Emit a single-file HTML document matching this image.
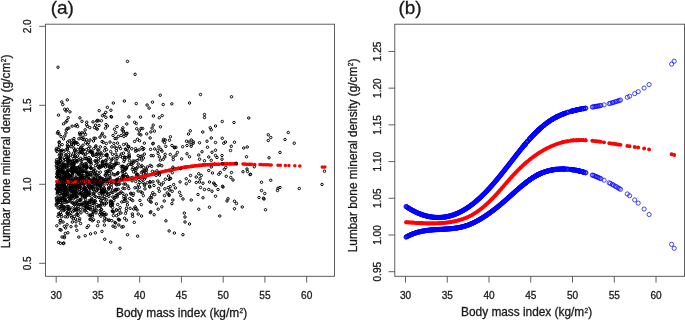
<!DOCTYPE html>
<html><head><meta charset="utf-8"><title>Figure</title>
<style>
html,body{margin:0;padding:0;background:#fff;}
body{width:685px;height:320px;position:relative;overflow:hidden;font-family:"Liberation Sans",sans-serif;}
</style></head><body>
<svg width="685" height="320" viewBox="0 0 685 320" style="position:absolute;left:0;top:0;will-change:transform;opacity:0.999">
<rect width="685" height="320" fill="#fff"/>
<clipPath id="ca"><rect x="45.5" y="24.2" width="289.0" height="252.10000000000002"/></clipPath>
<g clip-path="url(#ca)">
<path d="M55.66 151.48a1.22 1.22 0 1 0 2.44 0a1.22 1.22 0 1 0 -2.44 0M171.98 157.10a1.22 1.22 0 1 0 2.44 0a1.22 1.22 0 1 0 -2.44 0M76.55 184.86a1.22 1.22 0 1 0 2.44 0a1.22 1.22 0 1 0 -2.44 0M87.06 192.81a1.22 1.22 0 1 0 2.44 0a1.22 1.22 0 1 0 -2.44 0M63.06 173.18a1.22 1.22 0 1 0 2.44 0a1.22 1.22 0 1 0 -2.44 0M97.97 193.65a1.22 1.22 0 1 0 2.44 0a1.22 1.22 0 1 0 -2.44 0M85.06 171.98a1.22 1.22 0 1 0 2.44 0a1.22 1.22 0 1 0 -2.44 0M124.76 135.20a1.22 1.22 0 1 0 2.44 0a1.22 1.22 0 1 0 -2.44 0M107.02 181.51a1.22 1.22 0 1 0 2.44 0a1.22 1.22 0 1 0 -2.44 0M109.21 202.40a1.22 1.22 0 1 0 2.44 0a1.22 1.22 0 1 0 -2.44 0M83.88 210.14a1.22 1.22 0 1 0 2.44 0a1.22 1.22 0 1 0 -2.44 0M56.45 175.39a1.22 1.22 0 1 0 2.44 0a1.22 1.22 0 1 0 -2.44 0M94.99 154.35a1.22 1.22 0 1 0 2.44 0a1.22 1.22 0 1 0 -2.44 0M87.46 207.98a1.22 1.22 0 1 0 2.44 0a1.22 1.22 0 1 0 -2.44 0M120.58 201.94a1.22 1.22 0 1 0 2.44 0a1.22 1.22 0 1 0 -2.44 0M115.52 163.57a1.22 1.22 0 1 0 2.44 0a1.22 1.22 0 1 0 -2.44 0M95.09 197.06a1.22 1.22 0 1 0 2.44 0a1.22 1.22 0 1 0 -2.44 0M75.09 169.80a1.22 1.22 0 1 0 2.44 0a1.22 1.22 0 1 0 -2.44 0M59.27 160.16a1.22 1.22 0 1 0 2.44 0a1.22 1.22 0 1 0 -2.44 0M56.95 207.86a1.22 1.22 0 1 0 2.44 0a1.22 1.22 0 1 0 -2.44 0M124.34 198.42a1.22 1.22 0 1 0 2.44 0a1.22 1.22 0 1 0 -2.44 0M94.83 156.52a1.22 1.22 0 1 0 2.44 0a1.22 1.22 0 1 0 -2.44 0M135.48 128.77a1.22 1.22 0 1 0 2.44 0a1.22 1.22 0 1 0 -2.44 0M75.68 160.66a1.22 1.22 0 1 0 2.44 0a1.22 1.22 0 1 0 -2.44 0M58.70 188.20a1.22 1.22 0 1 0 2.44 0a1.22 1.22 0 1 0 -2.44 0M103.01 165.45a1.22 1.22 0 1 0 2.44 0a1.22 1.22 0 1 0 -2.44 0M136.97 155.60a1.22 1.22 0 1 0 2.44 0a1.22 1.22 0 1 0 -2.44 0M56.53 192.68a1.22 1.22 0 1 0 2.44 0a1.22 1.22 0 1 0 -2.44 0M77.58 237.08a1.22 1.22 0 1 0 2.44 0a1.22 1.22 0 1 0 -2.44 0M118.77 193.22a1.22 1.22 0 1 0 2.44 0a1.22 1.22 0 1 0 -2.44 0M123.14 101.00a1.22 1.22 0 1 0 2.44 0a1.22 1.22 0 1 0 -2.44 0M77.05 206.17a1.22 1.22 0 1 0 2.44 0a1.22 1.22 0 1 0 -2.44 0M63.66 173.40a1.22 1.22 0 1 0 2.44 0a1.22 1.22 0 1 0 -2.44 0M135.19 175.16a1.22 1.22 0 1 0 2.44 0a1.22 1.22 0 1 0 -2.44 0M125.22 133.47a1.22 1.22 0 1 0 2.44 0a1.22 1.22 0 1 0 -2.44 0M121.76 176.14a1.22 1.22 0 1 0 2.44 0a1.22 1.22 0 1 0 -2.44 0M69.91 215.55a1.22 1.22 0 1 0 2.44 0a1.22 1.22 0 1 0 -2.44 0M55.45 176.97a1.22 1.22 0 1 0 2.44 0a1.22 1.22 0 1 0 -2.44 0M74.11 177.98a1.22 1.22 0 1 0 2.44 0a1.22 1.22 0 1 0 -2.44 0M66.66 176.70a1.22 1.22 0 1 0 2.44 0a1.22 1.22 0 1 0 -2.44 0M60.26 208.50a1.22 1.22 0 1 0 2.44 0a1.22 1.22 0 1 0 -2.44 0M58.45 198.74a1.22 1.22 0 1 0 2.44 0a1.22 1.22 0 1 0 -2.44 0M64.02 186.68a1.22 1.22 0 1 0 2.44 0a1.22 1.22 0 1 0 -2.44 0M66.48 209.36a1.22 1.22 0 1 0 2.44 0a1.22 1.22 0 1 0 -2.44 0M113.54 164.00a1.22 1.22 0 1 0 2.44 0a1.22 1.22 0 1 0 -2.44 0M83.94 188.82a1.22 1.22 0 1 0 2.44 0a1.22 1.22 0 1 0 -2.44 0M59.00 160.15a1.22 1.22 0 1 0 2.44 0a1.22 1.22 0 1 0 -2.44 0M65.20 201.87a1.22 1.22 0 1 0 2.44 0a1.22 1.22 0 1 0 -2.44 0M71.19 161.17a1.22 1.22 0 1 0 2.44 0a1.22 1.22 0 1 0 -2.44 0M58.82 200.43a1.22 1.22 0 1 0 2.44 0a1.22 1.22 0 1 0 -2.44 0M70.54 144.33a1.22 1.22 0 1 0 2.44 0a1.22 1.22 0 1 0 -2.44 0M57.47 213.63a1.22 1.22 0 1 0 2.44 0a1.22 1.22 0 1 0 -2.44 0M74.71 194.77a1.22 1.22 0 1 0 2.44 0a1.22 1.22 0 1 0 -2.44 0M103.73 190.94a1.22 1.22 0 1 0 2.44 0a1.22 1.22 0 1 0 -2.44 0M152.95 214.72a1.22 1.22 0 1 0 2.44 0a1.22 1.22 0 1 0 -2.44 0M67.79 161.16a1.22 1.22 0 1 0 2.44 0a1.22 1.22 0 1 0 -2.44 0M107.19 194.39a1.22 1.22 0 1 0 2.44 0a1.22 1.22 0 1 0 -2.44 0M104.82 124.52a1.22 1.22 0 1 0 2.44 0a1.22 1.22 0 1 0 -2.44 0M94.66 182.54a1.22 1.22 0 1 0 2.44 0a1.22 1.22 0 1 0 -2.44 0M75.07 178.45a1.22 1.22 0 1 0 2.44 0a1.22 1.22 0 1 0 -2.44 0M113.27 129.22a1.22 1.22 0 1 0 2.44 0a1.22 1.22 0 1 0 -2.44 0M127.52 146.74a1.22 1.22 0 1 0 2.44 0a1.22 1.22 0 1 0 -2.44 0M100.39 209.55a1.22 1.22 0 1 0 2.44 0a1.22 1.22 0 1 0 -2.44 0M97.06 161.22a1.22 1.22 0 1 0 2.44 0a1.22 1.22 0 1 0 -2.44 0M140.65 160.09a1.22 1.22 0 1 0 2.44 0a1.22 1.22 0 1 0 -2.44 0M92.98 193.27a1.22 1.22 0 1 0 2.44 0a1.22 1.22 0 1 0 -2.44 0M136.21 139.23a1.22 1.22 0 1 0 2.44 0a1.22 1.22 0 1 0 -2.44 0M114.48 191.00a1.22 1.22 0 1 0 2.44 0a1.22 1.22 0 1 0 -2.44 0M62.54 172.66a1.22 1.22 0 1 0 2.44 0a1.22 1.22 0 1 0 -2.44 0M83.79 189.01a1.22 1.22 0 1 0 2.44 0a1.22 1.22 0 1 0 -2.44 0M107.67 171.55a1.22 1.22 0 1 0 2.44 0a1.22 1.22 0 1 0 -2.44 0M181.69 234.71a1.22 1.22 0 1 0 2.44 0a1.22 1.22 0 1 0 -2.44 0M67.13 179.01a1.22 1.22 0 1 0 2.44 0a1.22 1.22 0 1 0 -2.44 0M63.63 135.90a1.22 1.22 0 1 0 2.44 0a1.22 1.22 0 1 0 -2.44 0M82.59 194.17a1.22 1.22 0 1 0 2.44 0a1.22 1.22 0 1 0 -2.44 0M57.81 142.52a1.22 1.22 0 1 0 2.44 0a1.22 1.22 0 1 0 -2.44 0M64.42 227.95a1.22 1.22 0 1 0 2.44 0a1.22 1.22 0 1 0 -2.44 0M100.15 178.06a1.22 1.22 0 1 0 2.44 0a1.22 1.22 0 1 0 -2.44 0M106.26 165.70a1.22 1.22 0 1 0 2.44 0a1.22 1.22 0 1 0 -2.44 0M140.81 156.00a1.22 1.22 0 1 0 2.44 0a1.22 1.22 0 1 0 -2.44 0M65.16 167.29a1.22 1.22 0 1 0 2.44 0a1.22 1.22 0 1 0 -2.44 0M152.75 185.51a1.22 1.22 0 1 0 2.44 0a1.22 1.22 0 1 0 -2.44 0M68.19 183.67a1.22 1.22 0 1 0 2.44 0a1.22 1.22 0 1 0 -2.44 0M76.99 212.27a1.22 1.22 0 1 0 2.44 0a1.22 1.22 0 1 0 -2.44 0M62.41 165.79a1.22 1.22 0 1 0 2.44 0a1.22 1.22 0 1 0 -2.44 0M141.73 149.52a1.22 1.22 0 1 0 2.44 0a1.22 1.22 0 1 0 -2.44 0M94.36 177.97a1.22 1.22 0 1 0 2.44 0a1.22 1.22 0 1 0 -2.44 0M80.46 183.57a1.22 1.22 0 1 0 2.44 0a1.22 1.22 0 1 0 -2.44 0M84.28 178.34a1.22 1.22 0 1 0 2.44 0a1.22 1.22 0 1 0 -2.44 0M102.69 179.93a1.22 1.22 0 1 0 2.44 0a1.22 1.22 0 1 0 -2.44 0M56.39 187.06a1.22 1.22 0 1 0 2.44 0a1.22 1.22 0 1 0 -2.44 0M125.06 210.71a1.22 1.22 0 1 0 2.44 0a1.22 1.22 0 1 0 -2.44 0M81.59 139.30a1.22 1.22 0 1 0 2.44 0a1.22 1.22 0 1 0 -2.44 0M163.24 195.60a1.22 1.22 0 1 0 2.44 0a1.22 1.22 0 1 0 -2.44 0M90.23 180.65a1.22 1.22 0 1 0 2.44 0a1.22 1.22 0 1 0 -2.44 0M75.84 209.51a1.22 1.22 0 1 0 2.44 0a1.22 1.22 0 1 0 -2.44 0M97.55 183.14a1.22 1.22 0 1 0 2.44 0a1.22 1.22 0 1 0 -2.44 0M108.81 142.09a1.22 1.22 0 1 0 2.44 0a1.22 1.22 0 1 0 -2.44 0M62.14 190.30a1.22 1.22 0 1 0 2.44 0a1.22 1.22 0 1 0 -2.44 0M115.22 209.78a1.22 1.22 0 1 0 2.44 0a1.22 1.22 0 1 0 -2.44 0M70.73 193.73a1.22 1.22 0 1 0 2.44 0a1.22 1.22 0 1 0 -2.44 0M85.31 204.70a1.22 1.22 0 1 0 2.44 0a1.22 1.22 0 1 0 -2.44 0M121.63 127.84a1.22 1.22 0 1 0 2.44 0a1.22 1.22 0 1 0 -2.44 0M59.98 167.21a1.22 1.22 0 1 0 2.44 0a1.22 1.22 0 1 0 -2.44 0M69.33 178.54a1.22 1.22 0 1 0 2.44 0a1.22 1.22 0 1 0 -2.44 0M124.77 177.25a1.22 1.22 0 1 0 2.44 0a1.22 1.22 0 1 0 -2.44 0M88.57 127.59a1.22 1.22 0 1 0 2.44 0a1.22 1.22 0 1 0 -2.44 0M64.73 189.76a1.22 1.22 0 1 0 2.44 0a1.22 1.22 0 1 0 -2.44 0M71.31 172.57a1.22 1.22 0 1 0 2.44 0a1.22 1.22 0 1 0 -2.44 0M112.53 200.65a1.22 1.22 0 1 0 2.44 0a1.22 1.22 0 1 0 -2.44 0M56.21 133.16a1.22 1.22 0 1 0 2.44 0a1.22 1.22 0 1 0 -2.44 0M78.91 134.92a1.22 1.22 0 1 0 2.44 0a1.22 1.22 0 1 0 -2.44 0M87.24 142.61a1.22 1.22 0 1 0 2.44 0a1.22 1.22 0 1 0 -2.44 0M134.43 181.49a1.22 1.22 0 1 0 2.44 0a1.22 1.22 0 1 0 -2.44 0M101.27 115.62a1.22 1.22 0 1 0 2.44 0a1.22 1.22 0 1 0 -2.44 0M143.15 143.14a1.22 1.22 0 1 0 2.44 0a1.22 1.22 0 1 0 -2.44 0M84.84 167.80a1.22 1.22 0 1 0 2.44 0a1.22 1.22 0 1 0 -2.44 0M167.05 187.58a1.22 1.22 0 1 0 2.44 0a1.22 1.22 0 1 0 -2.44 0M71.36 160.99a1.22 1.22 0 1 0 2.44 0a1.22 1.22 0 1 0 -2.44 0M78.58 174.29a1.22 1.22 0 1 0 2.44 0a1.22 1.22 0 1 0 -2.44 0M96.12 129.16a1.22 1.22 0 1 0 2.44 0a1.22 1.22 0 1 0 -2.44 0M132.34 171.76a1.22 1.22 0 1 0 2.44 0a1.22 1.22 0 1 0 -2.44 0M60.88 172.38a1.22 1.22 0 1 0 2.44 0a1.22 1.22 0 1 0 -2.44 0M88.50 202.53a1.22 1.22 0 1 0 2.44 0a1.22 1.22 0 1 0 -2.44 0M89.44 160.59a1.22 1.22 0 1 0 2.44 0a1.22 1.22 0 1 0 -2.44 0M59.32 160.73a1.22 1.22 0 1 0 2.44 0a1.22 1.22 0 1 0 -2.44 0M65.16 197.44a1.22 1.22 0 1 0 2.44 0a1.22 1.22 0 1 0 -2.44 0M56.88 131.75a1.22 1.22 0 1 0 2.44 0a1.22 1.22 0 1 0 -2.44 0M132.30 193.47a1.22 1.22 0 1 0 2.44 0a1.22 1.22 0 1 0 -2.44 0M93.75 160.93a1.22 1.22 0 1 0 2.44 0a1.22 1.22 0 1 0 -2.44 0M67.03 209.04a1.22 1.22 0 1 0 2.44 0a1.22 1.22 0 1 0 -2.44 0M73.36 189.15a1.22 1.22 0 1 0 2.44 0a1.22 1.22 0 1 0 -2.44 0M143.13 179.20a1.22 1.22 0 1 0 2.44 0a1.22 1.22 0 1 0 -2.44 0M104.65 117.33a1.22 1.22 0 1 0 2.44 0a1.22 1.22 0 1 0 -2.44 0M92.27 189.52a1.22 1.22 0 1 0 2.44 0a1.22 1.22 0 1 0 -2.44 0M111.01 204.71a1.22 1.22 0 1 0 2.44 0a1.22 1.22 0 1 0 -2.44 0M96.75 166.61a1.22 1.22 0 1 0 2.44 0a1.22 1.22 0 1 0 -2.44 0M81.76 145.22a1.22 1.22 0 1 0 2.44 0a1.22 1.22 0 1 0 -2.44 0M62.63 179.14a1.22 1.22 0 1 0 2.44 0a1.22 1.22 0 1 0 -2.44 0M105.84 193.02a1.22 1.22 0 1 0 2.44 0a1.22 1.22 0 1 0 -2.44 0M111.13 210.92a1.22 1.22 0 1 0 2.44 0a1.22 1.22 0 1 0 -2.44 0M57.85 147.22a1.22 1.22 0 1 0 2.44 0a1.22 1.22 0 1 0 -2.44 0M73.99 185.43a1.22 1.22 0 1 0 2.44 0a1.22 1.22 0 1 0 -2.44 0M77.52 187.30a1.22 1.22 0 1 0 2.44 0a1.22 1.22 0 1 0 -2.44 0M141.08 192.79a1.22 1.22 0 1 0 2.44 0a1.22 1.22 0 1 0 -2.44 0M82.40 166.20a1.22 1.22 0 1 0 2.44 0a1.22 1.22 0 1 0 -2.44 0M132.45 209.03a1.22 1.22 0 1 0 2.44 0a1.22 1.22 0 1 0 -2.44 0M68.73 189.90a1.22 1.22 0 1 0 2.44 0a1.22 1.22 0 1 0 -2.44 0M74.51 179.95a1.22 1.22 0 1 0 2.44 0a1.22 1.22 0 1 0 -2.44 0M116.63 180.97a1.22 1.22 0 1 0 2.44 0a1.22 1.22 0 1 0 -2.44 0M71.02 174.06a1.22 1.22 0 1 0 2.44 0a1.22 1.22 0 1 0 -2.44 0M94.13 232.84a1.22 1.22 0 1 0 2.44 0a1.22 1.22 0 1 0 -2.44 0M74.27 142.53a1.22 1.22 0 1 0 2.44 0a1.22 1.22 0 1 0 -2.44 0M62.23 167.43a1.22 1.22 0 1 0 2.44 0a1.22 1.22 0 1 0 -2.44 0M80.19 151.49a1.22 1.22 0 1 0 2.44 0a1.22 1.22 0 1 0 -2.44 0M73.61 171.08a1.22 1.22 0 1 0 2.44 0a1.22 1.22 0 1 0 -2.44 0M83.13 139.68a1.22 1.22 0 1 0 2.44 0a1.22 1.22 0 1 0 -2.44 0M58.94 191.57a1.22 1.22 0 1 0 2.44 0a1.22 1.22 0 1 0 -2.44 0M103.89 175.09a1.22 1.22 0 1 0 2.44 0a1.22 1.22 0 1 0 -2.44 0M128.50 198.53a1.22 1.22 0 1 0 2.44 0a1.22 1.22 0 1 0 -2.44 0M63.02 199.09a1.22 1.22 0 1 0 2.44 0a1.22 1.22 0 1 0 -2.44 0M59.28 167.30a1.22 1.22 0 1 0 2.44 0a1.22 1.22 0 1 0 -2.44 0M120.90 172.05a1.22 1.22 0 1 0 2.44 0a1.22 1.22 0 1 0 -2.44 0M79.62 152.03a1.22 1.22 0 1 0 2.44 0a1.22 1.22 0 1 0 -2.44 0M63.80 164.88a1.22 1.22 0 1 0 2.44 0a1.22 1.22 0 1 0 -2.44 0M147.34 199.82a1.22 1.22 0 1 0 2.44 0a1.22 1.22 0 1 0 -2.44 0M87.87 202.14a1.22 1.22 0 1 0 2.44 0a1.22 1.22 0 1 0 -2.44 0M181.80 199.00a1.22 1.22 0 1 0 2.44 0a1.22 1.22 0 1 0 -2.44 0M114.52 183.35a1.22 1.22 0 1 0 2.44 0a1.22 1.22 0 1 0 -2.44 0M137.85 133.99a1.22 1.22 0 1 0 2.44 0a1.22 1.22 0 1 0 -2.44 0M135.02 123.53a1.22 1.22 0 1 0 2.44 0a1.22 1.22 0 1 0 -2.44 0M124.96 174.44a1.22 1.22 0 1 0 2.44 0a1.22 1.22 0 1 0 -2.44 0M107.12 157.96a1.22 1.22 0 1 0 2.44 0a1.22 1.22 0 1 0 -2.44 0M60.85 236.98a1.22 1.22 0 1 0 2.44 0a1.22 1.22 0 1 0 -2.44 0M62.92 195.43a1.22 1.22 0 1 0 2.44 0a1.22 1.22 0 1 0 -2.44 0M88.89 181.37a1.22 1.22 0 1 0 2.44 0a1.22 1.22 0 1 0 -2.44 0M138.16 187.20a1.22 1.22 0 1 0 2.44 0a1.22 1.22 0 1 0 -2.44 0M62.73 160.57a1.22 1.22 0 1 0 2.44 0a1.22 1.22 0 1 0 -2.44 0M59.38 189.97a1.22 1.22 0 1 0 2.44 0a1.22 1.22 0 1 0 -2.44 0M63.11 226.37a1.22 1.22 0 1 0 2.44 0a1.22 1.22 0 1 0 -2.44 0M143.73 188.87a1.22 1.22 0 1 0 2.44 0a1.22 1.22 0 1 0 -2.44 0M146.10 182.76a1.22 1.22 0 1 0 2.44 0a1.22 1.22 0 1 0 -2.44 0M116.87 194.03a1.22 1.22 0 1 0 2.44 0a1.22 1.22 0 1 0 -2.44 0M108.77 177.70a1.22 1.22 0 1 0 2.44 0a1.22 1.22 0 1 0 -2.44 0M115.20 150.74a1.22 1.22 0 1 0 2.44 0a1.22 1.22 0 1 0 -2.44 0M63.16 207.32a1.22 1.22 0 1 0 2.44 0a1.22 1.22 0 1 0 -2.44 0M126.35 234.69a1.22 1.22 0 1 0 2.44 0a1.22 1.22 0 1 0 -2.44 0M62.23 194.30a1.22 1.22 0 1 0 2.44 0a1.22 1.22 0 1 0 -2.44 0M91.77 177.03a1.22 1.22 0 1 0 2.44 0a1.22 1.22 0 1 0 -2.44 0M89.23 201.02a1.22 1.22 0 1 0 2.44 0a1.22 1.22 0 1 0 -2.44 0M117.62 225.01a1.22 1.22 0 1 0 2.44 0a1.22 1.22 0 1 0 -2.44 0M58.21 171.41a1.22 1.22 0 1 0 2.44 0a1.22 1.22 0 1 0 -2.44 0M88.47 161.48a1.22 1.22 0 1 0 2.44 0a1.22 1.22 0 1 0 -2.44 0M121.43 175.70a1.22 1.22 0 1 0 2.44 0a1.22 1.22 0 1 0 -2.44 0M72.53 168.70a1.22 1.22 0 1 0 2.44 0a1.22 1.22 0 1 0 -2.44 0M73.27 181.77a1.22 1.22 0 1 0 2.44 0a1.22 1.22 0 1 0 -2.44 0M115.16 184.09a1.22 1.22 0 1 0 2.44 0a1.22 1.22 0 1 0 -2.44 0M70.45 162.64a1.22 1.22 0 1 0 2.44 0a1.22 1.22 0 1 0 -2.44 0M72.41 189.25a1.22 1.22 0 1 0 2.44 0a1.22 1.22 0 1 0 -2.44 0M80.71 132.78a1.22 1.22 0 1 0 2.44 0a1.22 1.22 0 1 0 -2.44 0M55.98 194.08a1.22 1.22 0 1 0 2.44 0a1.22 1.22 0 1 0 -2.44 0M74.17 167.92a1.22 1.22 0 1 0 2.44 0a1.22 1.22 0 1 0 -2.44 0M73.28 184.67a1.22 1.22 0 1 0 2.44 0a1.22 1.22 0 1 0 -2.44 0M83.32 177.47a1.22 1.22 0 1 0 2.44 0a1.22 1.22 0 1 0 -2.44 0M107.51 220.44a1.22 1.22 0 1 0 2.44 0a1.22 1.22 0 1 0 -2.44 0M99.85 152.85a1.22 1.22 0 1 0 2.44 0a1.22 1.22 0 1 0 -2.44 0M56.46 173.67a1.22 1.22 0 1 0 2.44 0a1.22 1.22 0 1 0 -2.44 0M75.27 187.36a1.22 1.22 0 1 0 2.44 0a1.22 1.22 0 1 0 -2.44 0M73.11 193.25a1.22 1.22 0 1 0 2.44 0a1.22 1.22 0 1 0 -2.44 0M79.70 193.40a1.22 1.22 0 1 0 2.44 0a1.22 1.22 0 1 0 -2.44 0M78.76 193.17a1.22 1.22 0 1 0 2.44 0a1.22 1.22 0 1 0 -2.44 0M134.48 170.45a1.22 1.22 0 1 0 2.44 0a1.22 1.22 0 1 0 -2.44 0M85.77 182.14a1.22 1.22 0 1 0 2.44 0a1.22 1.22 0 1 0 -2.44 0M57.38 242.36a1.22 1.22 0 1 0 2.44 0a1.22 1.22 0 1 0 -2.44 0M86.47 172.07a1.22 1.22 0 1 0 2.44 0a1.22 1.22 0 1 0 -2.44 0M91.57 205.48a1.22 1.22 0 1 0 2.44 0a1.22 1.22 0 1 0 -2.44 0M108.90 163.70a1.22 1.22 0 1 0 2.44 0a1.22 1.22 0 1 0 -2.44 0M58.20 172.91a1.22 1.22 0 1 0 2.44 0a1.22 1.22 0 1 0 -2.44 0M161.98 141.09a1.22 1.22 0 1 0 2.44 0a1.22 1.22 0 1 0 -2.44 0M80.61 204.93a1.22 1.22 0 1 0 2.44 0a1.22 1.22 0 1 0 -2.44 0M69.15 176.33a1.22 1.22 0 1 0 2.44 0a1.22 1.22 0 1 0 -2.44 0M65.35 195.04a1.22 1.22 0 1 0 2.44 0a1.22 1.22 0 1 0 -2.44 0M61.53 198.55a1.22 1.22 0 1 0 2.44 0a1.22 1.22 0 1 0 -2.44 0M58.00 155.16a1.22 1.22 0 1 0 2.44 0a1.22 1.22 0 1 0 -2.44 0M110.36 117.02a1.22 1.22 0 1 0 2.44 0a1.22 1.22 0 1 0 -2.44 0M127.64 116.83a1.22 1.22 0 1 0 2.44 0a1.22 1.22 0 1 0 -2.44 0M78.20 181.73a1.22 1.22 0 1 0 2.44 0a1.22 1.22 0 1 0 -2.44 0M93.15 173.74a1.22 1.22 0 1 0 2.44 0a1.22 1.22 0 1 0 -2.44 0M108.76 193.41a1.22 1.22 0 1 0 2.44 0a1.22 1.22 0 1 0 -2.44 0M89.35 233.89a1.22 1.22 0 1 0 2.44 0a1.22 1.22 0 1 0 -2.44 0M113.10 165.47a1.22 1.22 0 1 0 2.44 0a1.22 1.22 0 1 0 -2.44 0M103.85 147.53a1.22 1.22 0 1 0 2.44 0a1.22 1.22 0 1 0 -2.44 0M80.97 159.76a1.22 1.22 0 1 0 2.44 0a1.22 1.22 0 1 0 -2.44 0M99.49 206.42a1.22 1.22 0 1 0 2.44 0a1.22 1.22 0 1 0 -2.44 0M101.21 133.43a1.22 1.22 0 1 0 2.44 0a1.22 1.22 0 1 0 -2.44 0M111.33 154.29a1.22 1.22 0 1 0 2.44 0a1.22 1.22 0 1 0 -2.44 0M114.19 189.48a1.22 1.22 0 1 0 2.44 0a1.22 1.22 0 1 0 -2.44 0M98.75 137.13a1.22 1.22 0 1 0 2.44 0a1.22 1.22 0 1 0 -2.44 0M56.33 190.62a1.22 1.22 0 1 0 2.44 0a1.22 1.22 0 1 0 -2.44 0M73.01 162.59a1.22 1.22 0 1 0 2.44 0a1.22 1.22 0 1 0 -2.44 0M86.03 192.34a1.22 1.22 0 1 0 2.44 0a1.22 1.22 0 1 0 -2.44 0M149.64 131.95a1.22 1.22 0 1 0 2.44 0a1.22 1.22 0 1 0 -2.44 0M70.75 168.07a1.22 1.22 0 1 0 2.44 0a1.22 1.22 0 1 0 -2.44 0M56.60 182.64a1.22 1.22 0 1 0 2.44 0a1.22 1.22 0 1 0 -2.44 0M59.84 150.65a1.22 1.22 0 1 0 2.44 0a1.22 1.22 0 1 0 -2.44 0M95.12 206.98a1.22 1.22 0 1 0 2.44 0a1.22 1.22 0 1 0 -2.44 0M90.11 180.05a1.22 1.22 0 1 0 2.44 0a1.22 1.22 0 1 0 -2.44 0M97.58 167.85a1.22 1.22 0 1 0 2.44 0a1.22 1.22 0 1 0 -2.44 0M144.84 169.14a1.22 1.22 0 1 0 2.44 0a1.22 1.22 0 1 0 -2.44 0M57.82 133.92a1.22 1.22 0 1 0 2.44 0a1.22 1.22 0 1 0 -2.44 0M94.23 165.64a1.22 1.22 0 1 0 2.44 0a1.22 1.22 0 1 0 -2.44 0M89.97 180.69a1.22 1.22 0 1 0 2.44 0a1.22 1.22 0 1 0 -2.44 0M113.79 138.52a1.22 1.22 0 1 0 2.44 0a1.22 1.22 0 1 0 -2.44 0M142.26 167.41a1.22 1.22 0 1 0 2.44 0a1.22 1.22 0 1 0 -2.44 0M156.96 209.19a1.22 1.22 0 1 0 2.44 0a1.22 1.22 0 1 0 -2.44 0M142.30 173.88a1.22 1.22 0 1 0 2.44 0a1.22 1.22 0 1 0 -2.44 0M124.30 213.41a1.22 1.22 0 1 0 2.44 0a1.22 1.22 0 1 0 -2.44 0M124.21 148.95a1.22 1.22 0 1 0 2.44 0a1.22 1.22 0 1 0 -2.44 0M66.29 160.66a1.22 1.22 0 1 0 2.44 0a1.22 1.22 0 1 0 -2.44 0M60.02 171.74a1.22 1.22 0 1 0 2.44 0a1.22 1.22 0 1 0 -2.44 0M125.86 133.38a1.22 1.22 0 1 0 2.44 0a1.22 1.22 0 1 0 -2.44 0M167.77 194.66a1.22 1.22 0 1 0 2.44 0a1.22 1.22 0 1 0 -2.44 0M117.28 214.18a1.22 1.22 0 1 0 2.44 0a1.22 1.22 0 1 0 -2.44 0M57.36 189.53a1.22 1.22 0 1 0 2.44 0a1.22 1.22 0 1 0 -2.44 0M150.00 202.13a1.22 1.22 0 1 0 2.44 0a1.22 1.22 0 1 0 -2.44 0M64.06 202.57a1.22 1.22 0 1 0 2.44 0a1.22 1.22 0 1 0 -2.44 0M103.42 218.33a1.22 1.22 0 1 0 2.44 0a1.22 1.22 0 1 0 -2.44 0M105.07 164.71a1.22 1.22 0 1 0 2.44 0a1.22 1.22 0 1 0 -2.44 0M87.69 161.66a1.22 1.22 0 1 0 2.44 0a1.22 1.22 0 1 0 -2.44 0M169.40 178.31a1.22 1.22 0 1 0 2.44 0a1.22 1.22 0 1 0 -2.44 0M157.35 188.36a1.22 1.22 0 1 0 2.44 0a1.22 1.22 0 1 0 -2.44 0M100.00 166.89a1.22 1.22 0 1 0 2.44 0a1.22 1.22 0 1 0 -2.44 0M97.19 206.40a1.22 1.22 0 1 0 2.44 0a1.22 1.22 0 1 0 -2.44 0M58.33 164.63a1.22 1.22 0 1 0 2.44 0a1.22 1.22 0 1 0 -2.44 0M103.86 214.79a1.22 1.22 0 1 0 2.44 0a1.22 1.22 0 1 0 -2.44 0M75.14 196.69a1.22 1.22 0 1 0 2.44 0a1.22 1.22 0 1 0 -2.44 0M113.41 182.75a1.22 1.22 0 1 0 2.44 0a1.22 1.22 0 1 0 -2.44 0M61.53 175.73a1.22 1.22 0 1 0 2.44 0a1.22 1.22 0 1 0 -2.44 0M61.50 171.86a1.22 1.22 0 1 0 2.44 0a1.22 1.22 0 1 0 -2.44 0M72.85 190.78a1.22 1.22 0 1 0 2.44 0a1.22 1.22 0 1 0 -2.44 0M72.10 202.32a1.22 1.22 0 1 0 2.44 0a1.22 1.22 0 1 0 -2.44 0M60.24 155.39a1.22 1.22 0 1 0 2.44 0a1.22 1.22 0 1 0 -2.44 0M92.08 187.95a1.22 1.22 0 1 0 2.44 0a1.22 1.22 0 1 0 -2.44 0M63.85 199.41a1.22 1.22 0 1 0 2.44 0a1.22 1.22 0 1 0 -2.44 0M80.74 163.67a1.22 1.22 0 1 0 2.44 0a1.22 1.22 0 1 0 -2.44 0M95.14 128.49a1.22 1.22 0 1 0 2.44 0a1.22 1.22 0 1 0 -2.44 0M70.96 171.51a1.22 1.22 0 1 0 2.44 0a1.22 1.22 0 1 0 -2.44 0M72.81 158.47a1.22 1.22 0 1 0 2.44 0a1.22 1.22 0 1 0 -2.44 0M75.82 214.71a1.22 1.22 0 1 0 2.44 0a1.22 1.22 0 1 0 -2.44 0M92.60 203.07a1.22 1.22 0 1 0 2.44 0a1.22 1.22 0 1 0 -2.44 0M59.91 171.15a1.22 1.22 0 1 0 2.44 0a1.22 1.22 0 1 0 -2.44 0M103.50 239.23a1.22 1.22 0 1 0 2.44 0a1.22 1.22 0 1 0 -2.44 0M76.61 204.25a1.22 1.22 0 1 0 2.44 0a1.22 1.22 0 1 0 -2.44 0M158.53 164.84a1.22 1.22 0 1 0 2.44 0a1.22 1.22 0 1 0 -2.44 0M155.16 203.86a1.22 1.22 0 1 0 2.44 0a1.22 1.22 0 1 0 -2.44 0M70.06 169.77a1.22 1.22 0 1 0 2.44 0a1.22 1.22 0 1 0 -2.44 0M99.82 192.82a1.22 1.22 0 1 0 2.44 0a1.22 1.22 0 1 0 -2.44 0M139.68 166.65a1.22 1.22 0 1 0 2.44 0a1.22 1.22 0 1 0 -2.44 0M76.24 172.11a1.22 1.22 0 1 0 2.44 0a1.22 1.22 0 1 0 -2.44 0M67.61 128.17a1.22 1.22 0 1 0 2.44 0a1.22 1.22 0 1 0 -2.44 0M78.39 187.73a1.22 1.22 0 1 0 2.44 0a1.22 1.22 0 1 0 -2.44 0M122.58 196.47a1.22 1.22 0 1 0 2.44 0a1.22 1.22 0 1 0 -2.44 0M61.60 163.88a1.22 1.22 0 1 0 2.44 0a1.22 1.22 0 1 0 -2.44 0M66.37 142.15a1.22 1.22 0 1 0 2.44 0a1.22 1.22 0 1 0 -2.44 0M92.46 172.00a1.22 1.22 0 1 0 2.44 0a1.22 1.22 0 1 0 -2.44 0M127.14 156.68a1.22 1.22 0 1 0 2.44 0a1.22 1.22 0 1 0 -2.44 0M88.03 206.47a1.22 1.22 0 1 0 2.44 0a1.22 1.22 0 1 0 -2.44 0M149.12 212.65a1.22 1.22 0 1 0 2.44 0a1.22 1.22 0 1 0 -2.44 0M83.87 190.25a1.22 1.22 0 1 0 2.44 0a1.22 1.22 0 1 0 -2.44 0M91.23 216.28a1.22 1.22 0 1 0 2.44 0a1.22 1.22 0 1 0 -2.44 0M60.31 154.35a1.22 1.22 0 1 0 2.44 0a1.22 1.22 0 1 0 -2.44 0M71.02 164.11a1.22 1.22 0 1 0 2.44 0a1.22 1.22 0 1 0 -2.44 0M89.32 209.50a1.22 1.22 0 1 0 2.44 0a1.22 1.22 0 1 0 -2.44 0M56.09 171.81a1.22 1.22 0 1 0 2.44 0a1.22 1.22 0 1 0 -2.44 0M59.16 157.47a1.22 1.22 0 1 0 2.44 0a1.22 1.22 0 1 0 -2.44 0M89.78 215.11a1.22 1.22 0 1 0 2.44 0a1.22 1.22 0 1 0 -2.44 0M64.37 176.18a1.22 1.22 0 1 0 2.44 0a1.22 1.22 0 1 0 -2.44 0M68.99 175.65a1.22 1.22 0 1 0 2.44 0a1.22 1.22 0 1 0 -2.44 0M101.24 161.65a1.22 1.22 0 1 0 2.44 0a1.22 1.22 0 1 0 -2.44 0M58.22 175.26a1.22 1.22 0 1 0 2.44 0a1.22 1.22 0 1 0 -2.44 0M98.94 179.35a1.22 1.22 0 1 0 2.44 0a1.22 1.22 0 1 0 -2.44 0M92.45 170.93a1.22 1.22 0 1 0 2.44 0a1.22 1.22 0 1 0 -2.44 0M100.66 203.71a1.22 1.22 0 1 0 2.44 0a1.22 1.22 0 1 0 -2.44 0M60.52 185.05a1.22 1.22 0 1 0 2.44 0a1.22 1.22 0 1 0 -2.44 0M74.12 195.30a1.22 1.22 0 1 0 2.44 0a1.22 1.22 0 1 0 -2.44 0M91.18 186.58a1.22 1.22 0 1 0 2.44 0a1.22 1.22 0 1 0 -2.44 0M82.37 184.40a1.22 1.22 0 1 0 2.44 0a1.22 1.22 0 1 0 -2.44 0M56.67 191.54a1.22 1.22 0 1 0 2.44 0a1.22 1.22 0 1 0 -2.44 0M59.97 214.62a1.22 1.22 0 1 0 2.44 0a1.22 1.22 0 1 0 -2.44 0M125.12 195.11a1.22 1.22 0 1 0 2.44 0a1.22 1.22 0 1 0 -2.44 0M160.11 184.95a1.22 1.22 0 1 0 2.44 0a1.22 1.22 0 1 0 -2.44 0M136.44 236.18a1.22 1.22 0 1 0 2.44 0a1.22 1.22 0 1 0 -2.44 0M71.80 181.70a1.22 1.22 0 1 0 2.44 0a1.22 1.22 0 1 0 -2.44 0M81.69 171.08a1.22 1.22 0 1 0 2.44 0a1.22 1.22 0 1 0 -2.44 0M85.64 186.79a1.22 1.22 0 1 0 2.44 0a1.22 1.22 0 1 0 -2.44 0M78.84 187.21a1.22 1.22 0 1 0 2.44 0a1.22 1.22 0 1 0 -2.44 0M65.07 130.04a1.22 1.22 0 1 0 2.44 0a1.22 1.22 0 1 0 -2.44 0M119.98 166.42a1.22 1.22 0 1 0 2.44 0a1.22 1.22 0 1 0 -2.44 0M89.72 168.22a1.22 1.22 0 1 0 2.44 0a1.22 1.22 0 1 0 -2.44 0M61.81 179.03a1.22 1.22 0 1 0 2.44 0a1.22 1.22 0 1 0 -2.44 0M57.45 188.09a1.22 1.22 0 1 0 2.44 0a1.22 1.22 0 1 0 -2.44 0M91.11 214.69a1.22 1.22 0 1 0 2.44 0a1.22 1.22 0 1 0 -2.44 0M77.60 160.03a1.22 1.22 0 1 0 2.44 0a1.22 1.22 0 1 0 -2.44 0M67.14 179.30a1.22 1.22 0 1 0 2.44 0a1.22 1.22 0 1 0 -2.44 0M91.48 152.19a1.22 1.22 0 1 0 2.44 0a1.22 1.22 0 1 0 -2.44 0M97.98 205.40a1.22 1.22 0 1 0 2.44 0a1.22 1.22 0 1 0 -2.44 0M130.11 199.62a1.22 1.22 0 1 0 2.44 0a1.22 1.22 0 1 0 -2.44 0M135.85 160.62a1.22 1.22 0 1 0 2.44 0a1.22 1.22 0 1 0 -2.44 0M77.56 208.67a1.22 1.22 0 1 0 2.44 0a1.22 1.22 0 1 0 -2.44 0M59.41 180.32a1.22 1.22 0 1 0 2.44 0a1.22 1.22 0 1 0 -2.44 0M163.58 188.80a1.22 1.22 0 1 0 2.44 0a1.22 1.22 0 1 0 -2.44 0M79.91 179.37a1.22 1.22 0 1 0 2.44 0a1.22 1.22 0 1 0 -2.44 0M115.53 181.04a1.22 1.22 0 1 0 2.44 0a1.22 1.22 0 1 0 -2.44 0M112.44 212.10a1.22 1.22 0 1 0 2.44 0a1.22 1.22 0 1 0 -2.44 0M99.89 179.02a1.22 1.22 0 1 0 2.44 0a1.22 1.22 0 1 0 -2.44 0M79.14 209.56a1.22 1.22 0 1 0 2.44 0a1.22 1.22 0 1 0 -2.44 0M142.64 148.48a1.22 1.22 0 1 0 2.44 0a1.22 1.22 0 1 0 -2.44 0M122.39 166.55a1.22 1.22 0 1 0 2.44 0a1.22 1.22 0 1 0 -2.44 0M55.69 185.74a1.22 1.22 0 1 0 2.44 0a1.22 1.22 0 1 0 -2.44 0M118.43 177.74a1.22 1.22 0 1 0 2.44 0a1.22 1.22 0 1 0 -2.44 0M66.25 175.92a1.22 1.22 0 1 0 2.44 0a1.22 1.22 0 1 0 -2.44 0M59.72 158.28a1.22 1.22 0 1 0 2.44 0a1.22 1.22 0 1 0 -2.44 0M70.40 195.17a1.22 1.22 0 1 0 2.44 0a1.22 1.22 0 1 0 -2.44 0M84.65 204.90a1.22 1.22 0 1 0 2.44 0a1.22 1.22 0 1 0 -2.44 0M115.13 138.57a1.22 1.22 0 1 0 2.44 0a1.22 1.22 0 1 0 -2.44 0M143.47 184.29a1.22 1.22 0 1 0 2.44 0a1.22 1.22 0 1 0 -2.44 0M78.24 189.67a1.22 1.22 0 1 0 2.44 0a1.22 1.22 0 1 0 -2.44 0M141.48 128.56a1.22 1.22 0 1 0 2.44 0a1.22 1.22 0 1 0 -2.44 0M103.47 196.43a1.22 1.22 0 1 0 2.44 0a1.22 1.22 0 1 0 -2.44 0M84.46 142.70a1.22 1.22 0 1 0 2.44 0a1.22 1.22 0 1 0 -2.44 0M75.63 142.56a1.22 1.22 0 1 0 2.44 0a1.22 1.22 0 1 0 -2.44 0M100.63 190.80a1.22 1.22 0 1 0 2.44 0a1.22 1.22 0 1 0 -2.44 0M73.52 149.88a1.22 1.22 0 1 0 2.44 0a1.22 1.22 0 1 0 -2.44 0M75.82 161.95a1.22 1.22 0 1 0 2.44 0a1.22 1.22 0 1 0 -2.44 0M102.89 185.18a1.22 1.22 0 1 0 2.44 0a1.22 1.22 0 1 0 -2.44 0M162.02 159.21a1.22 1.22 0 1 0 2.44 0a1.22 1.22 0 1 0 -2.44 0M104.54 112.35a1.22 1.22 0 1 0 2.44 0a1.22 1.22 0 1 0 -2.44 0M81.09 175.41a1.22 1.22 0 1 0 2.44 0a1.22 1.22 0 1 0 -2.44 0M74.73 193.01a1.22 1.22 0 1 0 2.44 0a1.22 1.22 0 1 0 -2.44 0M78.00 220.32a1.22 1.22 0 1 0 2.44 0a1.22 1.22 0 1 0 -2.44 0M181.44 146.69a1.22 1.22 0 1 0 2.44 0a1.22 1.22 0 1 0 -2.44 0M136.91 190.99a1.22 1.22 0 1 0 2.44 0a1.22 1.22 0 1 0 -2.44 0M89.93 172.57a1.22 1.22 0 1 0 2.44 0a1.22 1.22 0 1 0 -2.44 0M55.12 204.10a1.22 1.22 0 1 0 2.44 0a1.22 1.22 0 1 0 -2.44 0M63.52 189.83a1.22 1.22 0 1 0 2.44 0a1.22 1.22 0 1 0 -2.44 0M75.84 187.81a1.22 1.22 0 1 0 2.44 0a1.22 1.22 0 1 0 -2.44 0M92.24 141.00a1.22 1.22 0 1 0 2.44 0a1.22 1.22 0 1 0 -2.44 0M78.68 117.84a1.22 1.22 0 1 0 2.44 0a1.22 1.22 0 1 0 -2.44 0M87.89 179.09a1.22 1.22 0 1 0 2.44 0a1.22 1.22 0 1 0 -2.44 0M91.77 211.61a1.22 1.22 0 1 0 2.44 0a1.22 1.22 0 1 0 -2.44 0M122.31 178.36a1.22 1.22 0 1 0 2.44 0a1.22 1.22 0 1 0 -2.44 0M64.42 174.91a1.22 1.22 0 1 0 2.44 0a1.22 1.22 0 1 0 -2.44 0M59.79 136.53a1.22 1.22 0 1 0 2.44 0a1.22 1.22 0 1 0 -2.44 0M78.43 194.04a1.22 1.22 0 1 0 2.44 0a1.22 1.22 0 1 0 -2.44 0M116.41 173.33a1.22 1.22 0 1 0 2.44 0a1.22 1.22 0 1 0 -2.44 0M66.53 174.22a1.22 1.22 0 1 0 2.44 0a1.22 1.22 0 1 0 -2.44 0M79.98 160.59a1.22 1.22 0 1 0 2.44 0a1.22 1.22 0 1 0 -2.44 0M148.71 181.59a1.22 1.22 0 1 0 2.44 0a1.22 1.22 0 1 0 -2.44 0M135.04 103.58a1.22 1.22 0 1 0 2.44 0a1.22 1.22 0 1 0 -2.44 0M81.25 183.05a1.22 1.22 0 1 0 2.44 0a1.22 1.22 0 1 0 -2.44 0M133.87 169.01a1.22 1.22 0 1 0 2.44 0a1.22 1.22 0 1 0 -2.44 0M63.25 168.06a1.22 1.22 0 1 0 2.44 0a1.22 1.22 0 1 0 -2.44 0M126.62 186.01a1.22 1.22 0 1 0 2.44 0a1.22 1.22 0 1 0 -2.44 0M115.88 195.20a1.22 1.22 0 1 0 2.44 0a1.22 1.22 0 1 0 -2.44 0M66.85 159.85a1.22 1.22 0 1 0 2.44 0a1.22 1.22 0 1 0 -2.44 0M79.25 149.75a1.22 1.22 0 1 0 2.44 0a1.22 1.22 0 1 0 -2.44 0M62.36 206.41a1.22 1.22 0 1 0 2.44 0a1.22 1.22 0 1 0 -2.44 0M91.78 121.90a1.22 1.22 0 1 0 2.44 0a1.22 1.22 0 1 0 -2.44 0M85.57 202.53a1.22 1.22 0 1 0 2.44 0a1.22 1.22 0 1 0 -2.44 0M108.15 220.14a1.22 1.22 0 1 0 2.44 0a1.22 1.22 0 1 0 -2.44 0M62.51 182.59a1.22 1.22 0 1 0 2.44 0a1.22 1.22 0 1 0 -2.44 0M66.03 171.37a1.22 1.22 0 1 0 2.44 0a1.22 1.22 0 1 0 -2.44 0M96.11 120.38a1.22 1.22 0 1 0 2.44 0a1.22 1.22 0 1 0 -2.44 0M133.70 187.73a1.22 1.22 0 1 0 2.44 0a1.22 1.22 0 1 0 -2.44 0M153.15 172.33a1.22 1.22 0 1 0 2.44 0a1.22 1.22 0 1 0 -2.44 0M64.08 199.88a1.22 1.22 0 1 0 2.44 0a1.22 1.22 0 1 0 -2.44 0M58.94 164.57a1.22 1.22 0 1 0 2.44 0a1.22 1.22 0 1 0 -2.44 0M78.77 184.61a1.22 1.22 0 1 0 2.44 0a1.22 1.22 0 1 0 -2.44 0M130.38 162.83a1.22 1.22 0 1 0 2.44 0a1.22 1.22 0 1 0 -2.44 0M61.05 172.45a1.22 1.22 0 1 0 2.44 0a1.22 1.22 0 1 0 -2.44 0M93.19 127.47a1.22 1.22 0 1 0 2.44 0a1.22 1.22 0 1 0 -2.44 0M57.18 178.25a1.22 1.22 0 1 0 2.44 0a1.22 1.22 0 1 0 -2.44 0M60.55 101.91a1.22 1.22 0 1 0 2.44 0a1.22 1.22 0 1 0 -2.44 0M131.52 200.61a1.22 1.22 0 1 0 2.44 0a1.22 1.22 0 1 0 -2.44 0M78.54 169.52a1.22 1.22 0 1 0 2.44 0a1.22 1.22 0 1 0 -2.44 0M66.65 232.75a1.22 1.22 0 1 0 2.44 0a1.22 1.22 0 1 0 -2.44 0M131.88 160.98a1.22 1.22 0 1 0 2.44 0a1.22 1.22 0 1 0 -2.44 0M71.29 156.35a1.22 1.22 0 1 0 2.44 0a1.22 1.22 0 1 0 -2.44 0M69.62 169.94a1.22 1.22 0 1 0 2.44 0a1.22 1.22 0 1 0 -2.44 0M86.42 152.37a1.22 1.22 0 1 0 2.44 0a1.22 1.22 0 1 0 -2.44 0M105.28 203.17a1.22 1.22 0 1 0 2.44 0a1.22 1.22 0 1 0 -2.44 0M72.56 148.22a1.22 1.22 0 1 0 2.44 0a1.22 1.22 0 1 0 -2.44 0M91.71 155.42a1.22 1.22 0 1 0 2.44 0a1.22 1.22 0 1 0 -2.44 0M62.99 196.47a1.22 1.22 0 1 0 2.44 0a1.22 1.22 0 1 0 -2.44 0M103.59 199.12a1.22 1.22 0 1 0 2.44 0a1.22 1.22 0 1 0 -2.44 0M127.84 153.87a1.22 1.22 0 1 0 2.44 0a1.22 1.22 0 1 0 -2.44 0M92.35 219.82a1.22 1.22 0 1 0 2.44 0a1.22 1.22 0 1 0 -2.44 0M67.78 180.16a1.22 1.22 0 1 0 2.44 0a1.22 1.22 0 1 0 -2.44 0M91.22 182.49a1.22 1.22 0 1 0 2.44 0a1.22 1.22 0 1 0 -2.44 0M91.03 220.73a1.22 1.22 0 1 0 2.44 0a1.22 1.22 0 1 0 -2.44 0M94.46 174.47a1.22 1.22 0 1 0 2.44 0a1.22 1.22 0 1 0 -2.44 0M60.41 216.67a1.22 1.22 0 1 0 2.44 0a1.22 1.22 0 1 0 -2.44 0M66.10 109.29a1.22 1.22 0 1 0 2.44 0a1.22 1.22 0 1 0 -2.44 0M109.80 116.63a1.22 1.22 0 1 0 2.44 0a1.22 1.22 0 1 0 -2.44 0M88.48 182.44a1.22 1.22 0 1 0 2.44 0a1.22 1.22 0 1 0 -2.44 0M78.92 171.34a1.22 1.22 0 1 0 2.44 0a1.22 1.22 0 1 0 -2.44 0M110.43 164.36a1.22 1.22 0 1 0 2.44 0a1.22 1.22 0 1 0 -2.44 0M65.85 175.32a1.22 1.22 0 1 0 2.44 0a1.22 1.22 0 1 0 -2.44 0M56.15 174.71a1.22 1.22 0 1 0 2.44 0a1.22 1.22 0 1 0 -2.44 0M78.25 133.00a1.22 1.22 0 1 0 2.44 0a1.22 1.22 0 1 0 -2.44 0M125.54 124.02a1.22 1.22 0 1 0 2.44 0a1.22 1.22 0 1 0 -2.44 0M58.77 229.64a1.22 1.22 0 1 0 2.44 0a1.22 1.22 0 1 0 -2.44 0M87.68 179.78a1.22 1.22 0 1 0 2.44 0a1.22 1.22 0 1 0 -2.44 0M58.80 178.51a1.22 1.22 0 1 0 2.44 0a1.22 1.22 0 1 0 -2.44 0M150.83 128.12a1.22 1.22 0 1 0 2.44 0a1.22 1.22 0 1 0 -2.44 0M100.37 188.90a1.22 1.22 0 1 0 2.44 0a1.22 1.22 0 1 0 -2.44 0M70.17 171.25a1.22 1.22 0 1 0 2.44 0a1.22 1.22 0 1 0 -2.44 0M171.61 200.02a1.22 1.22 0 1 0 2.44 0a1.22 1.22 0 1 0 -2.44 0M78.88 186.05a1.22 1.22 0 1 0 2.44 0a1.22 1.22 0 1 0 -2.44 0M84.87 206.29a1.22 1.22 0 1 0 2.44 0a1.22 1.22 0 1 0 -2.44 0M78.12 189.39a1.22 1.22 0 1 0 2.44 0a1.22 1.22 0 1 0 -2.44 0M135.31 168.34a1.22 1.22 0 1 0 2.44 0a1.22 1.22 0 1 0 -2.44 0M79.23 133.89a1.22 1.22 0 1 0 2.44 0a1.22 1.22 0 1 0 -2.44 0M62.95 210.06a1.22 1.22 0 1 0 2.44 0a1.22 1.22 0 1 0 -2.44 0M106.35 171.06a1.22 1.22 0 1 0 2.44 0a1.22 1.22 0 1 0 -2.44 0M64.72 173.05a1.22 1.22 0 1 0 2.44 0a1.22 1.22 0 1 0 -2.44 0M56.96 168.22a1.22 1.22 0 1 0 2.44 0a1.22 1.22 0 1 0 -2.44 0M121.62 171.23a1.22 1.22 0 1 0 2.44 0a1.22 1.22 0 1 0 -2.44 0M100.24 120.77a1.22 1.22 0 1 0 2.44 0a1.22 1.22 0 1 0 -2.44 0M110.03 160.44a1.22 1.22 0 1 0 2.44 0a1.22 1.22 0 1 0 -2.44 0M150.44 197.83a1.22 1.22 0 1 0 2.44 0a1.22 1.22 0 1 0 -2.44 0M172.04 159.65a1.22 1.22 0 1 0 2.44 0a1.22 1.22 0 1 0 -2.44 0M71.26 161.84a1.22 1.22 0 1 0 2.44 0a1.22 1.22 0 1 0 -2.44 0M92.44 185.15a1.22 1.22 0 1 0 2.44 0a1.22 1.22 0 1 0 -2.44 0M80.52 173.57a1.22 1.22 0 1 0 2.44 0a1.22 1.22 0 1 0 -2.44 0M131.90 163.10a1.22 1.22 0 1 0 2.44 0a1.22 1.22 0 1 0 -2.44 0M61.72 169.99a1.22 1.22 0 1 0 2.44 0a1.22 1.22 0 1 0 -2.44 0M134.33 151.26a1.22 1.22 0 1 0 2.44 0a1.22 1.22 0 1 0 -2.44 0M75.74 158.53a1.22 1.22 0 1 0 2.44 0a1.22 1.22 0 1 0 -2.44 0M55.18 198.77a1.22 1.22 0 1 0 2.44 0a1.22 1.22 0 1 0 -2.44 0M98.22 167.97a1.22 1.22 0 1 0 2.44 0a1.22 1.22 0 1 0 -2.44 0M108.21 167.26a1.22 1.22 0 1 0 2.44 0a1.22 1.22 0 1 0 -2.44 0M95.24 191.07a1.22 1.22 0 1 0 2.44 0a1.22 1.22 0 1 0 -2.44 0M114.61 154.24a1.22 1.22 0 1 0 2.44 0a1.22 1.22 0 1 0 -2.44 0M56.80 185.24a1.22 1.22 0 1 0 2.44 0a1.22 1.22 0 1 0 -2.44 0M60.34 186.43a1.22 1.22 0 1 0 2.44 0a1.22 1.22 0 1 0 -2.44 0M81.88 183.65a1.22 1.22 0 1 0 2.44 0a1.22 1.22 0 1 0 -2.44 0M76.24 196.73a1.22 1.22 0 1 0 2.44 0a1.22 1.22 0 1 0 -2.44 0M71.83 185.66a1.22 1.22 0 1 0 2.44 0a1.22 1.22 0 1 0 -2.44 0M133.76 161.16a1.22 1.22 0 1 0 2.44 0a1.22 1.22 0 1 0 -2.44 0M69.68 201.97a1.22 1.22 0 1 0 2.44 0a1.22 1.22 0 1 0 -2.44 0M113.73 147.04a1.22 1.22 0 1 0 2.44 0a1.22 1.22 0 1 0 -2.44 0M122.62 136.42a1.22 1.22 0 1 0 2.44 0a1.22 1.22 0 1 0 -2.44 0M96.89 181.99a1.22 1.22 0 1 0 2.44 0a1.22 1.22 0 1 0 -2.44 0M60.24 188.82a1.22 1.22 0 1 0 2.44 0a1.22 1.22 0 1 0 -2.44 0M86.01 207.32a1.22 1.22 0 1 0 2.44 0a1.22 1.22 0 1 0 -2.44 0M75.66 174.94a1.22 1.22 0 1 0 2.44 0a1.22 1.22 0 1 0 -2.44 0M101.58 161.27a1.22 1.22 0 1 0 2.44 0a1.22 1.22 0 1 0 -2.44 0M85.64 158.51a1.22 1.22 0 1 0 2.44 0a1.22 1.22 0 1 0 -2.44 0M114.42 222.99a1.22 1.22 0 1 0 2.44 0a1.22 1.22 0 1 0 -2.44 0M57.33 163.07a1.22 1.22 0 1 0 2.44 0a1.22 1.22 0 1 0 -2.44 0M109.41 205.30a1.22 1.22 0 1 0 2.44 0a1.22 1.22 0 1 0 -2.44 0M71.04 190.13a1.22 1.22 0 1 0 2.44 0a1.22 1.22 0 1 0 -2.44 0M81.10 178.56a1.22 1.22 0 1 0 2.44 0a1.22 1.22 0 1 0 -2.44 0M80.59 178.13a1.22 1.22 0 1 0 2.44 0a1.22 1.22 0 1 0 -2.44 0M105.32 149.65a1.22 1.22 0 1 0 2.44 0a1.22 1.22 0 1 0 -2.44 0M57.60 199.31a1.22 1.22 0 1 0 2.44 0a1.22 1.22 0 1 0 -2.44 0M161.99 104.56a1.22 1.22 0 1 0 2.44 0a1.22 1.22 0 1 0 -2.44 0M173.19 233.08a1.22 1.22 0 1 0 2.44 0a1.22 1.22 0 1 0 -2.44 0M115.21 210.31a1.22 1.22 0 1 0 2.44 0a1.22 1.22 0 1 0 -2.44 0M75.20 180.09a1.22 1.22 0 1 0 2.44 0a1.22 1.22 0 1 0 -2.44 0M75.24 183.49a1.22 1.22 0 1 0 2.44 0a1.22 1.22 0 1 0 -2.44 0M140.93 179.24a1.22 1.22 0 1 0 2.44 0a1.22 1.22 0 1 0 -2.44 0M148.68 187.04a1.22 1.22 0 1 0 2.44 0a1.22 1.22 0 1 0 -2.44 0M83.36 168.32a1.22 1.22 0 1 0 2.44 0a1.22 1.22 0 1 0 -2.44 0M89.49 174.46a1.22 1.22 0 1 0 2.44 0a1.22 1.22 0 1 0 -2.44 0M93.99 181.72a1.22 1.22 0 1 0 2.44 0a1.22 1.22 0 1 0 -2.44 0M109.51 242.16a1.22 1.22 0 1 0 2.44 0a1.22 1.22 0 1 0 -2.44 0M72.98 169.86a1.22 1.22 0 1 0 2.44 0a1.22 1.22 0 1 0 -2.44 0M60.58 205.80a1.22 1.22 0 1 0 2.44 0a1.22 1.22 0 1 0 -2.44 0M121.40 166.12a1.22 1.22 0 1 0 2.44 0a1.22 1.22 0 1 0 -2.44 0M103.50 136.87a1.22 1.22 0 1 0 2.44 0a1.22 1.22 0 1 0 -2.44 0M55.09 188.74a1.22 1.22 0 1 0 2.44 0a1.22 1.22 0 1 0 -2.44 0M82.40 182.29a1.22 1.22 0 1 0 2.44 0a1.22 1.22 0 1 0 -2.44 0M60.82 198.25a1.22 1.22 0 1 0 2.44 0a1.22 1.22 0 1 0 -2.44 0M68.42 187.31a1.22 1.22 0 1 0 2.44 0a1.22 1.22 0 1 0 -2.44 0M56.84 184.34a1.22 1.22 0 1 0 2.44 0a1.22 1.22 0 1 0 -2.44 0M183.14 213.11a1.22 1.22 0 1 0 2.44 0a1.22 1.22 0 1 0 -2.44 0M63.21 237.70a1.22 1.22 0 1 0 2.44 0a1.22 1.22 0 1 0 -2.44 0M65.82 120.59a1.22 1.22 0 1 0 2.44 0a1.22 1.22 0 1 0 -2.44 0M60.55 162.95a1.22 1.22 0 1 0 2.44 0a1.22 1.22 0 1 0 -2.44 0M68.54 196.54a1.22 1.22 0 1 0 2.44 0a1.22 1.22 0 1 0 -2.44 0M67.74 213.84a1.22 1.22 0 1 0 2.44 0a1.22 1.22 0 1 0 -2.44 0M72.58 195.77a1.22 1.22 0 1 0 2.44 0a1.22 1.22 0 1 0 -2.44 0M145.33 170.29a1.22 1.22 0 1 0 2.44 0a1.22 1.22 0 1 0 -2.44 0M65.95 157.89a1.22 1.22 0 1 0 2.44 0a1.22 1.22 0 1 0 -2.44 0M66.56 181.87a1.22 1.22 0 1 0 2.44 0a1.22 1.22 0 1 0 -2.44 0M153.21 131.14a1.22 1.22 0 1 0 2.44 0a1.22 1.22 0 1 0 -2.44 0M138.66 182.44a1.22 1.22 0 1 0 2.44 0a1.22 1.22 0 1 0 -2.44 0M84.54 190.87a1.22 1.22 0 1 0 2.44 0a1.22 1.22 0 1 0 -2.44 0M79.10 204.53a1.22 1.22 0 1 0 2.44 0a1.22 1.22 0 1 0 -2.44 0M72.24 192.00a1.22 1.22 0 1 0 2.44 0a1.22 1.22 0 1 0 -2.44 0M133.37 122.25a1.22 1.22 0 1 0 2.44 0a1.22 1.22 0 1 0 -2.44 0M104.55 171.54a1.22 1.22 0 1 0 2.44 0a1.22 1.22 0 1 0 -2.44 0M114.81 189.83a1.22 1.22 0 1 0 2.44 0a1.22 1.22 0 1 0 -2.44 0M66.72 171.13a1.22 1.22 0 1 0 2.44 0a1.22 1.22 0 1 0 -2.44 0M105.05 191.85a1.22 1.22 0 1 0 2.44 0a1.22 1.22 0 1 0 -2.44 0M84.78 163.43a1.22 1.22 0 1 0 2.44 0a1.22 1.22 0 1 0 -2.44 0M61.12 200.66a1.22 1.22 0 1 0 2.44 0a1.22 1.22 0 1 0 -2.44 0M58.20 141.82a1.22 1.22 0 1 0 2.44 0a1.22 1.22 0 1 0 -2.44 0M60.26 179.82a1.22 1.22 0 1 0 2.44 0a1.22 1.22 0 1 0 -2.44 0M71.68 166.37a1.22 1.22 0 1 0 2.44 0a1.22 1.22 0 1 0 -2.44 0M83.58 180.05a1.22 1.22 0 1 0 2.44 0a1.22 1.22 0 1 0 -2.44 0M61.11 198.54a1.22 1.22 0 1 0 2.44 0a1.22 1.22 0 1 0 -2.44 0M63.60 194.25a1.22 1.22 0 1 0 2.44 0a1.22 1.22 0 1 0 -2.44 0M97.30 158.81a1.22 1.22 0 1 0 2.44 0a1.22 1.22 0 1 0 -2.44 0M56.83 200.10a1.22 1.22 0 1 0 2.44 0a1.22 1.22 0 1 0 -2.44 0M111.79 226.16a1.22 1.22 0 1 0 2.44 0a1.22 1.22 0 1 0 -2.44 0M75.39 201.63a1.22 1.22 0 1 0 2.44 0a1.22 1.22 0 1 0 -2.44 0M68.72 111.85a1.22 1.22 0 1 0 2.44 0a1.22 1.22 0 1 0 -2.44 0M73.68 181.35a1.22 1.22 0 1 0 2.44 0a1.22 1.22 0 1 0 -2.44 0M86.12 192.31a1.22 1.22 0 1 0 2.44 0a1.22 1.22 0 1 0 -2.44 0M60.93 192.90a1.22 1.22 0 1 0 2.44 0a1.22 1.22 0 1 0 -2.44 0M121.69 166.72a1.22 1.22 0 1 0 2.44 0a1.22 1.22 0 1 0 -2.44 0M105.30 199.59a1.22 1.22 0 1 0 2.44 0a1.22 1.22 0 1 0 -2.44 0M108.18 166.67a1.22 1.22 0 1 0 2.44 0a1.22 1.22 0 1 0 -2.44 0M72.20 153.11a1.22 1.22 0 1 0 2.44 0a1.22 1.22 0 1 0 -2.44 0M74.75 171.91a1.22 1.22 0 1 0 2.44 0a1.22 1.22 0 1 0 -2.44 0M102.88 114.66a1.22 1.22 0 1 0 2.44 0a1.22 1.22 0 1 0 -2.44 0M58.76 222.89a1.22 1.22 0 1 0 2.44 0a1.22 1.22 0 1 0 -2.44 0M64.50 154.71a1.22 1.22 0 1 0 2.44 0a1.22 1.22 0 1 0 -2.44 0M73.88 209.55a1.22 1.22 0 1 0 2.44 0a1.22 1.22 0 1 0 -2.44 0M109.40 205.16a1.22 1.22 0 1 0 2.44 0a1.22 1.22 0 1 0 -2.44 0M85.14 209.04a1.22 1.22 0 1 0 2.44 0a1.22 1.22 0 1 0 -2.44 0M59.65 202.18a1.22 1.22 0 1 0 2.44 0a1.22 1.22 0 1 0 -2.44 0M81.14 197.02a1.22 1.22 0 1 0 2.44 0a1.22 1.22 0 1 0 -2.44 0M102.83 188.04a1.22 1.22 0 1 0 2.44 0a1.22 1.22 0 1 0 -2.44 0M58.34 145.19a1.22 1.22 0 1 0 2.44 0a1.22 1.22 0 1 0 -2.44 0M55.26 148.54a1.22 1.22 0 1 0 2.44 0a1.22 1.22 0 1 0 -2.44 0M117.08 136.40a1.22 1.22 0 1 0 2.44 0a1.22 1.22 0 1 0 -2.44 0M74.82 168.05a1.22 1.22 0 1 0 2.44 0a1.22 1.22 0 1 0 -2.44 0M66.71 159.20a1.22 1.22 0 1 0 2.44 0a1.22 1.22 0 1 0 -2.44 0M101.55 195.03a1.22 1.22 0 1 0 2.44 0a1.22 1.22 0 1 0 -2.44 0M58.63 189.74a1.22 1.22 0 1 0 2.44 0a1.22 1.22 0 1 0 -2.44 0M101.70 214.33a1.22 1.22 0 1 0 2.44 0a1.22 1.22 0 1 0 -2.44 0M66.56 194.30a1.22 1.22 0 1 0 2.44 0a1.22 1.22 0 1 0 -2.44 0M64.72 132.89a1.22 1.22 0 1 0 2.44 0a1.22 1.22 0 1 0 -2.44 0M60.53 186.13a1.22 1.22 0 1 0 2.44 0a1.22 1.22 0 1 0 -2.44 0M100.78 231.36a1.22 1.22 0 1 0 2.44 0a1.22 1.22 0 1 0 -2.44 0M126.70 177.04a1.22 1.22 0 1 0 2.44 0a1.22 1.22 0 1 0 -2.44 0M58.73 193.67a1.22 1.22 0 1 0 2.44 0a1.22 1.22 0 1 0 -2.44 0M55.61 173.65a1.22 1.22 0 1 0 2.44 0a1.22 1.22 0 1 0 -2.44 0M84.31 134.45a1.22 1.22 0 1 0 2.44 0a1.22 1.22 0 1 0 -2.44 0M62.12 166.38a1.22 1.22 0 1 0 2.44 0a1.22 1.22 0 1 0 -2.44 0M97.28 120.65a1.22 1.22 0 1 0 2.44 0a1.22 1.22 0 1 0 -2.44 0M81.85 207.81a1.22 1.22 0 1 0 2.44 0a1.22 1.22 0 1 0 -2.44 0M85.40 203.25a1.22 1.22 0 1 0 2.44 0a1.22 1.22 0 1 0 -2.44 0M72.82 163.53a1.22 1.22 0 1 0 2.44 0a1.22 1.22 0 1 0 -2.44 0M59.60 199.47a1.22 1.22 0 1 0 2.44 0a1.22 1.22 0 1 0 -2.44 0M111.14 190.13a1.22 1.22 0 1 0 2.44 0a1.22 1.22 0 1 0 -2.44 0M113.62 222.44a1.22 1.22 0 1 0 2.44 0a1.22 1.22 0 1 0 -2.44 0M96.89 184.94a1.22 1.22 0 1 0 2.44 0a1.22 1.22 0 1 0 -2.44 0M83.68 195.52a1.22 1.22 0 1 0 2.44 0a1.22 1.22 0 1 0 -2.44 0M58.79 177.44a1.22 1.22 0 1 0 2.44 0a1.22 1.22 0 1 0 -2.44 0M66.51 214.28a1.22 1.22 0 1 0 2.44 0a1.22 1.22 0 1 0 -2.44 0M73.09 191.14a1.22 1.22 0 1 0 2.44 0a1.22 1.22 0 1 0 -2.44 0M69.33 155.03a1.22 1.22 0 1 0 2.44 0a1.22 1.22 0 1 0 -2.44 0M118.33 219.86a1.22 1.22 0 1 0 2.44 0a1.22 1.22 0 1 0 -2.44 0M80.95 167.25a1.22 1.22 0 1 0 2.44 0a1.22 1.22 0 1 0 -2.44 0M69.84 166.34a1.22 1.22 0 1 0 2.44 0a1.22 1.22 0 1 0 -2.44 0M93.18 202.48a1.22 1.22 0 1 0 2.44 0a1.22 1.22 0 1 0 -2.44 0M68.96 197.76a1.22 1.22 0 1 0 2.44 0a1.22 1.22 0 1 0 -2.44 0M89.73 186.46a1.22 1.22 0 1 0 2.44 0a1.22 1.22 0 1 0 -2.44 0M114.46 163.94a1.22 1.22 0 1 0 2.44 0a1.22 1.22 0 1 0 -2.44 0M168.27 140.22a1.22 1.22 0 1 0 2.44 0a1.22 1.22 0 1 0 -2.44 0M62.23 189.33a1.22 1.22 0 1 0 2.44 0a1.22 1.22 0 1 0 -2.44 0M100.58 134.92a1.22 1.22 0 1 0 2.44 0a1.22 1.22 0 1 0 -2.44 0M89.60 162.56a1.22 1.22 0 1 0 2.44 0a1.22 1.22 0 1 0 -2.44 0M116.32 143.13a1.22 1.22 0 1 0 2.44 0a1.22 1.22 0 1 0 -2.44 0M90.11 200.71a1.22 1.22 0 1 0 2.44 0a1.22 1.22 0 1 0 -2.44 0M85.76 194.99a1.22 1.22 0 1 0 2.44 0a1.22 1.22 0 1 0 -2.44 0M65.36 165.57a1.22 1.22 0 1 0 2.44 0a1.22 1.22 0 1 0 -2.44 0M115.37 215.72a1.22 1.22 0 1 0 2.44 0a1.22 1.22 0 1 0 -2.44 0M151.26 102.14a1.22 1.22 0 1 0 2.44 0a1.22 1.22 0 1 0 -2.44 0M64.54 194.82a1.22 1.22 0 1 0 2.44 0a1.22 1.22 0 1 0 -2.44 0M95.10 162.14a1.22 1.22 0 1 0 2.44 0a1.22 1.22 0 1 0 -2.44 0M58.53 162.27a1.22 1.22 0 1 0 2.44 0a1.22 1.22 0 1 0 -2.44 0M83.85 202.16a1.22 1.22 0 1 0 2.44 0a1.22 1.22 0 1 0 -2.44 0M99.30 157.56a1.22 1.22 0 1 0 2.44 0a1.22 1.22 0 1 0 -2.44 0M61.88 188.36a1.22 1.22 0 1 0 2.44 0a1.22 1.22 0 1 0 -2.44 0M73.70 185.25a1.22 1.22 0 1 0 2.44 0a1.22 1.22 0 1 0 -2.44 0M79.84 171.72a1.22 1.22 0 1 0 2.44 0a1.22 1.22 0 1 0 -2.44 0M113.98 197.53a1.22 1.22 0 1 0 2.44 0a1.22 1.22 0 1 0 -2.44 0M131.13 213.94a1.22 1.22 0 1 0 2.44 0a1.22 1.22 0 1 0 -2.44 0M65.93 213.48a1.22 1.22 0 1 0 2.44 0a1.22 1.22 0 1 0 -2.44 0M112.06 168.01a1.22 1.22 0 1 0 2.44 0a1.22 1.22 0 1 0 -2.44 0M58.57 171.22a1.22 1.22 0 1 0 2.44 0a1.22 1.22 0 1 0 -2.44 0M66.99 181.57a1.22 1.22 0 1 0 2.44 0a1.22 1.22 0 1 0 -2.44 0M89.51 201.01a1.22 1.22 0 1 0 2.44 0a1.22 1.22 0 1 0 -2.44 0M84.33 193.30a1.22 1.22 0 1 0 2.44 0a1.22 1.22 0 1 0 -2.44 0M97.79 197.40a1.22 1.22 0 1 0 2.44 0a1.22 1.22 0 1 0 -2.44 0M88.52 209.02a1.22 1.22 0 1 0 2.44 0a1.22 1.22 0 1 0 -2.44 0M145.90 105.02a1.22 1.22 0 1 0 2.44 0a1.22 1.22 0 1 0 -2.44 0M81.82 171.35a1.22 1.22 0 1 0 2.44 0a1.22 1.22 0 1 0 -2.44 0M59.20 173.30a1.22 1.22 0 1 0 2.44 0a1.22 1.22 0 1 0 -2.44 0M72.78 210.62a1.22 1.22 0 1 0 2.44 0a1.22 1.22 0 1 0 -2.44 0M54.98 150.04a1.22 1.22 0 1 0 2.44 0a1.22 1.22 0 1 0 -2.44 0M97.85 175.60a1.22 1.22 0 1 0 2.44 0a1.22 1.22 0 1 0 -2.44 0M160.64 206.81a1.22 1.22 0 1 0 2.44 0a1.22 1.22 0 1 0 -2.44 0M62.76 177.90a1.22 1.22 0 1 0 2.44 0a1.22 1.22 0 1 0 -2.44 0M70.18 185.61a1.22 1.22 0 1 0 2.44 0a1.22 1.22 0 1 0 -2.44 0M151.19 171.39a1.22 1.22 0 1 0 2.44 0a1.22 1.22 0 1 0 -2.44 0M62.64 207.31a1.22 1.22 0 1 0 2.44 0a1.22 1.22 0 1 0 -2.44 0M97.99 110.66a1.22 1.22 0 1 0 2.44 0a1.22 1.22 0 1 0 -2.44 0M58.20 170.33a1.22 1.22 0 1 0 2.44 0a1.22 1.22 0 1 0 -2.44 0M71.13 180.17a1.22 1.22 0 1 0 2.44 0a1.22 1.22 0 1 0 -2.44 0M67.64 209.35a1.22 1.22 0 1 0 2.44 0a1.22 1.22 0 1 0 -2.44 0M135.90 209.99a1.22 1.22 0 1 0 2.44 0a1.22 1.22 0 1 0 -2.44 0M80.77 121.32a1.22 1.22 0 1 0 2.44 0a1.22 1.22 0 1 0 -2.44 0M85.51 122.18a1.22 1.22 0 1 0 2.44 0a1.22 1.22 0 1 0 -2.44 0M144.20 177.52a1.22 1.22 0 1 0 2.44 0a1.22 1.22 0 1 0 -2.44 0M74.37 206.69a1.22 1.22 0 1 0 2.44 0a1.22 1.22 0 1 0 -2.44 0M106.90 180.36a1.22 1.22 0 1 0 2.44 0a1.22 1.22 0 1 0 -2.44 0M167.93 195.42a1.22 1.22 0 1 0 2.44 0a1.22 1.22 0 1 0 -2.44 0M99.69 216.16a1.22 1.22 0 1 0 2.44 0a1.22 1.22 0 1 0 -2.44 0M116.91 172.67a1.22 1.22 0 1 0 2.44 0a1.22 1.22 0 1 0 -2.44 0M115.91 126.55a1.22 1.22 0 1 0 2.44 0a1.22 1.22 0 1 0 -2.44 0M79.36 147.98a1.22 1.22 0 1 0 2.44 0a1.22 1.22 0 1 0 -2.44 0M67.75 160.68a1.22 1.22 0 1 0 2.44 0a1.22 1.22 0 1 0 -2.44 0M65.39 184.91a1.22 1.22 0 1 0 2.44 0a1.22 1.22 0 1 0 -2.44 0M168.25 170.70a1.22 1.22 0 1 0 2.44 0a1.22 1.22 0 1 0 -2.44 0M155.68 170.85a1.22 1.22 0 1 0 2.44 0a1.22 1.22 0 1 0 -2.44 0M73.17 142.48a1.22 1.22 0 1 0 2.44 0a1.22 1.22 0 1 0 -2.44 0M149.02 165.36a1.22 1.22 0 1 0 2.44 0a1.22 1.22 0 1 0 -2.44 0M125.26 220.19a1.22 1.22 0 1 0 2.44 0a1.22 1.22 0 1 0 -2.44 0M74.30 182.94a1.22 1.22 0 1 0 2.44 0a1.22 1.22 0 1 0 -2.44 0M66.16 216.91a1.22 1.22 0 1 0 2.44 0a1.22 1.22 0 1 0 -2.44 0M80.88 196.00a1.22 1.22 0 1 0 2.44 0a1.22 1.22 0 1 0 -2.44 0M129.53 193.19a1.22 1.22 0 1 0 2.44 0a1.22 1.22 0 1 0 -2.44 0M105.51 155.51a1.22 1.22 0 1 0 2.44 0a1.22 1.22 0 1 0 -2.44 0M55.24 204.10a1.22 1.22 0 1 0 2.44 0a1.22 1.22 0 1 0 -2.44 0M116.55 179.25a1.22 1.22 0 1 0 2.44 0a1.22 1.22 0 1 0 -2.44 0M83.95 129.82a1.22 1.22 0 1 0 2.44 0a1.22 1.22 0 1 0 -2.44 0M72.15 164.14a1.22 1.22 0 1 0 2.44 0a1.22 1.22 0 1 0 -2.44 0M111.34 211.14a1.22 1.22 0 1 0 2.44 0a1.22 1.22 0 1 0 -2.44 0M79.84 164.05a1.22 1.22 0 1 0 2.44 0a1.22 1.22 0 1 0 -2.44 0M156.90 153.54a1.22 1.22 0 1 0 2.44 0a1.22 1.22 0 1 0 -2.44 0M77.03 192.85a1.22 1.22 0 1 0 2.44 0a1.22 1.22 0 1 0 -2.44 0M94.81 160.84a1.22 1.22 0 1 0 2.44 0a1.22 1.22 0 1 0 -2.44 0M88.86 185.85a1.22 1.22 0 1 0 2.44 0a1.22 1.22 0 1 0 -2.44 0M79.95 173.46a1.22 1.22 0 1 0 2.44 0a1.22 1.22 0 1 0 -2.44 0M75.45 208.73a1.22 1.22 0 1 0 2.44 0a1.22 1.22 0 1 0 -2.44 0M68.50 195.43a1.22 1.22 0 1 0 2.44 0a1.22 1.22 0 1 0 -2.44 0M63.01 164.25a1.22 1.22 0 1 0 2.44 0a1.22 1.22 0 1 0 -2.44 0M107.72 187.98a1.22 1.22 0 1 0 2.44 0a1.22 1.22 0 1 0 -2.44 0M98.69 178.11a1.22 1.22 0 1 0 2.44 0a1.22 1.22 0 1 0 -2.44 0M95.43 187.83a1.22 1.22 0 1 0 2.44 0a1.22 1.22 0 1 0 -2.44 0M88.35 180.21a1.22 1.22 0 1 0 2.44 0a1.22 1.22 0 1 0 -2.44 0M99.93 209.58a1.22 1.22 0 1 0 2.44 0a1.22 1.22 0 1 0 -2.44 0M85.10 191.19a1.22 1.22 0 1 0 2.44 0a1.22 1.22 0 1 0 -2.44 0M113.09 198.18a1.22 1.22 0 1 0 2.44 0a1.22 1.22 0 1 0 -2.44 0M85.97 176.23a1.22 1.22 0 1 0 2.44 0a1.22 1.22 0 1 0 -2.44 0M159.13 160.12a1.22 1.22 0 1 0 2.44 0a1.22 1.22 0 1 0 -2.44 0M70.22 183.24a1.22 1.22 0 1 0 2.44 0a1.22 1.22 0 1 0 -2.44 0M134.68 172.90a1.22 1.22 0 1 0 2.44 0a1.22 1.22 0 1 0 -2.44 0M96.56 176.63a1.22 1.22 0 1 0 2.44 0a1.22 1.22 0 1 0 -2.44 0M92.87 179.51a1.22 1.22 0 1 0 2.44 0a1.22 1.22 0 1 0 -2.44 0M126.19 204.86a1.22 1.22 0 1 0 2.44 0a1.22 1.22 0 1 0 -2.44 0M75.64 180.10a1.22 1.22 0 1 0 2.44 0a1.22 1.22 0 1 0 -2.44 0M96.57 149.84a1.22 1.22 0 1 0 2.44 0a1.22 1.22 0 1 0 -2.44 0M90.17 152.34a1.22 1.22 0 1 0 2.44 0a1.22 1.22 0 1 0 -2.44 0M76.92 215.48a1.22 1.22 0 1 0 2.44 0a1.22 1.22 0 1 0 -2.44 0M137.00 214.05a1.22 1.22 0 1 0 2.44 0a1.22 1.22 0 1 0 -2.44 0M73.52 191.64a1.22 1.22 0 1 0 2.44 0a1.22 1.22 0 1 0 -2.44 0M168.59 190.02a1.22 1.22 0 1 0 2.44 0a1.22 1.22 0 1 0 -2.44 0M98.74 205.79a1.22 1.22 0 1 0 2.44 0a1.22 1.22 0 1 0 -2.44 0M65.32 181.90a1.22 1.22 0 1 0 2.44 0a1.22 1.22 0 1 0 -2.44 0M160.57 165.73a1.22 1.22 0 1 0 2.44 0a1.22 1.22 0 1 0 -2.44 0M109.75 205.90a1.22 1.22 0 1 0 2.44 0a1.22 1.22 0 1 0 -2.44 0M87.92 215.17a1.22 1.22 0 1 0 2.44 0a1.22 1.22 0 1 0 -2.44 0M63.01 190.46a1.22 1.22 0 1 0 2.44 0a1.22 1.22 0 1 0 -2.44 0M65.46 174.76a1.22 1.22 0 1 0 2.44 0a1.22 1.22 0 1 0 -2.44 0M63.13 157.77a1.22 1.22 0 1 0 2.44 0a1.22 1.22 0 1 0 -2.44 0M81.38 194.99a1.22 1.22 0 1 0 2.44 0a1.22 1.22 0 1 0 -2.44 0M158.06 183.31a1.22 1.22 0 1 0 2.44 0a1.22 1.22 0 1 0 -2.44 0M77.32 169.26a1.22 1.22 0 1 0 2.44 0a1.22 1.22 0 1 0 -2.44 0M65.84 170.28a1.22 1.22 0 1 0 2.44 0a1.22 1.22 0 1 0 -2.44 0M99.12 146.85a1.22 1.22 0 1 0 2.44 0a1.22 1.22 0 1 0 -2.44 0M168.77 178.77a1.22 1.22 0 1 0 2.44 0a1.22 1.22 0 1 0 -2.44 0M56.37 199.54a1.22 1.22 0 1 0 2.44 0a1.22 1.22 0 1 0 -2.44 0M62.78 185.62a1.22 1.22 0 1 0 2.44 0a1.22 1.22 0 1 0 -2.44 0M66.13 145.04a1.22 1.22 0 1 0 2.44 0a1.22 1.22 0 1 0 -2.44 0M169.05 154.40a1.22 1.22 0 1 0 2.44 0a1.22 1.22 0 1 0 -2.44 0M138.03 158.85a1.22 1.22 0 1 0 2.44 0a1.22 1.22 0 1 0 -2.44 0M83.39 166.23a1.22 1.22 0 1 0 2.44 0a1.22 1.22 0 1 0 -2.44 0M142.53 170.59a1.22 1.22 0 1 0 2.44 0a1.22 1.22 0 1 0 -2.44 0M133.08 222.36a1.22 1.22 0 1 0 2.44 0a1.22 1.22 0 1 0 -2.44 0M63.47 109.29a1.22 1.22 0 1 0 2.44 0a1.22 1.22 0 1 0 -2.44 0M167.75 179.44a1.22 1.22 0 1 0 2.44 0a1.22 1.22 0 1 0 -2.44 0M169.22 136.78a1.22 1.22 0 1 0 2.44 0a1.22 1.22 0 1 0 -2.44 0M122.42 144.49a1.22 1.22 0 1 0 2.44 0a1.22 1.22 0 1 0 -2.44 0M103.03 215.34a1.22 1.22 0 1 0 2.44 0a1.22 1.22 0 1 0 -2.44 0M92.76 201.41a1.22 1.22 0 1 0 2.44 0a1.22 1.22 0 1 0 -2.44 0M103.36 204.97a1.22 1.22 0 1 0 2.44 0a1.22 1.22 0 1 0 -2.44 0M139.77 191.87a1.22 1.22 0 1 0 2.44 0a1.22 1.22 0 1 0 -2.44 0M65.62 174.52a1.22 1.22 0 1 0 2.44 0a1.22 1.22 0 1 0 -2.44 0M74.18 171.39a1.22 1.22 0 1 0 2.44 0a1.22 1.22 0 1 0 -2.44 0M55.26 162.82a1.22 1.22 0 1 0 2.44 0a1.22 1.22 0 1 0 -2.44 0M76.69 167.55a1.22 1.22 0 1 0 2.44 0a1.22 1.22 0 1 0 -2.44 0M122.71 184.05a1.22 1.22 0 1 0 2.44 0a1.22 1.22 0 1 0 -2.44 0M55.10 165.79a1.22 1.22 0 1 0 2.44 0a1.22 1.22 0 1 0 -2.44 0M55.75 169.29a1.22 1.22 0 1 0 2.44 0a1.22 1.22 0 1 0 -2.44 0M55.15 161.42a1.22 1.22 0 1 0 2.44 0a1.22 1.22 0 1 0 -2.44 0M97.32 165.14a1.22 1.22 0 1 0 2.44 0a1.22 1.22 0 1 0 -2.44 0M163.60 157.01a1.22 1.22 0 1 0 2.44 0a1.22 1.22 0 1 0 -2.44 0M99.96 191.88a1.22 1.22 0 1 0 2.44 0a1.22 1.22 0 1 0 -2.44 0M74.46 177.84a1.22 1.22 0 1 0 2.44 0a1.22 1.22 0 1 0 -2.44 0M85.26 139.75a1.22 1.22 0 1 0 2.44 0a1.22 1.22 0 1 0 -2.44 0M112.53 158.12a1.22 1.22 0 1 0 2.44 0a1.22 1.22 0 1 0 -2.44 0M99.99 200.59a1.22 1.22 0 1 0 2.44 0a1.22 1.22 0 1 0 -2.44 0M71.38 191.87a1.22 1.22 0 1 0 2.44 0a1.22 1.22 0 1 0 -2.44 0M63.76 187.42a1.22 1.22 0 1 0 2.44 0a1.22 1.22 0 1 0 -2.44 0M62.31 171.60a1.22 1.22 0 1 0 2.44 0a1.22 1.22 0 1 0 -2.44 0M100.14 188.27a1.22 1.22 0 1 0 2.44 0a1.22 1.22 0 1 0 -2.44 0M67.00 185.86a1.22 1.22 0 1 0 2.44 0a1.22 1.22 0 1 0 -2.44 0M60.60 205.34a1.22 1.22 0 1 0 2.44 0a1.22 1.22 0 1 0 -2.44 0M160.79 151.13a1.22 1.22 0 1 0 2.44 0a1.22 1.22 0 1 0 -2.44 0M150.43 195.25a1.22 1.22 0 1 0 2.44 0a1.22 1.22 0 1 0 -2.44 0M59.19 183.42a1.22 1.22 0 1 0 2.44 0a1.22 1.22 0 1 0 -2.44 0M103.19 225.16a1.22 1.22 0 1 0 2.44 0a1.22 1.22 0 1 0 -2.44 0M152.19 116.00a1.22 1.22 0 1 0 2.44 0a1.22 1.22 0 1 0 -2.44 0M140.50 165.55a1.22 1.22 0 1 0 2.44 0a1.22 1.22 0 1 0 -2.44 0M88.57 193.79a1.22 1.22 0 1 0 2.44 0a1.22 1.22 0 1 0 -2.44 0M84.42 154.05a1.22 1.22 0 1 0 2.44 0a1.22 1.22 0 1 0 -2.44 0M107.46 185.24a1.22 1.22 0 1 0 2.44 0a1.22 1.22 0 1 0 -2.44 0M98.11 182.63a1.22 1.22 0 1 0 2.44 0a1.22 1.22 0 1 0 -2.44 0M84.97 167.11a1.22 1.22 0 1 0 2.44 0a1.22 1.22 0 1 0 -2.44 0M89.04 159.04a1.22 1.22 0 1 0 2.44 0a1.22 1.22 0 1 0 -2.44 0M89.39 162.30a1.22 1.22 0 1 0 2.44 0a1.22 1.22 0 1 0 -2.44 0M164.58 146.37a1.22 1.22 0 1 0 2.44 0a1.22 1.22 0 1 0 -2.44 0M56.79 168.33a1.22 1.22 0 1 0 2.44 0a1.22 1.22 0 1 0 -2.44 0M94.23 201.19a1.22 1.22 0 1 0 2.44 0a1.22 1.22 0 1 0 -2.44 0M109.34 202.60a1.22 1.22 0 1 0 2.44 0a1.22 1.22 0 1 0 -2.44 0M157.56 146.86a1.22 1.22 0 1 0 2.44 0a1.22 1.22 0 1 0 -2.44 0M120.86 129.91a1.22 1.22 0 1 0 2.44 0a1.22 1.22 0 1 0 -2.44 0M67.95 140.92a1.22 1.22 0 1 0 2.44 0a1.22 1.22 0 1 0 -2.44 0M88.80 139.98a1.22 1.22 0 1 0 2.44 0a1.22 1.22 0 1 0 -2.44 0M91.52 153.81a1.22 1.22 0 1 0 2.44 0a1.22 1.22 0 1 0 -2.44 0M75.51 181.70a1.22 1.22 0 1 0 2.44 0a1.22 1.22 0 1 0 -2.44 0M124.73 149.60a1.22 1.22 0 1 0 2.44 0a1.22 1.22 0 1 0 -2.44 0M163.42 142.66a1.22 1.22 0 1 0 2.44 0a1.22 1.22 0 1 0 -2.44 0M85.49 175.72a1.22 1.22 0 1 0 2.44 0a1.22 1.22 0 1 0 -2.44 0M85.75 195.12a1.22 1.22 0 1 0 2.44 0a1.22 1.22 0 1 0 -2.44 0M108.66 178.84a1.22 1.22 0 1 0 2.44 0a1.22 1.22 0 1 0 -2.44 0M78.21 179.09a1.22 1.22 0 1 0 2.44 0a1.22 1.22 0 1 0 -2.44 0M56.14 192.24a1.22 1.22 0 1 0 2.44 0a1.22 1.22 0 1 0 -2.44 0M113.70 164.98a1.22 1.22 0 1 0 2.44 0a1.22 1.22 0 1 0 -2.44 0M72.06 198.67a1.22 1.22 0 1 0 2.44 0a1.22 1.22 0 1 0 -2.44 0M60.94 170.68a1.22 1.22 0 1 0 2.44 0a1.22 1.22 0 1 0 -2.44 0M81.13 153.18a1.22 1.22 0 1 0 2.44 0a1.22 1.22 0 1 0 -2.44 0M158.09 117.72a1.22 1.22 0 1 0 2.44 0a1.22 1.22 0 1 0 -2.44 0M141.31 171.52a1.22 1.22 0 1 0 2.44 0a1.22 1.22 0 1 0 -2.44 0M110.89 166.77a1.22 1.22 0 1 0 2.44 0a1.22 1.22 0 1 0 -2.44 0M88.41 166.78a1.22 1.22 0 1 0 2.44 0a1.22 1.22 0 1 0 -2.44 0M136.45 167.18a1.22 1.22 0 1 0 2.44 0a1.22 1.22 0 1 0 -2.44 0M100.57 183.04a1.22 1.22 0 1 0 2.44 0a1.22 1.22 0 1 0 -2.44 0M95.49 121.20a1.22 1.22 0 1 0 2.44 0a1.22 1.22 0 1 0 -2.44 0M149.95 155.60a1.22 1.22 0 1 0 2.44 0a1.22 1.22 0 1 0 -2.44 0M98.94 177.88a1.22 1.22 0 1 0 2.44 0a1.22 1.22 0 1 0 -2.44 0M126.90 146.31a1.22 1.22 0 1 0 2.44 0a1.22 1.22 0 1 0 -2.44 0M81.39 149.30a1.22 1.22 0 1 0 2.44 0a1.22 1.22 0 1 0 -2.44 0M102.88 212.52a1.22 1.22 0 1 0 2.44 0a1.22 1.22 0 1 0 -2.44 0M70.45 168.13a1.22 1.22 0 1 0 2.44 0a1.22 1.22 0 1 0 -2.44 0M98.47 214.28a1.22 1.22 0 1 0 2.44 0a1.22 1.22 0 1 0 -2.44 0M91.66 186.83a1.22 1.22 0 1 0 2.44 0a1.22 1.22 0 1 0 -2.44 0M115.49 184.98a1.22 1.22 0 1 0 2.44 0a1.22 1.22 0 1 0 -2.44 0M92.16 193.21a1.22 1.22 0 1 0 2.44 0a1.22 1.22 0 1 0 -2.44 0M61.26 150.18a1.22 1.22 0 1 0 2.44 0a1.22 1.22 0 1 0 -2.44 0M98.29 185.75a1.22 1.22 0 1 0 2.44 0a1.22 1.22 0 1 0 -2.44 0M69.76 190.84a1.22 1.22 0 1 0 2.44 0a1.22 1.22 0 1 0 -2.44 0M72.58 204.05a1.22 1.22 0 1 0 2.44 0a1.22 1.22 0 1 0 -2.44 0M122.46 176.15a1.22 1.22 0 1 0 2.44 0a1.22 1.22 0 1 0 -2.44 0M115.78 156.67a1.22 1.22 0 1 0 2.44 0a1.22 1.22 0 1 0 -2.44 0M88.12 200.51a1.22 1.22 0 1 0 2.44 0a1.22 1.22 0 1 0 -2.44 0M64.69 188.98a1.22 1.22 0 1 0 2.44 0a1.22 1.22 0 1 0 -2.44 0M112.65 143.39a1.22 1.22 0 1 0 2.44 0a1.22 1.22 0 1 0 -2.44 0M83.14 202.54a1.22 1.22 0 1 0 2.44 0a1.22 1.22 0 1 0 -2.44 0M89.08 167.99a1.22 1.22 0 1 0 2.44 0a1.22 1.22 0 1 0 -2.44 0M71.83 181.46a1.22 1.22 0 1 0 2.44 0a1.22 1.22 0 1 0 -2.44 0M129.45 178.23a1.22 1.22 0 1 0 2.44 0a1.22 1.22 0 1 0 -2.44 0M65.05 154.92a1.22 1.22 0 1 0 2.44 0a1.22 1.22 0 1 0 -2.44 0M88.89 195.35a1.22 1.22 0 1 0 2.44 0a1.22 1.22 0 1 0 -2.44 0M151.96 143.30a1.22 1.22 0 1 0 2.44 0a1.22 1.22 0 1 0 -2.44 0M149.06 201.62a1.22 1.22 0 1 0 2.44 0a1.22 1.22 0 1 0 -2.44 0M68.04 176.84a1.22 1.22 0 1 0 2.44 0a1.22 1.22 0 1 0 -2.44 0M68.95 199.77a1.22 1.22 0 1 0 2.44 0a1.22 1.22 0 1 0 -2.44 0M70.22 197.03a1.22 1.22 0 1 0 2.44 0a1.22 1.22 0 1 0 -2.44 0M85.28 166.13a1.22 1.22 0 1 0 2.44 0a1.22 1.22 0 1 0 -2.44 0M123.35 159.81a1.22 1.22 0 1 0 2.44 0a1.22 1.22 0 1 0 -2.44 0M66.03 176.15a1.22 1.22 0 1 0 2.44 0a1.22 1.22 0 1 0 -2.44 0M89.14 152.11a1.22 1.22 0 1 0 2.44 0a1.22 1.22 0 1 0 -2.44 0M131.40 216.37a1.22 1.22 0 1 0 2.44 0a1.22 1.22 0 1 0 -2.44 0M56.90 181.56a1.22 1.22 0 1 0 2.44 0a1.22 1.22 0 1 0 -2.44 0M78.14 180.63a1.22 1.22 0 1 0 2.44 0a1.22 1.22 0 1 0 -2.44 0M86.92 203.13a1.22 1.22 0 1 0 2.44 0a1.22 1.22 0 1 0 -2.44 0M74.30 218.88a1.22 1.22 0 1 0 2.44 0a1.22 1.22 0 1 0 -2.44 0M126.07 165.91a1.22 1.22 0 1 0 2.44 0a1.22 1.22 0 1 0 -2.44 0M68.17 198.32a1.22 1.22 0 1 0 2.44 0a1.22 1.22 0 1 0 -2.44 0M63.06 172.43a1.22 1.22 0 1 0 2.44 0a1.22 1.22 0 1 0 -2.44 0M61.58 104.61a1.22 1.22 0 1 0 2.44 0a1.22 1.22 0 1 0 -2.44 0M170.94 191.32a1.22 1.22 0 1 0 2.44 0a1.22 1.22 0 1 0 -2.44 0M73.75 155.56a1.22 1.22 0 1 0 2.44 0a1.22 1.22 0 1 0 -2.44 0M88.44 174.49a1.22 1.22 0 1 0 2.44 0a1.22 1.22 0 1 0 -2.44 0M59.56 209.12a1.22 1.22 0 1 0 2.44 0a1.22 1.22 0 1 0 -2.44 0M81.99 149.70a1.22 1.22 0 1 0 2.44 0a1.22 1.22 0 1 0 -2.44 0M127.52 164.37a1.22 1.22 0 1 0 2.44 0a1.22 1.22 0 1 0 -2.44 0M114.46 132.62a1.22 1.22 0 1 0 2.44 0a1.22 1.22 0 1 0 -2.44 0M59.84 195.18a1.22 1.22 0 1 0 2.44 0a1.22 1.22 0 1 0 -2.44 0M110.91 203.22a1.22 1.22 0 1 0 2.44 0a1.22 1.22 0 1 0 -2.44 0M107.35 170.56a1.22 1.22 0 1 0 2.44 0a1.22 1.22 0 1 0 -2.44 0M62.81 175.70a1.22 1.22 0 1 0 2.44 0a1.22 1.22 0 1 0 -2.44 0M88.79 187.54a1.22 1.22 0 1 0 2.44 0a1.22 1.22 0 1 0 -2.44 0M78.33 186.74a1.22 1.22 0 1 0 2.44 0a1.22 1.22 0 1 0 -2.44 0M105.08 143.54a1.22 1.22 0 1 0 2.44 0a1.22 1.22 0 1 0 -2.44 0M125.16 143.95a1.22 1.22 0 1 0 2.44 0a1.22 1.22 0 1 0 -2.44 0M76.91 144.46a1.22 1.22 0 1 0 2.44 0a1.22 1.22 0 1 0 -2.44 0M111.02 204.57a1.22 1.22 0 1 0 2.44 0a1.22 1.22 0 1 0 -2.44 0M60.30 188.48a1.22 1.22 0 1 0 2.44 0a1.22 1.22 0 1 0 -2.44 0M90.73 199.34a1.22 1.22 0 1 0 2.44 0a1.22 1.22 0 1 0 -2.44 0M148.35 186.20a1.22 1.22 0 1 0 2.44 0a1.22 1.22 0 1 0 -2.44 0M82.94 188.77a1.22 1.22 0 1 0 2.44 0a1.22 1.22 0 1 0 -2.44 0M179.61 195.67a1.22 1.22 0 1 0 2.44 0a1.22 1.22 0 1 0 -2.44 0M71.63 183.59a1.22 1.22 0 1 0 2.44 0a1.22 1.22 0 1 0 -2.44 0M81.95 181.82a1.22 1.22 0 1 0 2.44 0a1.22 1.22 0 1 0 -2.44 0M112.48 174.55a1.22 1.22 0 1 0 2.44 0a1.22 1.22 0 1 0 -2.44 0M125.94 202.21a1.22 1.22 0 1 0 2.44 0a1.22 1.22 0 1 0 -2.44 0M61.04 171.96a1.22 1.22 0 1 0 2.44 0a1.22 1.22 0 1 0 -2.44 0M83.65 197.96a1.22 1.22 0 1 0 2.44 0a1.22 1.22 0 1 0 -2.44 0M139.87 128.42a1.22 1.22 0 1 0 2.44 0a1.22 1.22 0 1 0 -2.44 0M158.10 156.85a1.22 1.22 0 1 0 2.44 0a1.22 1.22 0 1 0 -2.44 0M91.23 207.73a1.22 1.22 0 1 0 2.44 0a1.22 1.22 0 1 0 -2.44 0M83.31 164.13a1.22 1.22 0 1 0 2.44 0a1.22 1.22 0 1 0 -2.44 0M85.41 206.88a1.22 1.22 0 1 0 2.44 0a1.22 1.22 0 1 0 -2.44 0M56.41 183.62a1.22 1.22 0 1 0 2.44 0a1.22 1.22 0 1 0 -2.44 0M120.96 169.11a1.22 1.22 0 1 0 2.44 0a1.22 1.22 0 1 0 -2.44 0M87.38 185.73a1.22 1.22 0 1 0 2.44 0a1.22 1.22 0 1 0 -2.44 0M92.39 190.01a1.22 1.22 0 1 0 2.44 0a1.22 1.22 0 1 0 -2.44 0M167.33 175.91a1.22 1.22 0 1 0 2.44 0a1.22 1.22 0 1 0 -2.44 0M66.36 146.72a1.22 1.22 0 1 0 2.44 0a1.22 1.22 0 1 0 -2.44 0M97.10 221.72a1.22 1.22 0 1 0 2.44 0a1.22 1.22 0 1 0 -2.44 0M66.36 201.84a1.22 1.22 0 1 0 2.44 0a1.22 1.22 0 1 0 -2.44 0M64.00 159.54a1.22 1.22 0 1 0 2.44 0a1.22 1.22 0 1 0 -2.44 0M64.16 187.25a1.22 1.22 0 1 0 2.44 0a1.22 1.22 0 1 0 -2.44 0M62.95 208.98a1.22 1.22 0 1 0 2.44 0a1.22 1.22 0 1 0 -2.44 0M74.70 185.92a1.22 1.22 0 1 0 2.44 0a1.22 1.22 0 1 0 -2.44 0M102.98 221.09a1.22 1.22 0 1 0 2.44 0a1.22 1.22 0 1 0 -2.44 0M89.75 174.90a1.22 1.22 0 1 0 2.44 0a1.22 1.22 0 1 0 -2.44 0M93.68 173.75a1.22 1.22 0 1 0 2.44 0a1.22 1.22 0 1 0 -2.44 0M58.92 220.40a1.22 1.22 0 1 0 2.44 0a1.22 1.22 0 1 0 -2.44 0M94.56 147.07a1.22 1.22 0 1 0 2.44 0a1.22 1.22 0 1 0 -2.44 0M138.84 156.46a1.22 1.22 0 1 0 2.44 0a1.22 1.22 0 1 0 -2.44 0M89.50 188.90a1.22 1.22 0 1 0 2.44 0a1.22 1.22 0 1 0 -2.44 0M78.29 181.56a1.22 1.22 0 1 0 2.44 0a1.22 1.22 0 1 0 -2.44 0M82.74 191.70a1.22 1.22 0 1 0 2.44 0a1.22 1.22 0 1 0 -2.44 0M67.32 182.86a1.22 1.22 0 1 0 2.44 0a1.22 1.22 0 1 0 -2.44 0M118.21 146.62a1.22 1.22 0 1 0 2.44 0a1.22 1.22 0 1 0 -2.44 0M64.67 122.03a1.22 1.22 0 1 0 2.44 0a1.22 1.22 0 1 0 -2.44 0M69.97 187.14a1.22 1.22 0 1 0 2.44 0a1.22 1.22 0 1 0 -2.44 0M79.07 152.24a1.22 1.22 0 1 0 2.44 0a1.22 1.22 0 1 0 -2.44 0M69.75 226.69a1.22 1.22 0 1 0 2.44 0a1.22 1.22 0 1 0 -2.44 0M137.13 184.71a1.22 1.22 0 1 0 2.44 0a1.22 1.22 0 1 0 -2.44 0M78.60 199.53a1.22 1.22 0 1 0 2.44 0a1.22 1.22 0 1 0 -2.44 0M67.46 152.35a1.22 1.22 0 1 0 2.44 0a1.22 1.22 0 1 0 -2.44 0M164.68 220.82a1.22 1.22 0 1 0 2.44 0a1.22 1.22 0 1 0 -2.44 0M72.80 171.99a1.22 1.22 0 1 0 2.44 0a1.22 1.22 0 1 0 -2.44 0M84.32 199.56a1.22 1.22 0 1 0 2.44 0a1.22 1.22 0 1 0 -2.44 0M130.98 177.49a1.22 1.22 0 1 0 2.44 0a1.22 1.22 0 1 0 -2.44 0M78.68 173.59a1.22 1.22 0 1 0 2.44 0a1.22 1.22 0 1 0 -2.44 0M114.84 195.46a1.22 1.22 0 1 0 2.44 0a1.22 1.22 0 1 0 -2.44 0M78.74 175.41a1.22 1.22 0 1 0 2.44 0a1.22 1.22 0 1 0 -2.44 0M105.66 195.31a1.22 1.22 0 1 0 2.44 0a1.22 1.22 0 1 0 -2.44 0M121.84 175.70a1.22 1.22 0 1 0 2.44 0a1.22 1.22 0 1 0 -2.44 0M122.90 169.58a1.22 1.22 0 1 0 2.44 0a1.22 1.22 0 1 0 -2.44 0M80.73 188.07a1.22 1.22 0 1 0 2.44 0a1.22 1.22 0 1 0 -2.44 0M125.43 167.86a1.22 1.22 0 1 0 2.44 0a1.22 1.22 0 1 0 -2.44 0M66.98 170.56a1.22 1.22 0 1 0 2.44 0a1.22 1.22 0 1 0 -2.44 0M107.55 188.08a1.22 1.22 0 1 0 2.44 0a1.22 1.22 0 1 0 -2.44 0M85.34 193.37a1.22 1.22 0 1 0 2.44 0a1.22 1.22 0 1 0 -2.44 0M82.44 184.05a1.22 1.22 0 1 0 2.44 0a1.22 1.22 0 1 0 -2.44 0M83.70 187.71a1.22 1.22 0 1 0 2.44 0a1.22 1.22 0 1 0 -2.44 0M93.60 179.11a1.22 1.22 0 1 0 2.44 0a1.22 1.22 0 1 0 -2.44 0M107.52 181.88a1.22 1.22 0 1 0 2.44 0a1.22 1.22 0 1 0 -2.44 0M79.35 183.66a1.22 1.22 0 1 0 2.44 0a1.22 1.22 0 1 0 -2.44 0M94.59 184.65a1.22 1.22 0 1 0 2.44 0a1.22 1.22 0 1 0 -2.44 0M73.23 171.44a1.22 1.22 0 1 0 2.44 0a1.22 1.22 0 1 0 -2.44 0M77.67 138.70a1.22 1.22 0 1 0 2.44 0a1.22 1.22 0 1 0 -2.44 0M90.42 198.56a1.22 1.22 0 1 0 2.44 0a1.22 1.22 0 1 0 -2.44 0M134.36 148.64a1.22 1.22 0 1 0 2.44 0a1.22 1.22 0 1 0 -2.44 0M64.63 149.85a1.22 1.22 0 1 0 2.44 0a1.22 1.22 0 1 0 -2.44 0M85.27 164.69a1.22 1.22 0 1 0 2.44 0a1.22 1.22 0 1 0 -2.44 0M83.52 187.16a1.22 1.22 0 1 0 2.44 0a1.22 1.22 0 1 0 -2.44 0M167.93 230.92a1.22 1.22 0 1 0 2.44 0a1.22 1.22 0 1 0 -2.44 0M95.82 154.08a1.22 1.22 0 1 0 2.44 0a1.22 1.22 0 1 0 -2.44 0M173.33 147.85a1.22 1.22 0 1 0 2.44 0a1.22 1.22 0 1 0 -2.44 0M122.04 175.55a1.22 1.22 0 1 0 2.44 0a1.22 1.22 0 1 0 -2.44 0M162.09 182.75a1.22 1.22 0 1 0 2.44 0a1.22 1.22 0 1 0 -2.44 0M100.65 202.98a1.22 1.22 0 1 0 2.44 0a1.22 1.22 0 1 0 -2.44 0M150.40 166.40a1.22 1.22 0 1 0 2.44 0a1.22 1.22 0 1 0 -2.44 0M162.40 139.31a1.22 1.22 0 1 0 2.44 0a1.22 1.22 0 1 0 -2.44 0M56.65 171.87a1.22 1.22 0 1 0 2.44 0a1.22 1.22 0 1 0 -2.44 0M66.42 177.19a1.22 1.22 0 1 0 2.44 0a1.22 1.22 0 1 0 -2.44 0M81.89 189.62a1.22 1.22 0 1 0 2.44 0a1.22 1.22 0 1 0 -2.44 0M74.74 221.77a1.22 1.22 0 1 0 2.44 0a1.22 1.22 0 1 0 -2.44 0M82.28 150.04a1.22 1.22 0 1 0 2.44 0a1.22 1.22 0 1 0 -2.44 0M139.64 134.90a1.22 1.22 0 1 0 2.44 0a1.22 1.22 0 1 0 -2.44 0M79.36 223.53a1.22 1.22 0 1 0 2.44 0a1.22 1.22 0 1 0 -2.44 0M157.01 165.74a1.22 1.22 0 1 0 2.44 0a1.22 1.22 0 1 0 -2.44 0M130.54 148.73a1.22 1.22 0 1 0 2.44 0a1.22 1.22 0 1 0 -2.44 0M93.54 182.56a1.22 1.22 0 1 0 2.44 0a1.22 1.22 0 1 0 -2.44 0M168.95 186.68a1.22 1.22 0 1 0 2.44 0a1.22 1.22 0 1 0 -2.44 0M116.99 189.21a1.22 1.22 0 1 0 2.44 0a1.22 1.22 0 1 0 -2.44 0M129.84 194.00a1.22 1.22 0 1 0 2.44 0a1.22 1.22 0 1 0 -2.44 0M67.67 206.83a1.22 1.22 0 1 0 2.44 0a1.22 1.22 0 1 0 -2.44 0M107.29 189.38a1.22 1.22 0 1 0 2.44 0a1.22 1.22 0 1 0 -2.44 0M63.21 176.78a1.22 1.22 0 1 0 2.44 0a1.22 1.22 0 1 0 -2.44 0M56.82 181.88a1.22 1.22 0 1 0 2.44 0a1.22 1.22 0 1 0 -2.44 0M127.05 150.84a1.22 1.22 0 1 0 2.44 0a1.22 1.22 0 1 0 -2.44 0M117.21 163.52a1.22 1.22 0 1 0 2.44 0a1.22 1.22 0 1 0 -2.44 0M111.39 207.44a1.22 1.22 0 1 0 2.44 0a1.22 1.22 0 1 0 -2.44 0M96.14 153.03a1.22 1.22 0 1 0 2.44 0a1.22 1.22 0 1 0 -2.44 0M86.27 126.37a1.22 1.22 0 1 0 2.44 0a1.22 1.22 0 1 0 -2.44 0M59.82 230.05a1.22 1.22 0 1 0 2.44 0a1.22 1.22 0 1 0 -2.44 0M95.37 204.56a1.22 1.22 0 1 0 2.44 0a1.22 1.22 0 1 0 -2.44 0M99.38 200.81a1.22 1.22 0 1 0 2.44 0a1.22 1.22 0 1 0 -2.44 0M69.88 187.80a1.22 1.22 0 1 0 2.44 0a1.22 1.22 0 1 0 -2.44 0M83.71 196.66a1.22 1.22 0 1 0 2.44 0a1.22 1.22 0 1 0 -2.44 0M55.27 189.08a1.22 1.22 0 1 0 2.44 0a1.22 1.22 0 1 0 -2.44 0M117.42 180.20a1.22 1.22 0 1 0 2.44 0a1.22 1.22 0 1 0 -2.44 0M174.67 155.20a1.22 1.22 0 1 0 2.44 0a1.22 1.22 0 1 0 -2.44 0M101.04 180.20a1.22 1.22 0 1 0 2.44 0a1.22 1.22 0 1 0 -2.44 0M85.95 174.76a1.22 1.22 0 1 0 2.44 0a1.22 1.22 0 1 0 -2.44 0M92.52 148.73a1.22 1.22 0 1 0 2.44 0a1.22 1.22 0 1 0 -2.44 0M66.18 196.32a1.22 1.22 0 1 0 2.44 0a1.22 1.22 0 1 0 -2.44 0M87.55 208.28a1.22 1.22 0 1 0 2.44 0a1.22 1.22 0 1 0 -2.44 0M64.45 180.72a1.22 1.22 0 1 0 2.44 0a1.22 1.22 0 1 0 -2.44 0M69.71 198.41a1.22 1.22 0 1 0 2.44 0a1.22 1.22 0 1 0 -2.44 0M120.62 227.11a1.22 1.22 0 1 0 2.44 0a1.22 1.22 0 1 0 -2.44 0M85.34 168.17a1.22 1.22 0 1 0 2.44 0a1.22 1.22 0 1 0 -2.44 0M87.59 178.31a1.22 1.22 0 1 0 2.44 0a1.22 1.22 0 1 0 -2.44 0M121.71 188.16a1.22 1.22 0 1 0 2.44 0a1.22 1.22 0 1 0 -2.44 0M137.91 149.83a1.22 1.22 0 1 0 2.44 0a1.22 1.22 0 1 0 -2.44 0M55.80 163.31a1.22 1.22 0 1 0 2.44 0a1.22 1.22 0 1 0 -2.44 0M122.27 153.15a1.22 1.22 0 1 0 2.44 0a1.22 1.22 0 1 0 -2.44 0M104.27 128.17a1.22 1.22 0 1 0 2.44 0a1.22 1.22 0 1 0 -2.44 0M103.26 150.80a1.22 1.22 0 1 0 2.44 0a1.22 1.22 0 1 0 -2.44 0M110.50 220.61a1.22 1.22 0 1 0 2.44 0a1.22 1.22 0 1 0 -2.44 0M57.57 191.41a1.22 1.22 0 1 0 2.44 0a1.22 1.22 0 1 0 -2.44 0" fill="none" stroke="#000" stroke-width="1.0"/>
<path d="M54.95 181.60a1.75 1.75 0 1 0 3.5 0a1.75 1.75 0 1 0 -3.5 0M55.35 181.60a1.75 1.75 0 1 0 3.5 0a1.75 1.75 0 1 0 -3.5 0M55.75 181.61a1.75 1.75 0 1 0 3.5 0a1.75 1.75 0 1 0 -3.5 0M56.15 181.62a1.75 1.75 0 1 0 3.5 0a1.75 1.75 0 1 0 -3.5 0M56.55 181.62a1.75 1.75 0 1 0 3.5 0a1.75 1.75 0 1 0 -3.5 0M56.95 181.63a1.75 1.75 0 1 0 3.5 0a1.75 1.75 0 1 0 -3.5 0M57.35 181.64a1.75 1.75 0 1 0 3.5 0a1.75 1.75 0 1 0 -3.5 0M57.75 181.64a1.75 1.75 0 1 0 3.5 0a1.75 1.75 0 1 0 -3.5 0M58.15 181.65a1.75 1.75 0 1 0 3.5 0a1.75 1.75 0 1 0 -3.5 0M58.55 181.66a1.75 1.75 0 1 0 3.5 0a1.75 1.75 0 1 0 -3.5 0M58.95 181.66a1.75 1.75 0 1 0 3.5 0a1.75 1.75 0 1 0 -3.5 0M59.35 181.67a1.75 1.75 0 1 0 3.5 0a1.75 1.75 0 1 0 -3.5 0M59.75 181.67a1.75 1.75 0 1 0 3.5 0a1.75 1.75 0 1 0 -3.5 0M60.15 181.68a1.75 1.75 0 1 0 3.5 0a1.75 1.75 0 1 0 -3.5 0M60.55 181.69a1.75 1.75 0 1 0 3.5 0a1.75 1.75 0 1 0 -3.5 0M60.95 181.69a1.75 1.75 0 1 0 3.5 0a1.75 1.75 0 1 0 -3.5 0M61.35 181.70a1.75 1.75 0 1 0 3.5 0a1.75 1.75 0 1 0 -3.5 0M61.75 181.71a1.75 1.75 0 1 0 3.5 0a1.75 1.75 0 1 0 -3.5 0M62.15 181.71a1.75 1.75 0 1 0 3.5 0a1.75 1.75 0 1 0 -3.5 0M62.55 181.72a1.75 1.75 0 1 0 3.5 0a1.75 1.75 0 1 0 -3.5 0M62.95 181.72a1.75 1.75 0 1 0 3.5 0a1.75 1.75 0 1 0 -3.5 0M63.35 181.73a1.75 1.75 0 1 0 3.5 0a1.75 1.75 0 1 0 -3.5 0M63.75 181.73a1.75 1.75 0 1 0 3.5 0a1.75 1.75 0 1 0 -3.5 0M64.15 181.74a1.75 1.75 0 1 0 3.5 0a1.75 1.75 0 1 0 -3.5 0M64.55 181.75a1.75 1.75 0 1 0 3.5 0a1.75 1.75 0 1 0 -3.5 0M64.95 181.75a1.75 1.75 0 1 0 3.5 0a1.75 1.75 0 1 0 -3.5 0M65.35 181.76a1.75 1.75 0 1 0 3.5 0a1.75 1.75 0 1 0 -3.5 0M65.75 181.76a1.75 1.75 0 1 0 3.5 0a1.75 1.75 0 1 0 -3.5 0M66.15 181.77a1.75 1.75 0 1 0 3.5 0a1.75 1.75 0 1 0 -3.5 0M66.55 181.77a1.75 1.75 0 1 0 3.5 0a1.75 1.75 0 1 0 -3.5 0M66.95 181.78a1.75 1.75 0 1 0 3.5 0a1.75 1.75 0 1 0 -3.5 0M67.35 181.78a1.75 1.75 0 1 0 3.5 0a1.75 1.75 0 1 0 -3.5 0M67.75 181.79a1.75 1.75 0 1 0 3.5 0a1.75 1.75 0 1 0 -3.5 0M68.15 181.79a1.75 1.75 0 1 0 3.5 0a1.75 1.75 0 1 0 -3.5 0M68.55 181.79a1.75 1.75 0 1 0 3.5 0a1.75 1.75 0 1 0 -3.5 0M68.95 181.80a1.75 1.75 0 1 0 3.5 0a1.75 1.75 0 1 0 -3.5 0M69.35 181.80a1.75 1.75 0 1 0 3.5 0a1.75 1.75 0 1 0 -3.5 0M69.75 181.81a1.75 1.75 0 1 0 3.5 0a1.75 1.75 0 1 0 -3.5 0M70.15 181.81a1.75 1.75 0 1 0 3.5 0a1.75 1.75 0 1 0 -3.5 0M70.55 181.82a1.75 1.75 0 1 0 3.5 0a1.75 1.75 0 1 0 -3.5 0M70.95 181.82a1.75 1.75 0 1 0 3.5 0a1.75 1.75 0 1 0 -3.5 0M71.35 181.82a1.75 1.75 0 1 0 3.5 0a1.75 1.75 0 1 0 -3.5 0M71.75 181.83a1.75 1.75 0 1 0 3.5 0a1.75 1.75 0 1 0 -3.5 0M72.15 181.83a1.75 1.75 0 1 0 3.5 0a1.75 1.75 0 1 0 -3.5 0M72.55 181.83a1.75 1.75 0 1 0 3.5 0a1.75 1.75 0 1 0 -3.5 0M72.95 181.84a1.75 1.75 0 1 0 3.5 0a1.75 1.75 0 1 0 -3.5 0M73.35 181.84a1.75 1.75 0 1 0 3.5 0a1.75 1.75 0 1 0 -3.5 0M73.75 181.84a1.75 1.75 0 1 0 3.5 0a1.75 1.75 0 1 0 -3.5 0M74.15 181.84a1.75 1.75 0 1 0 3.5 0a1.75 1.75 0 1 0 -3.5 0M74.55 181.85a1.75 1.75 0 1 0 3.5 0a1.75 1.75 0 1 0 -3.5 0M74.95 181.85a1.75 1.75 0 1 0 3.5 0a1.75 1.75 0 1 0 -3.5 0M75.35 181.85a1.75 1.75 0 1 0 3.5 0a1.75 1.75 0 1 0 -3.5 0M75.75 181.85a1.75 1.75 0 1 0 3.5 0a1.75 1.75 0 1 0 -3.5 0M76.15 181.86a1.75 1.75 0 1 0 3.5 0a1.75 1.75 0 1 0 -3.5 0M76.55 181.86a1.75 1.75 0 1 0 3.5 0a1.75 1.75 0 1 0 -3.5 0M76.95 181.86a1.75 1.75 0 1 0 3.5 0a1.75 1.75 0 1 0 -3.5 0M77.35 181.86a1.75 1.75 0 1 0 3.5 0a1.75 1.75 0 1 0 -3.5 0M77.75 181.86a1.75 1.75 0 1 0 3.5 0a1.75 1.75 0 1 0 -3.5 0M78.15 181.86a1.75 1.75 0 1 0 3.5 0a1.75 1.75 0 1 0 -3.5 0M78.55 181.86a1.75 1.75 0 1 0 3.5 0a1.75 1.75 0 1 0 -3.5 0M78.95 181.86a1.75 1.75 0 1 0 3.5 0a1.75 1.75 0 1 0 -3.5 0M79.35 181.86a1.75 1.75 0 1 0 3.5 0a1.75 1.75 0 1 0 -3.5 0M79.75 181.86a1.75 1.75 0 1 0 3.5 0a1.75 1.75 0 1 0 -3.5 0M80.15 181.86a1.75 1.75 0 1 0 3.5 0a1.75 1.75 0 1 0 -3.5 0M80.55 181.86a1.75 1.75 0 1 0 3.5 0a1.75 1.75 0 1 0 -3.5 0M80.95 181.86a1.75 1.75 0 1 0 3.5 0a1.75 1.75 0 1 0 -3.5 0M81.35 181.86a1.75 1.75 0 1 0 3.5 0a1.75 1.75 0 1 0 -3.5 0M81.75 181.86a1.75 1.75 0 1 0 3.5 0a1.75 1.75 0 1 0 -3.5 0M82.15 181.86a1.75 1.75 0 1 0 3.5 0a1.75 1.75 0 1 0 -3.5 0M82.55 181.86a1.75 1.75 0 1 0 3.5 0a1.75 1.75 0 1 0 -3.5 0M82.95 181.86a1.75 1.75 0 1 0 3.5 0a1.75 1.75 0 1 0 -3.5 0M83.35 181.86a1.75 1.75 0 1 0 3.5 0a1.75 1.75 0 1 0 -3.5 0M83.75 181.86a1.75 1.75 0 1 0 3.5 0a1.75 1.75 0 1 0 -3.5 0M84.15 181.85a1.75 1.75 0 1 0 3.5 0a1.75 1.75 0 1 0 -3.5 0M84.55 181.85a1.75 1.75 0 1 0 3.5 0a1.75 1.75 0 1 0 -3.5 0M84.95 181.85a1.75 1.75 0 1 0 3.5 0a1.75 1.75 0 1 0 -3.5 0M85.35 181.85a1.75 1.75 0 1 0 3.5 0a1.75 1.75 0 1 0 -3.5 0M85.75 181.84a1.75 1.75 0 1 0 3.5 0a1.75 1.75 0 1 0 -3.5 0M86.15 181.84a1.75 1.75 0 1 0 3.5 0a1.75 1.75 0 1 0 -3.5 0M86.55 181.84a1.75 1.75 0 1 0 3.5 0a1.75 1.75 0 1 0 -3.5 0M86.95 181.83a1.75 1.75 0 1 0 3.5 0a1.75 1.75 0 1 0 -3.5 0M87.35 181.83a1.75 1.75 0 1 0 3.5 0a1.75 1.75 0 1 0 -3.5 0M87.75 181.83a1.75 1.75 0 1 0 3.5 0a1.75 1.75 0 1 0 -3.5 0M88.15 181.82a1.75 1.75 0 1 0 3.5 0a1.75 1.75 0 1 0 -3.5 0M88.55 181.82a1.75 1.75 0 1 0 3.5 0a1.75 1.75 0 1 0 -3.5 0M88.95 181.81a1.75 1.75 0 1 0 3.5 0a1.75 1.75 0 1 0 -3.5 0M89.35 181.81a1.75 1.75 0 1 0 3.5 0a1.75 1.75 0 1 0 -3.5 0M89.75 181.80a1.75 1.75 0 1 0 3.5 0a1.75 1.75 0 1 0 -3.5 0M90.15 181.80a1.75 1.75 0 1 0 3.5 0a1.75 1.75 0 1 0 -3.5 0M90.55 181.79a1.75 1.75 0 1 0 3.5 0a1.75 1.75 0 1 0 -3.5 0M90.95 181.78a1.75 1.75 0 1 0 3.5 0a1.75 1.75 0 1 0 -3.5 0M91.35 181.78a1.75 1.75 0 1 0 3.5 0a1.75 1.75 0 1 0 -3.5 0M91.75 181.77a1.75 1.75 0 1 0 3.5 0a1.75 1.75 0 1 0 -3.5 0M92.15 181.76a1.75 1.75 0 1 0 3.5 0a1.75 1.75 0 1 0 -3.5 0M92.55 181.75a1.75 1.75 0 1 0 3.5 0a1.75 1.75 0 1 0 -3.5 0M92.95 181.75a1.75 1.75 0 1 0 3.5 0a1.75 1.75 0 1 0 -3.5 0M93.35 181.74a1.75 1.75 0 1 0 3.5 0a1.75 1.75 0 1 0 -3.5 0M93.75 181.73a1.75 1.75 0 1 0 3.5 0a1.75 1.75 0 1 0 -3.5 0M94.15 181.72a1.75 1.75 0 1 0 3.5 0a1.75 1.75 0 1 0 -3.5 0M94.55 181.71a1.75 1.75 0 1 0 3.5 0a1.75 1.75 0 1 0 -3.5 0M94.95 181.70a1.75 1.75 0 1 0 3.5 0a1.75 1.75 0 1 0 -3.5 0M95.35 181.69a1.75 1.75 0 1 0 3.5 0a1.75 1.75 0 1 0 -3.5 0M95.75 181.69a1.75 1.75 0 1 0 3.5 0a1.75 1.75 0 1 0 -3.5 0M96.15 181.67a1.75 1.75 0 1 0 3.5 0a1.75 1.75 0 1 0 -3.5 0M96.55 181.66a1.75 1.75 0 1 0 3.5 0a1.75 1.75 0 1 0 -3.5 0M96.95 181.65a1.75 1.75 0 1 0 3.5 0a1.75 1.75 0 1 0 -3.5 0M97.35 181.64a1.75 1.75 0 1 0 3.5 0a1.75 1.75 0 1 0 -3.5 0M97.75 181.63a1.75 1.75 0 1 0 3.5 0a1.75 1.75 0 1 0 -3.5 0M98.15 181.62a1.75 1.75 0 1 0 3.5 0a1.75 1.75 0 1 0 -3.5 0M98.55 181.61a1.75 1.75 0 1 0 3.5 0a1.75 1.75 0 1 0 -3.5 0M98.95 181.59a1.75 1.75 0 1 0 3.5 0a1.75 1.75 0 1 0 -3.5 0M99.35 181.58a1.75 1.75 0 1 0 3.5 0a1.75 1.75 0 1 0 -3.5 0M99.75 181.57a1.75 1.75 0 1 0 3.5 0a1.75 1.75 0 1 0 -3.5 0M100.15 181.55a1.75 1.75 0 1 0 3.5 0a1.75 1.75 0 1 0 -3.5 0M100.55 181.54a1.75 1.75 0 1 0 3.5 0a1.75 1.75 0 1 0 -3.5 0M100.95 181.52a1.75 1.75 0 1 0 3.5 0a1.75 1.75 0 1 0 -3.5 0M101.35 181.51a1.75 1.75 0 1 0 3.5 0a1.75 1.75 0 1 0 -3.5 0M101.75 181.49a1.75 1.75 0 1 0 3.5 0a1.75 1.75 0 1 0 -3.5 0M102.15 181.47a1.75 1.75 0 1 0 3.5 0a1.75 1.75 0 1 0 -3.5 0M102.55 181.46a1.75 1.75 0 1 0 3.5 0a1.75 1.75 0 1 0 -3.5 0M102.95 181.44a1.75 1.75 0 1 0 3.5 0a1.75 1.75 0 1 0 -3.5 0M103.35 181.42a1.75 1.75 0 1 0 3.5 0a1.75 1.75 0 1 0 -3.5 0M103.75 181.40a1.75 1.75 0 1 0 3.5 0a1.75 1.75 0 1 0 -3.5 0M104.15 181.39a1.75 1.75 0 1 0 3.5 0a1.75 1.75 0 1 0 -3.5 0M104.55 181.37a1.75 1.75 0 1 0 3.5 0a1.75 1.75 0 1 0 -3.5 0M104.95 181.35a1.75 1.75 0 1 0 3.5 0a1.75 1.75 0 1 0 -3.5 0M105.35 181.33a1.75 1.75 0 1 0 3.5 0a1.75 1.75 0 1 0 -3.5 0M105.75 181.30a1.75 1.75 0 1 0 3.5 0a1.75 1.75 0 1 0 -3.5 0M106.15 181.28a1.75 1.75 0 1 0 3.5 0a1.75 1.75 0 1 0 -3.5 0M106.55 181.26a1.75 1.75 0 1 0 3.5 0a1.75 1.75 0 1 0 -3.5 0M106.95 181.24a1.75 1.75 0 1 0 3.5 0a1.75 1.75 0 1 0 -3.5 0M107.35 181.21a1.75 1.75 0 1 0 3.5 0a1.75 1.75 0 1 0 -3.5 0M107.75 181.19a1.75 1.75 0 1 0 3.5 0a1.75 1.75 0 1 0 -3.5 0M108.15 181.17a1.75 1.75 0 1 0 3.5 0a1.75 1.75 0 1 0 -3.5 0M108.55 181.14a1.75 1.75 0 1 0 3.5 0a1.75 1.75 0 1 0 -3.5 0M108.95 181.12a1.75 1.75 0 1 0 3.5 0a1.75 1.75 0 1 0 -3.5 0M109.35 181.09a1.75 1.75 0 1 0 3.5 0a1.75 1.75 0 1 0 -3.5 0M109.75 181.06a1.75 1.75 0 1 0 3.5 0a1.75 1.75 0 1 0 -3.5 0M110.15 181.04a1.75 1.75 0 1 0 3.5 0a1.75 1.75 0 1 0 -3.5 0M110.55 181.01a1.75 1.75 0 1 0 3.5 0a1.75 1.75 0 1 0 -3.5 0M110.95 180.98a1.75 1.75 0 1 0 3.5 0a1.75 1.75 0 1 0 -3.5 0M111.35 180.95a1.75 1.75 0 1 0 3.5 0a1.75 1.75 0 1 0 -3.5 0M111.75 180.92a1.75 1.75 0 1 0 3.5 0a1.75 1.75 0 1 0 -3.5 0M112.15 180.89a1.75 1.75 0 1 0 3.5 0a1.75 1.75 0 1 0 -3.5 0M112.55 180.86a1.75 1.75 0 1 0 3.5 0a1.75 1.75 0 1 0 -3.5 0M112.95 180.82a1.75 1.75 0 1 0 3.5 0a1.75 1.75 0 1 0 -3.5 0M113.35 180.79a1.75 1.75 0 1 0 3.5 0a1.75 1.75 0 1 0 -3.5 0M113.75 180.76a1.75 1.75 0 1 0 3.5 0a1.75 1.75 0 1 0 -3.5 0M114.15 180.72a1.75 1.75 0 1 0 3.5 0a1.75 1.75 0 1 0 -3.5 0M114.55 180.69a1.75 1.75 0 1 0 3.5 0a1.75 1.75 0 1 0 -3.5 0M114.95 180.65a1.75 1.75 0 1 0 3.5 0a1.75 1.75 0 1 0 -3.5 0M115.35 180.62a1.75 1.75 0 1 0 3.5 0a1.75 1.75 0 1 0 -3.5 0M115.75 180.58a1.75 1.75 0 1 0 3.5 0a1.75 1.75 0 1 0 -3.5 0M116.15 180.54a1.75 1.75 0 1 0 3.5 0a1.75 1.75 0 1 0 -3.5 0M116.55 180.50a1.75 1.75 0 1 0 3.5 0a1.75 1.75 0 1 0 -3.5 0M116.95 180.46a1.75 1.75 0 1 0 3.5 0a1.75 1.75 0 1 0 -3.5 0M117.35 180.42a1.75 1.75 0 1 0 3.5 0a1.75 1.75 0 1 0 -3.5 0M117.75 180.38a1.75 1.75 0 1 0 3.5 0a1.75 1.75 0 1 0 -3.5 0M118.15 180.34a1.75 1.75 0 1 0 3.5 0a1.75 1.75 0 1 0 -3.5 0M118.55 180.30a1.75 1.75 0 1 0 3.5 0a1.75 1.75 0 1 0 -3.5 0M118.95 180.25a1.75 1.75 0 1 0 3.5 0a1.75 1.75 0 1 0 -3.5 0M119.35 180.21a1.75 1.75 0 1 0 3.5 0a1.75 1.75 0 1 0 -3.5 0M119.75 180.16a1.75 1.75 0 1 0 3.5 0a1.75 1.75 0 1 0 -3.5 0M120.15 180.12a1.75 1.75 0 1 0 3.5 0a1.75 1.75 0 1 0 -3.5 0M120.55 180.07a1.75 1.75 0 1 0 3.5 0a1.75 1.75 0 1 0 -3.5 0M120.95 180.02a1.75 1.75 0 1 0 3.5 0a1.75 1.75 0 1 0 -3.5 0M121.35 179.98a1.75 1.75 0 1 0 3.5 0a1.75 1.75 0 1 0 -3.5 0M121.75 179.93a1.75 1.75 0 1 0 3.5 0a1.75 1.75 0 1 0 -3.5 0M122.15 179.88a1.75 1.75 0 1 0 3.5 0a1.75 1.75 0 1 0 -3.5 0M122.55 179.82a1.75 1.75 0 1 0 3.5 0a1.75 1.75 0 1 0 -3.5 0M122.95 179.77a1.75 1.75 0 1 0 3.5 0a1.75 1.75 0 1 0 -3.5 0M123.35 179.72a1.75 1.75 0 1 0 3.5 0a1.75 1.75 0 1 0 -3.5 0M123.75 179.67a1.75 1.75 0 1 0 3.5 0a1.75 1.75 0 1 0 -3.5 0M124.15 179.61a1.75 1.75 0 1 0 3.5 0a1.75 1.75 0 1 0 -3.5 0M124.55 179.55a1.75 1.75 0 1 0 3.5 0a1.75 1.75 0 1 0 -3.5 0M124.95 179.50a1.75 1.75 0 1 0 3.5 0a1.75 1.75 0 1 0 -3.5 0M125.35 179.44a1.75 1.75 0 1 0 3.5 0a1.75 1.75 0 1 0 -3.5 0M125.75 179.38a1.75 1.75 0 1 0 3.5 0a1.75 1.75 0 1 0 -3.5 0M126.15 179.32a1.75 1.75 0 1 0 3.5 0a1.75 1.75 0 1 0 -3.5 0M126.55 179.26a1.75 1.75 0 1 0 3.5 0a1.75 1.75 0 1 0 -3.5 0M126.95 179.20a1.75 1.75 0 1 0 3.5 0a1.75 1.75 0 1 0 -3.5 0M127.35 179.14a1.75 1.75 0 1 0 3.5 0a1.75 1.75 0 1 0 -3.5 0M127.75 179.08a1.75 1.75 0 1 0 3.5 0a1.75 1.75 0 1 0 -3.5 0M128.15 179.02a1.75 1.75 0 1 0 3.5 0a1.75 1.75 0 1 0 -3.5 0M128.55 178.95a1.75 1.75 0 1 0 3.5 0a1.75 1.75 0 1 0 -3.5 0M128.95 178.89a1.75 1.75 0 1 0 3.5 0a1.75 1.75 0 1 0 -3.5 0M129.35 178.82a1.75 1.75 0 1 0 3.5 0a1.75 1.75 0 1 0 -3.5 0M129.75 178.76a1.75 1.75 0 1 0 3.5 0a1.75 1.75 0 1 0 -3.5 0M130.15 178.69a1.75 1.75 0 1 0 3.5 0a1.75 1.75 0 1 0 -3.5 0M130.55 178.62a1.75 1.75 0 1 0 3.5 0a1.75 1.75 0 1 0 -3.5 0M130.95 178.55a1.75 1.75 0 1 0 3.5 0a1.75 1.75 0 1 0 -3.5 0M131.35 178.48a1.75 1.75 0 1 0 3.5 0a1.75 1.75 0 1 0 -3.5 0M131.75 178.41a1.75 1.75 0 1 0 3.5 0a1.75 1.75 0 1 0 -3.5 0M132.15 178.34a1.75 1.75 0 1 0 3.5 0a1.75 1.75 0 1 0 -3.5 0M132.55 178.27a1.75 1.75 0 1 0 3.5 0a1.75 1.75 0 1 0 -3.5 0M132.95 178.20a1.75 1.75 0 1 0 3.5 0a1.75 1.75 0 1 0 -3.5 0M133.35 178.12a1.75 1.75 0 1 0 3.5 0a1.75 1.75 0 1 0 -3.5 0M133.75 178.05a1.75 1.75 0 1 0 3.5 0a1.75 1.75 0 1 0 -3.5 0M134.15 177.97a1.75 1.75 0 1 0 3.5 0a1.75 1.75 0 1 0 -3.5 0M134.55 177.90a1.75 1.75 0 1 0 3.5 0a1.75 1.75 0 1 0 -3.5 0M134.95 177.82a1.75 1.75 0 1 0 3.5 0a1.75 1.75 0 1 0 -3.5 0M135.35 177.74a1.75 1.75 0 1 0 3.5 0a1.75 1.75 0 1 0 -3.5 0M135.75 177.67a1.75 1.75 0 1 0 3.5 0a1.75 1.75 0 1 0 -3.5 0M136.15 177.59a1.75 1.75 0 1 0 3.5 0a1.75 1.75 0 1 0 -3.5 0M136.55 177.51a1.75 1.75 0 1 0 3.5 0a1.75 1.75 0 1 0 -3.5 0M136.95 177.43a1.75 1.75 0 1 0 3.5 0a1.75 1.75 0 1 0 -3.5 0M137.35 177.35a1.75 1.75 0 1 0 3.5 0a1.75 1.75 0 1 0 -3.5 0M137.75 177.27a1.75 1.75 0 1 0 3.5 0a1.75 1.75 0 1 0 -3.5 0M138.15 177.18a1.75 1.75 0 1 0 3.5 0a1.75 1.75 0 1 0 -3.5 0M138.55 177.10a1.75 1.75 0 1 0 3.5 0a1.75 1.75 0 1 0 -3.5 0M138.95 177.02a1.75 1.75 0 1 0 3.5 0a1.75 1.75 0 1 0 -3.5 0M139.35 176.93a1.75 1.75 0 1 0 3.5 0a1.75 1.75 0 1 0 -3.5 0M139.75 176.85a1.75 1.75 0 1 0 3.5 0a1.75 1.75 0 1 0 -3.5 0M140.15 176.76a1.75 1.75 0 1 0 3.5 0a1.75 1.75 0 1 0 -3.5 0M140.55 176.68a1.75 1.75 0 1 0 3.5 0a1.75 1.75 0 1 0 -3.5 0M140.95 176.59a1.75 1.75 0 1 0 3.5 0a1.75 1.75 0 1 0 -3.5 0M141.35 176.50a1.75 1.75 0 1 0 3.5 0a1.75 1.75 0 1 0 -3.5 0M141.75 176.41a1.75 1.75 0 1 0 3.5 0a1.75 1.75 0 1 0 -3.5 0M142.15 176.33a1.75 1.75 0 1 0 3.5 0a1.75 1.75 0 1 0 -3.5 0M142.55 176.24a1.75 1.75 0 1 0 3.5 0a1.75 1.75 0 1 0 -3.5 0M142.95 176.15a1.75 1.75 0 1 0 3.5 0a1.75 1.75 0 1 0 -3.5 0M143.35 176.05a1.75 1.75 0 1 0 3.5 0a1.75 1.75 0 1 0 -3.5 0M143.75 175.96a1.75 1.75 0 1 0 3.5 0a1.75 1.75 0 1 0 -3.5 0M144.15 175.87a1.75 1.75 0 1 0 3.5 0a1.75 1.75 0 1 0 -3.5 0M144.55 175.78a1.75 1.75 0 1 0 3.5 0a1.75 1.75 0 1 0 -3.5 0M144.95 175.69a1.75 1.75 0 1 0 3.5 0a1.75 1.75 0 1 0 -3.5 0M145.35 175.59a1.75 1.75 0 1 0 3.5 0a1.75 1.75 0 1 0 -3.5 0M145.75 175.50a1.75 1.75 0 1 0 3.5 0a1.75 1.75 0 1 0 -3.5 0M146.15 175.40a1.75 1.75 0 1 0 3.5 0a1.75 1.75 0 1 0 -3.5 0M146.55 175.31a1.75 1.75 0 1 0 3.5 0a1.75 1.75 0 1 0 -3.5 0M146.95 175.21a1.75 1.75 0 1 0 3.5 0a1.75 1.75 0 1 0 -3.5 0M147.35 175.11a1.75 1.75 0 1 0 3.5 0a1.75 1.75 0 1 0 -3.5 0M147.75 175.02a1.75 1.75 0 1 0 3.5 0a1.75 1.75 0 1 0 -3.5 0M148.15 174.92a1.75 1.75 0 1 0 3.5 0a1.75 1.75 0 1 0 -3.5 0M148.55 174.82a1.75 1.75 0 1 0 3.5 0a1.75 1.75 0 1 0 -3.5 0M148.95 174.73a1.75 1.75 0 1 0 3.5 0a1.75 1.75 0 1 0 -3.5 0M149.35 174.63a1.75 1.75 0 1 0 3.5 0a1.75 1.75 0 1 0 -3.5 0M149.75 174.53a1.75 1.75 0 1 0 3.5 0a1.75 1.75 0 1 0 -3.5 0M150.15 174.43a1.75 1.75 0 1 0 3.5 0a1.75 1.75 0 1 0 -3.5 0M150.55 174.33a1.75 1.75 0 1 0 3.5 0a1.75 1.75 0 1 0 -3.5 0M150.95 174.23a1.75 1.75 0 1 0 3.5 0a1.75 1.75 0 1 0 -3.5 0M151.35 174.13a1.75 1.75 0 1 0 3.5 0a1.75 1.75 0 1 0 -3.5 0M151.75 174.03a1.75 1.75 0 1 0 3.5 0a1.75 1.75 0 1 0 -3.5 0M152.15 173.93a1.75 1.75 0 1 0 3.5 0a1.75 1.75 0 1 0 -3.5 0M152.55 173.83a1.75 1.75 0 1 0 3.5 0a1.75 1.75 0 1 0 -3.5 0M152.95 173.73a1.75 1.75 0 1 0 3.5 0a1.75 1.75 0 1 0 -3.5 0M153.35 173.63a1.75 1.75 0 1 0 3.5 0a1.75 1.75 0 1 0 -3.5 0M153.75 173.53a1.75 1.75 0 1 0 3.5 0a1.75 1.75 0 1 0 -3.5 0M154.15 173.43a1.75 1.75 0 1 0 3.5 0a1.75 1.75 0 1 0 -3.5 0M154.55 173.34a1.75 1.75 0 1 0 3.5 0a1.75 1.75 0 1 0 -3.5 0M154.95 173.24a1.75 1.75 0 1 0 3.5 0a1.75 1.75 0 1 0 -3.5 0M155.35 173.14a1.75 1.75 0 1 0 3.5 0a1.75 1.75 0 1 0 -3.5 0M155.75 173.04a1.75 1.75 0 1 0 3.5 0a1.75 1.75 0 1 0 -3.5 0M156.15 172.94a1.75 1.75 0 1 0 3.5 0a1.75 1.75 0 1 0 -3.5 0M156.55 172.84a1.75 1.75 0 1 0 3.5 0a1.75 1.75 0 1 0 -3.5 0M156.95 172.74a1.75 1.75 0 1 0 3.5 0a1.75 1.75 0 1 0 -3.5 0M157.35 172.64a1.75 1.75 0 1 0 3.5 0a1.75 1.75 0 1 0 -3.5 0M157.75 172.54a1.75 1.75 0 1 0 3.5 0a1.75 1.75 0 1 0 -3.5 0M158.15 172.44a1.75 1.75 0 1 0 3.5 0a1.75 1.75 0 1 0 -3.5 0M158.55 172.35a1.75 1.75 0 1 0 3.5 0a1.75 1.75 0 1 0 -3.5 0M158.95 172.25a1.75 1.75 0 1 0 3.5 0a1.75 1.75 0 1 0 -3.5 0M159.35 172.15a1.75 1.75 0 1 0 3.5 0a1.75 1.75 0 1 0 -3.5 0M159.75 172.05a1.75 1.75 0 1 0 3.5 0a1.75 1.75 0 1 0 -3.5 0M160.15 171.96a1.75 1.75 0 1 0 3.5 0a1.75 1.75 0 1 0 -3.5 0M160.55 171.86a1.75 1.75 0 1 0 3.5 0a1.75 1.75 0 1 0 -3.5 0M160.95 171.77a1.75 1.75 0 1 0 3.5 0a1.75 1.75 0 1 0 -3.5 0M161.35 171.67a1.75 1.75 0 1 0 3.5 0a1.75 1.75 0 1 0 -3.5 0M161.75 171.58a1.75 1.75 0 1 0 3.5 0a1.75 1.75 0 1 0 -3.5 0M162.15 171.48a1.75 1.75 0 1 0 3.5 0a1.75 1.75 0 1 0 -3.5 0M162.55 171.39a1.75 1.75 0 1 0 3.5 0a1.75 1.75 0 1 0 -3.5 0M162.95 171.30a1.75 1.75 0 1 0 3.5 0a1.75 1.75 0 1 0 -3.5 0M163.35 171.20a1.75 1.75 0 1 0 3.5 0a1.75 1.75 0 1 0 -3.5 0M163.75 171.11a1.75 1.75 0 1 0 3.5 0a1.75 1.75 0 1 0 -3.5 0M164.15 171.02a1.75 1.75 0 1 0 3.5 0a1.75 1.75 0 1 0 -3.5 0M164.55 170.93a1.75 1.75 0 1 0 3.5 0a1.75 1.75 0 1 0 -3.5 0M164.95 170.84a1.75 1.75 0 1 0 3.5 0a1.75 1.75 0 1 0 -3.5 0M165.35 170.75a1.75 1.75 0 1 0 3.5 0a1.75 1.75 0 1 0 -3.5 0M165.75 170.66a1.75 1.75 0 1 0 3.5 0a1.75 1.75 0 1 0 -3.5 0M166.15 170.57a1.75 1.75 0 1 0 3.5 0a1.75 1.75 0 1 0 -3.5 0M166.55 170.49a1.75 1.75 0 1 0 3.5 0a1.75 1.75 0 1 0 -3.5 0M166.95 170.40a1.75 1.75 0 1 0 3.5 0a1.75 1.75 0 1 0 -3.5 0M167.35 170.31a1.75 1.75 0 1 0 3.5 0a1.75 1.75 0 1 0 -3.5 0M167.75 170.23a1.75 1.75 0 1 0 3.5 0a1.75 1.75 0 1 0 -3.5 0M168.15 170.14a1.75 1.75 0 1 0 3.5 0a1.75 1.75 0 1 0 -3.5 0M168.55 170.06a1.75 1.75 0 1 0 3.5 0a1.75 1.75 0 1 0 -3.5 0M168.99 169.97a1.75 1.75 0 1 0 3.5 0a1.75 1.75 0 1 0 -3.5 0M169.44 169.87a1.75 1.75 0 1 0 3.5 0a1.75 1.75 0 1 0 -3.5 0M169.71 169.82a1.75 1.75 0 1 0 3.5 0a1.75 1.75 0 1 0 -3.5 0M170.25 169.71a1.75 1.75 0 1 0 3.5 0a1.75 1.75 0 1 0 -3.5 0M170.30 169.70a1.75 1.75 0 1 0 3.5 0a1.75 1.75 0 1 0 -3.5 0M171.07 169.54a1.75 1.75 0 1 0 3.5 0a1.75 1.75 0 1 0 -3.5 0M171.09 169.54a1.75 1.75 0 1 0 3.5 0a1.75 1.75 0 1 0 -3.5 0M171.22 169.51a1.75 1.75 0 1 0 3.5 0a1.75 1.75 0 1 0 -3.5 0M171.30 169.50a1.75 1.75 0 1 0 3.5 0a1.75 1.75 0 1 0 -3.5 0M171.51 169.45a1.75 1.75 0 1 0 3.5 0a1.75 1.75 0 1 0 -3.5 0M171.79 169.40a1.75 1.75 0 1 0 3.5 0a1.75 1.75 0 1 0 -3.5 0M172.09 169.34a1.75 1.75 0 1 0 3.5 0a1.75 1.75 0 1 0 -3.5 0M172.12 169.33a1.75 1.75 0 1 0 3.5 0a1.75 1.75 0 1 0 -3.5 0M172.61 169.24a1.75 1.75 0 1 0 3.5 0a1.75 1.75 0 1 0 -3.5 0M172.94 169.17a1.75 1.75 0 1 0 3.5 0a1.75 1.75 0 1 0 -3.5 0M173.17 169.13a1.75 1.75 0 1 0 3.5 0a1.75 1.75 0 1 0 -3.5 0M173.46 169.07a1.75 1.75 0 1 0 3.5 0a1.75 1.75 0 1 0 -3.5 0M173.79 169.01a1.75 1.75 0 1 0 3.5 0a1.75 1.75 0 1 0 -3.5 0M173.87 169.00a1.75 1.75 0 1 0 3.5 0a1.75 1.75 0 1 0 -3.5 0M173.90 168.99a1.75 1.75 0 1 0 3.5 0a1.75 1.75 0 1 0 -3.5 0M174.08 168.95a1.75 1.75 0 1 0 3.5 0a1.75 1.75 0 1 0 -3.5 0M174.09 168.95a1.75 1.75 0 1 0 3.5 0a1.75 1.75 0 1 0 -3.5 0M174.13 168.95a1.75 1.75 0 1 0 3.5 0a1.75 1.75 0 1 0 -3.5 0M174.29 168.91a1.75 1.75 0 1 0 3.5 0a1.75 1.75 0 1 0 -3.5 0M174.30 168.91a1.75 1.75 0 1 0 3.5 0a1.75 1.75 0 1 0 -3.5 0M174.42 168.89a1.75 1.75 0 1 0 3.5 0a1.75 1.75 0 1 0 -3.5 0M174.87 168.81a1.75 1.75 0 1 0 3.5 0a1.75 1.75 0 1 0 -3.5 0M175.83 168.63a1.75 1.75 0 1 0 3.5 0a1.75 1.75 0 1 0 -3.5 0M176.06 168.59a1.75 1.75 0 1 0 3.5 0a1.75 1.75 0 1 0 -3.5 0M176.25 168.55a1.75 1.75 0 1 0 3.5 0a1.75 1.75 0 1 0 -3.5 0M176.27 168.55a1.75 1.75 0 1 0 3.5 0a1.75 1.75 0 1 0 -3.5 0M176.37 168.53a1.75 1.75 0 1 0 3.5 0a1.75 1.75 0 1 0 -3.5 0M176.40 168.52a1.75 1.75 0 1 0 3.5 0a1.75 1.75 0 1 0 -3.5 0M176.41 168.52a1.75 1.75 0 1 0 3.5 0a1.75 1.75 0 1 0 -3.5 0M176.80 168.45a1.75 1.75 0 1 0 3.5 0a1.75 1.75 0 1 0 -3.5 0M178.16 168.21a1.75 1.75 0 1 0 3.5 0a1.75 1.75 0 1 0 -3.5 0M178.18 168.21a1.75 1.75 0 1 0 3.5 0a1.75 1.75 0 1 0 -3.5 0M178.31 168.19a1.75 1.75 0 1 0 3.5 0a1.75 1.75 0 1 0 -3.5 0M178.46 168.16a1.75 1.75 0 1 0 3.5 0a1.75 1.75 0 1 0 -3.5 0M178.67 168.12a1.75 1.75 0 1 0 3.5 0a1.75 1.75 0 1 0 -3.5 0M178.73 168.11a1.75 1.75 0 1 0 3.5 0a1.75 1.75 0 1 0 -3.5 0M178.79 168.10a1.75 1.75 0 1 0 3.5 0a1.75 1.75 0 1 0 -3.5 0M178.80 168.10a1.75 1.75 0 1 0 3.5 0a1.75 1.75 0 1 0 -3.5 0M178.94 168.08a1.75 1.75 0 1 0 3.5 0a1.75 1.75 0 1 0 -3.5 0M179.66 167.95a1.75 1.75 0 1 0 3.5 0a1.75 1.75 0 1 0 -3.5 0M179.72 167.95a1.75 1.75 0 1 0 3.5 0a1.75 1.75 0 1 0 -3.5 0M179.78 167.94a1.75 1.75 0 1 0 3.5 0a1.75 1.75 0 1 0 -3.5 0M180.73 167.78a1.75 1.75 0 1 0 3.5 0a1.75 1.75 0 1 0 -3.5 0M180.93 167.74a1.75 1.75 0 1 0 3.5 0a1.75 1.75 0 1 0 -3.5 0M180.94 167.74a1.75 1.75 0 1 0 3.5 0a1.75 1.75 0 1 0 -3.5 0M180.97 167.74a1.75 1.75 0 1 0 3.5 0a1.75 1.75 0 1 0 -3.5 0M181.27 167.69a1.75 1.75 0 1 0 3.5 0a1.75 1.75 0 1 0 -3.5 0M181.33 167.68a1.75 1.75 0 1 0 3.5 0a1.75 1.75 0 1 0 -3.5 0M181.87 167.59a1.75 1.75 0 1 0 3.5 0a1.75 1.75 0 1 0 -3.5 0M182.03 167.57a1.75 1.75 0 1 0 3.5 0a1.75 1.75 0 1 0 -3.5 0M182.14 167.55a1.75 1.75 0 1 0 3.5 0a1.75 1.75 0 1 0 -3.5 0M182.36 167.51a1.75 1.75 0 1 0 3.5 0a1.75 1.75 0 1 0 -3.5 0M182.57 167.48a1.75 1.75 0 1 0 3.5 0a1.75 1.75 0 1 0 -3.5 0M182.82 167.44a1.75 1.75 0 1 0 3.5 0a1.75 1.75 0 1 0 -3.5 0M183.00 167.41a1.75 1.75 0 1 0 3.5 0a1.75 1.75 0 1 0 -3.5 0M183.12 167.39a1.75 1.75 0 1 0 3.5 0a1.75 1.75 0 1 0 -3.5 0M183.50 167.33a1.75 1.75 0 1 0 3.5 0a1.75 1.75 0 1 0 -3.5 0M183.58 167.32a1.75 1.75 0 1 0 3.5 0a1.75 1.75 0 1 0 -3.5 0M183.62 167.32a1.75 1.75 0 1 0 3.5 0a1.75 1.75 0 1 0 -3.5 0M183.69 167.30a1.75 1.75 0 1 0 3.5 0a1.75 1.75 0 1 0 -3.5 0M184.12 167.24a1.75 1.75 0 1 0 3.5 0a1.75 1.75 0 1 0 -3.5 0M184.27 167.22a1.75 1.75 0 1 0 3.5 0a1.75 1.75 0 1 0 -3.5 0M184.54 167.17a1.75 1.75 0 1 0 3.5 0a1.75 1.75 0 1 0 -3.5 0M184.70 167.15a1.75 1.75 0 1 0 3.5 0a1.75 1.75 0 1 0 -3.5 0M185.16 167.08a1.75 1.75 0 1 0 3.5 0a1.75 1.75 0 1 0 -3.5 0M185.39 167.05a1.75 1.75 0 1 0 3.5 0a1.75 1.75 0 1 0 -3.5 0M185.46 167.04a1.75 1.75 0 1 0 3.5 0a1.75 1.75 0 1 0 -3.5 0M185.68 167.01a1.75 1.75 0 1 0 3.5 0a1.75 1.75 0 1 0 -3.5 0M185.69 167.00a1.75 1.75 0 1 0 3.5 0a1.75 1.75 0 1 0 -3.5 0M185.95 166.97a1.75 1.75 0 1 0 3.5 0a1.75 1.75 0 1 0 -3.5 0M186.02 166.96a1.75 1.75 0 1 0 3.5 0a1.75 1.75 0 1 0 -3.5 0M186.36 166.91a1.75 1.75 0 1 0 3.5 0a1.75 1.75 0 1 0 -3.5 0M186.41 166.90a1.75 1.75 0 1 0 3.5 0a1.75 1.75 0 1 0 -3.5 0M186.60 166.87a1.75 1.75 0 1 0 3.5 0a1.75 1.75 0 1 0 -3.5 0M186.62 166.87a1.75 1.75 0 1 0 3.5 0a1.75 1.75 0 1 0 -3.5 0M186.65 166.86a1.75 1.75 0 1 0 3.5 0a1.75 1.75 0 1 0 -3.5 0M187.00 166.81a1.75 1.75 0 1 0 3.5 0a1.75 1.75 0 1 0 -3.5 0M187.31 166.77a1.75 1.75 0 1 0 3.5 0a1.75 1.75 0 1 0 -3.5 0M187.40 166.76a1.75 1.75 0 1 0 3.5 0a1.75 1.75 0 1 0 -3.5 0M187.48 166.75a1.75 1.75 0 1 0 3.5 0a1.75 1.75 0 1 0 -3.5 0M187.49 166.74a1.75 1.75 0 1 0 3.5 0a1.75 1.75 0 1 0 -3.5 0M187.62 166.73a1.75 1.75 0 1 0 3.5 0a1.75 1.75 0 1 0 -3.5 0M187.76 166.71a1.75 1.75 0 1 0 3.5 0a1.75 1.75 0 1 0 -3.5 0M187.92 166.69a1.75 1.75 0 1 0 3.5 0a1.75 1.75 0 1 0 -3.5 0M188.28 166.64a1.75 1.75 0 1 0 3.5 0a1.75 1.75 0 1 0 -3.5 0M188.30 166.63a1.75 1.75 0 1 0 3.5 0a1.75 1.75 0 1 0 -3.5 0M188.63 166.59a1.75 1.75 0 1 0 3.5 0a1.75 1.75 0 1 0 -3.5 0M188.70 166.58a1.75 1.75 0 1 0 3.5 0a1.75 1.75 0 1 0 -3.5 0M188.98 166.54a1.75 1.75 0 1 0 3.5 0a1.75 1.75 0 1 0 -3.5 0M189.45 166.48a1.75 1.75 0 1 0 3.5 0a1.75 1.75 0 1 0 -3.5 0M189.70 166.44a1.75 1.75 0 1 0 3.5 0a1.75 1.75 0 1 0 -3.5 0M190.19 166.38a1.75 1.75 0 1 0 3.5 0a1.75 1.75 0 1 0 -3.5 0M190.19 166.38a1.75 1.75 0 1 0 3.5 0a1.75 1.75 0 1 0 -3.5 0M190.22 166.38a1.75 1.75 0 1 0 3.5 0a1.75 1.75 0 1 0 -3.5 0M190.42 166.35a1.75 1.75 0 1 0 3.5 0a1.75 1.75 0 1 0 -3.5 0M190.73 166.31a1.75 1.75 0 1 0 3.5 0a1.75 1.75 0 1 0 -3.5 0M190.91 166.29a1.75 1.75 0 1 0 3.5 0a1.75 1.75 0 1 0 -3.5 0M191.24 166.24a1.75 1.75 0 1 0 3.5 0a1.75 1.75 0 1 0 -3.5 0M191.98 166.15a1.75 1.75 0 1 0 3.5 0a1.75 1.75 0 1 0 -3.5 0M192.24 166.12a1.75 1.75 0 1 0 3.5 0a1.75 1.75 0 1 0 -3.5 0M192.86 166.04a1.75 1.75 0 1 0 3.5 0a1.75 1.75 0 1 0 -3.5 0M193.06 166.02a1.75 1.75 0 1 0 3.5 0a1.75 1.75 0 1 0 -3.5 0M193.08 166.02a1.75 1.75 0 1 0 3.5 0a1.75 1.75 0 1 0 -3.5 0M193.21 166.00a1.75 1.75 0 1 0 3.5 0a1.75 1.75 0 1 0 -3.5 0M193.29 165.99a1.75 1.75 0 1 0 3.5 0a1.75 1.75 0 1 0 -3.5 0M194.13 165.89a1.75 1.75 0 1 0 3.5 0a1.75 1.75 0 1 0 -3.5 0M195.01 165.79a1.75 1.75 0 1 0 3.5 0a1.75 1.75 0 1 0 -3.5 0M195.24 165.77a1.75 1.75 0 1 0 3.5 0a1.75 1.75 0 1 0 -3.5 0M195.71 165.71a1.75 1.75 0 1 0 3.5 0a1.75 1.75 0 1 0 -3.5 0M195.82 165.70a1.75 1.75 0 1 0 3.5 0a1.75 1.75 0 1 0 -3.5 0M196.04 165.68a1.75 1.75 0 1 0 3.5 0a1.75 1.75 0 1 0 -3.5 0M196.47 165.63a1.75 1.75 0 1 0 3.5 0a1.75 1.75 0 1 0 -3.5 0M196.82 165.59a1.75 1.75 0 1 0 3.5 0a1.75 1.75 0 1 0 -3.5 0M196.89 165.58a1.75 1.75 0 1 0 3.5 0a1.75 1.75 0 1 0 -3.5 0M197.33 165.54a1.75 1.75 0 1 0 3.5 0a1.75 1.75 0 1 0 -3.5 0M197.43 165.53a1.75 1.75 0 1 0 3.5 0a1.75 1.75 0 1 0 -3.5 0M197.89 165.48a1.75 1.75 0 1 0 3.5 0a1.75 1.75 0 1 0 -3.5 0M198.45 165.42a1.75 1.75 0 1 0 3.5 0a1.75 1.75 0 1 0 -3.5 0M198.69 165.40a1.75 1.75 0 1 0 3.5 0a1.75 1.75 0 1 0 -3.5 0M198.83 165.38a1.75 1.75 0 1 0 3.5 0a1.75 1.75 0 1 0 -3.5 0M199.03 165.36a1.75 1.75 0 1 0 3.5 0a1.75 1.75 0 1 0 -3.5 0M199.18 165.35a1.75 1.75 0 1 0 3.5 0a1.75 1.75 0 1 0 -3.5 0M199.55 165.31a1.75 1.75 0 1 0 3.5 0a1.75 1.75 0 1 0 -3.5 0M200.31 165.24a1.75 1.75 0 1 0 3.5 0a1.75 1.75 0 1 0 -3.5 0M200.61 165.21a1.75 1.75 0 1 0 3.5 0a1.75 1.75 0 1 0 -3.5 0M200.74 165.20a1.75 1.75 0 1 0 3.5 0a1.75 1.75 0 1 0 -3.5 0M200.80 165.19a1.75 1.75 0 1 0 3.5 0a1.75 1.75 0 1 0 -3.5 0M200.91 165.18a1.75 1.75 0 1 0 3.5 0a1.75 1.75 0 1 0 -3.5 0M200.93 165.18a1.75 1.75 0 1 0 3.5 0a1.75 1.75 0 1 0 -3.5 0M201.75 165.11a1.75 1.75 0 1 0 3.5 0a1.75 1.75 0 1 0 -3.5 0M201.81 165.10a1.75 1.75 0 1 0 3.5 0a1.75 1.75 0 1 0 -3.5 0M202.04 165.08a1.75 1.75 0 1 0 3.5 0a1.75 1.75 0 1 0 -3.5 0M202.25 165.06a1.75 1.75 0 1 0 3.5 0a1.75 1.75 0 1 0 -3.5 0M202.26 165.06a1.75 1.75 0 1 0 3.5 0a1.75 1.75 0 1 0 -3.5 0M202.80 165.02a1.75 1.75 0 1 0 3.5 0a1.75 1.75 0 1 0 -3.5 0M203.57 164.95a1.75 1.75 0 1 0 3.5 0a1.75 1.75 0 1 0 -3.5 0M203.59 164.95a1.75 1.75 0 1 0 3.5 0a1.75 1.75 0 1 0 -3.5 0M204.20 164.90a1.75 1.75 0 1 0 3.5 0a1.75 1.75 0 1 0 -3.5 0M204.68 164.86a1.75 1.75 0 1 0 3.5 0a1.75 1.75 0 1 0 -3.5 0M204.70 164.86a1.75 1.75 0 1 0 3.5 0a1.75 1.75 0 1 0 -3.5 0M204.72 164.86a1.75 1.75 0 1 0 3.5 0a1.75 1.75 0 1 0 -3.5 0M204.88 164.84a1.75 1.75 0 1 0 3.5 0a1.75 1.75 0 1 0 -3.5 0M205.21 164.82a1.75 1.75 0 1 0 3.5 0a1.75 1.75 0 1 0 -3.5 0M205.38 164.81a1.75 1.75 0 1 0 3.5 0a1.75 1.75 0 1 0 -3.5 0M205.60 164.79a1.75 1.75 0 1 0 3.5 0a1.75 1.75 0 1 0 -3.5 0M205.72 164.78a1.75 1.75 0 1 0 3.5 0a1.75 1.75 0 1 0 -3.5 0M206.32 164.73a1.75 1.75 0 1 0 3.5 0a1.75 1.75 0 1 0 -3.5 0M207.26 164.67a1.75 1.75 0 1 0 3.5 0a1.75 1.75 0 1 0 -3.5 0M207.31 164.66a1.75 1.75 0 1 0 3.5 0a1.75 1.75 0 1 0 -3.5 0M207.33 164.66a1.75 1.75 0 1 0 3.5 0a1.75 1.75 0 1 0 -3.5 0M208.08 164.61a1.75 1.75 0 1 0 3.5 0a1.75 1.75 0 1 0 -3.5 0M208.83 164.56a1.75 1.75 0 1 0 3.5 0a1.75 1.75 0 1 0 -3.5 0M208.83 164.56a1.75 1.75 0 1 0 3.5 0a1.75 1.75 0 1 0 -3.5 0M209.31 164.53a1.75 1.75 0 1 0 3.5 0a1.75 1.75 0 1 0 -3.5 0M210.21 164.47a1.75 1.75 0 1 0 3.5 0a1.75 1.75 0 1 0 -3.5 0M210.35 164.47a1.75 1.75 0 1 0 3.5 0a1.75 1.75 0 1 0 -3.5 0M210.79 164.44a1.75 1.75 0 1 0 3.5 0a1.75 1.75 0 1 0 -3.5 0M210.90 164.43a1.75 1.75 0 1 0 3.5 0a1.75 1.75 0 1 0 -3.5 0M211.57 164.40a1.75 1.75 0 1 0 3.5 0a1.75 1.75 0 1 0 -3.5 0M211.64 164.39a1.75 1.75 0 1 0 3.5 0a1.75 1.75 0 1 0 -3.5 0M212.14 164.36a1.75 1.75 0 1 0 3.5 0a1.75 1.75 0 1 0 -3.5 0M212.38 164.35a1.75 1.75 0 1 0 3.5 0a1.75 1.75 0 1 0 -3.5 0M212.59 164.34a1.75 1.75 0 1 0 3.5 0a1.75 1.75 0 1 0 -3.5 0M212.69 164.34a1.75 1.75 0 1 0 3.5 0a1.75 1.75 0 1 0 -3.5 0M212.70 164.34a1.75 1.75 0 1 0 3.5 0a1.75 1.75 0 1 0 -3.5 0M212.89 164.33a1.75 1.75 0 1 0 3.5 0a1.75 1.75 0 1 0 -3.5 0M213.95 164.27a1.75 1.75 0 1 0 3.5 0a1.75 1.75 0 1 0 -3.5 0M213.97 164.27a1.75 1.75 0 1 0 3.5 0a1.75 1.75 0 1 0 -3.5 0M214.52 164.25a1.75 1.75 0 1 0 3.5 0a1.75 1.75 0 1 0 -3.5 0M215.58 164.20a1.75 1.75 0 1 0 3.5 0a1.75 1.75 0 1 0 -3.5 0M216.37 164.17a1.75 1.75 0 1 0 3.5 0a1.75 1.75 0 1 0 -3.5 0M216.80 164.15a1.75 1.75 0 1 0 3.5 0a1.75 1.75 0 1 0 -3.5 0M217.31 164.13a1.75 1.75 0 1 0 3.5 0a1.75 1.75 0 1 0 -3.5 0M219.52 164.06a1.75 1.75 0 1 0 3.5 0a1.75 1.75 0 1 0 -3.5 0M219.63 164.06a1.75 1.75 0 1 0 3.5 0a1.75 1.75 0 1 0 -3.5 0M220.42 164.04a1.75 1.75 0 1 0 3.5 0a1.75 1.75 0 1 0 -3.5 0M220.75 164.03a1.75 1.75 0 1 0 3.5 0a1.75 1.75 0 1 0 -3.5 0M221.10 164.02a1.75 1.75 0 1 0 3.5 0a1.75 1.75 0 1 0 -3.5 0M221.44 164.01a1.75 1.75 0 1 0 3.5 0a1.75 1.75 0 1 0 -3.5 0M221.76 164.01a1.75 1.75 0 1 0 3.5 0a1.75 1.75 0 1 0 -3.5 0M221.98 164.00a1.75 1.75 0 1 0 3.5 0a1.75 1.75 0 1 0 -3.5 0M222.16 164.00a1.75 1.75 0 1 0 3.5 0a1.75 1.75 0 1 0 -3.5 0M222.37 163.99a1.75 1.75 0 1 0 3.5 0a1.75 1.75 0 1 0 -3.5 0M222.46 163.99a1.75 1.75 0 1 0 3.5 0a1.75 1.75 0 1 0 -3.5 0M223.27 163.98a1.75 1.75 0 1 0 3.5 0a1.75 1.75 0 1 0 -3.5 0M224.03 163.96a1.75 1.75 0 1 0 3.5 0a1.75 1.75 0 1 0 -3.5 0M224.35 163.96a1.75 1.75 0 1 0 3.5 0a1.75 1.75 0 1 0 -3.5 0M224.79 163.95a1.75 1.75 0 1 0 3.5 0a1.75 1.75 0 1 0 -3.5 0M225.23 163.95a1.75 1.75 0 1 0 3.5 0a1.75 1.75 0 1 0 -3.5 0M225.44 163.95a1.75 1.75 0 1 0 3.5 0a1.75 1.75 0 1 0 -3.5 0M225.73 163.94a1.75 1.75 0 1 0 3.5 0a1.75 1.75 0 1 0 -3.5 0M225.76 163.94a1.75 1.75 0 1 0 3.5 0a1.75 1.75 0 1 0 -3.5 0M225.81 163.94a1.75 1.75 0 1 0 3.5 0a1.75 1.75 0 1 0 -3.5 0M226.87 163.93a1.75 1.75 0 1 0 3.5 0a1.75 1.75 0 1 0 -3.5 0M227.39 163.93a1.75 1.75 0 1 0 3.5 0a1.75 1.75 0 1 0 -3.5 0M227.46 163.93a1.75 1.75 0 1 0 3.5 0a1.75 1.75 0 1 0 -3.5 0M227.89 163.93a1.75 1.75 0 1 0 3.5 0a1.75 1.75 0 1 0 -3.5 0M227.94 163.93a1.75 1.75 0 1 0 3.5 0a1.75 1.75 0 1 0 -3.5 0M228.01 163.93a1.75 1.75 0 1 0 3.5 0a1.75 1.75 0 1 0 -3.5 0M228.30 163.93a1.75 1.75 0 1 0 3.5 0a1.75 1.75 0 1 0 -3.5 0M228.36 163.93a1.75 1.75 0 1 0 3.5 0a1.75 1.75 0 1 0 -3.5 0M228.73 163.92a1.75 1.75 0 1 0 3.5 0a1.75 1.75 0 1 0 -3.5 0M229.05 163.92a1.75 1.75 0 1 0 3.5 0a1.75 1.75 0 1 0 -3.5 0M230.02 163.92a1.75 1.75 0 1 0 3.5 0a1.75 1.75 0 1 0 -3.5 0M230.10 163.92a1.75 1.75 0 1 0 3.5 0a1.75 1.75 0 1 0 -3.5 0M230.41 163.92a1.75 1.75 0 1 0 3.5 0a1.75 1.75 0 1 0 -3.5 0M230.45 163.92a1.75 1.75 0 1 0 3.5 0a1.75 1.75 0 1 0 -3.5 0M231.96 163.93a1.75 1.75 0 1 0 3.5 0a1.75 1.75 0 1 0 -3.5 0M232.15 163.93a1.75 1.75 0 1 0 3.5 0a1.75 1.75 0 1 0 -3.5 0M232.28 163.93a1.75 1.75 0 1 0 3.5 0a1.75 1.75 0 1 0 -3.5 0M232.35 163.93a1.75 1.75 0 1 0 3.5 0a1.75 1.75 0 1 0 -3.5 0M232.36 163.93a1.75 1.75 0 1 0 3.5 0a1.75 1.75 0 1 0 -3.5 0M232.72 163.93a1.75 1.75 0 1 0 3.5 0a1.75 1.75 0 1 0 -3.5 0M234.16 163.94a1.75 1.75 0 1 0 3.5 0a1.75 1.75 0 1 0 -3.5 0M234.21 163.95a1.75 1.75 0 1 0 3.5 0a1.75 1.75 0 1 0 -3.5 0M234.85 163.95a1.75 1.75 0 1 0 3.5 0a1.75 1.75 0 1 0 -3.5 0M241.25 164.06a1.75 1.75 0 1 0 3.5 0a1.75 1.75 0 1 0 -3.5 0M241.95 164.08a1.75 1.75 0 1 0 3.5 0a1.75 1.75 0 1 0 -3.5 0M243.15 164.10a1.75 1.75 0 1 0 3.5 0a1.75 1.75 0 1 0 -3.5 0M244.45 164.14a1.75 1.75 0 1 0 3.5 0a1.75 1.75 0 1 0 -3.5 0M245.25 164.16a1.75 1.75 0 1 0 3.5 0a1.75 1.75 0 1 0 -3.5 0M246.55 164.19a1.75 1.75 0 1 0 3.5 0a1.75 1.75 0 1 0 -3.5 0M247.55 164.22a1.75 1.75 0 1 0 3.5 0a1.75 1.75 0 1 0 -3.5 0M248.75 164.26a1.75 1.75 0 1 0 3.5 0a1.75 1.75 0 1 0 -3.5 0M249.95 164.29a1.75 1.75 0 1 0 3.5 0a1.75 1.75 0 1 0 -3.5 0M253.05 164.39a1.75 1.75 0 1 0 3.5 0a1.75 1.75 0 1 0 -3.5 0M258.15 164.57a1.75 1.75 0 1 0 3.5 0a1.75 1.75 0 1 0 -3.5 0M259.45 164.61a1.75 1.75 0 1 0 3.5 0a1.75 1.75 0 1 0 -3.5 0M261.25 164.67a1.75 1.75 0 1 0 3.5 0a1.75 1.75 0 1 0 -3.5 0M262.35 164.71a1.75 1.75 0 1 0 3.5 0a1.75 1.75 0 1 0 -3.5 0M264.05 164.77a1.75 1.75 0 1 0 3.5 0a1.75 1.75 0 1 0 -3.5 0M265.25 164.80a1.75 1.75 0 1 0 3.5 0a1.75 1.75 0 1 0 -3.5 0M266.85 164.86a1.75 1.75 0 1 0 3.5 0a1.75 1.75 0 1 0 -3.5 0M268.15 164.90a1.75 1.75 0 1 0 3.5 0a1.75 1.75 0 1 0 -3.5 0M269.45 164.94a1.75 1.75 0 1 0 3.5 0a1.75 1.75 0 1 0 -3.5 0M276.25 165.16a1.75 1.75 0 1 0 3.5 0a1.75 1.75 0 1 0 -3.5 0M278.55 165.23a1.75 1.75 0 1 0 3.5 0a1.75 1.75 0 1 0 -3.5 0M283.65 165.40a1.75 1.75 0 1 0 3.5 0a1.75 1.75 0 1 0 -3.5 0M287.15 165.52a1.75 1.75 0 1 0 3.5 0a1.75 1.75 0 1 0 -3.5 0M293.05 165.73a1.75 1.75 0 1 0 3.5 0a1.75 1.75 0 1 0 -3.5 0M298.05 165.92a1.75 1.75 0 1 0 3.5 0a1.75 1.75 0 1 0 -3.5 0M320.55 166.97a1.75 1.75 0 1 0 3.5 0a1.75 1.75 0 1 0 -3.5 0M323.15 167.12a1.75 1.75 0 1 0 3.5 0a1.75 1.75 0 1 0 -3.5 0" fill="#f00" stroke="none" stroke-width="0"/>
<path d="M84.60 207.02a1.22 1.22 0 1 0 2.44 0a1.22 1.22 0 1 0 -2.44 0M67.40 146.40a1.22 1.22 0 1 0 2.44 0a1.22 1.22 0 1 0 -2.44 0M71.99 191.61a1.22 1.22 0 1 0 2.44 0a1.22 1.22 0 1 0 -2.44 0M97.54 150.04a1.22 1.22 0 1 0 2.44 0a1.22 1.22 0 1 0 -2.44 0M104.69 160.75a1.22 1.22 0 1 0 2.44 0a1.22 1.22 0 1 0 -2.44 0M58.07 171.06a1.22 1.22 0 1 0 2.44 0a1.22 1.22 0 1 0 -2.44 0M91.42 180.36a1.22 1.22 0 1 0 2.44 0a1.22 1.22 0 1 0 -2.44 0M101.43 163.21a1.22 1.22 0 1 0 2.44 0a1.22 1.22 0 1 0 -2.44 0M71.11 222.08a1.22 1.22 0 1 0 2.44 0a1.22 1.22 0 1 0 -2.44 0M71.96 170.19a1.22 1.22 0 1 0 2.44 0a1.22 1.22 0 1 0 -2.44 0M75.98 172.52a1.22 1.22 0 1 0 2.44 0a1.22 1.22 0 1 0 -2.44 0M59.22 243.26a1.22 1.22 0 1 0 2.44 0a1.22 1.22 0 1 0 -2.44 0M143.33 185.51a1.22 1.22 0 1 0 2.44 0a1.22 1.22 0 1 0 -2.44 0M157.72 172.89a1.22 1.22 0 1 0 2.44 0a1.22 1.22 0 1 0 -2.44 0M79.71 199.68a1.22 1.22 0 1 0 2.44 0a1.22 1.22 0 1 0 -2.44 0M136.09 187.73a1.22 1.22 0 1 0 2.44 0a1.22 1.22 0 1 0 -2.44 0M77.13 181.12a1.22 1.22 0 1 0 2.44 0a1.22 1.22 0 1 0 -2.44 0M65.55 192.00a1.22 1.22 0 1 0 2.44 0a1.22 1.22 0 1 0 -2.44 0M131.84 195.31a1.22 1.22 0 1 0 2.44 0a1.22 1.22 0 1 0 -2.44 0M110.54 167.67a1.22 1.22 0 1 0 2.44 0a1.22 1.22 0 1 0 -2.44 0M67.02 117.70a1.22 1.22 0 1 0 2.44 0a1.22 1.22 0 1 0 -2.44 0M73.66 150.81a1.22 1.22 0 1 0 2.44 0a1.22 1.22 0 1 0 -2.44 0M71.71 171.77a1.22 1.22 0 1 0 2.44 0a1.22 1.22 0 1 0 -2.44 0M70.43 217.16a1.22 1.22 0 1 0 2.44 0a1.22 1.22 0 1 0 -2.44 0M125.05 167.81a1.22 1.22 0 1 0 2.44 0a1.22 1.22 0 1 0 -2.44 0M55.94 184.71a1.22 1.22 0 1 0 2.44 0a1.22 1.22 0 1 0 -2.44 0M66.25 149.17a1.22 1.22 0 1 0 2.44 0a1.22 1.22 0 1 0 -2.44 0M105.65 163.94a1.22 1.22 0 1 0 2.44 0a1.22 1.22 0 1 0 -2.44 0M55.80 167.57a1.22 1.22 0 1 0 2.44 0a1.22 1.22 0 1 0 -2.44 0M92.66 168.92a1.22 1.22 0 1 0 2.44 0a1.22 1.22 0 1 0 -2.44 0M125.07 157.72a1.22 1.22 0 1 0 2.44 0a1.22 1.22 0 1 0 -2.44 0M71.13 211.83a1.22 1.22 0 1 0 2.44 0a1.22 1.22 0 1 0 -2.44 0M74.28 190.22a1.22 1.22 0 1 0 2.44 0a1.22 1.22 0 1 0 -2.44 0M110.20 184.57a1.22 1.22 0 1 0 2.44 0a1.22 1.22 0 1 0 -2.44 0M90.97 184.72a1.22 1.22 0 1 0 2.44 0a1.22 1.22 0 1 0 -2.44 0M65.55 175.44a1.22 1.22 0 1 0 2.44 0a1.22 1.22 0 1 0 -2.44 0M99.40 165.86a1.22 1.22 0 1 0 2.44 0a1.22 1.22 0 1 0 -2.44 0M59.97 186.44a1.22 1.22 0 1 0 2.44 0a1.22 1.22 0 1 0 -2.44 0M68.06 191.82a1.22 1.22 0 1 0 2.44 0a1.22 1.22 0 1 0 -2.44 0M123.65 157.58a1.22 1.22 0 1 0 2.44 0a1.22 1.22 0 1 0 -2.44 0M108.85 167.16a1.22 1.22 0 1 0 2.44 0a1.22 1.22 0 1 0 -2.44 0M135.43 150.46a1.22 1.22 0 1 0 2.44 0a1.22 1.22 0 1 0 -2.44 0M58.90 151.15a1.22 1.22 0 1 0 2.44 0a1.22 1.22 0 1 0 -2.44 0M80.49 177.01a1.22 1.22 0 1 0 2.44 0a1.22 1.22 0 1 0 -2.44 0M57.61 175.34a1.22 1.22 0 1 0 2.44 0a1.22 1.22 0 1 0 -2.44 0M62.60 183.30a1.22 1.22 0 1 0 2.44 0a1.22 1.22 0 1 0 -2.44 0M77.26 178.22a1.22 1.22 0 1 0 2.44 0a1.22 1.22 0 1 0 -2.44 0M77.78 172.32a1.22 1.22 0 1 0 2.44 0a1.22 1.22 0 1 0 -2.44 0M142.27 157.89a1.22 1.22 0 1 0 2.44 0a1.22 1.22 0 1 0 -2.44 0M69.01 187.32a1.22 1.22 0 1 0 2.44 0a1.22 1.22 0 1 0 -2.44 0M122.21 131.07a1.22 1.22 0 1 0 2.44 0a1.22 1.22 0 1 0 -2.44 0M62.88 188.88a1.22 1.22 0 1 0 2.44 0a1.22 1.22 0 1 0 -2.44 0M95.17 183.73a1.22 1.22 0 1 0 2.44 0a1.22 1.22 0 1 0 -2.44 0M56.82 216.35a1.22 1.22 0 1 0 2.44 0a1.22 1.22 0 1 0 -2.44 0M70.89 188.21a1.22 1.22 0 1 0 2.44 0a1.22 1.22 0 1 0 -2.44 0M65.82 193.50a1.22 1.22 0 1 0 2.44 0a1.22 1.22 0 1 0 -2.44 0M100.86 191.27a1.22 1.22 0 1 0 2.44 0a1.22 1.22 0 1 0 -2.44 0M83.58 158.46a1.22 1.22 0 1 0 2.44 0a1.22 1.22 0 1 0 -2.44 0M73.57 156.79a1.22 1.22 0 1 0 2.44 0a1.22 1.22 0 1 0 -2.44 0M140.67 147.54a1.22 1.22 0 1 0 2.44 0a1.22 1.22 0 1 0 -2.44 0M64.10 233.38a1.22 1.22 0 1 0 2.44 0a1.22 1.22 0 1 0 -2.44 0M93.67 210.49a1.22 1.22 0 1 0 2.44 0a1.22 1.22 0 1 0 -2.44 0M83.41 187.57a1.22 1.22 0 1 0 2.44 0a1.22 1.22 0 1 0 -2.44 0M61.87 221.98a1.22 1.22 0 1 0 2.44 0a1.22 1.22 0 1 0 -2.44 0M78.28 166.41a1.22 1.22 0 1 0 2.44 0a1.22 1.22 0 1 0 -2.44 0M115.35 179.63a1.22 1.22 0 1 0 2.44 0a1.22 1.22 0 1 0 -2.44 0M105.82 154.66a1.22 1.22 0 1 0 2.44 0a1.22 1.22 0 1 0 -2.44 0M96.34 172.47a1.22 1.22 0 1 0 2.44 0a1.22 1.22 0 1 0 -2.44 0M73.96 169.31a1.22 1.22 0 1 0 2.44 0a1.22 1.22 0 1 0 -2.44 0M57.77 171.34a1.22 1.22 0 1 0 2.44 0a1.22 1.22 0 1 0 -2.44 0M95.41 175.52a1.22 1.22 0 1 0 2.44 0a1.22 1.22 0 1 0 -2.44 0M75.36 196.41a1.22 1.22 0 1 0 2.44 0a1.22 1.22 0 1 0 -2.44 0M71.09 196.67a1.22 1.22 0 1 0 2.44 0a1.22 1.22 0 1 0 -2.44 0M68.09 167.56a1.22 1.22 0 1 0 2.44 0a1.22 1.22 0 1 0 -2.44 0M133.90 206.86a1.22 1.22 0 1 0 2.44 0a1.22 1.22 0 1 0 -2.44 0M93.60 200.64a1.22 1.22 0 1 0 2.44 0a1.22 1.22 0 1 0 -2.44 0M139.30 117.15a1.22 1.22 0 1 0 2.44 0a1.22 1.22 0 1 0 -2.44 0M109.43 151.58a1.22 1.22 0 1 0 2.44 0a1.22 1.22 0 1 0 -2.44 0M59.67 179.65a1.22 1.22 0 1 0 2.44 0a1.22 1.22 0 1 0 -2.44 0M72.79 164.39a1.22 1.22 0 1 0 2.44 0a1.22 1.22 0 1 0 -2.44 0M145.49 133.85a1.22 1.22 0 1 0 2.44 0a1.22 1.22 0 1 0 -2.44 0M96.42 189.06a1.22 1.22 0 1 0 2.44 0a1.22 1.22 0 1 0 -2.44 0M71.56 178.59a1.22 1.22 0 1 0 2.44 0a1.22 1.22 0 1 0 -2.44 0M68.65 159.97a1.22 1.22 0 1 0 2.44 0a1.22 1.22 0 1 0 -2.44 0M117.52 184.37a1.22 1.22 0 1 0 2.44 0a1.22 1.22 0 1 0 -2.44 0M82.95 166.39a1.22 1.22 0 1 0 2.44 0a1.22 1.22 0 1 0 -2.44 0M89.98 164.17a1.22 1.22 0 1 0 2.44 0a1.22 1.22 0 1 0 -2.44 0M60.96 144.62a1.22 1.22 0 1 0 2.44 0a1.22 1.22 0 1 0 -2.44 0M66.74 157.29a1.22 1.22 0 1 0 2.44 0a1.22 1.22 0 1 0 -2.44 0M94.23 138.33a1.22 1.22 0 1 0 2.44 0a1.22 1.22 0 1 0 -2.44 0M100.87 141.60a1.22 1.22 0 1 0 2.44 0a1.22 1.22 0 1 0 -2.44 0M80.15 138.33a1.22 1.22 0 1 0 2.44 0a1.22 1.22 0 1 0 -2.44 0M122.64 161.47a1.22 1.22 0 1 0 2.44 0a1.22 1.22 0 1 0 -2.44 0M72.23 144.96a1.22 1.22 0 1 0 2.44 0a1.22 1.22 0 1 0 -2.44 0M113.77 174.88a1.22 1.22 0 1 0 2.44 0a1.22 1.22 0 1 0 -2.44 0M153.52 148.95a1.22 1.22 0 1 0 2.44 0a1.22 1.22 0 1 0 -2.44 0M88.70 219.51a1.22 1.22 0 1 0 2.44 0a1.22 1.22 0 1 0 -2.44 0M151.53 192.68a1.22 1.22 0 1 0 2.44 0a1.22 1.22 0 1 0 -2.44 0M59.79 178.40a1.22 1.22 0 1 0 2.44 0a1.22 1.22 0 1 0 -2.44 0M78.56 200.53a1.22 1.22 0 1 0 2.44 0a1.22 1.22 0 1 0 -2.44 0M84.02 235.72a1.22 1.22 0 1 0 2.44 0a1.22 1.22 0 1 0 -2.44 0M106.22 125.90a1.22 1.22 0 1 0 2.44 0a1.22 1.22 0 1 0 -2.44 0M79.52 193.48a1.22 1.22 0 1 0 2.44 0a1.22 1.22 0 1 0 -2.44 0M66.26 149.02a1.22 1.22 0 1 0 2.44 0a1.22 1.22 0 1 0 -2.44 0M73.07 192.77a1.22 1.22 0 1 0 2.44 0a1.22 1.22 0 1 0 -2.44 0M123.32 218.26a1.22 1.22 0 1 0 2.44 0a1.22 1.22 0 1 0 -2.44 0M61.48 202.61a1.22 1.22 0 1 0 2.44 0a1.22 1.22 0 1 0 -2.44 0M142.11 195.64a1.22 1.22 0 1 0 2.44 0a1.22 1.22 0 1 0 -2.44 0M57.21 202.23a1.22 1.22 0 1 0 2.44 0a1.22 1.22 0 1 0 -2.44 0M105.24 173.52a1.22 1.22 0 1 0 2.44 0a1.22 1.22 0 1 0 -2.44 0M56.88 192.13a1.22 1.22 0 1 0 2.44 0a1.22 1.22 0 1 0 -2.44 0M131.94 167.75a1.22 1.22 0 1 0 2.44 0a1.22 1.22 0 1 0 -2.44 0M120.00 154.00a1.22 1.22 0 1 0 2.44 0a1.22 1.22 0 1 0 -2.44 0M74.35 203.47a1.22 1.22 0 1 0 2.44 0a1.22 1.22 0 1 0 -2.44 0M62.38 123.84a1.22 1.22 0 1 0 2.44 0a1.22 1.22 0 1 0 -2.44 0M80.83 176.91a1.22 1.22 0 1 0 2.44 0a1.22 1.22 0 1 0 -2.44 0M67.70 200.89a1.22 1.22 0 1 0 2.44 0a1.22 1.22 0 1 0 -2.44 0M74.93 196.82a1.22 1.22 0 1 0 2.44 0a1.22 1.22 0 1 0 -2.44 0M60.81 180.97a1.22 1.22 0 1 0 2.44 0a1.22 1.22 0 1 0 -2.44 0M107.68 196.38a1.22 1.22 0 1 0 2.44 0a1.22 1.22 0 1 0 -2.44 0M173.09 147.27a1.22 1.22 0 1 0 2.44 0a1.22 1.22 0 1 0 -2.44 0M115.96 158.31a1.22 1.22 0 1 0 2.44 0a1.22 1.22 0 1 0 -2.44 0M170.59 103.85a1.22 1.22 0 1 0 2.44 0a1.22 1.22 0 1 0 -2.44 0M86.56 174.48a1.22 1.22 0 1 0 2.44 0a1.22 1.22 0 1 0 -2.44 0M67.91 188.73a1.22 1.22 0 1 0 2.44 0a1.22 1.22 0 1 0 -2.44 0M60.77 169.74a1.22 1.22 0 1 0 2.44 0a1.22 1.22 0 1 0 -2.44 0M59.94 206.48a1.22 1.22 0 1 0 2.44 0a1.22 1.22 0 1 0 -2.44 0M78.77 204.22a1.22 1.22 0 1 0 2.44 0a1.22 1.22 0 1 0 -2.44 0M115.34 148.40a1.22 1.22 0 1 0 2.44 0a1.22 1.22 0 1 0 -2.44 0M75.09 193.29a1.22 1.22 0 1 0 2.44 0a1.22 1.22 0 1 0 -2.44 0M76.59 167.71a1.22 1.22 0 1 0 2.44 0a1.22 1.22 0 1 0 -2.44 0M64.32 182.31a1.22 1.22 0 1 0 2.44 0a1.22 1.22 0 1 0 -2.44 0M82.53 175.56a1.22 1.22 0 1 0 2.44 0a1.22 1.22 0 1 0 -2.44 0M84.86 166.74a1.22 1.22 0 1 0 2.44 0a1.22 1.22 0 1 0 -2.44 0M101.86 181.31a1.22 1.22 0 1 0 2.44 0a1.22 1.22 0 1 0 -2.44 0M62.84 191.61a1.22 1.22 0 1 0 2.44 0a1.22 1.22 0 1 0 -2.44 0M178.88 181.89a1.22 1.22 0 1 0 2.44 0a1.22 1.22 0 1 0 -2.44 0M81.40 181.15a1.22 1.22 0 1 0 2.44 0a1.22 1.22 0 1 0 -2.44 0M152.01 125.13a1.22 1.22 0 1 0 2.44 0a1.22 1.22 0 1 0 -2.44 0M74.07 125.81a1.22 1.22 0 1 0 2.44 0a1.22 1.22 0 1 0 -2.44 0M79.35 177.96a1.22 1.22 0 1 0 2.44 0a1.22 1.22 0 1 0 -2.44 0M110.58 159.22a1.22 1.22 0 1 0 2.44 0a1.22 1.22 0 1 0 -2.44 0M66.81 177.37a1.22 1.22 0 1 0 2.44 0a1.22 1.22 0 1 0 -2.44 0M131.03 169.35a1.22 1.22 0 1 0 2.44 0a1.22 1.22 0 1 0 -2.44 0M80.86 176.78a1.22 1.22 0 1 0 2.44 0a1.22 1.22 0 1 0 -2.44 0M59.31 212.37a1.22 1.22 0 1 0 2.44 0a1.22 1.22 0 1 0 -2.44 0M111.65 196.96a1.22 1.22 0 1 0 2.44 0a1.22 1.22 0 1 0 -2.44 0M105.16 202.96a1.22 1.22 0 1 0 2.44 0a1.22 1.22 0 1 0 -2.44 0M58.83 153.96a1.22 1.22 0 1 0 2.44 0a1.22 1.22 0 1 0 -2.44 0M99.02 197.35a1.22 1.22 0 1 0 2.44 0a1.22 1.22 0 1 0 -2.44 0M82.91 210.84a1.22 1.22 0 1 0 2.44 0a1.22 1.22 0 1 0 -2.44 0M63.96 216.77a1.22 1.22 0 1 0 2.44 0a1.22 1.22 0 1 0 -2.44 0M154.89 175.32a1.22 1.22 0 1 0 2.44 0a1.22 1.22 0 1 0 -2.44 0M91.73 155.13a1.22 1.22 0 1 0 2.44 0a1.22 1.22 0 1 0 -2.44 0M163.00 200.98a1.22 1.22 0 1 0 2.44 0a1.22 1.22 0 1 0 -2.44 0M74.85 152.15a1.22 1.22 0 1 0 2.44 0a1.22 1.22 0 1 0 -2.44 0M85.40 124.71a1.22 1.22 0 1 0 2.44 0a1.22 1.22 0 1 0 -2.44 0M73.45 204.73a1.22 1.22 0 1 0 2.44 0a1.22 1.22 0 1 0 -2.44 0M56.98 171.37a1.22 1.22 0 1 0 2.44 0a1.22 1.22 0 1 0 -2.44 0M62.58 243.03a1.22 1.22 0 1 0 2.44 0a1.22 1.22 0 1 0 -2.44 0M97.83 125.48a1.22 1.22 0 1 0 2.44 0a1.22 1.22 0 1 0 -2.44 0M125.24 208.25a1.22 1.22 0 1 0 2.44 0a1.22 1.22 0 1 0 -2.44 0M92.76 178.35a1.22 1.22 0 1 0 2.44 0a1.22 1.22 0 1 0 -2.44 0M127.32 147.04a1.22 1.22 0 1 0 2.44 0a1.22 1.22 0 1 0 -2.44 0M121.73 193.37a1.22 1.22 0 1 0 2.44 0a1.22 1.22 0 1 0 -2.44 0M75.47 124.74a1.22 1.22 0 1 0 2.44 0a1.22 1.22 0 1 0 -2.44 0M86.20 188.27a1.22 1.22 0 1 0 2.44 0a1.22 1.22 0 1 0 -2.44 0M110.34 187.22a1.22 1.22 0 1 0 2.44 0a1.22 1.22 0 1 0 -2.44 0M78.24 174.39a1.22 1.22 0 1 0 2.44 0a1.22 1.22 0 1 0 -2.44 0M123.24 156.83a1.22 1.22 0 1 0 2.44 0a1.22 1.22 0 1 0 -2.44 0M56.95 149.25a1.22 1.22 0 1 0 2.44 0a1.22 1.22 0 1 0 -2.44 0M79.36 169.72a1.22 1.22 0 1 0 2.44 0a1.22 1.22 0 1 0 -2.44 0M102.23 155.35a1.22 1.22 0 1 0 2.44 0a1.22 1.22 0 1 0 -2.44 0M141.78 182.66a1.22 1.22 0 1 0 2.44 0a1.22 1.22 0 1 0 -2.44 0M68.76 176.28a1.22 1.22 0 1 0 2.44 0a1.22 1.22 0 1 0 -2.44 0M62.96 200.05a1.22 1.22 0 1 0 2.44 0a1.22 1.22 0 1 0 -2.44 0M160.99 115.61a1.22 1.22 0 1 0 2.44 0a1.22 1.22 0 1 0 -2.44 0M88.80 192.35a1.22 1.22 0 1 0 2.44 0a1.22 1.22 0 1 0 -2.44 0M99.07 172.17a1.22 1.22 0 1 0 2.44 0a1.22 1.22 0 1 0 -2.44 0M134.75 208.41a1.22 1.22 0 1 0 2.44 0a1.22 1.22 0 1 0 -2.44 0M75.69 213.96a1.22 1.22 0 1 0 2.44 0a1.22 1.22 0 1 0 -2.44 0M128.30 160.53a1.22 1.22 0 1 0 2.44 0a1.22 1.22 0 1 0 -2.44 0M100.95 162.67a1.22 1.22 0 1 0 2.44 0a1.22 1.22 0 1 0 -2.44 0M113.92 227.15a1.22 1.22 0 1 0 2.44 0a1.22 1.22 0 1 0 -2.44 0M99.25 184.36a1.22 1.22 0 1 0 2.44 0a1.22 1.22 0 1 0 -2.44 0M88.96 172.48a1.22 1.22 0 1 0 2.44 0a1.22 1.22 0 1 0 -2.44 0M66.90 175.87a1.22 1.22 0 1 0 2.44 0a1.22 1.22 0 1 0 -2.44 0M62.48 178.37a1.22 1.22 0 1 0 2.44 0a1.22 1.22 0 1 0 -2.44 0M164.04 140.00a1.22 1.22 0 1 0 2.44 0a1.22 1.22 0 1 0 -2.44 0M92.49 195.13a1.22 1.22 0 1 0 2.44 0a1.22 1.22 0 1 0 -2.44 0M62.43 151.56a1.22 1.22 0 1 0 2.44 0a1.22 1.22 0 1 0 -2.44 0M63.81 179.52a1.22 1.22 0 1 0 2.44 0a1.22 1.22 0 1 0 -2.44 0M89.05 150.95a1.22 1.22 0 1 0 2.44 0a1.22 1.22 0 1 0 -2.44 0M62.23 210.49a1.22 1.22 0 1 0 2.44 0a1.22 1.22 0 1 0 -2.44 0M140.25 172.49a1.22 1.22 0 1 0 2.44 0a1.22 1.22 0 1 0 -2.44 0M79.92 147.06a1.22 1.22 0 1 0 2.44 0a1.22 1.22 0 1 0 -2.44 0M73.96 185.43a1.22 1.22 0 1 0 2.44 0a1.22 1.22 0 1 0 -2.44 0M114.99 180.33a1.22 1.22 0 1 0 2.44 0a1.22 1.22 0 1 0 -2.44 0M118.05 210.26a1.22 1.22 0 1 0 2.44 0a1.22 1.22 0 1 0 -2.44 0M102.94 192.00a1.22 1.22 0 1 0 2.44 0a1.22 1.22 0 1 0 -2.44 0M178.36 192.30a1.22 1.22 0 1 0 2.44 0a1.22 1.22 0 1 0 -2.44 0M71.48 175.34a1.22 1.22 0 1 0 2.44 0a1.22 1.22 0 1 0 -2.44 0M112.17 215.66a1.22 1.22 0 1 0 2.44 0a1.22 1.22 0 1 0 -2.44 0M122.03 226.63a1.22 1.22 0 1 0 2.44 0a1.22 1.22 0 1 0 -2.44 0M83.33 177.88a1.22 1.22 0 1 0 2.44 0a1.22 1.22 0 1 0 -2.44 0M74.01 191.16a1.22 1.22 0 1 0 2.44 0a1.22 1.22 0 1 0 -2.44 0M85.22 191.42a1.22 1.22 0 1 0 2.44 0a1.22 1.22 0 1 0 -2.44 0M166.03 192.95a1.22 1.22 0 1 0 2.44 0a1.22 1.22 0 1 0 -2.44 0M96.24 180.00a1.22 1.22 0 1 0 2.44 0a1.22 1.22 0 1 0 -2.44 0M70.66 175.28a1.22 1.22 0 1 0 2.44 0a1.22 1.22 0 1 0 -2.44 0M66.00 166.65a1.22 1.22 0 1 0 2.44 0a1.22 1.22 0 1 0 -2.44 0M87.15 148.48a1.22 1.22 0 1 0 2.44 0a1.22 1.22 0 1 0 -2.44 0M151.99 155.76a1.22 1.22 0 1 0 2.44 0a1.22 1.22 0 1 0 -2.44 0M171.01 172.71a1.22 1.22 0 1 0 2.44 0a1.22 1.22 0 1 0 -2.44 0M101.82 178.79a1.22 1.22 0 1 0 2.44 0a1.22 1.22 0 1 0 -2.44 0M71.85 179.84a1.22 1.22 0 1 0 2.44 0a1.22 1.22 0 1 0 -2.44 0M102.92 190.53a1.22 1.22 0 1 0 2.44 0a1.22 1.22 0 1 0 -2.44 0M73.85 167.10a1.22 1.22 0 1 0 2.44 0a1.22 1.22 0 1 0 -2.44 0M119.40 148.63a1.22 1.22 0 1 0 2.44 0a1.22 1.22 0 1 0 -2.44 0M66.66 206.28a1.22 1.22 0 1 0 2.44 0a1.22 1.22 0 1 0 -2.44 0M69.78 146.70a1.22 1.22 0 1 0 2.44 0a1.22 1.22 0 1 0 -2.44 0M149.60 211.73a1.22 1.22 0 1 0 2.44 0a1.22 1.22 0 1 0 -2.44 0M57.77 161.62a1.22 1.22 0 1 0 2.44 0a1.22 1.22 0 1 0 -2.44 0M129.96 164.66a1.22 1.22 0 1 0 2.44 0a1.22 1.22 0 1 0 -2.44 0M136.99 164.05a1.22 1.22 0 1 0 2.44 0a1.22 1.22 0 1 0 -2.44 0M87.23 225.73a1.22 1.22 0 1 0 2.44 0a1.22 1.22 0 1 0 -2.44 0M119.09 156.25a1.22 1.22 0 1 0 2.44 0a1.22 1.22 0 1 0 -2.44 0M101.15 182.58a1.22 1.22 0 1 0 2.44 0a1.22 1.22 0 1 0 -2.44 0M65.41 176.70a1.22 1.22 0 1 0 2.44 0a1.22 1.22 0 1 0 -2.44 0M82.80 205.13a1.22 1.22 0 1 0 2.44 0a1.22 1.22 0 1 0 -2.44 0M57.20 189.60a1.22 1.22 0 1 0 2.44 0a1.22 1.22 0 1 0 -2.44 0M92.77 138.22a1.22 1.22 0 1 0 2.44 0a1.22 1.22 0 1 0 -2.44 0M78.05 153.00a1.22 1.22 0 1 0 2.44 0a1.22 1.22 0 1 0 -2.44 0M105.66 172.19a1.22 1.22 0 1 0 2.44 0a1.22 1.22 0 1 0 -2.44 0M94.71 145.85a1.22 1.22 0 1 0 2.44 0a1.22 1.22 0 1 0 -2.44 0M74.59 142.95a1.22 1.22 0 1 0 2.44 0a1.22 1.22 0 1 0 -2.44 0M148.88 137.96a1.22 1.22 0 1 0 2.44 0a1.22 1.22 0 1 0 -2.44 0M158.08 191.27a1.22 1.22 0 1 0 2.44 0a1.22 1.22 0 1 0 -2.44 0M112.10 103.04a1.22 1.22 0 1 0 2.44 0a1.22 1.22 0 1 0 -2.44 0M58.45 175.53a1.22 1.22 0 1 0 2.44 0a1.22 1.22 0 1 0 -2.44 0M60.15 150.61a1.22 1.22 0 1 0 2.44 0a1.22 1.22 0 1 0 -2.44 0M63.50 179.03a1.22 1.22 0 1 0 2.44 0a1.22 1.22 0 1 0 -2.44 0M103.75 164.03a1.22 1.22 0 1 0 2.44 0a1.22 1.22 0 1 0 -2.44 0M84.72 158.70a1.22 1.22 0 1 0 2.44 0a1.22 1.22 0 1 0 -2.44 0M55.60 225.76a1.22 1.22 0 1 0 2.44 0a1.22 1.22 0 1 0 -2.44 0M69.14 212.14a1.22 1.22 0 1 0 2.44 0a1.22 1.22 0 1 0 -2.44 0M110.37 173.04a1.22 1.22 0 1 0 2.44 0a1.22 1.22 0 1 0 -2.44 0M109.04 200.99a1.22 1.22 0 1 0 2.44 0a1.22 1.22 0 1 0 -2.44 0M65.64 206.51a1.22 1.22 0 1 0 2.44 0a1.22 1.22 0 1 0 -2.44 0M88.68 146.86a1.22 1.22 0 1 0 2.44 0a1.22 1.22 0 1 0 -2.44 0M92.19 212.34a1.22 1.22 0 1 0 2.44 0a1.22 1.22 0 1 0 -2.44 0M102.17 142.43a1.22 1.22 0 1 0 2.44 0a1.22 1.22 0 1 0 -2.44 0M111.79 211.80a1.22 1.22 0 1 0 2.44 0a1.22 1.22 0 1 0 -2.44 0M96.35 225.64a1.22 1.22 0 1 0 2.44 0a1.22 1.22 0 1 0 -2.44 0M87.62 189.64a1.22 1.22 0 1 0 2.44 0a1.22 1.22 0 1 0 -2.44 0M67.77 172.47a1.22 1.22 0 1 0 2.44 0a1.22 1.22 0 1 0 -2.44 0M61.79 192.52a1.22 1.22 0 1 0 2.44 0a1.22 1.22 0 1 0 -2.44 0M163.94 154.31a1.22 1.22 0 1 0 2.44 0a1.22 1.22 0 1 0 -2.44 0M82.75 171.23a1.22 1.22 0 1 0 2.44 0a1.22 1.22 0 1 0 -2.44 0M123.92 199.78a1.22 1.22 0 1 0 2.44 0a1.22 1.22 0 1 0 -2.44 0M88.61 188.15a1.22 1.22 0 1 0 2.44 0a1.22 1.22 0 1 0 -2.44 0M106.13 107.31a1.22 1.22 0 1 0 2.44 0a1.22 1.22 0 1 0 -2.44 0M99.22 186.02a1.22 1.22 0 1 0 2.44 0a1.22 1.22 0 1 0 -2.44 0M108.62 175.78a1.22 1.22 0 1 0 2.44 0a1.22 1.22 0 1 0 -2.44 0M73.38 191.03a1.22 1.22 0 1 0 2.44 0a1.22 1.22 0 1 0 -2.44 0M133.42 141.44a1.22 1.22 0 1 0 2.44 0a1.22 1.22 0 1 0 -2.44 0M76.35 126.49a1.22 1.22 0 1 0 2.44 0a1.22 1.22 0 1 0 -2.44 0M87.43 176.46a1.22 1.22 0 1 0 2.44 0a1.22 1.22 0 1 0 -2.44 0M73.62 195.91a1.22 1.22 0 1 0 2.44 0a1.22 1.22 0 1 0 -2.44 0M74.70 161.19a1.22 1.22 0 1 0 2.44 0a1.22 1.22 0 1 0 -2.44 0M66.92 175.91a1.22 1.22 0 1 0 2.44 0a1.22 1.22 0 1 0 -2.44 0M56.70 202.76a1.22 1.22 0 1 0 2.44 0a1.22 1.22 0 1 0 -2.44 0M85.57 212.52a1.22 1.22 0 1 0 2.44 0a1.22 1.22 0 1 0 -2.44 0M69.14 185.51a1.22 1.22 0 1 0 2.44 0a1.22 1.22 0 1 0 -2.44 0M62.29 175.84a1.22 1.22 0 1 0 2.44 0a1.22 1.22 0 1 0 -2.44 0M66.85 163.51a1.22 1.22 0 1 0 2.44 0a1.22 1.22 0 1 0 -2.44 0M55.47 159.66a1.22 1.22 0 1 0 2.44 0a1.22 1.22 0 1 0 -2.44 0M78.47 218.72a1.22 1.22 0 1 0 2.44 0a1.22 1.22 0 1 0 -2.44 0M119.70 212.99a1.22 1.22 0 1 0 2.44 0a1.22 1.22 0 1 0 -2.44 0M126.38 176.53a1.22 1.22 0 1 0 2.44 0a1.22 1.22 0 1 0 -2.44 0M62.08 197.87a1.22 1.22 0 1 0 2.44 0a1.22 1.22 0 1 0 -2.44 0M99.34 153.85a1.22 1.22 0 1 0 2.44 0a1.22 1.22 0 1 0 -2.44 0M110.49 192.10a1.22 1.22 0 1 0 2.44 0a1.22 1.22 0 1 0 -2.44 0M58.98 157.49a1.22 1.22 0 1 0 2.44 0a1.22 1.22 0 1 0 -2.44 0M59.16 169.26a1.22 1.22 0 1 0 2.44 0a1.22 1.22 0 1 0 -2.44 0M59.63 178.96a1.22 1.22 0 1 0 2.44 0a1.22 1.22 0 1 0 -2.44 0M170.74 145.50a1.22 1.22 0 1 0 2.44 0a1.22 1.22 0 1 0 -2.44 0M66.06 99.87a1.22 1.22 0 1 0 2.44 0a1.22 1.22 0 1 0 -2.44 0M123.45 172.68a1.22 1.22 0 1 0 2.44 0a1.22 1.22 0 1 0 -2.44 0M58.56 206.68a1.22 1.22 0 1 0 2.44 0a1.22 1.22 0 1 0 -2.44 0M65.81 189.13a1.22 1.22 0 1 0 2.44 0a1.22 1.22 0 1 0 -2.44 0M89.94 151.17a1.22 1.22 0 1 0 2.44 0a1.22 1.22 0 1 0 -2.44 0M87.70 157.63a1.22 1.22 0 1 0 2.44 0a1.22 1.22 0 1 0 -2.44 0M75.02 161.13a1.22 1.22 0 1 0 2.44 0a1.22 1.22 0 1 0 -2.44 0M80.50 183.27a1.22 1.22 0 1 0 2.44 0a1.22 1.22 0 1 0 -2.44 0M89.78 167.96a1.22 1.22 0 1 0 2.44 0a1.22 1.22 0 1 0 -2.44 0M102.41 181.50a1.22 1.22 0 1 0 2.44 0a1.22 1.22 0 1 0 -2.44 0M72.77 188.62a1.22 1.22 0 1 0 2.44 0a1.22 1.22 0 1 0 -2.44 0M89.22 215.26a1.22 1.22 0 1 0 2.44 0a1.22 1.22 0 1 0 -2.44 0M72.63 140.37a1.22 1.22 0 1 0 2.44 0a1.22 1.22 0 1 0 -2.44 0M104.30 167.03a1.22 1.22 0 1 0 2.44 0a1.22 1.22 0 1 0 -2.44 0M71.24 202.86a1.22 1.22 0 1 0 2.44 0a1.22 1.22 0 1 0 -2.44 0M93.71 196.38a1.22 1.22 0 1 0 2.44 0a1.22 1.22 0 1 0 -2.44 0M79.54 158.24a1.22 1.22 0 1 0 2.44 0a1.22 1.22 0 1 0 -2.44 0M104.62 160.08a1.22 1.22 0 1 0 2.44 0a1.22 1.22 0 1 0 -2.44 0M56.00 184.30a1.22 1.22 0 1 0 2.44 0a1.22 1.22 0 1 0 -2.44 0M79.74 212.81a1.22 1.22 0 1 0 2.44 0a1.22 1.22 0 1 0 -2.44 0M99.54 213.07a1.22 1.22 0 1 0 2.44 0a1.22 1.22 0 1 0 -2.44 0M122.51 133.23a1.22 1.22 0 1 0 2.44 0a1.22 1.22 0 1 0 -2.44 0M72.37 171.02a1.22 1.22 0 1 0 2.44 0a1.22 1.22 0 1 0 -2.44 0M125.10 167.78a1.22 1.22 0 1 0 2.44 0a1.22 1.22 0 1 0 -2.44 0M90.05 181.24a1.22 1.22 0 1 0 2.44 0a1.22 1.22 0 1 0 -2.44 0M117.62 219.83a1.22 1.22 0 1 0 2.44 0a1.22 1.22 0 1 0 -2.44 0M70.37 140.28a1.22 1.22 0 1 0 2.44 0a1.22 1.22 0 1 0 -2.44 0M88.44 204.56a1.22 1.22 0 1 0 2.44 0a1.22 1.22 0 1 0 -2.44 0M66.86 173.83a1.22 1.22 0 1 0 2.44 0a1.22 1.22 0 1 0 -2.44 0M148.93 197.65a1.22 1.22 0 1 0 2.44 0a1.22 1.22 0 1 0 -2.44 0M118.59 183.80a1.22 1.22 0 1 0 2.44 0a1.22 1.22 0 1 0 -2.44 0M74.49 171.23a1.22 1.22 0 1 0 2.44 0a1.22 1.22 0 1 0 -2.44 0M93.33 209.35a1.22 1.22 0 1 0 2.44 0a1.22 1.22 0 1 0 -2.44 0M103.36 188.92a1.22 1.22 0 1 0 2.44 0a1.22 1.22 0 1 0 -2.44 0M143.41 171.38a1.22 1.22 0 1 0 2.44 0a1.22 1.22 0 1 0 -2.44 0M100.69 165.89a1.22 1.22 0 1 0 2.44 0a1.22 1.22 0 1 0 -2.44 0M109.73 110.25a1.22 1.22 0 1 0 2.44 0a1.22 1.22 0 1 0 -2.44 0M156.50 150.54a1.22 1.22 0 1 0 2.44 0a1.22 1.22 0 1 0 -2.44 0M128.09 157.29a1.22 1.22 0 1 0 2.44 0a1.22 1.22 0 1 0 -2.44 0M109.86 169.44a1.22 1.22 0 1 0 2.44 0a1.22 1.22 0 1 0 -2.44 0M74.61 187.00a1.22 1.22 0 1 0 2.44 0a1.22 1.22 0 1 0 -2.44 0M122.73 201.51a1.22 1.22 0 1 0 2.44 0a1.22 1.22 0 1 0 -2.44 0M105.18 179.51a1.22 1.22 0 1 0 2.44 0a1.22 1.22 0 1 0 -2.44 0M98.82 188.75a1.22 1.22 0 1 0 2.44 0a1.22 1.22 0 1 0 -2.44 0M62.49 181.52a1.22 1.22 0 1 0 2.44 0a1.22 1.22 0 1 0 -2.44 0M174.13 187.95a1.22 1.22 0 1 0 2.44 0a1.22 1.22 0 1 0 -2.44 0M101.05 192.28a1.22 1.22 0 1 0 2.44 0a1.22 1.22 0 1 0 -2.44 0M79.11 200.41a1.22 1.22 0 1 0 2.44 0a1.22 1.22 0 1 0 -2.44 0M176.20 152.44a1.22 1.22 0 1 0 2.44 0a1.22 1.22 0 1 0 -2.44 0M84.48 171.87a1.22 1.22 0 1 0 2.44 0a1.22 1.22 0 1 0 -2.44 0M57.26 115.15a1.22 1.22 0 1 0 2.44 0a1.22 1.22 0 1 0 -2.44 0M95.52 162.41a1.22 1.22 0 1 0 2.44 0a1.22 1.22 0 1 0 -2.44 0M95.85 190.44a1.22 1.22 0 1 0 2.44 0a1.22 1.22 0 1 0 -2.44 0M82.48 153.92a1.22 1.22 0 1 0 2.44 0a1.22 1.22 0 1 0 -2.44 0M66.70 176.05a1.22 1.22 0 1 0 2.44 0a1.22 1.22 0 1 0 -2.44 0M106.39 175.00a1.22 1.22 0 1 0 2.44 0a1.22 1.22 0 1 0 -2.44 0M68.23 209.06a1.22 1.22 0 1 0 2.44 0a1.22 1.22 0 1 0 -2.44 0M59.52 220.26a1.22 1.22 0 1 0 2.44 0a1.22 1.22 0 1 0 -2.44 0M62.13 186.70a1.22 1.22 0 1 0 2.44 0a1.22 1.22 0 1 0 -2.44 0M77.51 178.55a1.22 1.22 0 1 0 2.44 0a1.22 1.22 0 1 0 -2.44 0M70.17 142.98a1.22 1.22 0 1 0 2.44 0a1.22 1.22 0 1 0 -2.44 0M100.83 213.26a1.22 1.22 0 1 0 2.44 0a1.22 1.22 0 1 0 -2.44 0M95.31 179.92a1.22 1.22 0 1 0 2.44 0a1.22 1.22 0 1 0 -2.44 0M64.83 110.97a1.22 1.22 0 1 0 2.44 0a1.22 1.22 0 1 0 -2.44 0M84.67 196.51a1.22 1.22 0 1 0 2.44 0a1.22 1.22 0 1 0 -2.44 0M74.82 226.04a1.22 1.22 0 1 0 2.44 0a1.22 1.22 0 1 0 -2.44 0M75.56 230.31a1.22 1.22 0 1 0 2.44 0a1.22 1.22 0 1 0 -2.44 0M72.75 138.54a1.22 1.22 0 1 0 2.44 0a1.22 1.22 0 1 0 -2.44 0M77.80 167.13a1.22 1.22 0 1 0 2.44 0a1.22 1.22 0 1 0 -2.44 0M61.74 185.17a1.22 1.22 0 1 0 2.44 0a1.22 1.22 0 1 0 -2.44 0M170.71 203.70a1.22 1.22 0 1 0 2.44 0a1.22 1.22 0 1 0 -2.44 0M76.39 155.92a1.22 1.22 0 1 0 2.44 0a1.22 1.22 0 1 0 -2.44 0M72.05 167.69a1.22 1.22 0 1 0 2.44 0a1.22 1.22 0 1 0 -2.44 0M110.64 146.84a1.22 1.22 0 1 0 2.44 0a1.22 1.22 0 1 0 -2.44 0M101.46 166.07a1.22 1.22 0 1 0 2.44 0a1.22 1.22 0 1 0 -2.44 0M123.52 188.57a1.22 1.22 0 1 0 2.44 0a1.22 1.22 0 1 0 -2.44 0M127.62 188.59a1.22 1.22 0 1 0 2.44 0a1.22 1.22 0 1 0 -2.44 0M99.05 210.60a1.22 1.22 0 1 0 2.44 0a1.22 1.22 0 1 0 -2.44 0M111.85 135.44a1.22 1.22 0 1 0 2.44 0a1.22 1.22 0 1 0 -2.44 0M179.38 168.62a1.22 1.22 0 1 0 2.44 0a1.22 1.22 0 1 0 -2.44 0M95.52 210.31a1.22 1.22 0 1 0 2.44 0a1.22 1.22 0 1 0 -2.44 0M124.11 183.96a1.22 1.22 0 1 0 2.44 0a1.22 1.22 0 1 0 -2.44 0M72.47 185.85a1.22 1.22 0 1 0 2.44 0a1.22 1.22 0 1 0 -2.44 0M66.87 164.14a1.22 1.22 0 1 0 2.44 0a1.22 1.22 0 1 0 -2.44 0M172.44 184.57a1.22 1.22 0 1 0 2.44 0a1.22 1.22 0 1 0 -2.44 0M55.80 201.20a1.22 1.22 0 1 0 2.44 0a1.22 1.22 0 1 0 -2.44 0M93.27 181.49a1.22 1.22 0 1 0 2.44 0a1.22 1.22 0 1 0 -2.44 0M164.13 179.24a1.22 1.22 0 1 0 2.44 0a1.22 1.22 0 1 0 -2.44 0M74.81 171.35a1.22 1.22 0 1 0 2.44 0a1.22 1.22 0 1 0 -2.44 0M117.22 219.13a1.22 1.22 0 1 0 2.44 0a1.22 1.22 0 1 0 -2.44 0M115.53 189.41a1.22 1.22 0 1 0 2.44 0a1.22 1.22 0 1 0 -2.44 0M130.47 164.24a1.22 1.22 0 1 0 2.44 0a1.22 1.22 0 1 0 -2.44 0M62.11 243.51a1.22 1.22 0 1 0 2.44 0a1.22 1.22 0 1 0 -2.44 0M135.95 174.63a1.22 1.22 0 1 0 2.44 0a1.22 1.22 0 1 0 -2.44 0M85.34 149.54a1.22 1.22 0 1 0 2.44 0a1.22 1.22 0 1 0 -2.44 0M91.73 203.52a1.22 1.22 0 1 0 2.44 0a1.22 1.22 0 1 0 -2.44 0M78.02 180.01a1.22 1.22 0 1 0 2.44 0a1.22 1.22 0 1 0 -2.44 0M89.27 218.77a1.22 1.22 0 1 0 2.44 0a1.22 1.22 0 1 0 -2.44 0M65.85 212.39a1.22 1.22 0 1 0 2.44 0a1.22 1.22 0 1 0 -2.44 0M85.37 181.44a1.22 1.22 0 1 0 2.44 0a1.22 1.22 0 1 0 -2.44 0M151.61 143.85a1.22 1.22 0 1 0 2.44 0a1.22 1.22 0 1 0 -2.44 0M58.50 181.62a1.22 1.22 0 1 0 2.44 0a1.22 1.22 0 1 0 -2.44 0M140.11 204.61a1.22 1.22 0 1 0 2.44 0a1.22 1.22 0 1 0 -2.44 0M55.74 176.95a1.22 1.22 0 1 0 2.44 0a1.22 1.22 0 1 0 -2.44 0M67.25 178.23a1.22 1.22 0 1 0 2.44 0a1.22 1.22 0 1 0 -2.44 0M88.01 184.91a1.22 1.22 0 1 0 2.44 0a1.22 1.22 0 1 0 -2.44 0M99.88 185.44a1.22 1.22 0 1 0 2.44 0a1.22 1.22 0 1 0 -2.44 0M72.01 218.85a1.22 1.22 0 1 0 2.44 0a1.22 1.22 0 1 0 -2.44 0M62.33 183.79a1.22 1.22 0 1 0 2.44 0a1.22 1.22 0 1 0 -2.44 0M94.75 212.88a1.22 1.22 0 1 0 2.44 0a1.22 1.22 0 1 0 -2.44 0M81.79 137.14a1.22 1.22 0 1 0 2.44 0a1.22 1.22 0 1 0 -2.44 0M96.05 184.57a1.22 1.22 0 1 0 2.44 0a1.22 1.22 0 1 0 -2.44 0M92.00 181.74a1.22 1.22 0 1 0 2.44 0a1.22 1.22 0 1 0 -2.44 0M77.47 173.93a1.22 1.22 0 1 0 2.44 0a1.22 1.22 0 1 0 -2.44 0M67.87 163.75a1.22 1.22 0 1 0 2.44 0a1.22 1.22 0 1 0 -2.44 0M55.23 205.57a1.22 1.22 0 1 0 2.44 0a1.22 1.22 0 1 0 -2.44 0M80.21 190.76a1.22 1.22 0 1 0 2.44 0a1.22 1.22 0 1 0 -2.44 0M96.58 184.08a1.22 1.22 0 1 0 2.44 0a1.22 1.22 0 1 0 -2.44 0M87.16 160.61a1.22 1.22 0 1 0 2.44 0a1.22 1.22 0 1 0 -2.44 0M73.31 142.08a1.22 1.22 0 1 0 2.44 0a1.22 1.22 0 1 0 -2.44 0M59.94 184.89a1.22 1.22 0 1 0 2.44 0a1.22 1.22 0 1 0 -2.44 0M122.87 198.49a1.22 1.22 0 1 0 2.44 0a1.22 1.22 0 1 0 -2.44 0M128.88 208.29a1.22 1.22 0 1 0 2.44 0a1.22 1.22 0 1 0 -2.44 0M80.38 204.24a1.22 1.22 0 1 0 2.44 0a1.22 1.22 0 1 0 -2.44 0M106.91 179.35a1.22 1.22 0 1 0 2.44 0a1.22 1.22 0 1 0 -2.44 0M69.79 189.64a1.22 1.22 0 1 0 2.44 0a1.22 1.22 0 1 0 -2.44 0M65.20 188.46a1.22 1.22 0 1 0 2.44 0a1.22 1.22 0 1 0 -2.44 0M56.67 203.01a1.22 1.22 0 1 0 2.44 0a1.22 1.22 0 1 0 -2.44 0M60.76 172.98a1.22 1.22 0 1 0 2.44 0a1.22 1.22 0 1 0 -2.44 0M115.86 179.49a1.22 1.22 0 1 0 2.44 0a1.22 1.22 0 1 0 -2.44 0M58.37 214.23a1.22 1.22 0 1 0 2.44 0a1.22 1.22 0 1 0 -2.44 0M57.94 186.49a1.22 1.22 0 1 0 2.44 0a1.22 1.22 0 1 0 -2.44 0M140.30 216.09a1.22 1.22 0 1 0 2.44 0a1.22 1.22 0 1 0 -2.44 0M158.33 175.06a1.22 1.22 0 1 0 2.44 0a1.22 1.22 0 1 0 -2.44 0M77.65 172.56a1.22 1.22 0 1 0 2.44 0a1.22 1.22 0 1 0 -2.44 0M94.27 125.15a1.22 1.22 0 1 0 2.44 0a1.22 1.22 0 1 0 -2.44 0M87.19 194.97a1.22 1.22 0 1 0 2.44 0a1.22 1.22 0 1 0 -2.44 0M151.76 181.76a1.22 1.22 0 1 0 2.44 0a1.22 1.22 0 1 0 -2.44 0M63.09 166.98a1.22 1.22 0 1 0 2.44 0a1.22 1.22 0 1 0 -2.44 0M57.85 196.93a1.22 1.22 0 1 0 2.44 0a1.22 1.22 0 1 0 -2.44 0M94.06 170.78a1.22 1.22 0 1 0 2.44 0a1.22 1.22 0 1 0 -2.44 0M149.11 182.42a1.22 1.22 0 1 0 2.44 0a1.22 1.22 0 1 0 -2.44 0M156.57 180.98a1.22 1.22 0 1 0 2.44 0a1.22 1.22 0 1 0 -2.44 0M62.95 186.53a1.22 1.22 0 1 0 2.44 0a1.22 1.22 0 1 0 -2.44 0M68.42 178.05a1.22 1.22 0 1 0 2.44 0a1.22 1.22 0 1 0 -2.44 0M74.47 210.27a1.22 1.22 0 1 0 2.44 0a1.22 1.22 0 1 0 -2.44 0M85.62 183.87a1.22 1.22 0 1 0 2.44 0a1.22 1.22 0 1 0 -2.44 0M86.83 159.66a1.22 1.22 0 1 0 2.44 0a1.22 1.22 0 1 0 -2.44 0M101.10 191.85a1.22 1.22 0 1 0 2.44 0a1.22 1.22 0 1 0 -2.44 0M80.81 192.79a1.22 1.22 0 1 0 2.44 0a1.22 1.22 0 1 0 -2.44 0M62.67 164.72a1.22 1.22 0 1 0 2.44 0a1.22 1.22 0 1 0 -2.44 0M96.89 182.13a1.22 1.22 0 1 0 2.44 0a1.22 1.22 0 1 0 -2.44 0M70.39 169.91a1.22 1.22 0 1 0 2.44 0a1.22 1.22 0 1 0 -2.44 0M146.18 166.98a1.22 1.22 0 1 0 2.44 0a1.22 1.22 0 1 0 -2.44 0M57.11 163.57a1.22 1.22 0 1 0 2.44 0a1.22 1.22 0 1 0 -2.44 0M75.49 191.82a1.22 1.22 0 1 0 2.44 0a1.22 1.22 0 1 0 -2.44 0M59.41 202.69a1.22 1.22 0 1 0 2.44 0a1.22 1.22 0 1 0 -2.44 0M105.07 214.31a1.22 1.22 0 1 0 2.44 0a1.22 1.22 0 1 0 -2.44 0M101.83 198.43a1.22 1.22 0 1 0 2.44 0a1.22 1.22 0 1 0 -2.44 0M71.03 207.89a1.22 1.22 0 1 0 2.44 0a1.22 1.22 0 1 0 -2.44 0M104.55 175.21a1.22 1.22 0 1 0 2.44 0a1.22 1.22 0 1 0 -2.44 0M85.83 227.53a1.22 1.22 0 1 0 2.44 0a1.22 1.22 0 1 0 -2.44 0M119.87 191.98a1.22 1.22 0 1 0 2.44 0a1.22 1.22 0 1 0 -2.44 0M119.91 135.54a1.22 1.22 0 1 0 2.44 0a1.22 1.22 0 1 0 -2.44 0M65.83 190.91a1.22 1.22 0 1 0 2.44 0a1.22 1.22 0 1 0 -2.44 0M58.78 177.14a1.22 1.22 0 1 0 2.44 0a1.22 1.22 0 1 0 -2.44 0M76.03 188.75a1.22 1.22 0 1 0 2.44 0a1.22 1.22 0 1 0 -2.44 0M128.06 155.96a1.22 1.22 0 1 0 2.44 0a1.22 1.22 0 1 0 -2.44 0M124.00 168.22a1.22 1.22 0 1 0 2.44 0a1.22 1.22 0 1 0 -2.44 0M86.41 144.15a1.22 1.22 0 1 0 2.44 0a1.22 1.22 0 1 0 -2.44 0M66.26 162.40a1.22 1.22 0 1 0 2.44 0a1.22 1.22 0 1 0 -2.44 0M98.38 181.11a1.22 1.22 0 1 0 2.44 0a1.22 1.22 0 1 0 -2.44 0M84.97 189.74a1.22 1.22 0 1 0 2.44 0a1.22 1.22 0 1 0 -2.44 0M64.45 192.32a1.22 1.22 0 1 0 2.44 0a1.22 1.22 0 1 0 -2.44 0M101.06 193.09a1.22 1.22 0 1 0 2.44 0a1.22 1.22 0 1 0 -2.44 0M75.88 203.25a1.22 1.22 0 1 0 2.44 0a1.22 1.22 0 1 0 -2.44 0M144.99 172.75a1.22 1.22 0 1 0 2.44 0a1.22 1.22 0 1 0 -2.44 0M73.05 216.29a1.22 1.22 0 1 0 2.44 0a1.22 1.22 0 1 0 -2.44 0M55.66 200.99a1.22 1.22 0 1 0 2.44 0a1.22 1.22 0 1 0 -2.44 0M60.68 198.58a1.22 1.22 0 1 0 2.44 0a1.22 1.22 0 1 0 -2.44 0M82.06 202.86a1.22 1.22 0 1 0 2.44 0a1.22 1.22 0 1 0 -2.44 0M90.15 168.43a1.22 1.22 0 1 0 2.44 0a1.22 1.22 0 1 0 -2.44 0M70.31 163.65a1.22 1.22 0 1 0 2.44 0a1.22 1.22 0 1 0 -2.44 0M138.08 130.93a1.22 1.22 0 1 0 2.44 0a1.22 1.22 0 1 0 -2.44 0M58.23 158.45a1.22 1.22 0 1 0 2.44 0a1.22 1.22 0 1 0 -2.44 0M62.28 138.95a1.22 1.22 0 1 0 2.44 0a1.22 1.22 0 1 0 -2.44 0M159.18 126.80a1.22 1.22 0 1 0 2.44 0a1.22 1.22 0 1 0 -2.44 0M105.54 154.26a1.22 1.22 0 1 0 2.44 0a1.22 1.22 0 1 0 -2.44 0M96.15 186.52a1.22 1.22 0 1 0 2.44 0a1.22 1.22 0 1 0 -2.44 0M69.49 190.71a1.22 1.22 0 1 0 2.44 0a1.22 1.22 0 1 0 -2.44 0M83.89 156.36a1.22 1.22 0 1 0 2.44 0a1.22 1.22 0 1 0 -2.44 0M114.74 160.98a1.22 1.22 0 1 0 2.44 0a1.22 1.22 0 1 0 -2.44 0M72.54 194.86a1.22 1.22 0 1 0 2.44 0a1.22 1.22 0 1 0 -2.44 0M143.17 154.09a1.22 1.22 0 1 0 2.44 0a1.22 1.22 0 1 0 -2.44 0M171.67 167.16a1.22 1.22 0 1 0 2.44 0a1.22 1.22 0 1 0 -2.44 0M67.18 157.09a1.22 1.22 0 1 0 2.44 0a1.22 1.22 0 1 0 -2.44 0M103.15 203.09a1.22 1.22 0 1 0 2.44 0a1.22 1.22 0 1 0 -2.44 0M69.83 181.28a1.22 1.22 0 1 0 2.44 0a1.22 1.22 0 1 0 -2.44 0M111.43 203.92a1.22 1.22 0 1 0 2.44 0a1.22 1.22 0 1 0 -2.44 0M81.02 171.32a1.22 1.22 0 1 0 2.44 0a1.22 1.22 0 1 0 -2.44 0M110.20 201.30a1.22 1.22 0 1 0 2.44 0a1.22 1.22 0 1 0 -2.44 0M116.01 196.79a1.22 1.22 0 1 0 2.44 0a1.22 1.22 0 1 0 -2.44 0M55.40 197.79a1.22 1.22 0 1 0 2.44 0a1.22 1.22 0 1 0 -2.44 0M98.19 154.74a1.22 1.22 0 1 0 2.44 0a1.22 1.22 0 1 0 -2.44 0M138.29 140.80a1.22 1.22 0 1 0 2.44 0a1.22 1.22 0 1 0 -2.44 0M80.46 168.67a1.22 1.22 0 1 0 2.44 0a1.22 1.22 0 1 0 -2.44 0M70.91 126.12a1.22 1.22 0 1 0 2.44 0a1.22 1.22 0 1 0 -2.44 0M149.35 149.34a1.22 1.22 0 1 0 2.44 0a1.22 1.22 0 1 0 -2.44 0M75.65 186.49a1.22 1.22 0 1 0 2.44 0a1.22 1.22 0 1 0 -2.44 0M57.17 184.72a1.22 1.22 0 1 0 2.44 0a1.22 1.22 0 1 0 -2.44 0M105.26 178.33a1.22 1.22 0 1 0 2.44 0a1.22 1.22 0 1 0 -2.44 0M105.02 219.08a1.22 1.22 0 1 0 2.44 0a1.22 1.22 0 1 0 -2.44 0M55.82 188.25a1.22 1.22 0 1 0 2.44 0a1.22 1.22 0 1 0 -2.44 0M104.15 179.76a1.22 1.22 0 1 0 2.44 0a1.22 1.22 0 1 0 -2.44 0M110.00 182.73a1.22 1.22 0 1 0 2.44 0a1.22 1.22 0 1 0 -2.44 0M105.21 155.57a1.22 1.22 0 1 0 2.44 0a1.22 1.22 0 1 0 -2.44 0M63.29 236.50a1.22 1.22 0 1 0 2.44 0a1.22 1.22 0 1 0 -2.44 0M102.37 192.74a1.22 1.22 0 1 0 2.44 0a1.22 1.22 0 1 0 -2.44 0M137.66 179.58a1.22 1.22 0 1 0 2.44 0a1.22 1.22 0 1 0 -2.44 0M120.60 178.88a1.22 1.22 0 1 0 2.44 0a1.22 1.22 0 1 0 -2.44 0M89.93 186.36a1.22 1.22 0 1 0 2.44 0a1.22 1.22 0 1 0 -2.44 0M73.46 197.67a1.22 1.22 0 1 0 2.44 0a1.22 1.22 0 1 0 -2.44 0M159.66 149.34a1.22 1.22 0 1 0 2.44 0a1.22 1.22 0 1 0 -2.44 0M118.96 207.55a1.22 1.22 0 1 0 2.44 0a1.22 1.22 0 1 0 -2.44 0M65.87 224.75a1.22 1.22 0 1 0 2.44 0a1.22 1.22 0 1 0 -2.44 0M130.86 180.79a1.22 1.22 0 1 0 2.44 0a1.22 1.22 0 1 0 -2.44 0M58.06 169.90a1.22 1.22 0 1 0 2.44 0a1.22 1.22 0 1 0 -2.44 0M61.16 166.48a1.22 1.22 0 1 0 2.44 0a1.22 1.22 0 1 0 -2.44 0M121.42 157.65a1.22 1.22 0 1 0 2.44 0a1.22 1.22 0 1 0 -2.44 0M111.66 192.63a1.22 1.22 0 1 0 2.44 0a1.22 1.22 0 1 0 -2.44 0M66.12 128.55a1.22 1.22 0 1 0 2.44 0a1.22 1.22 0 1 0 -2.44 0M136.81 174.73a1.22 1.22 0 1 0 2.44 0a1.22 1.22 0 1 0 -2.44 0M147.89 108.11a1.22 1.22 0 1 0 2.44 0a1.22 1.22 0 1 0 -2.44 0M83.12 132.88a1.22 1.22 0 1 0 2.44 0a1.22 1.22 0 1 0 -2.44 0M83.22 194.83a1.22 1.22 0 1 0 2.44 0a1.22 1.22 0 1 0 -2.44 0M85.15 168.24a1.22 1.22 0 1 0 2.44 0a1.22 1.22 0 1 0 -2.44 0M138.71 200.41a1.22 1.22 0 1 0 2.44 0a1.22 1.22 0 1 0 -2.44 0M116.45 204.50a1.22 1.22 0 1 0 2.44 0a1.22 1.22 0 1 0 -2.44 0M85.21 172.96a1.22 1.22 0 1 0 2.44 0a1.22 1.22 0 1 0 -2.44 0M153.56 194.65a1.22 1.22 0 1 0 2.44 0a1.22 1.22 0 1 0 -2.44 0M76.85 183.55a1.22 1.22 0 1 0 2.44 0a1.22 1.22 0 1 0 -2.44 0M180.44 158.85a1.22 1.22 0 1 0 2.44 0a1.22 1.22 0 1 0 -2.44 0M76.49 149.35a1.22 1.22 0 1 0 2.44 0a1.22 1.22 0 1 0 -2.44 0M76.27 200.63a1.22 1.22 0 1 0 2.44 0a1.22 1.22 0 1 0 -2.44 0M105.91 183.19a1.22 1.22 0 1 0 2.44 0a1.22 1.22 0 1 0 -2.44 0M124.64 169.29a1.22 1.22 0 1 0 2.44 0a1.22 1.22 0 1 0 -2.44 0M174.76 147.30a1.22 1.22 0 1 0 2.44 0a1.22 1.22 0 1 0 -2.44 0M116.00 173.98a1.22 1.22 0 1 0 2.44 0a1.22 1.22 0 1 0 -2.44 0M70.52 164.75a1.22 1.22 0 1 0 2.44 0a1.22 1.22 0 1 0 -2.44 0M55.91 165.33a1.22 1.22 0 1 0 2.44 0a1.22 1.22 0 1 0 -2.44 0M56.78 67.25a1.22 1.22 0 1 0 2.44 0a1.22 1.22 0 1 0 -2.44 0M126.28 61.40a1.22 1.22 0 1 0 2.44 0a1.22 1.22 0 1 0 -2.44 0M133.88 74.30a1.22 1.22 0 1 0 2.44 0a1.22 1.22 0 1 0 -2.44 0M159.03 95.25a1.22 1.22 0 1 0 2.44 0a1.22 1.22 0 1 0 -2.44 0M118.78 248.25a1.22 1.22 0 1 0 2.44 0a1.22 1.22 0 1 0 -2.44 0M199.28 94.50a1.22 1.22 0 1 0 2.44 0a1.22 1.22 0 1 0 -2.44 0M230.28 96.75a1.22 1.22 0 1 0 2.44 0a1.22 1.22 0 1 0 -2.44 0M188.28 103.00a1.22 1.22 0 1 0 2.44 0a1.22 1.22 0 1 0 -2.44 0M203.28 114.50a1.22 1.22 0 1 0 2.44 0a1.22 1.22 0 1 0 -2.44 0M203.28 117.50a1.22 1.22 0 1 0 2.44 0a1.22 1.22 0 1 0 -2.44 0M247.53 118.00a1.22 1.22 0 1 0 2.44 0a1.22 1.22 0 1 0 -2.44 0M221.03 121.50a1.22 1.22 0 1 0 2.44 0a1.22 1.22 0 1 0 -2.44 0M232.78 122.50a1.22 1.22 0 1 0 2.44 0a1.22 1.22 0 1 0 -2.44 0M214.28 126.00a1.22 1.22 0 1 0 2.44 0a1.22 1.22 0 1 0 -2.44 0M209.03 127.75a1.22 1.22 0 1 0 2.44 0a1.22 1.22 0 1 0 -2.44 0M210.03 129.75a1.22 1.22 0 1 0 2.44 0a1.22 1.22 0 1 0 -2.44 0M189.03 130.75a1.22 1.22 0 1 0 2.44 0a1.22 1.22 0 1 0 -2.44 0M201.53 132.00a1.22 1.22 0 1 0 2.44 0a1.22 1.22 0 1 0 -2.44 0M187.28 134.00a1.22 1.22 0 1 0 2.44 0a1.22 1.22 0 1 0 -2.44 0M287.03 132.50a1.22 1.22 0 1 0 2.44 0a1.22 1.22 0 1 0 -2.44 0M267.03 134.75a1.22 1.22 0 1 0 2.44 0a1.22 1.22 0 1 0 -2.44 0M269.53 137.50a1.22 1.22 0 1 0 2.44 0a1.22 1.22 0 1 0 -2.44 0M267.03 140.50a1.22 1.22 0 1 0 2.44 0a1.22 1.22 0 1 0 -2.44 0M283.78 139.50a1.22 1.22 0 1 0 2.44 0a1.22 1.22 0 1 0 -2.44 0M293.03 143.25a1.22 1.22 0 1 0 2.44 0a1.22 1.22 0 1 0 -2.44 0M210.03 138.00a1.22 1.22 0 1 0 2.44 0a1.22 1.22 0 1 0 -2.44 0M221.03 138.25a1.22 1.22 0 1 0 2.44 0a1.22 1.22 0 1 0 -2.44 0M205.78 141.25a1.22 1.22 0 1 0 2.44 0a1.22 1.22 0 1 0 -2.44 0M214.28 142.50a1.22 1.22 0 1 0 2.44 0a1.22 1.22 0 1 0 -2.44 0M222.53 143.25a1.22 1.22 0 1 0 2.44 0a1.22 1.22 0 1 0 -2.44 0M224.28 142.00a1.22 1.22 0 1 0 2.44 0a1.22 1.22 0 1 0 -2.44 0M233.28 142.25a1.22 1.22 0 1 0 2.44 0a1.22 1.22 0 1 0 -2.44 0M198.28 142.75a1.22 1.22 0 1 0 2.44 0a1.22 1.22 0 1 0 -2.44 0M190.03 140.00a1.22 1.22 0 1 0 2.44 0a1.22 1.22 0 1 0 -2.44 0M192.03 141.75a1.22 1.22 0 1 0 2.44 0a1.22 1.22 0 1 0 -2.44 0M187.78 142.00a1.22 1.22 0 1 0 2.44 0a1.22 1.22 0 1 0 -2.44 0M185.28 141.25a1.22 1.22 0 1 0 2.44 0a1.22 1.22 0 1 0 -2.44 0M190.03 144.50a1.22 1.22 0 1 0 2.44 0a1.22 1.22 0 1 0 -2.44 0M192.03 143.25a1.22 1.22 0 1 0 2.44 0a1.22 1.22 0 1 0 -2.44 0M185.78 145.50a1.22 1.22 0 1 0 2.44 0a1.22 1.22 0 1 0 -2.44 0M190.03 146.25a1.22 1.22 0 1 0 2.44 0a1.22 1.22 0 1 0 -2.44 0M206.28 147.25a1.22 1.22 0 1 0 2.44 0a1.22 1.22 0 1 0 -2.44 0M230.03 146.25a1.22 1.22 0 1 0 2.44 0a1.22 1.22 0 1 0 -2.44 0M229.28 150.50a1.22 1.22 0 1 0 2.44 0a1.22 1.22 0 1 0 -2.44 0M242.53 148.00a1.22 1.22 0 1 0 2.44 0a1.22 1.22 0 1 0 -2.44 0M246.03 147.00a1.22 1.22 0 1 0 2.44 0a1.22 1.22 0 1 0 -2.44 0M214.28 150.25a1.22 1.22 0 1 0 2.44 0a1.22 1.22 0 1 0 -2.44 0M200.78 151.75a1.22 1.22 0 1 0 2.44 0a1.22 1.22 0 1 0 -2.44 0M210.78 152.25a1.22 1.22 0 1 0 2.44 0a1.22 1.22 0 1 0 -2.44 0M278.78 152.50a1.22 1.22 0 1 0 2.44 0a1.22 1.22 0 1 0 -2.44 0M185.78 153.75a1.22 1.22 0 1 0 2.44 0a1.22 1.22 0 1 0 -2.44 0M197.53 155.00a1.22 1.22 0 1 0 2.44 0a1.22 1.22 0 1 0 -2.44 0M214.28 155.50a1.22 1.22 0 1 0 2.44 0a1.22 1.22 0 1 0 -2.44 0M220.78 155.50a1.22 1.22 0 1 0 2.44 0a1.22 1.22 0 1 0 -2.44 0M188.28 156.75a1.22 1.22 0 1 0 2.44 0a1.22 1.22 0 1 0 -2.44 0M207.53 157.00a1.22 1.22 0 1 0 2.44 0a1.22 1.22 0 1 0 -2.44 0M215.78 157.50a1.22 1.22 0 1 0 2.44 0a1.22 1.22 0 1 0 -2.44 0M245.28 156.75a1.22 1.22 0 1 0 2.44 0a1.22 1.22 0 1 0 -2.44 0M267.78 157.75a1.22 1.22 0 1 0 2.44 0a1.22 1.22 0 1 0 -2.44 0M198.28 159.25a1.22 1.22 0 1 0 2.44 0a1.22 1.22 0 1 0 -2.44 0M210.03 160.25a1.22 1.22 0 1 0 2.44 0a1.22 1.22 0 1 0 -2.44 0M203.28 160.75a1.22 1.22 0 1 0 2.44 0a1.22 1.22 0 1 0 -2.44 0M220.78 159.25a1.22 1.22 0 1 0 2.44 0a1.22 1.22 0 1 0 -2.44 0M221.28 163.75a1.22 1.22 0 1 0 2.44 0a1.22 1.22 0 1 0 -2.44 0M235.03 163.25a1.22 1.22 0 1 0 2.44 0a1.22 1.22 0 1 0 -2.44 0M323.28 171.25a1.22 1.22 0 1 0 2.44 0a1.22 1.22 0 1 0 -2.44 0M320.78 184.50a1.22 1.22 0 1 0 2.44 0a1.22 1.22 0 1 0 -2.44 0M298.03 188.50a1.22 1.22 0 1 0 2.44 0a1.22 1.22 0 1 0 -2.44 0M269.53 180.25a1.22 1.22 0 1 0 2.44 0a1.22 1.22 0 1 0 -2.44 0M260.28 182.25a1.22 1.22 0 1 0 2.44 0a1.22 1.22 0 1 0 -2.44 0M278.78 187.50a1.22 1.22 0 1 0 2.44 0a1.22 1.22 0 1 0 -2.44 0M276.78 188.25a1.22 1.22 0 1 0 2.44 0a1.22 1.22 0 1 0 -2.44 0M276.28 190.50a1.22 1.22 0 1 0 2.44 0a1.22 1.22 0 1 0 -2.44 0M260.28 190.50a1.22 1.22 0 1 0 2.44 0a1.22 1.22 0 1 0 -2.44 0M263.53 193.50a1.22 1.22 0 1 0 2.44 0a1.22 1.22 0 1 0 -2.44 0M257.78 197.50a1.22 1.22 0 1 0 2.44 0a1.22 1.22 0 1 0 -2.44 0M262.28 198.25a1.22 1.22 0 1 0 2.44 0a1.22 1.22 0 1 0 -2.44 0M262.78 199.00a1.22 1.22 0 1 0 2.44 0a1.22 1.22 0 1 0 -2.44 0M264.28 209.75a1.22 1.22 0 1 0 2.44 0a1.22 1.22 0 1 0 -2.44 0M253.03 166.75a1.22 1.22 0 1 0 2.44 0a1.22 1.22 0 1 0 -2.44 0M245.78 169.00a1.22 1.22 0 1 0 2.44 0a1.22 1.22 0 1 0 -2.44 0M241.78 171.75a1.22 1.22 0 1 0 2.44 0a1.22 1.22 0 1 0 -2.44 0M246.28 171.50a1.22 1.22 0 1 0 2.44 0a1.22 1.22 0 1 0 -2.44 0M249.28 174.25a1.22 1.22 0 1 0 2.44 0a1.22 1.22 0 1 0 -2.44 0M248.78 174.60a1.22 1.22 0 1 0 2.44 0a1.22 1.22 0 1 0 -2.44 0M241.03 207.00a1.22 1.22 0 1 0 2.44 0a1.22 1.22 0 1 0 -2.44 0M233.28 201.25a1.22 1.22 0 1 0 2.44 0a1.22 1.22 0 1 0 -2.44 0M235.28 203.50a1.22 1.22 0 1 0 2.44 0a1.22 1.22 0 1 0 -2.44 0M233.28 208.75a1.22 1.22 0 1 0 2.44 0a1.22 1.22 0 1 0 -2.44 0M226.78 198.75a1.22 1.22 0 1 0 2.44 0a1.22 1.22 0 1 0 -2.44 0M225.78 201.00a1.22 1.22 0 1 0 2.44 0a1.22 1.22 0 1 0 -2.44 0M218.53 216.00a1.22 1.22 0 1 0 2.44 0a1.22 1.22 0 1 0 -2.44 0M208.28 207.25a1.22 1.22 0 1 0 2.44 0a1.22 1.22 0 1 0 -2.44 0M197.53 209.25a1.22 1.22 0 1 0 2.44 0a1.22 1.22 0 1 0 -2.44 0M190.03 200.00a1.22 1.22 0 1 0 2.44 0a1.22 1.22 0 1 0 -2.44 0M201.78 197.75a1.22 1.22 0 1 0 2.44 0a1.22 1.22 0 1 0 -2.44 0M214.28 196.25a1.22 1.22 0 1 0 2.44 0a1.22 1.22 0 1 0 -2.44 0M196.78 194.50a1.22 1.22 0 1 0 2.44 0a1.22 1.22 0 1 0 -2.44 0M188.28 224.00a1.22 1.22 0 1 0 2.44 0a1.22 1.22 0 1 0 -2.44 0M183.78 217.00a1.22 1.22 0 1 0 2.44 0a1.22 1.22 0 1 0 -2.44 0M183.78 222.00a1.22 1.22 0 1 0 2.44 0a1.22 1.22 0 1 0 -2.44 0M230.28 172.50a1.22 1.22 0 1 0 2.44 0a1.22 1.22 0 1 0 -2.44 0M225.03 176.25a1.22 1.22 0 1 0 2.44 0a1.22 1.22 0 1 0 -2.44 0M229.53 177.50a1.22 1.22 0 1 0 2.44 0a1.22 1.22 0 1 0 -2.44 0M231.78 180.00a1.22 1.22 0 1 0 2.44 0a1.22 1.22 0 1 0 -2.44 0M224.53 167.50a1.22 1.22 0 1 0 2.44 0a1.22 1.22 0 1 0 -2.44 0M223.03 169.25a1.22 1.22 0 1 0 2.44 0a1.22 1.22 0 1 0 -2.44 0M219.03 172.50a1.22 1.22 0 1 0 2.44 0a1.22 1.22 0 1 0 -2.44 0M217.53 174.25a1.22 1.22 0 1 0 2.44 0a1.22 1.22 0 1 0 -2.44 0M211.28 173.00a1.22 1.22 0 1 0 2.44 0a1.22 1.22 0 1 0 -2.44 0M207.53 170.50a1.22 1.22 0 1 0 2.44 0a1.22 1.22 0 1 0 -2.44 0M210.03 167.00a1.22 1.22 0 1 0 2.44 0a1.22 1.22 0 1 0 -2.44 0M197.53 173.75a1.22 1.22 0 1 0 2.44 0a1.22 1.22 0 1 0 -2.44 0M200.03 175.50a1.22 1.22 0 1 0 2.44 0a1.22 1.22 0 1 0 -2.44 0M198.78 178.75a1.22 1.22 0 1 0 2.44 0a1.22 1.22 0 1 0 -2.44 0M195.03 177.00a1.22 1.22 0 1 0 2.44 0a1.22 1.22 0 1 0 -2.44 0M189.28 175.50a1.22 1.22 0 1 0 2.44 0a1.22 1.22 0 1 0 -2.44 0M185.03 178.75a1.22 1.22 0 1 0 2.44 0a1.22 1.22 0 1 0 -2.44 0M188.28 181.25a1.22 1.22 0 1 0 2.44 0a1.22 1.22 0 1 0 -2.44 0M185.03 183.75a1.22 1.22 0 1 0 2.44 0a1.22 1.22 0 1 0 -2.44 0M195.03 182.50a1.22 1.22 0 1 0 2.44 0a1.22 1.22 0 1 0 -2.44 0M198.28 182.00a1.22 1.22 0 1 0 2.44 0a1.22 1.22 0 1 0 -2.44 0M201.78 183.25a1.22 1.22 0 1 0 2.44 0a1.22 1.22 0 1 0 -2.44 0M208.28 182.00a1.22 1.22 0 1 0 2.44 0a1.22 1.22 0 1 0 -2.44 0M212.53 183.00a1.22 1.22 0 1 0 2.44 0a1.22 1.22 0 1 0 -2.44 0M213.28 184.25a1.22 1.22 0 1 0 2.44 0a1.22 1.22 0 1 0 -2.44 0M214.53 185.50a1.22 1.22 0 1 0 2.44 0a1.22 1.22 0 1 0 -2.44 0M221.28 186.25a1.22 1.22 0 1 0 2.44 0a1.22 1.22 0 1 0 -2.44 0M221.78 187.00a1.22 1.22 0 1 0 2.44 0a1.22 1.22 0 1 0 -2.44 0M199.28 187.50a1.22 1.22 0 1 0 2.44 0a1.22 1.22 0 1 0 -2.44 0M203.28 189.50a1.22 1.22 0 1 0 2.44 0a1.22 1.22 0 1 0 -2.44 0M207.53 189.50a1.22 1.22 0 1 0 2.44 0a1.22 1.22 0 1 0 -2.44 0M210.78 191.25a1.22 1.22 0 1 0 2.44 0a1.22 1.22 0 1 0 -2.44 0M216.78 189.50a1.22 1.22 0 1 0 2.44 0a1.22 1.22 0 1 0 -2.44 0" fill="none" stroke="#000" stroke-width="1.0"/>
</g>
<path d="M403.90 206.45a2.1 2.1 0 1 0 4.2 0a2.1 2.1 0 1 0 -4.2 0M404.30 206.72a2.1 2.1 0 1 0 4.2 0a2.1 2.1 0 1 0 -4.2 0M404.70 206.99a2.1 2.1 0 1 0 4.2 0a2.1 2.1 0 1 0 -4.2 0M405.10 207.25a2.1 2.1 0 1 0 4.2 0a2.1 2.1 0 1 0 -4.2 0M405.50 207.51a2.1 2.1 0 1 0 4.2 0a2.1 2.1 0 1 0 -4.2 0M405.90 207.76a2.1 2.1 0 1 0 4.2 0a2.1 2.1 0 1 0 -4.2 0M406.30 208.01a2.1 2.1 0 1 0 4.2 0a2.1 2.1 0 1 0 -4.2 0M406.70 208.26a2.1 2.1 0 1 0 4.2 0a2.1 2.1 0 1 0 -4.2 0M407.10 208.51a2.1 2.1 0 1 0 4.2 0a2.1 2.1 0 1 0 -4.2 0M407.50 208.75a2.1 2.1 0 1 0 4.2 0a2.1 2.1 0 1 0 -4.2 0M407.90 208.99a2.1 2.1 0 1 0 4.2 0a2.1 2.1 0 1 0 -4.2 0M408.30 209.23a2.1 2.1 0 1 0 4.2 0a2.1 2.1 0 1 0 -4.2 0M408.70 209.46a2.1 2.1 0 1 0 4.2 0a2.1 2.1 0 1 0 -4.2 0M409.10 209.69a2.1 2.1 0 1 0 4.2 0a2.1 2.1 0 1 0 -4.2 0M409.50 209.91a2.1 2.1 0 1 0 4.2 0a2.1 2.1 0 1 0 -4.2 0M409.90 210.14a2.1 2.1 0 1 0 4.2 0a2.1 2.1 0 1 0 -4.2 0M410.30 210.36a2.1 2.1 0 1 0 4.2 0a2.1 2.1 0 1 0 -4.2 0M410.70 210.57a2.1 2.1 0 1 0 4.2 0a2.1 2.1 0 1 0 -4.2 0M411.10 210.79a2.1 2.1 0 1 0 4.2 0a2.1 2.1 0 1 0 -4.2 0M411.50 211.00a2.1 2.1 0 1 0 4.2 0a2.1 2.1 0 1 0 -4.2 0M411.90 211.21a2.1 2.1 0 1 0 4.2 0a2.1 2.1 0 1 0 -4.2 0M412.30 211.41a2.1 2.1 0 1 0 4.2 0a2.1 2.1 0 1 0 -4.2 0M412.70 211.61a2.1 2.1 0 1 0 4.2 0a2.1 2.1 0 1 0 -4.2 0M413.10 211.81a2.1 2.1 0 1 0 4.2 0a2.1 2.1 0 1 0 -4.2 0M413.50 212.00a2.1 2.1 0 1 0 4.2 0a2.1 2.1 0 1 0 -4.2 0M413.90 212.19a2.1 2.1 0 1 0 4.2 0a2.1 2.1 0 1 0 -4.2 0M414.30 212.38a2.1 2.1 0 1 0 4.2 0a2.1 2.1 0 1 0 -4.2 0M414.70 212.56a2.1 2.1 0 1 0 4.2 0a2.1 2.1 0 1 0 -4.2 0M415.10 212.74a2.1 2.1 0 1 0 4.2 0a2.1 2.1 0 1 0 -4.2 0M415.50 212.92a2.1 2.1 0 1 0 4.2 0a2.1 2.1 0 1 0 -4.2 0M415.90 213.10a2.1 2.1 0 1 0 4.2 0a2.1 2.1 0 1 0 -4.2 0M416.30 213.27a2.1 2.1 0 1 0 4.2 0a2.1 2.1 0 1 0 -4.2 0M416.70 213.43a2.1 2.1 0 1 0 4.2 0a2.1 2.1 0 1 0 -4.2 0M417.10 213.60a2.1 2.1 0 1 0 4.2 0a2.1 2.1 0 1 0 -4.2 0M417.50 213.76a2.1 2.1 0 1 0 4.2 0a2.1 2.1 0 1 0 -4.2 0M417.90 213.92a2.1 2.1 0 1 0 4.2 0a2.1 2.1 0 1 0 -4.2 0M418.30 214.07a2.1 2.1 0 1 0 4.2 0a2.1 2.1 0 1 0 -4.2 0M418.70 214.22a2.1 2.1 0 1 0 4.2 0a2.1 2.1 0 1 0 -4.2 0M419.10 214.37a2.1 2.1 0 1 0 4.2 0a2.1 2.1 0 1 0 -4.2 0M419.50 214.51a2.1 2.1 0 1 0 4.2 0a2.1 2.1 0 1 0 -4.2 0M419.90 214.65a2.1 2.1 0 1 0 4.2 0a2.1 2.1 0 1 0 -4.2 0M420.30 214.79a2.1 2.1 0 1 0 4.2 0a2.1 2.1 0 1 0 -4.2 0M420.70 214.93a2.1 2.1 0 1 0 4.2 0a2.1 2.1 0 1 0 -4.2 0M421.10 215.06a2.1 2.1 0 1 0 4.2 0a2.1 2.1 0 1 0 -4.2 0M421.50 215.18a2.1 2.1 0 1 0 4.2 0a2.1 2.1 0 1 0 -4.2 0M421.90 215.31a2.1 2.1 0 1 0 4.2 0a2.1 2.1 0 1 0 -4.2 0M422.30 215.43a2.1 2.1 0 1 0 4.2 0a2.1 2.1 0 1 0 -4.2 0M422.70 215.55a2.1 2.1 0 1 0 4.2 0a2.1 2.1 0 1 0 -4.2 0M423.10 215.66a2.1 2.1 0 1 0 4.2 0a2.1 2.1 0 1 0 -4.2 0M423.50 215.77a2.1 2.1 0 1 0 4.2 0a2.1 2.1 0 1 0 -4.2 0M423.90 215.88a2.1 2.1 0 1 0 4.2 0a2.1 2.1 0 1 0 -4.2 0M424.30 215.98a2.1 2.1 0 1 0 4.2 0a2.1 2.1 0 1 0 -4.2 0M424.70 216.08a2.1 2.1 0 1 0 4.2 0a2.1 2.1 0 1 0 -4.2 0M425.10 216.18a2.1 2.1 0 1 0 4.2 0a2.1 2.1 0 1 0 -4.2 0M425.50 216.27a2.1 2.1 0 1 0 4.2 0a2.1 2.1 0 1 0 -4.2 0M425.90 216.36a2.1 2.1 0 1 0 4.2 0a2.1 2.1 0 1 0 -4.2 0M426.30 216.45a2.1 2.1 0 1 0 4.2 0a2.1 2.1 0 1 0 -4.2 0M426.70 216.53a2.1 2.1 0 1 0 4.2 0a2.1 2.1 0 1 0 -4.2 0M427.10 216.61a2.1 2.1 0 1 0 4.2 0a2.1 2.1 0 1 0 -4.2 0M427.50 216.69a2.1 2.1 0 1 0 4.2 0a2.1 2.1 0 1 0 -4.2 0M427.90 216.76a2.1 2.1 0 1 0 4.2 0a2.1 2.1 0 1 0 -4.2 0M428.30 216.83a2.1 2.1 0 1 0 4.2 0a2.1 2.1 0 1 0 -4.2 0M428.70 216.90a2.1 2.1 0 1 0 4.2 0a2.1 2.1 0 1 0 -4.2 0M429.10 216.96a2.1 2.1 0 1 0 4.2 0a2.1 2.1 0 1 0 -4.2 0M429.50 217.02a2.1 2.1 0 1 0 4.2 0a2.1 2.1 0 1 0 -4.2 0M429.90 217.07a2.1 2.1 0 1 0 4.2 0a2.1 2.1 0 1 0 -4.2 0M430.30 217.13a2.1 2.1 0 1 0 4.2 0a2.1 2.1 0 1 0 -4.2 0M430.70 217.17a2.1 2.1 0 1 0 4.2 0a2.1 2.1 0 1 0 -4.2 0M431.10 217.22a2.1 2.1 0 1 0 4.2 0a2.1 2.1 0 1 0 -4.2 0M431.50 217.26a2.1 2.1 0 1 0 4.2 0a2.1 2.1 0 1 0 -4.2 0M431.90 217.30a2.1 2.1 0 1 0 4.2 0a2.1 2.1 0 1 0 -4.2 0M432.30 217.34a2.1 2.1 0 1 0 4.2 0a2.1 2.1 0 1 0 -4.2 0M432.70 217.37a2.1 2.1 0 1 0 4.2 0a2.1 2.1 0 1 0 -4.2 0M433.10 217.39a2.1 2.1 0 1 0 4.2 0a2.1 2.1 0 1 0 -4.2 0M433.50 217.42a2.1 2.1 0 1 0 4.2 0a2.1 2.1 0 1 0 -4.2 0M433.90 217.44a2.1 2.1 0 1 0 4.2 0a2.1 2.1 0 1 0 -4.2 0M434.30 217.46a2.1 2.1 0 1 0 4.2 0a2.1 2.1 0 1 0 -4.2 0M434.70 217.47a2.1 2.1 0 1 0 4.2 0a2.1 2.1 0 1 0 -4.2 0M435.10 217.48a2.1 2.1 0 1 0 4.2 0a2.1 2.1 0 1 0 -4.2 0M435.50 217.49a2.1 2.1 0 1 0 4.2 0a2.1 2.1 0 1 0 -4.2 0M435.90 217.49a2.1 2.1 0 1 0 4.2 0a2.1 2.1 0 1 0 -4.2 0M436.30 217.49a2.1 2.1 0 1 0 4.2 0a2.1 2.1 0 1 0 -4.2 0M436.70 217.49a2.1 2.1 0 1 0 4.2 0a2.1 2.1 0 1 0 -4.2 0M437.10 217.48a2.1 2.1 0 1 0 4.2 0a2.1 2.1 0 1 0 -4.2 0M437.50 217.47a2.1 2.1 0 1 0 4.2 0a2.1 2.1 0 1 0 -4.2 0M437.90 217.45a2.1 2.1 0 1 0 4.2 0a2.1 2.1 0 1 0 -4.2 0M438.30 217.44a2.1 2.1 0 1 0 4.2 0a2.1 2.1 0 1 0 -4.2 0M438.70 217.41a2.1 2.1 0 1 0 4.2 0a2.1 2.1 0 1 0 -4.2 0M439.10 217.39a2.1 2.1 0 1 0 4.2 0a2.1 2.1 0 1 0 -4.2 0M439.50 217.36a2.1 2.1 0 1 0 4.2 0a2.1 2.1 0 1 0 -4.2 0M439.90 217.33a2.1 2.1 0 1 0 4.2 0a2.1 2.1 0 1 0 -4.2 0M440.30 217.29a2.1 2.1 0 1 0 4.2 0a2.1 2.1 0 1 0 -4.2 0M440.70 217.25a2.1 2.1 0 1 0 4.2 0a2.1 2.1 0 1 0 -4.2 0M441.10 217.21a2.1 2.1 0 1 0 4.2 0a2.1 2.1 0 1 0 -4.2 0M441.50 217.16a2.1 2.1 0 1 0 4.2 0a2.1 2.1 0 1 0 -4.2 0M441.90 217.11a2.1 2.1 0 1 0 4.2 0a2.1 2.1 0 1 0 -4.2 0M442.30 217.06a2.1 2.1 0 1 0 4.2 0a2.1 2.1 0 1 0 -4.2 0M442.70 217.00a2.1 2.1 0 1 0 4.2 0a2.1 2.1 0 1 0 -4.2 0M443.10 216.94a2.1 2.1 0 1 0 4.2 0a2.1 2.1 0 1 0 -4.2 0M443.50 216.87a2.1 2.1 0 1 0 4.2 0a2.1 2.1 0 1 0 -4.2 0M443.90 216.81a2.1 2.1 0 1 0 4.2 0a2.1 2.1 0 1 0 -4.2 0M444.30 216.73a2.1 2.1 0 1 0 4.2 0a2.1 2.1 0 1 0 -4.2 0M444.70 216.66a2.1 2.1 0 1 0 4.2 0a2.1 2.1 0 1 0 -4.2 0M445.10 216.58a2.1 2.1 0 1 0 4.2 0a2.1 2.1 0 1 0 -4.2 0M445.50 216.50a2.1 2.1 0 1 0 4.2 0a2.1 2.1 0 1 0 -4.2 0M445.90 216.41a2.1 2.1 0 1 0 4.2 0a2.1 2.1 0 1 0 -4.2 0M446.30 216.32a2.1 2.1 0 1 0 4.2 0a2.1 2.1 0 1 0 -4.2 0M446.70 216.23a2.1 2.1 0 1 0 4.2 0a2.1 2.1 0 1 0 -4.2 0M447.10 216.13a2.1 2.1 0 1 0 4.2 0a2.1 2.1 0 1 0 -4.2 0M447.50 216.03a2.1 2.1 0 1 0 4.2 0a2.1 2.1 0 1 0 -4.2 0M447.90 215.92a2.1 2.1 0 1 0 4.2 0a2.1 2.1 0 1 0 -4.2 0M448.30 215.81a2.1 2.1 0 1 0 4.2 0a2.1 2.1 0 1 0 -4.2 0M448.70 215.70a2.1 2.1 0 1 0 4.2 0a2.1 2.1 0 1 0 -4.2 0M449.10 215.59a2.1 2.1 0 1 0 4.2 0a2.1 2.1 0 1 0 -4.2 0M449.50 215.47a2.1 2.1 0 1 0 4.2 0a2.1 2.1 0 1 0 -4.2 0M449.90 215.34a2.1 2.1 0 1 0 4.2 0a2.1 2.1 0 1 0 -4.2 0M450.30 215.22a2.1 2.1 0 1 0 4.2 0a2.1 2.1 0 1 0 -4.2 0M450.70 215.09a2.1 2.1 0 1 0 4.2 0a2.1 2.1 0 1 0 -4.2 0M451.10 214.95a2.1 2.1 0 1 0 4.2 0a2.1 2.1 0 1 0 -4.2 0M451.50 214.81a2.1 2.1 0 1 0 4.2 0a2.1 2.1 0 1 0 -4.2 0M451.90 214.67a2.1 2.1 0 1 0 4.2 0a2.1 2.1 0 1 0 -4.2 0M452.30 214.53a2.1 2.1 0 1 0 4.2 0a2.1 2.1 0 1 0 -4.2 0M452.70 214.38a2.1 2.1 0 1 0 4.2 0a2.1 2.1 0 1 0 -4.2 0M453.10 214.23a2.1 2.1 0 1 0 4.2 0a2.1 2.1 0 1 0 -4.2 0M453.50 214.07a2.1 2.1 0 1 0 4.2 0a2.1 2.1 0 1 0 -4.2 0M453.90 213.91a2.1 2.1 0 1 0 4.2 0a2.1 2.1 0 1 0 -4.2 0M454.30 213.75a2.1 2.1 0 1 0 4.2 0a2.1 2.1 0 1 0 -4.2 0M454.70 213.58a2.1 2.1 0 1 0 4.2 0a2.1 2.1 0 1 0 -4.2 0M455.10 213.41a2.1 2.1 0 1 0 4.2 0a2.1 2.1 0 1 0 -4.2 0M455.50 213.23a2.1 2.1 0 1 0 4.2 0a2.1 2.1 0 1 0 -4.2 0M455.90 213.06a2.1 2.1 0 1 0 4.2 0a2.1 2.1 0 1 0 -4.2 0M456.30 212.87a2.1 2.1 0 1 0 4.2 0a2.1 2.1 0 1 0 -4.2 0M456.70 212.69a2.1 2.1 0 1 0 4.2 0a2.1 2.1 0 1 0 -4.2 0M457.10 212.50a2.1 2.1 0 1 0 4.2 0a2.1 2.1 0 1 0 -4.2 0M457.50 212.31a2.1 2.1 0 1 0 4.2 0a2.1 2.1 0 1 0 -4.2 0M457.90 212.11a2.1 2.1 0 1 0 4.2 0a2.1 2.1 0 1 0 -4.2 0M458.30 211.91a2.1 2.1 0 1 0 4.2 0a2.1 2.1 0 1 0 -4.2 0M458.70 211.71a2.1 2.1 0 1 0 4.2 0a2.1 2.1 0 1 0 -4.2 0M459.10 211.50a2.1 2.1 0 1 0 4.2 0a2.1 2.1 0 1 0 -4.2 0M459.50 211.29a2.1 2.1 0 1 0 4.2 0a2.1 2.1 0 1 0 -4.2 0M459.90 211.08a2.1 2.1 0 1 0 4.2 0a2.1 2.1 0 1 0 -4.2 0M460.30 210.86a2.1 2.1 0 1 0 4.2 0a2.1 2.1 0 1 0 -4.2 0M460.70 210.64a2.1 2.1 0 1 0 4.2 0a2.1 2.1 0 1 0 -4.2 0M461.10 210.41a2.1 2.1 0 1 0 4.2 0a2.1 2.1 0 1 0 -4.2 0M461.50 210.18a2.1 2.1 0 1 0 4.2 0a2.1 2.1 0 1 0 -4.2 0M461.90 209.95a2.1 2.1 0 1 0 4.2 0a2.1 2.1 0 1 0 -4.2 0M462.30 209.71a2.1 2.1 0 1 0 4.2 0a2.1 2.1 0 1 0 -4.2 0M462.70 209.48a2.1 2.1 0 1 0 4.2 0a2.1 2.1 0 1 0 -4.2 0M463.10 209.23a2.1 2.1 0 1 0 4.2 0a2.1 2.1 0 1 0 -4.2 0M463.50 208.99a2.1 2.1 0 1 0 4.2 0a2.1 2.1 0 1 0 -4.2 0M463.90 208.74a2.1 2.1 0 1 0 4.2 0a2.1 2.1 0 1 0 -4.2 0M464.30 208.48a2.1 2.1 0 1 0 4.2 0a2.1 2.1 0 1 0 -4.2 0M464.70 208.22a2.1 2.1 0 1 0 4.2 0a2.1 2.1 0 1 0 -4.2 0M465.10 207.96a2.1 2.1 0 1 0 4.2 0a2.1 2.1 0 1 0 -4.2 0M465.50 207.70a2.1 2.1 0 1 0 4.2 0a2.1 2.1 0 1 0 -4.2 0M465.90 207.43a2.1 2.1 0 1 0 4.2 0a2.1 2.1 0 1 0 -4.2 0M466.30 207.16a2.1 2.1 0 1 0 4.2 0a2.1 2.1 0 1 0 -4.2 0M466.70 206.89a2.1 2.1 0 1 0 4.2 0a2.1 2.1 0 1 0 -4.2 0M467.10 206.61a2.1 2.1 0 1 0 4.2 0a2.1 2.1 0 1 0 -4.2 0M467.50 206.33a2.1 2.1 0 1 0 4.2 0a2.1 2.1 0 1 0 -4.2 0M467.90 206.04a2.1 2.1 0 1 0 4.2 0a2.1 2.1 0 1 0 -4.2 0M468.30 205.75a2.1 2.1 0 1 0 4.2 0a2.1 2.1 0 1 0 -4.2 0M468.70 205.46a2.1 2.1 0 1 0 4.2 0a2.1 2.1 0 1 0 -4.2 0M469.10 205.16a2.1 2.1 0 1 0 4.2 0a2.1 2.1 0 1 0 -4.2 0M469.50 204.86a2.1 2.1 0 1 0 4.2 0a2.1 2.1 0 1 0 -4.2 0M469.90 204.56a2.1 2.1 0 1 0 4.2 0a2.1 2.1 0 1 0 -4.2 0M470.30 204.25a2.1 2.1 0 1 0 4.2 0a2.1 2.1 0 1 0 -4.2 0M470.70 203.94a2.1 2.1 0 1 0 4.2 0a2.1 2.1 0 1 0 -4.2 0M471.10 203.63a2.1 2.1 0 1 0 4.2 0a2.1 2.1 0 1 0 -4.2 0M471.50 203.31a2.1 2.1 0 1 0 4.2 0a2.1 2.1 0 1 0 -4.2 0M471.90 202.99a2.1 2.1 0 1 0 4.2 0a2.1 2.1 0 1 0 -4.2 0M472.30 202.67a2.1 2.1 0 1 0 4.2 0a2.1 2.1 0 1 0 -4.2 0M472.70 202.34a2.1 2.1 0 1 0 4.2 0a2.1 2.1 0 1 0 -4.2 0M473.10 202.01a2.1 2.1 0 1 0 4.2 0a2.1 2.1 0 1 0 -4.2 0M473.50 201.67a2.1 2.1 0 1 0 4.2 0a2.1 2.1 0 1 0 -4.2 0M473.90 201.34a2.1 2.1 0 1 0 4.2 0a2.1 2.1 0 1 0 -4.2 0M474.30 201.00a2.1 2.1 0 1 0 4.2 0a2.1 2.1 0 1 0 -4.2 0M474.70 200.65a2.1 2.1 0 1 0 4.2 0a2.1 2.1 0 1 0 -4.2 0M475.10 200.30a2.1 2.1 0 1 0 4.2 0a2.1 2.1 0 1 0 -4.2 0M475.50 199.95a2.1 2.1 0 1 0 4.2 0a2.1 2.1 0 1 0 -4.2 0M475.90 199.60a2.1 2.1 0 1 0 4.2 0a2.1 2.1 0 1 0 -4.2 0M476.30 199.24a2.1 2.1 0 1 0 4.2 0a2.1 2.1 0 1 0 -4.2 0M476.70 198.88a2.1 2.1 0 1 0 4.2 0a2.1 2.1 0 1 0 -4.2 0M477.10 198.52a2.1 2.1 0 1 0 4.2 0a2.1 2.1 0 1 0 -4.2 0M477.50 198.15a2.1 2.1 0 1 0 4.2 0a2.1 2.1 0 1 0 -4.2 0M477.90 197.78a2.1 2.1 0 1 0 4.2 0a2.1 2.1 0 1 0 -4.2 0M478.30 197.41a2.1 2.1 0 1 0 4.2 0a2.1 2.1 0 1 0 -4.2 0M478.70 197.03a2.1 2.1 0 1 0 4.2 0a2.1 2.1 0 1 0 -4.2 0M479.10 196.65a2.1 2.1 0 1 0 4.2 0a2.1 2.1 0 1 0 -4.2 0M479.50 196.27a2.1 2.1 0 1 0 4.2 0a2.1 2.1 0 1 0 -4.2 0M479.90 195.88a2.1 2.1 0 1 0 4.2 0a2.1 2.1 0 1 0 -4.2 0M480.30 195.49a2.1 2.1 0 1 0 4.2 0a2.1 2.1 0 1 0 -4.2 0M480.70 195.10a2.1 2.1 0 1 0 4.2 0a2.1 2.1 0 1 0 -4.2 0M481.10 194.71a2.1 2.1 0 1 0 4.2 0a2.1 2.1 0 1 0 -4.2 0M481.50 194.31a2.1 2.1 0 1 0 4.2 0a2.1 2.1 0 1 0 -4.2 0M481.90 193.91a2.1 2.1 0 1 0 4.2 0a2.1 2.1 0 1 0 -4.2 0M482.30 193.51a2.1 2.1 0 1 0 4.2 0a2.1 2.1 0 1 0 -4.2 0M482.70 193.10a2.1 2.1 0 1 0 4.2 0a2.1 2.1 0 1 0 -4.2 0M483.10 192.69a2.1 2.1 0 1 0 4.2 0a2.1 2.1 0 1 0 -4.2 0M483.50 192.28a2.1 2.1 0 1 0 4.2 0a2.1 2.1 0 1 0 -4.2 0M483.90 191.87a2.1 2.1 0 1 0 4.2 0a2.1 2.1 0 1 0 -4.2 0M484.30 191.45a2.1 2.1 0 1 0 4.2 0a2.1 2.1 0 1 0 -4.2 0M484.70 191.03a2.1 2.1 0 1 0 4.2 0a2.1 2.1 0 1 0 -4.2 0M485.10 190.61a2.1 2.1 0 1 0 4.2 0a2.1 2.1 0 1 0 -4.2 0M485.50 190.19a2.1 2.1 0 1 0 4.2 0a2.1 2.1 0 1 0 -4.2 0M485.90 189.76a2.1 2.1 0 1 0 4.2 0a2.1 2.1 0 1 0 -4.2 0M486.30 189.33a2.1 2.1 0 1 0 4.2 0a2.1 2.1 0 1 0 -4.2 0M486.70 188.90a2.1 2.1 0 1 0 4.2 0a2.1 2.1 0 1 0 -4.2 0M487.10 188.46a2.1 2.1 0 1 0 4.2 0a2.1 2.1 0 1 0 -4.2 0M487.50 188.02a2.1 2.1 0 1 0 4.2 0a2.1 2.1 0 1 0 -4.2 0M487.90 187.58a2.1 2.1 0 1 0 4.2 0a2.1 2.1 0 1 0 -4.2 0M488.30 187.14a2.1 2.1 0 1 0 4.2 0a2.1 2.1 0 1 0 -4.2 0M488.70 186.69a2.1 2.1 0 1 0 4.2 0a2.1 2.1 0 1 0 -4.2 0M489.10 186.25a2.1 2.1 0 1 0 4.2 0a2.1 2.1 0 1 0 -4.2 0M489.50 185.80a2.1 2.1 0 1 0 4.2 0a2.1 2.1 0 1 0 -4.2 0M489.90 185.34a2.1 2.1 0 1 0 4.2 0a2.1 2.1 0 1 0 -4.2 0M490.30 184.89a2.1 2.1 0 1 0 4.2 0a2.1 2.1 0 1 0 -4.2 0M490.70 184.43a2.1 2.1 0 1 0 4.2 0a2.1 2.1 0 1 0 -4.2 0M491.10 183.97a2.1 2.1 0 1 0 4.2 0a2.1 2.1 0 1 0 -4.2 0M491.50 183.51a2.1 2.1 0 1 0 4.2 0a2.1 2.1 0 1 0 -4.2 0M491.90 183.05a2.1 2.1 0 1 0 4.2 0a2.1 2.1 0 1 0 -4.2 0M492.30 182.58a2.1 2.1 0 1 0 4.2 0a2.1 2.1 0 1 0 -4.2 0M492.70 182.11a2.1 2.1 0 1 0 4.2 0a2.1 2.1 0 1 0 -4.2 0M493.10 181.64a2.1 2.1 0 1 0 4.2 0a2.1 2.1 0 1 0 -4.2 0M493.50 181.17a2.1 2.1 0 1 0 4.2 0a2.1 2.1 0 1 0 -4.2 0M493.90 180.70a2.1 2.1 0 1 0 4.2 0a2.1 2.1 0 1 0 -4.2 0M494.30 180.22a2.1 2.1 0 1 0 4.2 0a2.1 2.1 0 1 0 -4.2 0M494.70 179.74a2.1 2.1 0 1 0 4.2 0a2.1 2.1 0 1 0 -4.2 0M495.10 179.26a2.1 2.1 0 1 0 4.2 0a2.1 2.1 0 1 0 -4.2 0M495.50 178.78a2.1 2.1 0 1 0 4.2 0a2.1 2.1 0 1 0 -4.2 0M495.90 178.30a2.1 2.1 0 1 0 4.2 0a2.1 2.1 0 1 0 -4.2 0M496.30 177.81a2.1 2.1 0 1 0 4.2 0a2.1 2.1 0 1 0 -4.2 0M496.70 177.33a2.1 2.1 0 1 0 4.2 0a2.1 2.1 0 1 0 -4.2 0M497.10 176.84a2.1 2.1 0 1 0 4.2 0a2.1 2.1 0 1 0 -4.2 0M497.50 176.35a2.1 2.1 0 1 0 4.2 0a2.1 2.1 0 1 0 -4.2 0M497.90 175.86a2.1 2.1 0 1 0 4.2 0a2.1 2.1 0 1 0 -4.2 0M498.30 175.36a2.1 2.1 0 1 0 4.2 0a2.1 2.1 0 1 0 -4.2 0M498.70 174.87a2.1 2.1 0 1 0 4.2 0a2.1 2.1 0 1 0 -4.2 0M499.10 174.37a2.1 2.1 0 1 0 4.2 0a2.1 2.1 0 1 0 -4.2 0M499.50 173.87a2.1 2.1 0 1 0 4.2 0a2.1 2.1 0 1 0 -4.2 0M499.90 173.37a2.1 2.1 0 1 0 4.2 0a2.1 2.1 0 1 0 -4.2 0M500.30 172.87a2.1 2.1 0 1 0 4.2 0a2.1 2.1 0 1 0 -4.2 0M500.70 172.37a2.1 2.1 0 1 0 4.2 0a2.1 2.1 0 1 0 -4.2 0M501.10 171.87a2.1 2.1 0 1 0 4.2 0a2.1 2.1 0 1 0 -4.2 0M501.50 171.37a2.1 2.1 0 1 0 4.2 0a2.1 2.1 0 1 0 -4.2 0M501.90 170.86a2.1 2.1 0 1 0 4.2 0a2.1 2.1 0 1 0 -4.2 0M502.30 170.36a2.1 2.1 0 1 0 4.2 0a2.1 2.1 0 1 0 -4.2 0M502.70 169.85a2.1 2.1 0 1 0 4.2 0a2.1 2.1 0 1 0 -4.2 0M503.10 169.34a2.1 2.1 0 1 0 4.2 0a2.1 2.1 0 1 0 -4.2 0M503.50 168.83a2.1 2.1 0 1 0 4.2 0a2.1 2.1 0 1 0 -4.2 0M503.90 168.33a2.1 2.1 0 1 0 4.2 0a2.1 2.1 0 1 0 -4.2 0M504.30 167.82a2.1 2.1 0 1 0 4.2 0a2.1 2.1 0 1 0 -4.2 0M504.70 167.31a2.1 2.1 0 1 0 4.2 0a2.1 2.1 0 1 0 -4.2 0M505.10 166.79a2.1 2.1 0 1 0 4.2 0a2.1 2.1 0 1 0 -4.2 0M505.50 166.28a2.1 2.1 0 1 0 4.2 0a2.1 2.1 0 1 0 -4.2 0M505.90 165.77a2.1 2.1 0 1 0 4.2 0a2.1 2.1 0 1 0 -4.2 0M506.30 165.26a2.1 2.1 0 1 0 4.2 0a2.1 2.1 0 1 0 -4.2 0M506.70 164.75a2.1 2.1 0 1 0 4.2 0a2.1 2.1 0 1 0 -4.2 0M507.10 164.23a2.1 2.1 0 1 0 4.2 0a2.1 2.1 0 1 0 -4.2 0M507.50 163.72a2.1 2.1 0 1 0 4.2 0a2.1 2.1 0 1 0 -4.2 0M507.90 163.21a2.1 2.1 0 1 0 4.2 0a2.1 2.1 0 1 0 -4.2 0M508.30 162.69a2.1 2.1 0 1 0 4.2 0a2.1 2.1 0 1 0 -4.2 0M508.70 162.18a2.1 2.1 0 1 0 4.2 0a2.1 2.1 0 1 0 -4.2 0M509.10 161.67a2.1 2.1 0 1 0 4.2 0a2.1 2.1 0 1 0 -4.2 0M509.50 161.15a2.1 2.1 0 1 0 4.2 0a2.1 2.1 0 1 0 -4.2 0M509.90 160.64a2.1 2.1 0 1 0 4.2 0a2.1 2.1 0 1 0 -4.2 0M510.30 160.13a2.1 2.1 0 1 0 4.2 0a2.1 2.1 0 1 0 -4.2 0M510.70 159.61a2.1 2.1 0 1 0 4.2 0a2.1 2.1 0 1 0 -4.2 0M511.10 159.10a2.1 2.1 0 1 0 4.2 0a2.1 2.1 0 1 0 -4.2 0M511.50 158.59a2.1 2.1 0 1 0 4.2 0a2.1 2.1 0 1 0 -4.2 0M511.90 158.08a2.1 2.1 0 1 0 4.2 0a2.1 2.1 0 1 0 -4.2 0M512.30 157.56a2.1 2.1 0 1 0 4.2 0a2.1 2.1 0 1 0 -4.2 0M512.70 157.05a2.1 2.1 0 1 0 4.2 0a2.1 2.1 0 1 0 -4.2 0M513.10 156.54a2.1 2.1 0 1 0 4.2 0a2.1 2.1 0 1 0 -4.2 0M513.50 156.03a2.1 2.1 0 1 0 4.2 0a2.1 2.1 0 1 0 -4.2 0M513.90 155.52a2.1 2.1 0 1 0 4.2 0a2.1 2.1 0 1 0 -4.2 0M514.30 155.01a2.1 2.1 0 1 0 4.2 0a2.1 2.1 0 1 0 -4.2 0M514.70 154.50a2.1 2.1 0 1 0 4.2 0a2.1 2.1 0 1 0 -4.2 0M515.10 154.00a2.1 2.1 0 1 0 4.2 0a2.1 2.1 0 1 0 -4.2 0M515.50 153.49a2.1 2.1 0 1 0 4.2 0a2.1 2.1 0 1 0 -4.2 0M515.90 152.99a2.1 2.1 0 1 0 4.2 0a2.1 2.1 0 1 0 -4.2 0M516.30 152.48a2.1 2.1 0 1 0 4.2 0a2.1 2.1 0 1 0 -4.2 0M516.70 151.98a2.1 2.1 0 1 0 4.2 0a2.1 2.1 0 1 0 -4.2 0M517.10 151.48a2.1 2.1 0 1 0 4.2 0a2.1 2.1 0 1 0 -4.2 0M517.50 150.98a2.1 2.1 0 1 0 4.2 0a2.1 2.1 0 1 0 -4.2 0M517.94 150.43a2.1 2.1 0 1 0 4.2 0a2.1 2.1 0 1 0 -4.2 0M518.39 149.87a2.1 2.1 0 1 0 4.2 0a2.1 2.1 0 1 0 -4.2 0M518.66 149.53a2.1 2.1 0 1 0 4.2 0a2.1 2.1 0 1 0 -4.2 0M519.20 148.87a2.1 2.1 0 1 0 4.2 0a2.1 2.1 0 1 0 -4.2 0M519.25 148.80a2.1 2.1 0 1 0 4.2 0a2.1 2.1 0 1 0 -4.2 0M520.02 147.85a2.1 2.1 0 1 0 4.2 0a2.1 2.1 0 1 0 -4.2 0M520.04 147.83a2.1 2.1 0 1 0 4.2 0a2.1 2.1 0 1 0 -4.2 0M520.17 147.67a2.1 2.1 0 1 0 4.2 0a2.1 2.1 0 1 0 -4.2 0M520.25 147.57a2.1 2.1 0 1 0 4.2 0a2.1 2.1 0 1 0 -4.2 0M520.46 147.32a2.1 2.1 0 1 0 4.2 0a2.1 2.1 0 1 0 -4.2 0M520.74 146.97a2.1 2.1 0 1 0 4.2 0a2.1 2.1 0 1 0 -4.2 0M521.04 146.62a2.1 2.1 0 1 0 4.2 0a2.1 2.1 0 1 0 -4.2 0M521.07 146.58a2.1 2.1 0 1 0 4.2 0a2.1 2.1 0 1 0 -4.2 0M521.56 145.98a2.1 2.1 0 1 0 4.2 0a2.1 2.1 0 1 0 -4.2 0M521.89 145.58a2.1 2.1 0 1 0 4.2 0a2.1 2.1 0 1 0 -4.2 0M522.12 145.30a2.1 2.1 0 1 0 4.2 0a2.1 2.1 0 1 0 -4.2 0M522.41 144.97a2.1 2.1 0 1 0 4.2 0a2.1 2.1 0 1 0 -4.2 0M522.74 144.57a2.1 2.1 0 1 0 4.2 0a2.1 2.1 0 1 0 -4.2 0M522.82 144.48a2.1 2.1 0 1 0 4.2 0a2.1 2.1 0 1 0 -4.2 0M522.85 144.43a2.1 2.1 0 1 0 4.2 0a2.1 2.1 0 1 0 -4.2 0M523.03 144.22a2.1 2.1 0 1 0 4.2 0a2.1 2.1 0 1 0 -4.2 0M523.04 144.21a2.1 2.1 0 1 0 4.2 0a2.1 2.1 0 1 0 -4.2 0M523.08 144.17a2.1 2.1 0 1 0 4.2 0a2.1 2.1 0 1 0 -4.2 0M523.24 143.97a2.1 2.1 0 1 0 4.2 0a2.1 2.1 0 1 0 -4.2 0M523.25 143.97a2.1 2.1 0 1 0 4.2 0a2.1 2.1 0 1 0 -4.2 0M523.37 143.83a2.1 2.1 0 1 0 4.2 0a2.1 2.1 0 1 0 -4.2 0M523.82 143.29a2.1 2.1 0 1 0 4.2 0a2.1 2.1 0 1 0 -4.2 0M524.78 142.17a2.1 2.1 0 1 0 4.2 0a2.1 2.1 0 1 0 -4.2 0M525.01 141.91a2.1 2.1 0 1 0 4.2 0a2.1 2.1 0 1 0 -4.2 0M525.20 141.69a2.1 2.1 0 1 0 4.2 0a2.1 2.1 0 1 0 -4.2 0M525.22 141.67a2.1 2.1 0 1 0 4.2 0a2.1 2.1 0 1 0 -4.2 0M525.32 141.55a2.1 2.1 0 1 0 4.2 0a2.1 2.1 0 1 0 -4.2 0M525.35 141.51a2.1 2.1 0 1 0 4.2 0a2.1 2.1 0 1 0 -4.2 0M525.36 141.51a2.1 2.1 0 1 0 4.2 0a2.1 2.1 0 1 0 -4.2 0M525.75 141.06a2.1 2.1 0 1 0 4.2 0a2.1 2.1 0 1 0 -4.2 0M527.11 139.53a2.1 2.1 0 1 0 4.2 0a2.1 2.1 0 1 0 -4.2 0M527.13 139.50a2.1 2.1 0 1 0 4.2 0a2.1 2.1 0 1 0 -4.2 0M527.26 139.36a2.1 2.1 0 1 0 4.2 0a2.1 2.1 0 1 0 -4.2 0M527.41 139.19a2.1 2.1 0 1 0 4.2 0a2.1 2.1 0 1 0 -4.2 0M527.62 138.96a2.1 2.1 0 1 0 4.2 0a2.1 2.1 0 1 0 -4.2 0M527.68 138.89a2.1 2.1 0 1 0 4.2 0a2.1 2.1 0 1 0 -4.2 0M527.74 138.82a2.1 2.1 0 1 0 4.2 0a2.1 2.1 0 1 0 -4.2 0M527.75 138.81a2.1 2.1 0 1 0 4.2 0a2.1 2.1 0 1 0 -4.2 0M527.89 138.66a2.1 2.1 0 1 0 4.2 0a2.1 2.1 0 1 0 -4.2 0M528.61 137.86a2.1 2.1 0 1 0 4.2 0a2.1 2.1 0 1 0 -4.2 0M528.67 137.81a2.1 2.1 0 1 0 4.2 0a2.1 2.1 0 1 0 -4.2 0M528.73 137.74a2.1 2.1 0 1 0 4.2 0a2.1 2.1 0 1 0 -4.2 0M529.68 136.71a2.1 2.1 0 1 0 4.2 0a2.1 2.1 0 1 0 -4.2 0M529.88 136.50a2.1 2.1 0 1 0 4.2 0a2.1 2.1 0 1 0 -4.2 0M529.89 136.49a2.1 2.1 0 1 0 4.2 0a2.1 2.1 0 1 0 -4.2 0M529.92 136.46a2.1 2.1 0 1 0 4.2 0a2.1 2.1 0 1 0 -4.2 0M530.22 136.14a2.1 2.1 0 1 0 4.2 0a2.1 2.1 0 1 0 -4.2 0M530.28 136.08a2.1 2.1 0 1 0 4.2 0a2.1 2.1 0 1 0 -4.2 0M530.82 135.51a2.1 2.1 0 1 0 4.2 0a2.1 2.1 0 1 0 -4.2 0M530.98 135.34a2.1 2.1 0 1 0 4.2 0a2.1 2.1 0 1 0 -4.2 0M531.09 135.22a2.1 2.1 0 1 0 4.2 0a2.1 2.1 0 1 0 -4.2 0M531.31 135.00a2.1 2.1 0 1 0 4.2 0a2.1 2.1 0 1 0 -4.2 0M531.52 134.77a2.1 2.1 0 1 0 4.2 0a2.1 2.1 0 1 0 -4.2 0M531.77 134.52a2.1 2.1 0 1 0 4.2 0a2.1 2.1 0 1 0 -4.2 0M531.95 134.34a2.1 2.1 0 1 0 4.2 0a2.1 2.1 0 1 0 -4.2 0M532.07 134.21a2.1 2.1 0 1 0 4.2 0a2.1 2.1 0 1 0 -4.2 0M532.45 133.82a2.1 2.1 0 1 0 4.2 0a2.1 2.1 0 1 0 -4.2 0M532.53 133.74a2.1 2.1 0 1 0 4.2 0a2.1 2.1 0 1 0 -4.2 0M532.57 133.70a2.1 2.1 0 1 0 4.2 0a2.1 2.1 0 1 0 -4.2 0M532.64 133.63a2.1 2.1 0 1 0 4.2 0a2.1 2.1 0 1 0 -4.2 0M533.07 133.20a2.1 2.1 0 1 0 4.2 0a2.1 2.1 0 1 0 -4.2 0M533.22 133.05a2.1 2.1 0 1 0 4.2 0a2.1 2.1 0 1 0 -4.2 0M533.49 132.78a2.1 2.1 0 1 0 4.2 0a2.1 2.1 0 1 0 -4.2 0M533.65 132.62a2.1 2.1 0 1 0 4.2 0a2.1 2.1 0 1 0 -4.2 0M534.11 132.16a2.1 2.1 0 1 0 4.2 0a2.1 2.1 0 1 0 -4.2 0M534.34 131.94a2.1 2.1 0 1 0 4.2 0a2.1 2.1 0 1 0 -4.2 0M534.41 131.87a2.1 2.1 0 1 0 4.2 0a2.1 2.1 0 1 0 -4.2 0M534.63 131.66a2.1 2.1 0 1 0 4.2 0a2.1 2.1 0 1 0 -4.2 0M534.64 131.65a2.1 2.1 0 1 0 4.2 0a2.1 2.1 0 1 0 -4.2 0M534.90 131.40a2.1 2.1 0 1 0 4.2 0a2.1 2.1 0 1 0 -4.2 0M534.97 131.33a2.1 2.1 0 1 0 4.2 0a2.1 2.1 0 1 0 -4.2 0M535.31 131.01a2.1 2.1 0 1 0 4.2 0a2.1 2.1 0 1 0 -4.2 0M535.36 130.96a2.1 2.1 0 1 0 4.2 0a2.1 2.1 0 1 0 -4.2 0M535.55 130.78a2.1 2.1 0 1 0 4.2 0a2.1 2.1 0 1 0 -4.2 0M535.57 130.75a2.1 2.1 0 1 0 4.2 0a2.1 2.1 0 1 0 -4.2 0M535.60 130.72a2.1 2.1 0 1 0 4.2 0a2.1 2.1 0 1 0 -4.2 0M535.95 130.39a2.1 2.1 0 1 0 4.2 0a2.1 2.1 0 1 0 -4.2 0M536.26 130.10a2.1 2.1 0 1 0 4.2 0a2.1 2.1 0 1 0 -4.2 0M536.35 130.02a2.1 2.1 0 1 0 4.2 0a2.1 2.1 0 1 0 -4.2 0M536.43 129.94a2.1 2.1 0 1 0 4.2 0a2.1 2.1 0 1 0 -4.2 0M536.44 129.93a2.1 2.1 0 1 0 4.2 0a2.1 2.1 0 1 0 -4.2 0M536.57 129.81a2.1 2.1 0 1 0 4.2 0a2.1 2.1 0 1 0 -4.2 0M536.71 129.69a2.1 2.1 0 1 0 4.2 0a2.1 2.1 0 1 0 -4.2 0M536.87 129.54a2.1 2.1 0 1 0 4.2 0a2.1 2.1 0 1 0 -4.2 0M537.23 129.21a2.1 2.1 0 1 0 4.2 0a2.1 2.1 0 1 0 -4.2 0M537.25 129.19a2.1 2.1 0 1 0 4.2 0a2.1 2.1 0 1 0 -4.2 0M537.58 128.89a2.1 2.1 0 1 0 4.2 0a2.1 2.1 0 1 0 -4.2 0M537.65 128.83a2.1 2.1 0 1 0 4.2 0a2.1 2.1 0 1 0 -4.2 0M537.93 128.57a2.1 2.1 0 1 0 4.2 0a2.1 2.1 0 1 0 -4.2 0M538.40 128.15a2.1 2.1 0 1 0 4.2 0a2.1 2.1 0 1 0 -4.2 0M538.65 127.93a2.1 2.1 0 1 0 4.2 0a2.1 2.1 0 1 0 -4.2 0M539.14 127.50a2.1 2.1 0 1 0 4.2 0a2.1 2.1 0 1 0 -4.2 0M539.14 127.50a2.1 2.1 0 1 0 4.2 0a2.1 2.1 0 1 0 -4.2 0M539.17 127.47a2.1 2.1 0 1 0 4.2 0a2.1 2.1 0 1 0 -4.2 0M539.37 127.30a2.1 2.1 0 1 0 4.2 0a2.1 2.1 0 1 0 -4.2 0M539.68 127.04a2.1 2.1 0 1 0 4.2 0a2.1 2.1 0 1 0 -4.2 0M539.86 126.88a2.1 2.1 0 1 0 4.2 0a2.1 2.1 0 1 0 -4.2 0M540.19 126.60a2.1 2.1 0 1 0 4.2 0a2.1 2.1 0 1 0 -4.2 0M540.93 125.98a2.1 2.1 0 1 0 4.2 0a2.1 2.1 0 1 0 -4.2 0M541.19 125.77a2.1 2.1 0 1 0 4.2 0a2.1 2.1 0 1 0 -4.2 0M541.81 125.26a2.1 2.1 0 1 0 4.2 0a2.1 2.1 0 1 0 -4.2 0M542.01 125.10a2.1 2.1 0 1 0 4.2 0a2.1 2.1 0 1 0 -4.2 0M542.03 125.08a2.1 2.1 0 1 0 4.2 0a2.1 2.1 0 1 0 -4.2 0M542.16 124.97a2.1 2.1 0 1 0 4.2 0a2.1 2.1 0 1 0 -4.2 0M542.24 124.91a2.1 2.1 0 1 0 4.2 0a2.1 2.1 0 1 0 -4.2 0M543.08 124.25a2.1 2.1 0 1 0 4.2 0a2.1 2.1 0 1 0 -4.2 0M543.96 123.57a2.1 2.1 0 1 0 4.2 0a2.1 2.1 0 1 0 -4.2 0M544.19 123.40a2.1 2.1 0 1 0 4.2 0a2.1 2.1 0 1 0 -4.2 0M544.66 123.05a2.1 2.1 0 1 0 4.2 0a2.1 2.1 0 1 0 -4.2 0M544.77 122.97a2.1 2.1 0 1 0 4.2 0a2.1 2.1 0 1 0 -4.2 0M544.99 122.81a2.1 2.1 0 1 0 4.2 0a2.1 2.1 0 1 0 -4.2 0M545.42 122.50a2.1 2.1 0 1 0 4.2 0a2.1 2.1 0 1 0 -4.2 0M545.77 122.24a2.1 2.1 0 1 0 4.2 0a2.1 2.1 0 1 0 -4.2 0M545.84 122.20a2.1 2.1 0 1 0 4.2 0a2.1 2.1 0 1 0 -4.2 0M546.28 121.89a2.1 2.1 0 1 0 4.2 0a2.1 2.1 0 1 0 -4.2 0M546.38 121.82a2.1 2.1 0 1 0 4.2 0a2.1 2.1 0 1 0 -4.2 0M546.84 121.50a2.1 2.1 0 1 0 4.2 0a2.1 2.1 0 1 0 -4.2 0M547.40 121.12a2.1 2.1 0 1 0 4.2 0a2.1 2.1 0 1 0 -4.2 0M547.64 120.96a2.1 2.1 0 1 0 4.2 0a2.1 2.1 0 1 0 -4.2 0M547.78 120.87a2.1 2.1 0 1 0 4.2 0a2.1 2.1 0 1 0 -4.2 0M547.98 120.74a2.1 2.1 0 1 0 4.2 0a2.1 2.1 0 1 0 -4.2 0M548.13 120.64a2.1 2.1 0 1 0 4.2 0a2.1 2.1 0 1 0 -4.2 0M548.50 120.40a2.1 2.1 0 1 0 4.2 0a2.1 2.1 0 1 0 -4.2 0M549.26 119.92a2.1 2.1 0 1 0 4.2 0a2.1 2.1 0 1 0 -4.2 0M549.56 119.73a2.1 2.1 0 1 0 4.2 0a2.1 2.1 0 1 0 -4.2 0M549.69 119.65a2.1 2.1 0 1 0 4.2 0a2.1 2.1 0 1 0 -4.2 0M549.75 119.61a2.1 2.1 0 1 0 4.2 0a2.1 2.1 0 1 0 -4.2 0M549.86 119.55a2.1 2.1 0 1 0 4.2 0a2.1 2.1 0 1 0 -4.2 0M549.88 119.54a2.1 2.1 0 1 0 4.2 0a2.1 2.1 0 1 0 -4.2 0M550.70 119.04a2.1 2.1 0 1 0 4.2 0a2.1 2.1 0 1 0 -4.2 0M550.76 119.00a2.1 2.1 0 1 0 4.2 0a2.1 2.1 0 1 0 -4.2 0M550.99 118.87a2.1 2.1 0 1 0 4.2 0a2.1 2.1 0 1 0 -4.2 0M551.20 118.74a2.1 2.1 0 1 0 4.2 0a2.1 2.1 0 1 0 -4.2 0M551.21 118.74a2.1 2.1 0 1 0 4.2 0a2.1 2.1 0 1 0 -4.2 0M551.75 118.43a2.1 2.1 0 1 0 4.2 0a2.1 2.1 0 1 0 -4.2 0M552.52 118.00a2.1 2.1 0 1 0 4.2 0a2.1 2.1 0 1 0 -4.2 0M552.54 117.99a2.1 2.1 0 1 0 4.2 0a2.1 2.1 0 1 0 -4.2 0M553.15 117.65a2.1 2.1 0 1 0 4.2 0a2.1 2.1 0 1 0 -4.2 0M553.63 117.40a2.1 2.1 0 1 0 4.2 0a2.1 2.1 0 1 0 -4.2 0M553.65 117.39a2.1 2.1 0 1 0 4.2 0a2.1 2.1 0 1 0 -4.2 0M553.67 117.38a2.1 2.1 0 1 0 4.2 0a2.1 2.1 0 1 0 -4.2 0M553.83 117.29a2.1 2.1 0 1 0 4.2 0a2.1 2.1 0 1 0 -4.2 0M554.16 117.12a2.1 2.1 0 1 0 4.2 0a2.1 2.1 0 1 0 -4.2 0M554.33 117.03a2.1 2.1 0 1 0 4.2 0a2.1 2.1 0 1 0 -4.2 0M554.55 116.92a2.1 2.1 0 1 0 4.2 0a2.1 2.1 0 1 0 -4.2 0M554.67 116.86a2.1 2.1 0 1 0 4.2 0a2.1 2.1 0 1 0 -4.2 0M555.27 116.55a2.1 2.1 0 1 0 4.2 0a2.1 2.1 0 1 0 -4.2 0M556.21 116.10a2.1 2.1 0 1 0 4.2 0a2.1 2.1 0 1 0 -4.2 0M556.26 116.07a2.1 2.1 0 1 0 4.2 0a2.1 2.1 0 1 0 -4.2 0M556.28 116.06a2.1 2.1 0 1 0 4.2 0a2.1 2.1 0 1 0 -4.2 0M557.03 115.71a2.1 2.1 0 1 0 4.2 0a2.1 2.1 0 1 0 -4.2 0M557.78 115.37a2.1 2.1 0 1 0 4.2 0a2.1 2.1 0 1 0 -4.2 0M557.78 115.37a2.1 2.1 0 1 0 4.2 0a2.1 2.1 0 1 0 -4.2 0M558.26 115.16a2.1 2.1 0 1 0 4.2 0a2.1 2.1 0 1 0 -4.2 0M559.16 114.77a2.1 2.1 0 1 0 4.2 0a2.1 2.1 0 1 0 -4.2 0M559.30 114.71a2.1 2.1 0 1 0 4.2 0a2.1 2.1 0 1 0 -4.2 0M559.74 114.52a2.1 2.1 0 1 0 4.2 0a2.1 2.1 0 1 0 -4.2 0M559.85 114.48a2.1 2.1 0 1 0 4.2 0a2.1 2.1 0 1 0 -4.2 0M560.52 114.21a2.1 2.1 0 1 0 4.2 0a2.1 2.1 0 1 0 -4.2 0M560.59 114.18a2.1 2.1 0 1 0 4.2 0a2.1 2.1 0 1 0 -4.2 0M561.09 113.98a2.1 2.1 0 1 0 4.2 0a2.1 2.1 0 1 0 -4.2 0M561.33 113.89a2.1 2.1 0 1 0 4.2 0a2.1 2.1 0 1 0 -4.2 0M561.54 113.81a2.1 2.1 0 1 0 4.2 0a2.1 2.1 0 1 0 -4.2 0M561.64 113.77a2.1 2.1 0 1 0 4.2 0a2.1 2.1 0 1 0 -4.2 0M561.65 113.76a2.1 2.1 0 1 0 4.2 0a2.1 2.1 0 1 0 -4.2 0M561.84 113.69a2.1 2.1 0 1 0 4.2 0a2.1 2.1 0 1 0 -4.2 0M562.90 113.30a2.1 2.1 0 1 0 4.2 0a2.1 2.1 0 1 0 -4.2 0M562.92 113.29a2.1 2.1 0 1 0 4.2 0a2.1 2.1 0 1 0 -4.2 0M563.47 113.09a2.1 2.1 0 1 0 4.2 0a2.1 2.1 0 1 0 -4.2 0M564.53 112.72a2.1 2.1 0 1 0 4.2 0a2.1 2.1 0 1 0 -4.2 0M565.32 112.46a2.1 2.1 0 1 0 4.2 0a2.1 2.1 0 1 0 -4.2 0M565.75 112.32a2.1 2.1 0 1 0 4.2 0a2.1 2.1 0 1 0 -4.2 0M566.26 112.16a2.1 2.1 0 1 0 4.2 0a2.1 2.1 0 1 0 -4.2 0M568.47 111.49a2.1 2.1 0 1 0 4.2 0a2.1 2.1 0 1 0 -4.2 0M568.58 111.46a2.1 2.1 0 1 0 4.2 0a2.1 2.1 0 1 0 -4.2 0M569.37 111.24a2.1 2.1 0 1 0 4.2 0a2.1 2.1 0 1 0 -4.2 0M569.70 111.15a2.1 2.1 0 1 0 4.2 0a2.1 2.1 0 1 0 -4.2 0M570.05 111.06a2.1 2.1 0 1 0 4.2 0a2.1 2.1 0 1 0 -4.2 0M570.39 110.96a2.1 2.1 0 1 0 4.2 0a2.1 2.1 0 1 0 -4.2 0M570.71 110.88a2.1 2.1 0 1 0 4.2 0a2.1 2.1 0 1 0 -4.2 0M570.93 110.82a2.1 2.1 0 1 0 4.2 0a2.1 2.1 0 1 0 -4.2 0M571.11 110.77a2.1 2.1 0 1 0 4.2 0a2.1 2.1 0 1 0 -4.2 0M571.32 110.72a2.1 2.1 0 1 0 4.2 0a2.1 2.1 0 1 0 -4.2 0M571.41 110.70a2.1 2.1 0 1 0 4.2 0a2.1 2.1 0 1 0 -4.2 0M572.22 110.50a2.1 2.1 0 1 0 4.2 0a2.1 2.1 0 1 0 -4.2 0M572.98 110.31a2.1 2.1 0 1 0 4.2 0a2.1 2.1 0 1 0 -4.2 0M573.30 110.23a2.1 2.1 0 1 0 4.2 0a2.1 2.1 0 1 0 -4.2 0M573.74 110.13a2.1 2.1 0 1 0 4.2 0a2.1 2.1 0 1 0 -4.2 0M574.18 110.03a2.1 2.1 0 1 0 4.2 0a2.1 2.1 0 1 0 -4.2 0M574.39 109.98a2.1 2.1 0 1 0 4.2 0a2.1 2.1 0 1 0 -4.2 0M574.68 109.91a2.1 2.1 0 1 0 4.2 0a2.1 2.1 0 1 0 -4.2 0M574.71 109.91a2.1 2.1 0 1 0 4.2 0a2.1 2.1 0 1 0 -4.2 0M574.76 109.90a2.1 2.1 0 1 0 4.2 0a2.1 2.1 0 1 0 -4.2 0M575.82 109.66a2.1 2.1 0 1 0 4.2 0a2.1 2.1 0 1 0 -4.2 0M576.34 109.55a2.1 2.1 0 1 0 4.2 0a2.1 2.1 0 1 0 -4.2 0M576.41 109.54a2.1 2.1 0 1 0 4.2 0a2.1 2.1 0 1 0 -4.2 0M576.84 109.45a2.1 2.1 0 1 0 4.2 0a2.1 2.1 0 1 0 -4.2 0M576.89 109.44a2.1 2.1 0 1 0 4.2 0a2.1 2.1 0 1 0 -4.2 0M576.96 109.42a2.1 2.1 0 1 0 4.2 0a2.1 2.1 0 1 0 -4.2 0M577.25 109.36a2.1 2.1 0 1 0 4.2 0a2.1 2.1 0 1 0 -4.2 0M577.31 109.35a2.1 2.1 0 1 0 4.2 0a2.1 2.1 0 1 0 -4.2 0M577.68 109.27a2.1 2.1 0 1 0 4.2 0a2.1 2.1 0 1 0 -4.2 0M578.00 109.21a2.1 2.1 0 1 0 4.2 0a2.1 2.1 0 1 0 -4.2 0M578.97 109.02a2.1 2.1 0 1 0 4.2 0a2.1 2.1 0 1 0 -4.2 0M579.05 109.00a2.1 2.1 0 1 0 4.2 0a2.1 2.1 0 1 0 -4.2 0M579.36 108.94a2.1 2.1 0 1 0 4.2 0a2.1 2.1 0 1 0 -4.2 0M579.40 108.93a2.1 2.1 0 1 0 4.2 0a2.1 2.1 0 1 0 -4.2 0M580.91 108.65a2.1 2.1 0 1 0 4.2 0a2.1 2.1 0 1 0 -4.2 0M581.10 108.62a2.1 2.1 0 1 0 4.2 0a2.1 2.1 0 1 0 -4.2 0M581.23 108.59a2.1 2.1 0 1 0 4.2 0a2.1 2.1 0 1 0 -4.2 0M581.30 108.58a2.1 2.1 0 1 0 4.2 0a2.1 2.1 0 1 0 -4.2 0M581.31 108.58a2.1 2.1 0 1 0 4.2 0a2.1 2.1 0 1 0 -4.2 0M581.67 108.51a2.1 2.1 0 1 0 4.2 0a2.1 2.1 0 1 0 -4.2 0M583.11 108.25a2.1 2.1 0 1 0 4.2 0a2.1 2.1 0 1 0 -4.2 0M583.16 108.24a2.1 2.1 0 1 0 4.2 0a2.1 2.1 0 1 0 -4.2 0M583.80 108.13a2.1 2.1 0 1 0 4.2 0a2.1 2.1 0 1 0 -4.2 0M590.20 107.05a2.1 2.1 0 1 0 4.2 0a2.1 2.1 0 1 0 -4.2 0M590.90 106.93a2.1 2.1 0 1 0 4.2 0a2.1 2.1 0 1 0 -4.2 0M592.10 106.73a2.1 2.1 0 1 0 4.2 0a2.1 2.1 0 1 0 -4.2 0M593.40 106.50a2.1 2.1 0 1 0 4.2 0a2.1 2.1 0 1 0 -4.2 0M594.20 106.36a2.1 2.1 0 1 0 4.2 0a2.1 2.1 0 1 0 -4.2 0M595.50 106.13a2.1 2.1 0 1 0 4.2 0a2.1 2.1 0 1 0 -4.2 0M596.50 105.95a2.1 2.1 0 1 0 4.2 0a2.1 2.1 0 1 0 -4.2 0M597.70 105.72a2.1 2.1 0 1 0 4.2 0a2.1 2.1 0 1 0 -4.2 0M598.90 105.49a2.1 2.1 0 1 0 4.2 0a2.1 2.1 0 1 0 -4.2 0M602.00 104.84a2.1 2.1 0 1 0 4.2 0a2.1 2.1 0 1 0 -4.2 0M607.10 103.61a2.1 2.1 0 1 0 4.2 0a2.1 2.1 0 1 0 -4.2 0M608.40 103.26a2.1 2.1 0 1 0 4.2 0a2.1 2.1 0 1 0 -4.2 0M610.20 102.75a2.1 2.1 0 1 0 4.2 0a2.1 2.1 0 1 0 -4.2 0M611.30 102.43a2.1 2.1 0 1 0 4.2 0a2.1 2.1 0 1 0 -4.2 0M613.00 101.90a2.1 2.1 0 1 0 4.2 0a2.1 2.1 0 1 0 -4.2 0M614.20 101.52a2.1 2.1 0 1 0 4.2 0a2.1 2.1 0 1 0 -4.2 0M615.80 100.98a2.1 2.1 0 1 0 4.2 0a2.1 2.1 0 1 0 -4.2 0M617.10 100.52a2.1 2.1 0 1 0 4.2 0a2.1 2.1 0 1 0 -4.2 0M618.40 100.05a2.1 2.1 0 1 0 4.2 0a2.1 2.1 0 1 0 -4.2 0M625.20 97.27a2.1 2.1 0 1 0 4.2 0a2.1 2.1 0 1 0 -4.2 0M627.50 96.21a2.1 2.1 0 1 0 4.2 0a2.1 2.1 0 1 0 -4.2 0M632.60 93.64a2.1 2.1 0 1 0 4.2 0a2.1 2.1 0 1 0 -4.2 0M636.10 91.69a2.1 2.1 0 1 0 4.2 0a2.1 2.1 0 1 0 -4.2 0M642.00 88.04a2.1 2.1 0 1 0 4.2 0a2.1 2.1 0 1 0 -4.2 0M647.00 84.56a2.1 2.1 0 1 0 4.2 0a2.1 2.1 0 1 0 -4.2 0M669.50 64.10a2.1 2.1 0 1 0 4.2 0a2.1 2.1 0 1 0 -4.2 0M672.10 61.18a2.1 2.1 0 1 0 4.2 0a2.1 2.1 0 1 0 -4.2 0" fill="none" stroke="#00f" stroke-width="0.72"/>
<path d="M403.90 237.14a2.1 2.1 0 1 0 4.2 0a2.1 2.1 0 1 0 -4.2 0M404.30 236.91a2.1 2.1 0 1 0 4.2 0a2.1 2.1 0 1 0 -4.2 0M404.70 236.69a2.1 2.1 0 1 0 4.2 0a2.1 2.1 0 1 0 -4.2 0M405.10 236.48a2.1 2.1 0 1 0 4.2 0a2.1 2.1 0 1 0 -4.2 0M405.50 236.26a2.1 2.1 0 1 0 4.2 0a2.1 2.1 0 1 0 -4.2 0M405.90 236.06a2.1 2.1 0 1 0 4.2 0a2.1 2.1 0 1 0 -4.2 0M406.30 235.85a2.1 2.1 0 1 0 4.2 0a2.1 2.1 0 1 0 -4.2 0M406.70 235.66a2.1 2.1 0 1 0 4.2 0a2.1 2.1 0 1 0 -4.2 0M407.10 235.46a2.1 2.1 0 1 0 4.2 0a2.1 2.1 0 1 0 -4.2 0M407.50 235.27a2.1 2.1 0 1 0 4.2 0a2.1 2.1 0 1 0 -4.2 0M407.90 235.09a2.1 2.1 0 1 0 4.2 0a2.1 2.1 0 1 0 -4.2 0M408.30 234.91a2.1 2.1 0 1 0 4.2 0a2.1 2.1 0 1 0 -4.2 0M408.70 234.73a2.1 2.1 0 1 0 4.2 0a2.1 2.1 0 1 0 -4.2 0M409.10 234.56a2.1 2.1 0 1 0 4.2 0a2.1 2.1 0 1 0 -4.2 0M409.50 234.39a2.1 2.1 0 1 0 4.2 0a2.1 2.1 0 1 0 -4.2 0M409.90 234.22a2.1 2.1 0 1 0 4.2 0a2.1 2.1 0 1 0 -4.2 0M410.30 234.06a2.1 2.1 0 1 0 4.2 0a2.1 2.1 0 1 0 -4.2 0M410.70 233.91a2.1 2.1 0 1 0 4.2 0a2.1 2.1 0 1 0 -4.2 0M411.10 233.75a2.1 2.1 0 1 0 4.2 0a2.1 2.1 0 1 0 -4.2 0M411.50 233.61a2.1 2.1 0 1 0 4.2 0a2.1 2.1 0 1 0 -4.2 0M411.90 233.46a2.1 2.1 0 1 0 4.2 0a2.1 2.1 0 1 0 -4.2 0M412.30 233.32a2.1 2.1 0 1 0 4.2 0a2.1 2.1 0 1 0 -4.2 0M412.70 233.18a2.1 2.1 0 1 0 4.2 0a2.1 2.1 0 1 0 -4.2 0M413.10 233.05a2.1 2.1 0 1 0 4.2 0a2.1 2.1 0 1 0 -4.2 0M413.50 232.92a2.1 2.1 0 1 0 4.2 0a2.1 2.1 0 1 0 -4.2 0M413.90 232.79a2.1 2.1 0 1 0 4.2 0a2.1 2.1 0 1 0 -4.2 0M414.30 232.66a2.1 2.1 0 1 0 4.2 0a2.1 2.1 0 1 0 -4.2 0M414.70 232.54a2.1 2.1 0 1 0 4.2 0a2.1 2.1 0 1 0 -4.2 0M415.10 232.43a2.1 2.1 0 1 0 4.2 0a2.1 2.1 0 1 0 -4.2 0M415.50 232.31a2.1 2.1 0 1 0 4.2 0a2.1 2.1 0 1 0 -4.2 0M415.90 232.20a2.1 2.1 0 1 0 4.2 0a2.1 2.1 0 1 0 -4.2 0M416.30 232.09a2.1 2.1 0 1 0 4.2 0a2.1 2.1 0 1 0 -4.2 0M416.70 231.99a2.1 2.1 0 1 0 4.2 0a2.1 2.1 0 1 0 -4.2 0M417.10 231.89a2.1 2.1 0 1 0 4.2 0a2.1 2.1 0 1 0 -4.2 0M417.50 231.79a2.1 2.1 0 1 0 4.2 0a2.1 2.1 0 1 0 -4.2 0M417.90 231.69a2.1 2.1 0 1 0 4.2 0a2.1 2.1 0 1 0 -4.2 0M418.30 231.60a2.1 2.1 0 1 0 4.2 0a2.1 2.1 0 1 0 -4.2 0M418.70 231.51a2.1 2.1 0 1 0 4.2 0a2.1 2.1 0 1 0 -4.2 0M419.10 231.42a2.1 2.1 0 1 0 4.2 0a2.1 2.1 0 1 0 -4.2 0M419.50 231.34a2.1 2.1 0 1 0 4.2 0a2.1 2.1 0 1 0 -4.2 0M419.90 231.26a2.1 2.1 0 1 0 4.2 0a2.1 2.1 0 1 0 -4.2 0M420.30 231.18a2.1 2.1 0 1 0 4.2 0a2.1 2.1 0 1 0 -4.2 0M420.70 231.10a2.1 2.1 0 1 0 4.2 0a2.1 2.1 0 1 0 -4.2 0M421.10 231.02a2.1 2.1 0 1 0 4.2 0a2.1 2.1 0 1 0 -4.2 0M421.50 230.95a2.1 2.1 0 1 0 4.2 0a2.1 2.1 0 1 0 -4.2 0M421.90 230.88a2.1 2.1 0 1 0 4.2 0a2.1 2.1 0 1 0 -4.2 0M422.30 230.82a2.1 2.1 0 1 0 4.2 0a2.1 2.1 0 1 0 -4.2 0M422.70 230.75a2.1 2.1 0 1 0 4.2 0a2.1 2.1 0 1 0 -4.2 0M423.10 230.69a2.1 2.1 0 1 0 4.2 0a2.1 2.1 0 1 0 -4.2 0M423.50 230.63a2.1 2.1 0 1 0 4.2 0a2.1 2.1 0 1 0 -4.2 0M423.90 230.57a2.1 2.1 0 1 0 4.2 0a2.1 2.1 0 1 0 -4.2 0M424.30 230.51a2.1 2.1 0 1 0 4.2 0a2.1 2.1 0 1 0 -4.2 0M424.70 230.46a2.1 2.1 0 1 0 4.2 0a2.1 2.1 0 1 0 -4.2 0M425.10 230.40a2.1 2.1 0 1 0 4.2 0a2.1 2.1 0 1 0 -4.2 0M425.50 230.35a2.1 2.1 0 1 0 4.2 0a2.1 2.1 0 1 0 -4.2 0M425.90 230.30a2.1 2.1 0 1 0 4.2 0a2.1 2.1 0 1 0 -4.2 0M426.30 230.26a2.1 2.1 0 1 0 4.2 0a2.1 2.1 0 1 0 -4.2 0M426.70 230.21a2.1 2.1 0 1 0 4.2 0a2.1 2.1 0 1 0 -4.2 0M427.10 230.17a2.1 2.1 0 1 0 4.2 0a2.1 2.1 0 1 0 -4.2 0M427.50 230.12a2.1 2.1 0 1 0 4.2 0a2.1 2.1 0 1 0 -4.2 0M427.90 230.08a2.1 2.1 0 1 0 4.2 0a2.1 2.1 0 1 0 -4.2 0M428.30 230.04a2.1 2.1 0 1 0 4.2 0a2.1 2.1 0 1 0 -4.2 0M428.70 230.01a2.1 2.1 0 1 0 4.2 0a2.1 2.1 0 1 0 -4.2 0M429.10 229.97a2.1 2.1 0 1 0 4.2 0a2.1 2.1 0 1 0 -4.2 0M429.50 229.93a2.1 2.1 0 1 0 4.2 0a2.1 2.1 0 1 0 -4.2 0M429.90 229.90a2.1 2.1 0 1 0 4.2 0a2.1 2.1 0 1 0 -4.2 0M430.30 229.87a2.1 2.1 0 1 0 4.2 0a2.1 2.1 0 1 0 -4.2 0M430.70 229.84a2.1 2.1 0 1 0 4.2 0a2.1 2.1 0 1 0 -4.2 0M431.10 229.81a2.1 2.1 0 1 0 4.2 0a2.1 2.1 0 1 0 -4.2 0M431.50 229.78a2.1 2.1 0 1 0 4.2 0a2.1 2.1 0 1 0 -4.2 0M431.90 229.75a2.1 2.1 0 1 0 4.2 0a2.1 2.1 0 1 0 -4.2 0M432.30 229.72a2.1 2.1 0 1 0 4.2 0a2.1 2.1 0 1 0 -4.2 0M432.70 229.69a2.1 2.1 0 1 0 4.2 0a2.1 2.1 0 1 0 -4.2 0M433.10 229.67a2.1 2.1 0 1 0 4.2 0a2.1 2.1 0 1 0 -4.2 0M433.50 229.64a2.1 2.1 0 1 0 4.2 0a2.1 2.1 0 1 0 -4.2 0M433.90 229.62a2.1 2.1 0 1 0 4.2 0a2.1 2.1 0 1 0 -4.2 0M434.30 229.59a2.1 2.1 0 1 0 4.2 0a2.1 2.1 0 1 0 -4.2 0M434.70 229.57a2.1 2.1 0 1 0 4.2 0a2.1 2.1 0 1 0 -4.2 0M435.10 229.55a2.1 2.1 0 1 0 4.2 0a2.1 2.1 0 1 0 -4.2 0M435.50 229.53a2.1 2.1 0 1 0 4.2 0a2.1 2.1 0 1 0 -4.2 0M435.90 229.50a2.1 2.1 0 1 0 4.2 0a2.1 2.1 0 1 0 -4.2 0M436.30 229.48a2.1 2.1 0 1 0 4.2 0a2.1 2.1 0 1 0 -4.2 0M436.70 229.46a2.1 2.1 0 1 0 4.2 0a2.1 2.1 0 1 0 -4.2 0M437.10 229.44a2.1 2.1 0 1 0 4.2 0a2.1 2.1 0 1 0 -4.2 0M437.50 229.42a2.1 2.1 0 1 0 4.2 0a2.1 2.1 0 1 0 -4.2 0M437.90 229.40a2.1 2.1 0 1 0 4.2 0a2.1 2.1 0 1 0 -4.2 0M438.30 229.38a2.1 2.1 0 1 0 4.2 0a2.1 2.1 0 1 0 -4.2 0M438.70 229.36a2.1 2.1 0 1 0 4.2 0a2.1 2.1 0 1 0 -4.2 0M439.10 229.34a2.1 2.1 0 1 0 4.2 0a2.1 2.1 0 1 0 -4.2 0M439.50 229.32a2.1 2.1 0 1 0 4.2 0a2.1 2.1 0 1 0 -4.2 0M439.90 229.30a2.1 2.1 0 1 0 4.2 0a2.1 2.1 0 1 0 -4.2 0M440.30 229.28a2.1 2.1 0 1 0 4.2 0a2.1 2.1 0 1 0 -4.2 0M440.70 229.26a2.1 2.1 0 1 0 4.2 0a2.1 2.1 0 1 0 -4.2 0M441.10 229.24a2.1 2.1 0 1 0 4.2 0a2.1 2.1 0 1 0 -4.2 0M441.50 229.22a2.1 2.1 0 1 0 4.2 0a2.1 2.1 0 1 0 -4.2 0M441.90 229.20a2.1 2.1 0 1 0 4.2 0a2.1 2.1 0 1 0 -4.2 0M442.30 229.17a2.1 2.1 0 1 0 4.2 0a2.1 2.1 0 1 0 -4.2 0M442.70 229.15a2.1 2.1 0 1 0 4.2 0a2.1 2.1 0 1 0 -4.2 0M443.10 229.13a2.1 2.1 0 1 0 4.2 0a2.1 2.1 0 1 0 -4.2 0M443.50 229.10a2.1 2.1 0 1 0 4.2 0a2.1 2.1 0 1 0 -4.2 0M443.90 229.08a2.1 2.1 0 1 0 4.2 0a2.1 2.1 0 1 0 -4.2 0M444.30 229.05a2.1 2.1 0 1 0 4.2 0a2.1 2.1 0 1 0 -4.2 0M444.70 229.03a2.1 2.1 0 1 0 4.2 0a2.1 2.1 0 1 0 -4.2 0M445.10 229.00a2.1 2.1 0 1 0 4.2 0a2.1 2.1 0 1 0 -4.2 0M445.50 228.97a2.1 2.1 0 1 0 4.2 0a2.1 2.1 0 1 0 -4.2 0M445.90 228.94a2.1 2.1 0 1 0 4.2 0a2.1 2.1 0 1 0 -4.2 0M446.30 228.91a2.1 2.1 0 1 0 4.2 0a2.1 2.1 0 1 0 -4.2 0M446.70 228.88a2.1 2.1 0 1 0 4.2 0a2.1 2.1 0 1 0 -4.2 0M447.10 228.85a2.1 2.1 0 1 0 4.2 0a2.1 2.1 0 1 0 -4.2 0M447.50 228.82a2.1 2.1 0 1 0 4.2 0a2.1 2.1 0 1 0 -4.2 0M447.90 228.78a2.1 2.1 0 1 0 4.2 0a2.1 2.1 0 1 0 -4.2 0M448.30 228.75a2.1 2.1 0 1 0 4.2 0a2.1 2.1 0 1 0 -4.2 0M448.70 228.71a2.1 2.1 0 1 0 4.2 0a2.1 2.1 0 1 0 -4.2 0M449.10 228.67a2.1 2.1 0 1 0 4.2 0a2.1 2.1 0 1 0 -4.2 0M449.50 228.63a2.1 2.1 0 1 0 4.2 0a2.1 2.1 0 1 0 -4.2 0M449.90 228.59a2.1 2.1 0 1 0 4.2 0a2.1 2.1 0 1 0 -4.2 0M450.30 228.55a2.1 2.1 0 1 0 4.2 0a2.1 2.1 0 1 0 -4.2 0M450.70 228.51a2.1 2.1 0 1 0 4.2 0a2.1 2.1 0 1 0 -4.2 0M451.10 228.46a2.1 2.1 0 1 0 4.2 0a2.1 2.1 0 1 0 -4.2 0M451.50 228.41a2.1 2.1 0 1 0 4.2 0a2.1 2.1 0 1 0 -4.2 0M451.90 228.36a2.1 2.1 0 1 0 4.2 0a2.1 2.1 0 1 0 -4.2 0M452.30 228.31a2.1 2.1 0 1 0 4.2 0a2.1 2.1 0 1 0 -4.2 0M452.70 228.26a2.1 2.1 0 1 0 4.2 0a2.1 2.1 0 1 0 -4.2 0M453.10 228.20a2.1 2.1 0 1 0 4.2 0a2.1 2.1 0 1 0 -4.2 0M453.50 228.15a2.1 2.1 0 1 0 4.2 0a2.1 2.1 0 1 0 -4.2 0M453.90 228.09a2.1 2.1 0 1 0 4.2 0a2.1 2.1 0 1 0 -4.2 0M454.30 228.03a2.1 2.1 0 1 0 4.2 0a2.1 2.1 0 1 0 -4.2 0M454.70 227.96a2.1 2.1 0 1 0 4.2 0a2.1 2.1 0 1 0 -4.2 0M455.10 227.90a2.1 2.1 0 1 0 4.2 0a2.1 2.1 0 1 0 -4.2 0M455.50 227.83a2.1 2.1 0 1 0 4.2 0a2.1 2.1 0 1 0 -4.2 0M455.90 227.76a2.1 2.1 0 1 0 4.2 0a2.1 2.1 0 1 0 -4.2 0M456.30 227.69a2.1 2.1 0 1 0 4.2 0a2.1 2.1 0 1 0 -4.2 0M456.70 227.61a2.1 2.1 0 1 0 4.2 0a2.1 2.1 0 1 0 -4.2 0M457.10 227.54a2.1 2.1 0 1 0 4.2 0a2.1 2.1 0 1 0 -4.2 0M457.50 227.46a2.1 2.1 0 1 0 4.2 0a2.1 2.1 0 1 0 -4.2 0M457.90 227.37a2.1 2.1 0 1 0 4.2 0a2.1 2.1 0 1 0 -4.2 0M458.30 227.29a2.1 2.1 0 1 0 4.2 0a2.1 2.1 0 1 0 -4.2 0M458.70 227.20a2.1 2.1 0 1 0 4.2 0a2.1 2.1 0 1 0 -4.2 0M459.10 227.11a2.1 2.1 0 1 0 4.2 0a2.1 2.1 0 1 0 -4.2 0M459.50 227.02a2.1 2.1 0 1 0 4.2 0a2.1 2.1 0 1 0 -4.2 0M459.90 226.92a2.1 2.1 0 1 0 4.2 0a2.1 2.1 0 1 0 -4.2 0M460.30 226.82a2.1 2.1 0 1 0 4.2 0a2.1 2.1 0 1 0 -4.2 0M460.70 226.72a2.1 2.1 0 1 0 4.2 0a2.1 2.1 0 1 0 -4.2 0M461.10 226.61a2.1 2.1 0 1 0 4.2 0a2.1 2.1 0 1 0 -4.2 0M461.50 226.51a2.1 2.1 0 1 0 4.2 0a2.1 2.1 0 1 0 -4.2 0M461.90 226.39a2.1 2.1 0 1 0 4.2 0a2.1 2.1 0 1 0 -4.2 0M462.30 226.28a2.1 2.1 0 1 0 4.2 0a2.1 2.1 0 1 0 -4.2 0M462.70 226.16a2.1 2.1 0 1 0 4.2 0a2.1 2.1 0 1 0 -4.2 0M463.10 226.04a2.1 2.1 0 1 0 4.2 0a2.1 2.1 0 1 0 -4.2 0M463.50 225.92a2.1 2.1 0 1 0 4.2 0a2.1 2.1 0 1 0 -4.2 0M463.90 225.79a2.1 2.1 0 1 0 4.2 0a2.1 2.1 0 1 0 -4.2 0M464.30 225.66a2.1 2.1 0 1 0 4.2 0a2.1 2.1 0 1 0 -4.2 0M464.70 225.52a2.1 2.1 0 1 0 4.2 0a2.1 2.1 0 1 0 -4.2 0M465.10 225.38a2.1 2.1 0 1 0 4.2 0a2.1 2.1 0 1 0 -4.2 0M465.50 225.24a2.1 2.1 0 1 0 4.2 0a2.1 2.1 0 1 0 -4.2 0M465.90 225.10a2.1 2.1 0 1 0 4.2 0a2.1 2.1 0 1 0 -4.2 0M466.30 224.95a2.1 2.1 0 1 0 4.2 0a2.1 2.1 0 1 0 -4.2 0M466.70 224.79a2.1 2.1 0 1 0 4.2 0a2.1 2.1 0 1 0 -4.2 0M467.10 224.64a2.1 2.1 0 1 0 4.2 0a2.1 2.1 0 1 0 -4.2 0M467.50 224.48a2.1 2.1 0 1 0 4.2 0a2.1 2.1 0 1 0 -4.2 0M467.90 224.32a2.1 2.1 0 1 0 4.2 0a2.1 2.1 0 1 0 -4.2 0M468.30 224.15a2.1 2.1 0 1 0 4.2 0a2.1 2.1 0 1 0 -4.2 0M468.70 223.99a2.1 2.1 0 1 0 4.2 0a2.1 2.1 0 1 0 -4.2 0M469.10 223.82a2.1 2.1 0 1 0 4.2 0a2.1 2.1 0 1 0 -4.2 0M469.50 223.64a2.1 2.1 0 1 0 4.2 0a2.1 2.1 0 1 0 -4.2 0M469.90 223.46a2.1 2.1 0 1 0 4.2 0a2.1 2.1 0 1 0 -4.2 0M470.30 223.28a2.1 2.1 0 1 0 4.2 0a2.1 2.1 0 1 0 -4.2 0M470.70 223.10a2.1 2.1 0 1 0 4.2 0a2.1 2.1 0 1 0 -4.2 0M471.10 222.91a2.1 2.1 0 1 0 4.2 0a2.1 2.1 0 1 0 -4.2 0M471.50 222.72a2.1 2.1 0 1 0 4.2 0a2.1 2.1 0 1 0 -4.2 0M471.90 222.53a2.1 2.1 0 1 0 4.2 0a2.1 2.1 0 1 0 -4.2 0M472.30 222.34a2.1 2.1 0 1 0 4.2 0a2.1 2.1 0 1 0 -4.2 0M472.70 222.14a2.1 2.1 0 1 0 4.2 0a2.1 2.1 0 1 0 -4.2 0M473.10 221.94a2.1 2.1 0 1 0 4.2 0a2.1 2.1 0 1 0 -4.2 0M473.50 221.73a2.1 2.1 0 1 0 4.2 0a2.1 2.1 0 1 0 -4.2 0M473.90 221.53a2.1 2.1 0 1 0 4.2 0a2.1 2.1 0 1 0 -4.2 0M474.30 221.32a2.1 2.1 0 1 0 4.2 0a2.1 2.1 0 1 0 -4.2 0M474.70 221.10a2.1 2.1 0 1 0 4.2 0a2.1 2.1 0 1 0 -4.2 0M475.10 220.89a2.1 2.1 0 1 0 4.2 0a2.1 2.1 0 1 0 -4.2 0M475.50 220.67a2.1 2.1 0 1 0 4.2 0a2.1 2.1 0 1 0 -4.2 0M475.90 220.45a2.1 2.1 0 1 0 4.2 0a2.1 2.1 0 1 0 -4.2 0M476.30 220.23a2.1 2.1 0 1 0 4.2 0a2.1 2.1 0 1 0 -4.2 0M476.70 220.00a2.1 2.1 0 1 0 4.2 0a2.1 2.1 0 1 0 -4.2 0M477.10 219.77a2.1 2.1 0 1 0 4.2 0a2.1 2.1 0 1 0 -4.2 0M477.50 219.54a2.1 2.1 0 1 0 4.2 0a2.1 2.1 0 1 0 -4.2 0M477.90 219.31a2.1 2.1 0 1 0 4.2 0a2.1 2.1 0 1 0 -4.2 0M478.30 219.07a2.1 2.1 0 1 0 4.2 0a2.1 2.1 0 1 0 -4.2 0M478.70 218.84a2.1 2.1 0 1 0 4.2 0a2.1 2.1 0 1 0 -4.2 0M479.10 218.59a2.1 2.1 0 1 0 4.2 0a2.1 2.1 0 1 0 -4.2 0M479.50 218.35a2.1 2.1 0 1 0 4.2 0a2.1 2.1 0 1 0 -4.2 0M479.90 218.11a2.1 2.1 0 1 0 4.2 0a2.1 2.1 0 1 0 -4.2 0M480.30 217.86a2.1 2.1 0 1 0 4.2 0a2.1 2.1 0 1 0 -4.2 0M480.70 217.61a2.1 2.1 0 1 0 4.2 0a2.1 2.1 0 1 0 -4.2 0M481.10 217.36a2.1 2.1 0 1 0 4.2 0a2.1 2.1 0 1 0 -4.2 0M481.50 217.10a2.1 2.1 0 1 0 4.2 0a2.1 2.1 0 1 0 -4.2 0M481.90 216.84a2.1 2.1 0 1 0 4.2 0a2.1 2.1 0 1 0 -4.2 0M482.30 216.59a2.1 2.1 0 1 0 4.2 0a2.1 2.1 0 1 0 -4.2 0M482.70 216.32a2.1 2.1 0 1 0 4.2 0a2.1 2.1 0 1 0 -4.2 0M483.10 216.06a2.1 2.1 0 1 0 4.2 0a2.1 2.1 0 1 0 -4.2 0M483.50 215.80a2.1 2.1 0 1 0 4.2 0a2.1 2.1 0 1 0 -4.2 0M483.90 215.53a2.1 2.1 0 1 0 4.2 0a2.1 2.1 0 1 0 -4.2 0M484.30 215.26a2.1 2.1 0 1 0 4.2 0a2.1 2.1 0 1 0 -4.2 0M484.70 214.99a2.1 2.1 0 1 0 4.2 0a2.1 2.1 0 1 0 -4.2 0M485.10 214.71a2.1 2.1 0 1 0 4.2 0a2.1 2.1 0 1 0 -4.2 0M485.50 214.44a2.1 2.1 0 1 0 4.2 0a2.1 2.1 0 1 0 -4.2 0M485.90 214.16a2.1 2.1 0 1 0 4.2 0a2.1 2.1 0 1 0 -4.2 0M486.30 213.88a2.1 2.1 0 1 0 4.2 0a2.1 2.1 0 1 0 -4.2 0M486.70 213.60a2.1 2.1 0 1 0 4.2 0a2.1 2.1 0 1 0 -4.2 0M487.10 213.31a2.1 2.1 0 1 0 4.2 0a2.1 2.1 0 1 0 -4.2 0M487.50 213.03a2.1 2.1 0 1 0 4.2 0a2.1 2.1 0 1 0 -4.2 0M487.90 212.74a2.1 2.1 0 1 0 4.2 0a2.1 2.1 0 1 0 -4.2 0M488.30 212.45a2.1 2.1 0 1 0 4.2 0a2.1 2.1 0 1 0 -4.2 0M488.70 212.16a2.1 2.1 0 1 0 4.2 0a2.1 2.1 0 1 0 -4.2 0M489.10 211.87a2.1 2.1 0 1 0 4.2 0a2.1 2.1 0 1 0 -4.2 0M489.50 211.58a2.1 2.1 0 1 0 4.2 0a2.1 2.1 0 1 0 -4.2 0M489.90 211.28a2.1 2.1 0 1 0 4.2 0a2.1 2.1 0 1 0 -4.2 0M490.30 210.98a2.1 2.1 0 1 0 4.2 0a2.1 2.1 0 1 0 -4.2 0M490.70 210.68a2.1 2.1 0 1 0 4.2 0a2.1 2.1 0 1 0 -4.2 0M491.10 210.38a2.1 2.1 0 1 0 4.2 0a2.1 2.1 0 1 0 -4.2 0M491.50 210.08a2.1 2.1 0 1 0 4.2 0a2.1 2.1 0 1 0 -4.2 0M491.90 209.77a2.1 2.1 0 1 0 4.2 0a2.1 2.1 0 1 0 -4.2 0M492.30 209.46a2.1 2.1 0 1 0 4.2 0a2.1 2.1 0 1 0 -4.2 0M492.70 209.16a2.1 2.1 0 1 0 4.2 0a2.1 2.1 0 1 0 -4.2 0M493.10 208.85a2.1 2.1 0 1 0 4.2 0a2.1 2.1 0 1 0 -4.2 0M493.50 208.53a2.1 2.1 0 1 0 4.2 0a2.1 2.1 0 1 0 -4.2 0M493.90 208.22a2.1 2.1 0 1 0 4.2 0a2.1 2.1 0 1 0 -4.2 0M494.30 207.90a2.1 2.1 0 1 0 4.2 0a2.1 2.1 0 1 0 -4.2 0M494.70 207.59a2.1 2.1 0 1 0 4.2 0a2.1 2.1 0 1 0 -4.2 0M495.10 207.27a2.1 2.1 0 1 0 4.2 0a2.1 2.1 0 1 0 -4.2 0M495.50 206.95a2.1 2.1 0 1 0 4.2 0a2.1 2.1 0 1 0 -4.2 0M495.90 206.62a2.1 2.1 0 1 0 4.2 0a2.1 2.1 0 1 0 -4.2 0M496.30 206.30a2.1 2.1 0 1 0 4.2 0a2.1 2.1 0 1 0 -4.2 0M496.70 205.97a2.1 2.1 0 1 0 4.2 0a2.1 2.1 0 1 0 -4.2 0M497.10 205.65a2.1 2.1 0 1 0 4.2 0a2.1 2.1 0 1 0 -4.2 0M497.50 205.32a2.1 2.1 0 1 0 4.2 0a2.1 2.1 0 1 0 -4.2 0M497.90 204.99a2.1 2.1 0 1 0 4.2 0a2.1 2.1 0 1 0 -4.2 0M498.30 204.66a2.1 2.1 0 1 0 4.2 0a2.1 2.1 0 1 0 -4.2 0M498.70 204.32a2.1 2.1 0 1 0 4.2 0a2.1 2.1 0 1 0 -4.2 0M499.10 203.99a2.1 2.1 0 1 0 4.2 0a2.1 2.1 0 1 0 -4.2 0M499.50 203.65a2.1 2.1 0 1 0 4.2 0a2.1 2.1 0 1 0 -4.2 0M499.90 203.31a2.1 2.1 0 1 0 4.2 0a2.1 2.1 0 1 0 -4.2 0M500.30 202.97a2.1 2.1 0 1 0 4.2 0a2.1 2.1 0 1 0 -4.2 0M500.70 202.63a2.1 2.1 0 1 0 4.2 0a2.1 2.1 0 1 0 -4.2 0M501.10 202.29a2.1 2.1 0 1 0 4.2 0a2.1 2.1 0 1 0 -4.2 0M501.50 201.94a2.1 2.1 0 1 0 4.2 0a2.1 2.1 0 1 0 -4.2 0M501.90 201.60a2.1 2.1 0 1 0 4.2 0a2.1 2.1 0 1 0 -4.2 0M502.30 201.25a2.1 2.1 0 1 0 4.2 0a2.1 2.1 0 1 0 -4.2 0M502.70 200.90a2.1 2.1 0 1 0 4.2 0a2.1 2.1 0 1 0 -4.2 0M503.10 200.55a2.1 2.1 0 1 0 4.2 0a2.1 2.1 0 1 0 -4.2 0M503.50 200.20a2.1 2.1 0 1 0 4.2 0a2.1 2.1 0 1 0 -4.2 0M503.90 199.85a2.1 2.1 0 1 0 4.2 0a2.1 2.1 0 1 0 -4.2 0M504.30 199.50a2.1 2.1 0 1 0 4.2 0a2.1 2.1 0 1 0 -4.2 0M504.70 199.15a2.1 2.1 0 1 0 4.2 0a2.1 2.1 0 1 0 -4.2 0M505.10 198.79a2.1 2.1 0 1 0 4.2 0a2.1 2.1 0 1 0 -4.2 0M505.50 198.44a2.1 2.1 0 1 0 4.2 0a2.1 2.1 0 1 0 -4.2 0M505.90 198.08a2.1 2.1 0 1 0 4.2 0a2.1 2.1 0 1 0 -4.2 0M506.30 197.73a2.1 2.1 0 1 0 4.2 0a2.1 2.1 0 1 0 -4.2 0M506.70 197.37a2.1 2.1 0 1 0 4.2 0a2.1 2.1 0 1 0 -4.2 0M507.10 197.01a2.1 2.1 0 1 0 4.2 0a2.1 2.1 0 1 0 -4.2 0M507.50 196.66a2.1 2.1 0 1 0 4.2 0a2.1 2.1 0 1 0 -4.2 0M507.90 196.30a2.1 2.1 0 1 0 4.2 0a2.1 2.1 0 1 0 -4.2 0M508.30 195.94a2.1 2.1 0 1 0 4.2 0a2.1 2.1 0 1 0 -4.2 0M508.70 195.58a2.1 2.1 0 1 0 4.2 0a2.1 2.1 0 1 0 -4.2 0M509.10 195.23a2.1 2.1 0 1 0 4.2 0a2.1 2.1 0 1 0 -4.2 0M509.50 194.87a2.1 2.1 0 1 0 4.2 0a2.1 2.1 0 1 0 -4.2 0M509.90 194.51a2.1 2.1 0 1 0 4.2 0a2.1 2.1 0 1 0 -4.2 0M510.30 194.15a2.1 2.1 0 1 0 4.2 0a2.1 2.1 0 1 0 -4.2 0M510.70 193.79a2.1 2.1 0 1 0 4.2 0a2.1 2.1 0 1 0 -4.2 0M511.10 193.44a2.1 2.1 0 1 0 4.2 0a2.1 2.1 0 1 0 -4.2 0M511.50 193.08a2.1 2.1 0 1 0 4.2 0a2.1 2.1 0 1 0 -4.2 0M511.90 192.72a2.1 2.1 0 1 0 4.2 0a2.1 2.1 0 1 0 -4.2 0M512.30 192.37a2.1 2.1 0 1 0 4.2 0a2.1 2.1 0 1 0 -4.2 0M512.70 192.01a2.1 2.1 0 1 0 4.2 0a2.1 2.1 0 1 0 -4.2 0M513.10 191.66a2.1 2.1 0 1 0 4.2 0a2.1 2.1 0 1 0 -4.2 0M513.50 191.30a2.1 2.1 0 1 0 4.2 0a2.1 2.1 0 1 0 -4.2 0M513.90 190.95a2.1 2.1 0 1 0 4.2 0a2.1 2.1 0 1 0 -4.2 0M514.30 190.60a2.1 2.1 0 1 0 4.2 0a2.1 2.1 0 1 0 -4.2 0M514.70 190.25a2.1 2.1 0 1 0 4.2 0a2.1 2.1 0 1 0 -4.2 0M515.10 189.90a2.1 2.1 0 1 0 4.2 0a2.1 2.1 0 1 0 -4.2 0M515.50 189.55a2.1 2.1 0 1 0 4.2 0a2.1 2.1 0 1 0 -4.2 0M515.90 189.20a2.1 2.1 0 1 0 4.2 0a2.1 2.1 0 1 0 -4.2 0M516.30 188.85a2.1 2.1 0 1 0 4.2 0a2.1 2.1 0 1 0 -4.2 0M516.70 188.50a2.1 2.1 0 1 0 4.2 0a2.1 2.1 0 1 0 -4.2 0M517.10 188.16a2.1 2.1 0 1 0 4.2 0a2.1 2.1 0 1 0 -4.2 0M517.50 187.82a2.1 2.1 0 1 0 4.2 0a2.1 2.1 0 1 0 -4.2 0M517.94 187.44a2.1 2.1 0 1 0 4.2 0a2.1 2.1 0 1 0 -4.2 0M518.39 187.06a2.1 2.1 0 1 0 4.2 0a2.1 2.1 0 1 0 -4.2 0M518.66 186.83a2.1 2.1 0 1 0 4.2 0a2.1 2.1 0 1 0 -4.2 0M519.20 186.38a2.1 2.1 0 1 0 4.2 0a2.1 2.1 0 1 0 -4.2 0M519.25 186.33a2.1 2.1 0 1 0 4.2 0a2.1 2.1 0 1 0 -4.2 0M520.02 185.69a2.1 2.1 0 1 0 4.2 0a2.1 2.1 0 1 0 -4.2 0M520.04 185.67a2.1 2.1 0 1 0 4.2 0a2.1 2.1 0 1 0 -4.2 0M520.17 185.57a2.1 2.1 0 1 0 4.2 0a2.1 2.1 0 1 0 -4.2 0M520.25 185.50a2.1 2.1 0 1 0 4.2 0a2.1 2.1 0 1 0 -4.2 0M520.46 185.33a2.1 2.1 0 1 0 4.2 0a2.1 2.1 0 1 0 -4.2 0M520.74 185.10a2.1 2.1 0 1 0 4.2 0a2.1 2.1 0 1 0 -4.2 0M521.04 184.85a2.1 2.1 0 1 0 4.2 0a2.1 2.1 0 1 0 -4.2 0M521.07 184.83a2.1 2.1 0 1 0 4.2 0a2.1 2.1 0 1 0 -4.2 0M521.56 184.43a2.1 2.1 0 1 0 4.2 0a2.1 2.1 0 1 0 -4.2 0M521.89 184.16a2.1 2.1 0 1 0 4.2 0a2.1 2.1 0 1 0 -4.2 0M522.12 183.97a2.1 2.1 0 1 0 4.2 0a2.1 2.1 0 1 0 -4.2 0M522.41 183.75a2.1 2.1 0 1 0 4.2 0a2.1 2.1 0 1 0 -4.2 0M522.74 183.48a2.1 2.1 0 1 0 4.2 0a2.1 2.1 0 1 0 -4.2 0M522.82 183.42a2.1 2.1 0 1 0 4.2 0a2.1 2.1 0 1 0 -4.2 0M522.85 183.39a2.1 2.1 0 1 0 4.2 0a2.1 2.1 0 1 0 -4.2 0M523.03 183.25a2.1 2.1 0 1 0 4.2 0a2.1 2.1 0 1 0 -4.2 0M523.04 183.24a2.1 2.1 0 1 0 4.2 0a2.1 2.1 0 1 0 -4.2 0M523.08 183.21a2.1 2.1 0 1 0 4.2 0a2.1 2.1 0 1 0 -4.2 0M523.24 183.09a2.1 2.1 0 1 0 4.2 0a2.1 2.1 0 1 0 -4.2 0M523.25 183.08a2.1 2.1 0 1 0 4.2 0a2.1 2.1 0 1 0 -4.2 0M523.37 182.99a2.1 2.1 0 1 0 4.2 0a2.1 2.1 0 1 0 -4.2 0M523.82 182.63a2.1 2.1 0 1 0 4.2 0a2.1 2.1 0 1 0 -4.2 0M524.78 181.89a2.1 2.1 0 1 0 4.2 0a2.1 2.1 0 1 0 -4.2 0M525.01 181.73a2.1 2.1 0 1 0 4.2 0a2.1 2.1 0 1 0 -4.2 0M525.20 181.58a2.1 2.1 0 1 0 4.2 0a2.1 2.1 0 1 0 -4.2 0M525.22 181.57a2.1 2.1 0 1 0 4.2 0a2.1 2.1 0 1 0 -4.2 0M525.32 181.49a2.1 2.1 0 1 0 4.2 0a2.1 2.1 0 1 0 -4.2 0M525.35 181.46a2.1 2.1 0 1 0 4.2 0a2.1 2.1 0 1 0 -4.2 0M525.36 181.46a2.1 2.1 0 1 0 4.2 0a2.1 2.1 0 1 0 -4.2 0M525.75 181.17a2.1 2.1 0 1 0 4.2 0a2.1 2.1 0 1 0 -4.2 0M527.11 180.18a2.1 2.1 0 1 0 4.2 0a2.1 2.1 0 1 0 -4.2 0M527.13 180.16a2.1 2.1 0 1 0 4.2 0a2.1 2.1 0 1 0 -4.2 0M527.26 180.07a2.1 2.1 0 1 0 4.2 0a2.1 2.1 0 1 0 -4.2 0M527.41 179.96a2.1 2.1 0 1 0 4.2 0a2.1 2.1 0 1 0 -4.2 0M527.62 179.81a2.1 2.1 0 1 0 4.2 0a2.1 2.1 0 1 0 -4.2 0M527.68 179.77a2.1 2.1 0 1 0 4.2 0a2.1 2.1 0 1 0 -4.2 0M527.74 179.72a2.1 2.1 0 1 0 4.2 0a2.1 2.1 0 1 0 -4.2 0M527.75 179.72a2.1 2.1 0 1 0 4.2 0a2.1 2.1 0 1 0 -4.2 0M527.89 179.62a2.1 2.1 0 1 0 4.2 0a2.1 2.1 0 1 0 -4.2 0M528.61 179.12a2.1 2.1 0 1 0 4.2 0a2.1 2.1 0 1 0 -4.2 0M528.67 179.08a2.1 2.1 0 1 0 4.2 0a2.1 2.1 0 1 0 -4.2 0M528.73 179.04a2.1 2.1 0 1 0 4.2 0a2.1 2.1 0 1 0 -4.2 0M529.68 178.40a2.1 2.1 0 1 0 4.2 0a2.1 2.1 0 1 0 -4.2 0M529.88 178.27a2.1 2.1 0 1 0 4.2 0a2.1 2.1 0 1 0 -4.2 0M529.89 178.26a2.1 2.1 0 1 0 4.2 0a2.1 2.1 0 1 0 -4.2 0M529.92 178.24a2.1 2.1 0 1 0 4.2 0a2.1 2.1 0 1 0 -4.2 0M530.22 178.04a2.1 2.1 0 1 0 4.2 0a2.1 2.1 0 1 0 -4.2 0M530.28 178.00a2.1 2.1 0 1 0 4.2 0a2.1 2.1 0 1 0 -4.2 0M530.82 177.66a2.1 2.1 0 1 0 4.2 0a2.1 2.1 0 1 0 -4.2 0M530.98 177.56a2.1 2.1 0 1 0 4.2 0a2.1 2.1 0 1 0 -4.2 0M531.09 177.48a2.1 2.1 0 1 0 4.2 0a2.1 2.1 0 1 0 -4.2 0M531.31 177.35a2.1 2.1 0 1 0 4.2 0a2.1 2.1 0 1 0 -4.2 0M531.52 177.21a2.1 2.1 0 1 0 4.2 0a2.1 2.1 0 1 0 -4.2 0M531.77 177.06a2.1 2.1 0 1 0 4.2 0a2.1 2.1 0 1 0 -4.2 0M531.95 176.96a2.1 2.1 0 1 0 4.2 0a2.1 2.1 0 1 0 -4.2 0M532.07 176.88a2.1 2.1 0 1 0 4.2 0a2.1 2.1 0 1 0 -4.2 0M532.45 176.65a2.1 2.1 0 1 0 4.2 0a2.1 2.1 0 1 0 -4.2 0M532.53 176.61a2.1 2.1 0 1 0 4.2 0a2.1 2.1 0 1 0 -4.2 0M532.57 176.58a2.1 2.1 0 1 0 4.2 0a2.1 2.1 0 1 0 -4.2 0M532.64 176.54a2.1 2.1 0 1 0 4.2 0a2.1 2.1 0 1 0 -4.2 0M533.07 176.29a2.1 2.1 0 1 0 4.2 0a2.1 2.1 0 1 0 -4.2 0M533.22 176.20a2.1 2.1 0 1 0 4.2 0a2.1 2.1 0 1 0 -4.2 0M533.49 176.04a2.1 2.1 0 1 0 4.2 0a2.1 2.1 0 1 0 -4.2 0M533.65 175.95a2.1 2.1 0 1 0 4.2 0a2.1 2.1 0 1 0 -4.2 0M534.11 175.70a2.1 2.1 0 1 0 4.2 0a2.1 2.1 0 1 0 -4.2 0M534.34 175.57a2.1 2.1 0 1 0 4.2 0a2.1 2.1 0 1 0 -4.2 0M534.41 175.53a2.1 2.1 0 1 0 4.2 0a2.1 2.1 0 1 0 -4.2 0M534.63 175.42a2.1 2.1 0 1 0 4.2 0a2.1 2.1 0 1 0 -4.2 0M534.64 175.41a2.1 2.1 0 1 0 4.2 0a2.1 2.1 0 1 0 -4.2 0M534.90 175.27a2.1 2.1 0 1 0 4.2 0a2.1 2.1 0 1 0 -4.2 0M534.97 175.23a2.1 2.1 0 1 0 4.2 0a2.1 2.1 0 1 0 -4.2 0M535.31 175.06a2.1 2.1 0 1 0 4.2 0a2.1 2.1 0 1 0 -4.2 0M535.36 175.03a2.1 2.1 0 1 0 4.2 0a2.1 2.1 0 1 0 -4.2 0M535.55 174.93a2.1 2.1 0 1 0 4.2 0a2.1 2.1 0 1 0 -4.2 0M535.57 174.92a2.1 2.1 0 1 0 4.2 0a2.1 2.1 0 1 0 -4.2 0M535.60 174.90a2.1 2.1 0 1 0 4.2 0a2.1 2.1 0 1 0 -4.2 0M535.95 174.72a2.1 2.1 0 1 0 4.2 0a2.1 2.1 0 1 0 -4.2 0M536.26 174.57a2.1 2.1 0 1 0 4.2 0a2.1 2.1 0 1 0 -4.2 0M536.35 174.53a2.1 2.1 0 1 0 4.2 0a2.1 2.1 0 1 0 -4.2 0M536.43 174.49a2.1 2.1 0 1 0 4.2 0a2.1 2.1 0 1 0 -4.2 0M536.44 174.48a2.1 2.1 0 1 0 4.2 0a2.1 2.1 0 1 0 -4.2 0M536.57 174.42a2.1 2.1 0 1 0 4.2 0a2.1 2.1 0 1 0 -4.2 0M536.71 174.35a2.1 2.1 0 1 0 4.2 0a2.1 2.1 0 1 0 -4.2 0M536.87 174.27a2.1 2.1 0 1 0 4.2 0a2.1 2.1 0 1 0 -4.2 0M537.23 174.10a2.1 2.1 0 1 0 4.2 0a2.1 2.1 0 1 0 -4.2 0M537.25 174.09a2.1 2.1 0 1 0 4.2 0a2.1 2.1 0 1 0 -4.2 0M537.58 173.94a2.1 2.1 0 1 0 4.2 0a2.1 2.1 0 1 0 -4.2 0M537.65 173.91a2.1 2.1 0 1 0 4.2 0a2.1 2.1 0 1 0 -4.2 0M537.93 173.78a2.1 2.1 0 1 0 4.2 0a2.1 2.1 0 1 0 -4.2 0M538.40 173.57a2.1 2.1 0 1 0 4.2 0a2.1 2.1 0 1 0 -4.2 0M538.65 173.46a2.1 2.1 0 1 0 4.2 0a2.1 2.1 0 1 0 -4.2 0M539.14 173.25a2.1 2.1 0 1 0 4.2 0a2.1 2.1 0 1 0 -4.2 0M539.14 173.24a2.1 2.1 0 1 0 4.2 0a2.1 2.1 0 1 0 -4.2 0M539.17 173.23a2.1 2.1 0 1 0 4.2 0a2.1 2.1 0 1 0 -4.2 0M539.37 173.15a2.1 2.1 0 1 0 4.2 0a2.1 2.1 0 1 0 -4.2 0M539.68 173.02a2.1 2.1 0 1 0 4.2 0a2.1 2.1 0 1 0 -4.2 0M539.86 172.95a2.1 2.1 0 1 0 4.2 0a2.1 2.1 0 1 0 -4.2 0M540.19 172.81a2.1 2.1 0 1 0 4.2 0a2.1 2.1 0 1 0 -4.2 0M540.93 172.53a2.1 2.1 0 1 0 4.2 0a2.1 2.1 0 1 0 -4.2 0M541.19 172.43a2.1 2.1 0 1 0 4.2 0a2.1 2.1 0 1 0 -4.2 0M541.81 172.20a2.1 2.1 0 1 0 4.2 0a2.1 2.1 0 1 0 -4.2 0M542.01 172.13a2.1 2.1 0 1 0 4.2 0a2.1 2.1 0 1 0 -4.2 0M542.03 172.12a2.1 2.1 0 1 0 4.2 0a2.1 2.1 0 1 0 -4.2 0M542.16 172.07a2.1 2.1 0 1 0 4.2 0a2.1 2.1 0 1 0 -4.2 0M542.24 172.05a2.1 2.1 0 1 0 4.2 0a2.1 2.1 0 1 0 -4.2 0M543.08 171.76a2.1 2.1 0 1 0 4.2 0a2.1 2.1 0 1 0 -4.2 0M543.96 171.48a2.1 2.1 0 1 0 4.2 0a2.1 2.1 0 1 0 -4.2 0M544.19 171.41a2.1 2.1 0 1 0 4.2 0a2.1 2.1 0 1 0 -4.2 0M544.66 171.26a2.1 2.1 0 1 0 4.2 0a2.1 2.1 0 1 0 -4.2 0M544.77 171.23a2.1 2.1 0 1 0 4.2 0a2.1 2.1 0 1 0 -4.2 0M544.99 171.17a2.1 2.1 0 1 0 4.2 0a2.1 2.1 0 1 0 -4.2 0M545.42 171.04a2.1 2.1 0 1 0 4.2 0a2.1 2.1 0 1 0 -4.2 0M545.77 170.95a2.1 2.1 0 1 0 4.2 0a2.1 2.1 0 1 0 -4.2 0M545.84 170.93a2.1 2.1 0 1 0 4.2 0a2.1 2.1 0 1 0 -4.2 0M546.28 170.81a2.1 2.1 0 1 0 4.2 0a2.1 2.1 0 1 0 -4.2 0M546.38 170.78a2.1 2.1 0 1 0 4.2 0a2.1 2.1 0 1 0 -4.2 0M546.84 170.67a2.1 2.1 0 1 0 4.2 0a2.1 2.1 0 1 0 -4.2 0M547.40 170.53a2.1 2.1 0 1 0 4.2 0a2.1 2.1 0 1 0 -4.2 0M547.64 170.47a2.1 2.1 0 1 0 4.2 0a2.1 2.1 0 1 0 -4.2 0M547.78 170.44a2.1 2.1 0 1 0 4.2 0a2.1 2.1 0 1 0 -4.2 0M547.98 170.40a2.1 2.1 0 1 0 4.2 0a2.1 2.1 0 1 0 -4.2 0M548.13 170.36a2.1 2.1 0 1 0 4.2 0a2.1 2.1 0 1 0 -4.2 0M548.50 170.28a2.1 2.1 0 1 0 4.2 0a2.1 2.1 0 1 0 -4.2 0M549.26 170.12a2.1 2.1 0 1 0 4.2 0a2.1 2.1 0 1 0 -4.2 0M549.56 170.06a2.1 2.1 0 1 0 4.2 0a2.1 2.1 0 1 0 -4.2 0M549.69 170.04a2.1 2.1 0 1 0 4.2 0a2.1 2.1 0 1 0 -4.2 0M549.75 170.02a2.1 2.1 0 1 0 4.2 0a2.1 2.1 0 1 0 -4.2 0M549.86 170.00a2.1 2.1 0 1 0 4.2 0a2.1 2.1 0 1 0 -4.2 0M549.88 170.00a2.1 2.1 0 1 0 4.2 0a2.1 2.1 0 1 0 -4.2 0M550.70 169.85a2.1 2.1 0 1 0 4.2 0a2.1 2.1 0 1 0 -4.2 0M550.76 169.84a2.1 2.1 0 1 0 4.2 0a2.1 2.1 0 1 0 -4.2 0M550.99 169.80a2.1 2.1 0 1 0 4.2 0a2.1 2.1 0 1 0 -4.2 0M551.20 169.77a2.1 2.1 0 1 0 4.2 0a2.1 2.1 0 1 0 -4.2 0M551.21 169.77a2.1 2.1 0 1 0 4.2 0a2.1 2.1 0 1 0 -4.2 0M551.75 169.68a2.1 2.1 0 1 0 4.2 0a2.1 2.1 0 1 0 -4.2 0M552.52 169.57a2.1 2.1 0 1 0 4.2 0a2.1 2.1 0 1 0 -4.2 0M552.54 169.57a2.1 2.1 0 1 0 4.2 0a2.1 2.1 0 1 0 -4.2 0M553.15 169.48a2.1 2.1 0 1 0 4.2 0a2.1 2.1 0 1 0 -4.2 0M553.63 169.43a2.1 2.1 0 1 0 4.2 0a2.1 2.1 0 1 0 -4.2 0M553.65 169.42a2.1 2.1 0 1 0 4.2 0a2.1 2.1 0 1 0 -4.2 0M553.67 169.42a2.1 2.1 0 1 0 4.2 0a2.1 2.1 0 1 0 -4.2 0M553.83 169.40a2.1 2.1 0 1 0 4.2 0a2.1 2.1 0 1 0 -4.2 0M554.16 169.36a2.1 2.1 0 1 0 4.2 0a2.1 2.1 0 1 0 -4.2 0M554.33 169.35a2.1 2.1 0 1 0 4.2 0a2.1 2.1 0 1 0 -4.2 0M554.55 169.32a2.1 2.1 0 1 0 4.2 0a2.1 2.1 0 1 0 -4.2 0M554.67 169.31a2.1 2.1 0 1 0 4.2 0a2.1 2.1 0 1 0 -4.2 0M555.27 169.25a2.1 2.1 0 1 0 4.2 0a2.1 2.1 0 1 0 -4.2 0M556.21 169.18a2.1 2.1 0 1 0 4.2 0a2.1 2.1 0 1 0 -4.2 0M556.26 169.17a2.1 2.1 0 1 0 4.2 0a2.1 2.1 0 1 0 -4.2 0M556.28 169.17a2.1 2.1 0 1 0 4.2 0a2.1 2.1 0 1 0 -4.2 0M557.03 169.12a2.1 2.1 0 1 0 4.2 0a2.1 2.1 0 1 0 -4.2 0M557.78 169.08a2.1 2.1 0 1 0 4.2 0a2.1 2.1 0 1 0 -4.2 0M557.78 169.08a2.1 2.1 0 1 0 4.2 0a2.1 2.1 0 1 0 -4.2 0M558.26 169.06a2.1 2.1 0 1 0 4.2 0a2.1 2.1 0 1 0 -4.2 0M559.16 169.03a2.1 2.1 0 1 0 4.2 0a2.1 2.1 0 1 0 -4.2 0M559.30 169.02a2.1 2.1 0 1 0 4.2 0a2.1 2.1 0 1 0 -4.2 0M559.74 169.01a2.1 2.1 0 1 0 4.2 0a2.1 2.1 0 1 0 -4.2 0M559.85 169.01a2.1 2.1 0 1 0 4.2 0a2.1 2.1 0 1 0 -4.2 0M560.52 169.01a2.1 2.1 0 1 0 4.2 0a2.1 2.1 0 1 0 -4.2 0M560.59 169.01a2.1 2.1 0 1 0 4.2 0a2.1 2.1 0 1 0 -4.2 0M561.09 169.01a2.1 2.1 0 1 0 4.2 0a2.1 2.1 0 1 0 -4.2 0M561.33 169.01a2.1 2.1 0 1 0 4.2 0a2.1 2.1 0 1 0 -4.2 0M561.54 169.01a2.1 2.1 0 1 0 4.2 0a2.1 2.1 0 1 0 -4.2 0M561.64 169.01a2.1 2.1 0 1 0 4.2 0a2.1 2.1 0 1 0 -4.2 0M561.65 169.01a2.1 2.1 0 1 0 4.2 0a2.1 2.1 0 1 0 -4.2 0M561.84 169.01a2.1 2.1 0 1 0 4.2 0a2.1 2.1 0 1 0 -4.2 0M562.90 169.04a2.1 2.1 0 1 0 4.2 0a2.1 2.1 0 1 0 -4.2 0M562.92 169.04a2.1 2.1 0 1 0 4.2 0a2.1 2.1 0 1 0 -4.2 0M563.47 169.06a2.1 2.1 0 1 0 4.2 0a2.1 2.1 0 1 0 -4.2 0M564.53 169.12a2.1 2.1 0 1 0 4.2 0a2.1 2.1 0 1 0 -4.2 0M565.32 169.17a2.1 2.1 0 1 0 4.2 0a2.1 2.1 0 1 0 -4.2 0M565.75 169.20a2.1 2.1 0 1 0 4.2 0a2.1 2.1 0 1 0 -4.2 0M566.26 169.24a2.1 2.1 0 1 0 4.2 0a2.1 2.1 0 1 0 -4.2 0M568.47 169.46a2.1 2.1 0 1 0 4.2 0a2.1 2.1 0 1 0 -4.2 0M568.58 169.47a2.1 2.1 0 1 0 4.2 0a2.1 2.1 0 1 0 -4.2 0M569.37 169.57a2.1 2.1 0 1 0 4.2 0a2.1 2.1 0 1 0 -4.2 0M569.70 169.61a2.1 2.1 0 1 0 4.2 0a2.1 2.1 0 1 0 -4.2 0M570.05 169.66a2.1 2.1 0 1 0 4.2 0a2.1 2.1 0 1 0 -4.2 0M570.39 169.71a2.1 2.1 0 1 0 4.2 0a2.1 2.1 0 1 0 -4.2 0M570.71 169.76a2.1 2.1 0 1 0 4.2 0a2.1 2.1 0 1 0 -4.2 0M570.93 169.79a2.1 2.1 0 1 0 4.2 0a2.1 2.1 0 1 0 -4.2 0M571.11 169.82a2.1 2.1 0 1 0 4.2 0a2.1 2.1 0 1 0 -4.2 0M571.32 169.85a2.1 2.1 0 1 0 4.2 0a2.1 2.1 0 1 0 -4.2 0M571.41 169.86a2.1 2.1 0 1 0 4.2 0a2.1 2.1 0 1 0 -4.2 0M572.22 169.99a2.1 2.1 0 1 0 4.2 0a2.1 2.1 0 1 0 -4.2 0M572.98 170.13a2.1 2.1 0 1 0 4.2 0a2.1 2.1 0 1 0 -4.2 0M573.30 170.19a2.1 2.1 0 1 0 4.2 0a2.1 2.1 0 1 0 -4.2 0M573.74 170.27a2.1 2.1 0 1 0 4.2 0a2.1 2.1 0 1 0 -4.2 0M574.18 170.35a2.1 2.1 0 1 0 4.2 0a2.1 2.1 0 1 0 -4.2 0M574.39 170.39a2.1 2.1 0 1 0 4.2 0a2.1 2.1 0 1 0 -4.2 0M574.68 170.45a2.1 2.1 0 1 0 4.2 0a2.1 2.1 0 1 0 -4.2 0M574.71 170.46a2.1 2.1 0 1 0 4.2 0a2.1 2.1 0 1 0 -4.2 0M574.76 170.47a2.1 2.1 0 1 0 4.2 0a2.1 2.1 0 1 0 -4.2 0M575.82 170.69a2.1 2.1 0 1 0 4.2 0a2.1 2.1 0 1 0 -4.2 0M576.34 170.80a2.1 2.1 0 1 0 4.2 0a2.1 2.1 0 1 0 -4.2 0M576.41 170.82a2.1 2.1 0 1 0 4.2 0a2.1 2.1 0 1 0 -4.2 0M576.84 170.92a2.1 2.1 0 1 0 4.2 0a2.1 2.1 0 1 0 -4.2 0M576.89 170.93a2.1 2.1 0 1 0 4.2 0a2.1 2.1 0 1 0 -4.2 0M576.96 170.95a2.1 2.1 0 1 0 4.2 0a2.1 2.1 0 1 0 -4.2 0M577.25 171.01a2.1 2.1 0 1 0 4.2 0a2.1 2.1 0 1 0 -4.2 0M577.31 171.03a2.1 2.1 0 1 0 4.2 0a2.1 2.1 0 1 0 -4.2 0M577.68 171.12a2.1 2.1 0 1 0 4.2 0a2.1 2.1 0 1 0 -4.2 0M578.00 171.19a2.1 2.1 0 1 0 4.2 0a2.1 2.1 0 1 0 -4.2 0M578.97 171.44a2.1 2.1 0 1 0 4.2 0a2.1 2.1 0 1 0 -4.2 0M579.05 171.46a2.1 2.1 0 1 0 4.2 0a2.1 2.1 0 1 0 -4.2 0M579.36 171.54a2.1 2.1 0 1 0 4.2 0a2.1 2.1 0 1 0 -4.2 0M579.40 171.55a2.1 2.1 0 1 0 4.2 0a2.1 2.1 0 1 0 -4.2 0M580.91 171.96a2.1 2.1 0 1 0 4.2 0a2.1 2.1 0 1 0 -4.2 0M581.10 172.01a2.1 2.1 0 1 0 4.2 0a2.1 2.1 0 1 0 -4.2 0M581.23 172.05a2.1 2.1 0 1 0 4.2 0a2.1 2.1 0 1 0 -4.2 0M581.30 172.07a2.1 2.1 0 1 0 4.2 0a2.1 2.1 0 1 0 -4.2 0M581.31 172.07a2.1 2.1 0 1 0 4.2 0a2.1 2.1 0 1 0 -4.2 0M581.67 172.17a2.1 2.1 0 1 0 4.2 0a2.1 2.1 0 1 0 -4.2 0M583.11 172.60a2.1 2.1 0 1 0 4.2 0a2.1 2.1 0 1 0 -4.2 0M583.16 172.62a2.1 2.1 0 1 0 4.2 0a2.1 2.1 0 1 0 -4.2 0M583.80 172.81a2.1 2.1 0 1 0 4.2 0a2.1 2.1 0 1 0 -4.2 0M590.20 175.05a2.1 2.1 0 1 0 4.2 0a2.1 2.1 0 1 0 -4.2 0M590.90 175.32a2.1 2.1 0 1 0 4.2 0a2.1 2.1 0 1 0 -4.2 0M592.10 175.79a2.1 2.1 0 1 0 4.2 0a2.1 2.1 0 1 0 -4.2 0M593.40 176.32a2.1 2.1 0 1 0 4.2 0a2.1 2.1 0 1 0 -4.2 0M594.20 176.66a2.1 2.1 0 1 0 4.2 0a2.1 2.1 0 1 0 -4.2 0M595.50 177.21a2.1 2.1 0 1 0 4.2 0a2.1 2.1 0 1 0 -4.2 0M596.50 177.65a2.1 2.1 0 1 0 4.2 0a2.1 2.1 0 1 0 -4.2 0M597.70 178.19a2.1 2.1 0 1 0 4.2 0a2.1 2.1 0 1 0 -4.2 0M598.90 178.74a2.1 2.1 0 1 0 4.2 0a2.1 2.1 0 1 0 -4.2 0M602.00 180.21a2.1 2.1 0 1 0 4.2 0a2.1 2.1 0 1 0 -4.2 0M607.10 182.80a2.1 2.1 0 1 0 4.2 0a2.1 2.1 0 1 0 -4.2 0M608.40 183.49a2.1 2.1 0 1 0 4.2 0a2.1 2.1 0 1 0 -4.2 0M610.20 184.47a2.1 2.1 0 1 0 4.2 0a2.1 2.1 0 1 0 -4.2 0M611.30 185.08a2.1 2.1 0 1 0 4.2 0a2.1 2.1 0 1 0 -4.2 0M613.00 186.05a2.1 2.1 0 1 0 4.2 0a2.1 2.1 0 1 0 -4.2 0M614.20 186.75a2.1 2.1 0 1 0 4.2 0a2.1 2.1 0 1 0 -4.2 0M615.80 187.70a2.1 2.1 0 1 0 4.2 0a2.1 2.1 0 1 0 -4.2 0M617.10 188.50a2.1 2.1 0 1 0 4.2 0a2.1 2.1 0 1 0 -4.2 0M618.40 189.32a2.1 2.1 0 1 0 4.2 0a2.1 2.1 0 1 0 -4.2 0M625.20 193.98a2.1 2.1 0 1 0 4.2 0a2.1 2.1 0 1 0 -4.2 0M627.50 195.73a2.1 2.1 0 1 0 4.2 0a2.1 2.1 0 1 0 -4.2 0M632.60 199.93a2.1 2.1 0 1 0 4.2 0a2.1 2.1 0 1 0 -4.2 0M636.10 203.11a2.1 2.1 0 1 0 4.2 0a2.1 2.1 0 1 0 -4.2 0M642.00 209.01a2.1 2.1 0 1 0 4.2 0a2.1 2.1 0 1 0 -4.2 0M647.00 214.51a2.1 2.1 0 1 0 4.2 0a2.1 2.1 0 1 0 -4.2 0M669.50 244.34a2.1 2.1 0 1 0 4.2 0a2.1 2.1 0 1 0 -4.2 0M672.10 248.26a2.1 2.1 0 1 0 4.2 0a2.1 2.1 0 1 0 -4.2 0" fill="none" stroke="#00f" stroke-width="0.72"/>
<path d="M404.05 222.25a1.95 1.95 0 1 0 3.9 0a1.95 1.95 0 1 0 -3.9 0M404.45 222.28a1.95 1.95 0 1 0 3.9 0a1.95 1.95 0 1 0 -3.9 0M404.85 222.31a1.95 1.95 0 1 0 3.9 0a1.95 1.95 0 1 0 -3.9 0M405.25 222.34a1.95 1.95 0 1 0 3.9 0a1.95 1.95 0 1 0 -3.9 0M405.65 222.37a1.95 1.95 0 1 0 3.9 0a1.95 1.95 0 1 0 -3.9 0M406.05 222.40a1.95 1.95 0 1 0 3.9 0a1.95 1.95 0 1 0 -3.9 0M406.45 222.43a1.95 1.95 0 1 0 3.9 0a1.95 1.95 0 1 0 -3.9 0M406.85 222.46a1.95 1.95 0 1 0 3.9 0a1.95 1.95 0 1 0 -3.9 0M407.25 222.49a1.95 1.95 0 1 0 3.9 0a1.95 1.95 0 1 0 -3.9 0M407.65 222.52a1.95 1.95 0 1 0 3.9 0a1.95 1.95 0 1 0 -3.9 0M408.05 222.55a1.95 1.95 0 1 0 3.9 0a1.95 1.95 0 1 0 -3.9 0M408.45 222.58a1.95 1.95 0 1 0 3.9 0a1.95 1.95 0 1 0 -3.9 0M408.85 222.60a1.95 1.95 0 1 0 3.9 0a1.95 1.95 0 1 0 -3.9 0M409.25 222.63a1.95 1.95 0 1 0 3.9 0a1.95 1.95 0 1 0 -3.9 0M409.65 222.66a1.95 1.95 0 1 0 3.9 0a1.95 1.95 0 1 0 -3.9 0M410.05 222.69a1.95 1.95 0 1 0 3.9 0a1.95 1.95 0 1 0 -3.9 0M410.45 222.72a1.95 1.95 0 1 0 3.9 0a1.95 1.95 0 1 0 -3.9 0M410.85 222.75a1.95 1.95 0 1 0 3.9 0a1.95 1.95 0 1 0 -3.9 0M411.25 222.77a1.95 1.95 0 1 0 3.9 0a1.95 1.95 0 1 0 -3.9 0M411.65 222.80a1.95 1.95 0 1 0 3.9 0a1.95 1.95 0 1 0 -3.9 0M412.05 222.83a1.95 1.95 0 1 0 3.9 0a1.95 1.95 0 1 0 -3.9 0M412.45 222.85a1.95 1.95 0 1 0 3.9 0a1.95 1.95 0 1 0 -3.9 0M412.85 222.88a1.95 1.95 0 1 0 3.9 0a1.95 1.95 0 1 0 -3.9 0M413.25 222.91a1.95 1.95 0 1 0 3.9 0a1.95 1.95 0 1 0 -3.9 0M413.65 222.93a1.95 1.95 0 1 0 3.9 0a1.95 1.95 0 1 0 -3.9 0M414.05 222.96a1.95 1.95 0 1 0 3.9 0a1.95 1.95 0 1 0 -3.9 0M414.45 222.98a1.95 1.95 0 1 0 3.9 0a1.95 1.95 0 1 0 -3.9 0M414.85 223.00a1.95 1.95 0 1 0 3.9 0a1.95 1.95 0 1 0 -3.9 0M415.25 223.03a1.95 1.95 0 1 0 3.9 0a1.95 1.95 0 1 0 -3.9 0M415.65 223.05a1.95 1.95 0 1 0 3.9 0a1.95 1.95 0 1 0 -3.9 0M416.05 223.07a1.95 1.95 0 1 0 3.9 0a1.95 1.95 0 1 0 -3.9 0M416.45 223.10a1.95 1.95 0 1 0 3.9 0a1.95 1.95 0 1 0 -3.9 0M416.85 223.12a1.95 1.95 0 1 0 3.9 0a1.95 1.95 0 1 0 -3.9 0M417.25 223.14a1.95 1.95 0 1 0 3.9 0a1.95 1.95 0 1 0 -3.9 0M417.65 223.16a1.95 1.95 0 1 0 3.9 0a1.95 1.95 0 1 0 -3.9 0M418.05 223.18a1.95 1.95 0 1 0 3.9 0a1.95 1.95 0 1 0 -3.9 0M418.45 223.20a1.95 1.95 0 1 0 3.9 0a1.95 1.95 0 1 0 -3.9 0M418.85 223.22a1.95 1.95 0 1 0 3.9 0a1.95 1.95 0 1 0 -3.9 0M419.25 223.24a1.95 1.95 0 1 0 3.9 0a1.95 1.95 0 1 0 -3.9 0M419.65 223.26a1.95 1.95 0 1 0 3.9 0a1.95 1.95 0 1 0 -3.9 0M420.05 223.28a1.95 1.95 0 1 0 3.9 0a1.95 1.95 0 1 0 -3.9 0M420.45 223.29a1.95 1.95 0 1 0 3.9 0a1.95 1.95 0 1 0 -3.9 0M420.85 223.31a1.95 1.95 0 1 0 3.9 0a1.95 1.95 0 1 0 -3.9 0M421.25 223.32a1.95 1.95 0 1 0 3.9 0a1.95 1.95 0 1 0 -3.9 0M421.65 223.34a1.95 1.95 0 1 0 3.9 0a1.95 1.95 0 1 0 -3.9 0M422.05 223.35a1.95 1.95 0 1 0 3.9 0a1.95 1.95 0 1 0 -3.9 0M422.45 223.37a1.95 1.95 0 1 0 3.9 0a1.95 1.95 0 1 0 -3.9 0M422.85 223.38a1.95 1.95 0 1 0 3.9 0a1.95 1.95 0 1 0 -3.9 0M423.25 223.39a1.95 1.95 0 1 0 3.9 0a1.95 1.95 0 1 0 -3.9 0M423.65 223.41a1.95 1.95 0 1 0 3.9 0a1.95 1.95 0 1 0 -3.9 0M424.05 223.42a1.95 1.95 0 1 0 3.9 0a1.95 1.95 0 1 0 -3.9 0M424.45 223.43a1.95 1.95 0 1 0 3.9 0a1.95 1.95 0 1 0 -3.9 0M424.85 223.44a1.95 1.95 0 1 0 3.9 0a1.95 1.95 0 1 0 -3.9 0M425.25 223.44a1.95 1.95 0 1 0 3.9 0a1.95 1.95 0 1 0 -3.9 0M425.65 223.45a1.95 1.95 0 1 0 3.9 0a1.95 1.95 0 1 0 -3.9 0M426.05 223.46a1.95 1.95 0 1 0 3.9 0a1.95 1.95 0 1 0 -3.9 0M426.45 223.47a1.95 1.95 0 1 0 3.9 0a1.95 1.95 0 1 0 -3.9 0M426.85 223.47a1.95 1.95 0 1 0 3.9 0a1.95 1.95 0 1 0 -3.9 0M427.25 223.48a1.95 1.95 0 1 0 3.9 0a1.95 1.95 0 1 0 -3.9 0M427.65 223.48a1.95 1.95 0 1 0 3.9 0a1.95 1.95 0 1 0 -3.9 0M428.05 223.48a1.95 1.95 0 1 0 3.9 0a1.95 1.95 0 1 0 -3.9 0M428.45 223.49a1.95 1.95 0 1 0 3.9 0a1.95 1.95 0 1 0 -3.9 0M428.85 223.49a1.95 1.95 0 1 0 3.9 0a1.95 1.95 0 1 0 -3.9 0M429.25 223.49a1.95 1.95 0 1 0 3.9 0a1.95 1.95 0 1 0 -3.9 0M429.65 223.49a1.95 1.95 0 1 0 3.9 0a1.95 1.95 0 1 0 -3.9 0M430.05 223.48a1.95 1.95 0 1 0 3.9 0a1.95 1.95 0 1 0 -3.9 0M430.45 223.48a1.95 1.95 0 1 0 3.9 0a1.95 1.95 0 1 0 -3.9 0M430.85 223.48a1.95 1.95 0 1 0 3.9 0a1.95 1.95 0 1 0 -3.9 0M431.25 223.47a1.95 1.95 0 1 0 3.9 0a1.95 1.95 0 1 0 -3.9 0M431.65 223.47a1.95 1.95 0 1 0 3.9 0a1.95 1.95 0 1 0 -3.9 0M432.05 223.46a1.95 1.95 0 1 0 3.9 0a1.95 1.95 0 1 0 -3.9 0M432.45 223.46a1.95 1.95 0 1 0 3.9 0a1.95 1.95 0 1 0 -3.9 0M432.85 223.45a1.95 1.95 0 1 0 3.9 0a1.95 1.95 0 1 0 -3.9 0M433.25 223.44a1.95 1.95 0 1 0 3.9 0a1.95 1.95 0 1 0 -3.9 0M433.65 223.43a1.95 1.95 0 1 0 3.9 0a1.95 1.95 0 1 0 -3.9 0M434.05 223.42a1.95 1.95 0 1 0 3.9 0a1.95 1.95 0 1 0 -3.9 0M434.45 223.40a1.95 1.95 0 1 0 3.9 0a1.95 1.95 0 1 0 -3.9 0M434.85 223.39a1.95 1.95 0 1 0 3.9 0a1.95 1.95 0 1 0 -3.9 0M435.25 223.37a1.95 1.95 0 1 0 3.9 0a1.95 1.95 0 1 0 -3.9 0M435.65 223.36a1.95 1.95 0 1 0 3.9 0a1.95 1.95 0 1 0 -3.9 0M436.05 223.34a1.95 1.95 0 1 0 3.9 0a1.95 1.95 0 1 0 -3.9 0M436.45 223.32a1.95 1.95 0 1 0 3.9 0a1.95 1.95 0 1 0 -3.9 0M436.85 223.30a1.95 1.95 0 1 0 3.9 0a1.95 1.95 0 1 0 -3.9 0M437.25 223.28a1.95 1.95 0 1 0 3.9 0a1.95 1.95 0 1 0 -3.9 0M437.65 223.26a1.95 1.95 0 1 0 3.9 0a1.95 1.95 0 1 0 -3.9 0M438.05 223.24a1.95 1.95 0 1 0 3.9 0a1.95 1.95 0 1 0 -3.9 0M438.45 223.21a1.95 1.95 0 1 0 3.9 0a1.95 1.95 0 1 0 -3.9 0M438.85 223.19a1.95 1.95 0 1 0 3.9 0a1.95 1.95 0 1 0 -3.9 0M439.25 223.16a1.95 1.95 0 1 0 3.9 0a1.95 1.95 0 1 0 -3.9 0M439.65 223.14a1.95 1.95 0 1 0 3.9 0a1.95 1.95 0 1 0 -3.9 0M440.05 223.11a1.95 1.95 0 1 0 3.9 0a1.95 1.95 0 1 0 -3.9 0M440.45 223.08a1.95 1.95 0 1 0 3.9 0a1.95 1.95 0 1 0 -3.9 0M440.85 223.04a1.95 1.95 0 1 0 3.9 0a1.95 1.95 0 1 0 -3.9 0M441.25 223.01a1.95 1.95 0 1 0 3.9 0a1.95 1.95 0 1 0 -3.9 0M441.65 222.98a1.95 1.95 0 1 0 3.9 0a1.95 1.95 0 1 0 -3.9 0M442.05 222.94a1.95 1.95 0 1 0 3.9 0a1.95 1.95 0 1 0 -3.9 0M442.45 222.90a1.95 1.95 0 1 0 3.9 0a1.95 1.95 0 1 0 -3.9 0M442.85 222.87a1.95 1.95 0 1 0 3.9 0a1.95 1.95 0 1 0 -3.9 0M443.25 222.83a1.95 1.95 0 1 0 3.9 0a1.95 1.95 0 1 0 -3.9 0M443.65 222.78a1.95 1.95 0 1 0 3.9 0a1.95 1.95 0 1 0 -3.9 0M444.05 222.74a1.95 1.95 0 1 0 3.9 0a1.95 1.95 0 1 0 -3.9 0M444.45 222.70a1.95 1.95 0 1 0 3.9 0a1.95 1.95 0 1 0 -3.9 0M444.85 222.65a1.95 1.95 0 1 0 3.9 0a1.95 1.95 0 1 0 -3.9 0M445.25 222.60a1.95 1.95 0 1 0 3.9 0a1.95 1.95 0 1 0 -3.9 0M445.65 222.56a1.95 1.95 0 1 0 3.9 0a1.95 1.95 0 1 0 -3.9 0M446.05 222.50a1.95 1.95 0 1 0 3.9 0a1.95 1.95 0 1 0 -3.9 0M446.45 222.45a1.95 1.95 0 1 0 3.9 0a1.95 1.95 0 1 0 -3.9 0M446.85 222.40a1.95 1.95 0 1 0 3.9 0a1.95 1.95 0 1 0 -3.9 0M447.25 222.34a1.95 1.95 0 1 0 3.9 0a1.95 1.95 0 1 0 -3.9 0M447.65 222.28a1.95 1.95 0 1 0 3.9 0a1.95 1.95 0 1 0 -3.9 0M448.05 222.22a1.95 1.95 0 1 0 3.9 0a1.95 1.95 0 1 0 -3.9 0M448.45 222.16a1.95 1.95 0 1 0 3.9 0a1.95 1.95 0 1 0 -3.9 0M448.85 222.10a1.95 1.95 0 1 0 3.9 0a1.95 1.95 0 1 0 -3.9 0M449.25 222.03a1.95 1.95 0 1 0 3.9 0a1.95 1.95 0 1 0 -3.9 0M449.65 221.97a1.95 1.95 0 1 0 3.9 0a1.95 1.95 0 1 0 -3.9 0M450.05 221.90a1.95 1.95 0 1 0 3.9 0a1.95 1.95 0 1 0 -3.9 0M450.45 221.82a1.95 1.95 0 1 0 3.9 0a1.95 1.95 0 1 0 -3.9 0M450.85 221.75a1.95 1.95 0 1 0 3.9 0a1.95 1.95 0 1 0 -3.9 0M451.25 221.67a1.95 1.95 0 1 0 3.9 0a1.95 1.95 0 1 0 -3.9 0M451.65 221.60a1.95 1.95 0 1 0 3.9 0a1.95 1.95 0 1 0 -3.9 0M452.05 221.51a1.95 1.95 0 1 0 3.9 0a1.95 1.95 0 1 0 -3.9 0M452.45 221.43a1.95 1.95 0 1 0 3.9 0a1.95 1.95 0 1 0 -3.9 0M452.85 221.35a1.95 1.95 0 1 0 3.9 0a1.95 1.95 0 1 0 -3.9 0M453.25 221.26a1.95 1.95 0 1 0 3.9 0a1.95 1.95 0 1 0 -3.9 0M453.65 221.17a1.95 1.95 0 1 0 3.9 0a1.95 1.95 0 1 0 -3.9 0M454.05 221.08a1.95 1.95 0 1 0 3.9 0a1.95 1.95 0 1 0 -3.9 0M454.45 220.98a1.95 1.95 0 1 0 3.9 0a1.95 1.95 0 1 0 -3.9 0M454.85 220.88a1.95 1.95 0 1 0 3.9 0a1.95 1.95 0 1 0 -3.9 0M455.25 220.78a1.95 1.95 0 1 0 3.9 0a1.95 1.95 0 1 0 -3.9 0M455.65 220.68a1.95 1.95 0 1 0 3.9 0a1.95 1.95 0 1 0 -3.9 0M456.05 220.58a1.95 1.95 0 1 0 3.9 0a1.95 1.95 0 1 0 -3.9 0M456.45 220.47a1.95 1.95 0 1 0 3.9 0a1.95 1.95 0 1 0 -3.9 0M456.85 220.36a1.95 1.95 0 1 0 3.9 0a1.95 1.95 0 1 0 -3.9 0M457.25 220.24a1.95 1.95 0 1 0 3.9 0a1.95 1.95 0 1 0 -3.9 0M457.65 220.13a1.95 1.95 0 1 0 3.9 0a1.95 1.95 0 1 0 -3.9 0M458.05 220.01a1.95 1.95 0 1 0 3.9 0a1.95 1.95 0 1 0 -3.9 0M458.45 219.89a1.95 1.95 0 1 0 3.9 0a1.95 1.95 0 1 0 -3.9 0M458.85 219.76a1.95 1.95 0 1 0 3.9 0a1.95 1.95 0 1 0 -3.9 0M459.25 219.63a1.95 1.95 0 1 0 3.9 0a1.95 1.95 0 1 0 -3.9 0M459.65 219.50a1.95 1.95 0 1 0 3.9 0a1.95 1.95 0 1 0 -3.9 0M460.05 219.37a1.95 1.95 0 1 0 3.9 0a1.95 1.95 0 1 0 -3.9 0M460.45 219.23a1.95 1.95 0 1 0 3.9 0a1.95 1.95 0 1 0 -3.9 0M460.85 219.09a1.95 1.95 0 1 0 3.9 0a1.95 1.95 0 1 0 -3.9 0M461.25 218.95a1.95 1.95 0 1 0 3.9 0a1.95 1.95 0 1 0 -3.9 0M461.65 218.80a1.95 1.95 0 1 0 3.9 0a1.95 1.95 0 1 0 -3.9 0M462.05 218.65a1.95 1.95 0 1 0 3.9 0a1.95 1.95 0 1 0 -3.9 0M462.45 218.50a1.95 1.95 0 1 0 3.9 0a1.95 1.95 0 1 0 -3.9 0M462.85 218.35a1.95 1.95 0 1 0 3.9 0a1.95 1.95 0 1 0 -3.9 0M463.25 218.19a1.95 1.95 0 1 0 3.9 0a1.95 1.95 0 1 0 -3.9 0M463.65 218.02a1.95 1.95 0 1 0 3.9 0a1.95 1.95 0 1 0 -3.9 0M464.05 217.86a1.95 1.95 0 1 0 3.9 0a1.95 1.95 0 1 0 -3.9 0M464.45 217.69a1.95 1.95 0 1 0 3.9 0a1.95 1.95 0 1 0 -3.9 0M464.85 217.52a1.95 1.95 0 1 0 3.9 0a1.95 1.95 0 1 0 -3.9 0M465.25 217.34a1.95 1.95 0 1 0 3.9 0a1.95 1.95 0 1 0 -3.9 0M465.65 217.16a1.95 1.95 0 1 0 3.9 0a1.95 1.95 0 1 0 -3.9 0M466.05 216.98a1.95 1.95 0 1 0 3.9 0a1.95 1.95 0 1 0 -3.9 0M466.45 216.79a1.95 1.95 0 1 0 3.9 0a1.95 1.95 0 1 0 -3.9 0M466.85 216.60a1.95 1.95 0 1 0 3.9 0a1.95 1.95 0 1 0 -3.9 0M467.25 216.40a1.95 1.95 0 1 0 3.9 0a1.95 1.95 0 1 0 -3.9 0M467.65 216.20a1.95 1.95 0 1 0 3.9 0a1.95 1.95 0 1 0 -3.9 0M468.05 216.00a1.95 1.95 0 1 0 3.9 0a1.95 1.95 0 1 0 -3.9 0M468.45 215.80a1.95 1.95 0 1 0 3.9 0a1.95 1.95 0 1 0 -3.9 0M468.85 215.59a1.95 1.95 0 1 0 3.9 0a1.95 1.95 0 1 0 -3.9 0M469.25 215.37a1.95 1.95 0 1 0 3.9 0a1.95 1.95 0 1 0 -3.9 0M469.65 215.16a1.95 1.95 0 1 0 3.9 0a1.95 1.95 0 1 0 -3.9 0M470.05 214.93a1.95 1.95 0 1 0 3.9 0a1.95 1.95 0 1 0 -3.9 0M470.45 214.71a1.95 1.95 0 1 0 3.9 0a1.95 1.95 0 1 0 -3.9 0M470.85 214.48a1.95 1.95 0 1 0 3.9 0a1.95 1.95 0 1 0 -3.9 0M471.25 214.24a1.95 1.95 0 1 0 3.9 0a1.95 1.95 0 1 0 -3.9 0M471.65 214.01a1.95 1.95 0 1 0 3.9 0a1.95 1.95 0 1 0 -3.9 0M472.05 213.76a1.95 1.95 0 1 0 3.9 0a1.95 1.95 0 1 0 -3.9 0M472.45 213.52a1.95 1.95 0 1 0 3.9 0a1.95 1.95 0 1 0 -3.9 0M472.85 213.27a1.95 1.95 0 1 0 3.9 0a1.95 1.95 0 1 0 -3.9 0M473.25 213.01a1.95 1.95 0 1 0 3.9 0a1.95 1.95 0 1 0 -3.9 0M473.65 212.76a1.95 1.95 0 1 0 3.9 0a1.95 1.95 0 1 0 -3.9 0M474.05 212.49a1.95 1.95 0 1 0 3.9 0a1.95 1.95 0 1 0 -3.9 0M474.45 212.23a1.95 1.95 0 1 0 3.9 0a1.95 1.95 0 1 0 -3.9 0M474.85 211.96a1.95 1.95 0 1 0 3.9 0a1.95 1.95 0 1 0 -3.9 0M475.25 211.68a1.95 1.95 0 1 0 3.9 0a1.95 1.95 0 1 0 -3.9 0M475.65 211.41a1.95 1.95 0 1 0 3.9 0a1.95 1.95 0 1 0 -3.9 0M476.05 211.12a1.95 1.95 0 1 0 3.9 0a1.95 1.95 0 1 0 -3.9 0M476.45 210.84a1.95 1.95 0 1 0 3.9 0a1.95 1.95 0 1 0 -3.9 0M476.85 210.55a1.95 1.95 0 1 0 3.9 0a1.95 1.95 0 1 0 -3.9 0M477.25 210.25a1.95 1.95 0 1 0 3.9 0a1.95 1.95 0 1 0 -3.9 0M477.65 209.96a1.95 1.95 0 1 0 3.9 0a1.95 1.95 0 1 0 -3.9 0M478.05 209.66a1.95 1.95 0 1 0 3.9 0a1.95 1.95 0 1 0 -3.9 0M478.45 209.35a1.95 1.95 0 1 0 3.9 0a1.95 1.95 0 1 0 -3.9 0M478.85 209.04a1.95 1.95 0 1 0 3.9 0a1.95 1.95 0 1 0 -3.9 0M479.25 208.73a1.95 1.95 0 1 0 3.9 0a1.95 1.95 0 1 0 -3.9 0M479.65 208.42a1.95 1.95 0 1 0 3.9 0a1.95 1.95 0 1 0 -3.9 0M480.05 208.10a1.95 1.95 0 1 0 3.9 0a1.95 1.95 0 1 0 -3.9 0M480.45 207.77a1.95 1.95 0 1 0 3.9 0a1.95 1.95 0 1 0 -3.9 0M480.85 207.45a1.95 1.95 0 1 0 3.9 0a1.95 1.95 0 1 0 -3.9 0M481.25 207.11a1.95 1.95 0 1 0 3.9 0a1.95 1.95 0 1 0 -3.9 0M481.65 206.78a1.95 1.95 0 1 0 3.9 0a1.95 1.95 0 1 0 -3.9 0M482.05 206.44a1.95 1.95 0 1 0 3.9 0a1.95 1.95 0 1 0 -3.9 0M482.45 206.10a1.95 1.95 0 1 0 3.9 0a1.95 1.95 0 1 0 -3.9 0M482.85 205.76a1.95 1.95 0 1 0 3.9 0a1.95 1.95 0 1 0 -3.9 0M483.25 205.41a1.95 1.95 0 1 0 3.9 0a1.95 1.95 0 1 0 -3.9 0M483.65 205.06a1.95 1.95 0 1 0 3.9 0a1.95 1.95 0 1 0 -3.9 0M484.05 204.70a1.95 1.95 0 1 0 3.9 0a1.95 1.95 0 1 0 -3.9 0M484.45 204.34a1.95 1.95 0 1 0 3.9 0a1.95 1.95 0 1 0 -3.9 0M484.85 203.98a1.95 1.95 0 1 0 3.9 0a1.95 1.95 0 1 0 -3.9 0M485.25 203.62a1.95 1.95 0 1 0 3.9 0a1.95 1.95 0 1 0 -3.9 0M485.65 203.25a1.95 1.95 0 1 0 3.9 0a1.95 1.95 0 1 0 -3.9 0M486.05 202.88a1.95 1.95 0 1 0 3.9 0a1.95 1.95 0 1 0 -3.9 0M486.45 202.50a1.95 1.95 0 1 0 3.9 0a1.95 1.95 0 1 0 -3.9 0M486.85 202.12a1.95 1.95 0 1 0 3.9 0a1.95 1.95 0 1 0 -3.9 0M487.25 201.74a1.95 1.95 0 1 0 3.9 0a1.95 1.95 0 1 0 -3.9 0M487.65 201.36a1.95 1.95 0 1 0 3.9 0a1.95 1.95 0 1 0 -3.9 0M488.05 200.97a1.95 1.95 0 1 0 3.9 0a1.95 1.95 0 1 0 -3.9 0M488.45 200.58a1.95 1.95 0 1 0 3.9 0a1.95 1.95 0 1 0 -3.9 0M488.85 200.18a1.95 1.95 0 1 0 3.9 0a1.95 1.95 0 1 0 -3.9 0M489.25 199.79a1.95 1.95 0 1 0 3.9 0a1.95 1.95 0 1 0 -3.9 0M489.65 199.39a1.95 1.95 0 1 0 3.9 0a1.95 1.95 0 1 0 -3.9 0M490.05 198.98a1.95 1.95 0 1 0 3.9 0a1.95 1.95 0 1 0 -3.9 0M490.45 198.58a1.95 1.95 0 1 0 3.9 0a1.95 1.95 0 1 0 -3.9 0M490.85 198.17a1.95 1.95 0 1 0 3.9 0a1.95 1.95 0 1 0 -3.9 0M491.25 197.75a1.95 1.95 0 1 0 3.9 0a1.95 1.95 0 1 0 -3.9 0M491.65 197.34a1.95 1.95 0 1 0 3.9 0a1.95 1.95 0 1 0 -3.9 0M492.05 196.92a1.95 1.95 0 1 0 3.9 0a1.95 1.95 0 1 0 -3.9 0M492.45 196.50a1.95 1.95 0 1 0 3.9 0a1.95 1.95 0 1 0 -3.9 0M492.85 196.07a1.95 1.95 0 1 0 3.9 0a1.95 1.95 0 1 0 -3.9 0M493.25 195.64a1.95 1.95 0 1 0 3.9 0a1.95 1.95 0 1 0 -3.9 0M493.65 195.21a1.95 1.95 0 1 0 3.9 0a1.95 1.95 0 1 0 -3.9 0M494.05 194.78a1.95 1.95 0 1 0 3.9 0a1.95 1.95 0 1 0 -3.9 0M494.45 194.34a1.95 1.95 0 1 0 3.9 0a1.95 1.95 0 1 0 -3.9 0M494.85 193.91a1.95 1.95 0 1 0 3.9 0a1.95 1.95 0 1 0 -3.9 0M495.25 193.46a1.95 1.95 0 1 0 3.9 0a1.95 1.95 0 1 0 -3.9 0M495.65 193.02a1.95 1.95 0 1 0 3.9 0a1.95 1.95 0 1 0 -3.9 0M496.05 192.58a1.95 1.95 0 1 0 3.9 0a1.95 1.95 0 1 0 -3.9 0M496.45 192.13a1.95 1.95 0 1 0 3.9 0a1.95 1.95 0 1 0 -3.9 0M496.85 191.68a1.95 1.95 0 1 0 3.9 0a1.95 1.95 0 1 0 -3.9 0M497.25 191.23a1.95 1.95 0 1 0 3.9 0a1.95 1.95 0 1 0 -3.9 0M497.65 190.77a1.95 1.95 0 1 0 3.9 0a1.95 1.95 0 1 0 -3.9 0M498.05 190.32a1.95 1.95 0 1 0 3.9 0a1.95 1.95 0 1 0 -3.9 0M498.45 189.86a1.95 1.95 0 1 0 3.9 0a1.95 1.95 0 1 0 -3.9 0M498.85 189.41a1.95 1.95 0 1 0 3.9 0a1.95 1.95 0 1 0 -3.9 0M499.25 188.95a1.95 1.95 0 1 0 3.9 0a1.95 1.95 0 1 0 -3.9 0M499.65 188.49a1.95 1.95 0 1 0 3.9 0a1.95 1.95 0 1 0 -3.9 0M500.05 188.03a1.95 1.95 0 1 0 3.9 0a1.95 1.95 0 1 0 -3.9 0M500.45 187.57a1.95 1.95 0 1 0 3.9 0a1.95 1.95 0 1 0 -3.9 0M500.85 187.11a1.95 1.95 0 1 0 3.9 0a1.95 1.95 0 1 0 -3.9 0M501.25 186.64a1.95 1.95 0 1 0 3.9 0a1.95 1.95 0 1 0 -3.9 0M501.65 186.18a1.95 1.95 0 1 0 3.9 0a1.95 1.95 0 1 0 -3.9 0M502.05 185.72a1.95 1.95 0 1 0 3.9 0a1.95 1.95 0 1 0 -3.9 0M502.45 185.25a1.95 1.95 0 1 0 3.9 0a1.95 1.95 0 1 0 -3.9 0M502.85 184.79a1.95 1.95 0 1 0 3.9 0a1.95 1.95 0 1 0 -3.9 0M503.25 184.33a1.95 1.95 0 1 0 3.9 0a1.95 1.95 0 1 0 -3.9 0M503.65 183.86a1.95 1.95 0 1 0 3.9 0a1.95 1.95 0 1 0 -3.9 0M504.05 183.40a1.95 1.95 0 1 0 3.9 0a1.95 1.95 0 1 0 -3.9 0M504.45 182.94a1.95 1.95 0 1 0 3.9 0a1.95 1.95 0 1 0 -3.9 0M504.85 182.47a1.95 1.95 0 1 0 3.9 0a1.95 1.95 0 1 0 -3.9 0M505.25 182.01a1.95 1.95 0 1 0 3.9 0a1.95 1.95 0 1 0 -3.9 0M505.65 181.55a1.95 1.95 0 1 0 3.9 0a1.95 1.95 0 1 0 -3.9 0M506.05 181.09a1.95 1.95 0 1 0 3.9 0a1.95 1.95 0 1 0 -3.9 0M506.45 180.63a1.95 1.95 0 1 0 3.9 0a1.95 1.95 0 1 0 -3.9 0M506.85 180.18a1.95 1.95 0 1 0 3.9 0a1.95 1.95 0 1 0 -3.9 0M507.25 179.72a1.95 1.95 0 1 0 3.9 0a1.95 1.95 0 1 0 -3.9 0M507.65 179.26a1.95 1.95 0 1 0 3.9 0a1.95 1.95 0 1 0 -3.9 0M508.05 178.81a1.95 1.95 0 1 0 3.9 0a1.95 1.95 0 1 0 -3.9 0M508.45 178.36a1.95 1.95 0 1 0 3.9 0a1.95 1.95 0 1 0 -3.9 0M508.85 177.91a1.95 1.95 0 1 0 3.9 0a1.95 1.95 0 1 0 -3.9 0M509.25 177.46a1.95 1.95 0 1 0 3.9 0a1.95 1.95 0 1 0 -3.9 0M509.65 177.01a1.95 1.95 0 1 0 3.9 0a1.95 1.95 0 1 0 -3.9 0M510.05 176.57a1.95 1.95 0 1 0 3.9 0a1.95 1.95 0 1 0 -3.9 0M510.45 176.13a1.95 1.95 0 1 0 3.9 0a1.95 1.95 0 1 0 -3.9 0M510.85 175.69a1.95 1.95 0 1 0 3.9 0a1.95 1.95 0 1 0 -3.9 0M511.25 175.25a1.95 1.95 0 1 0 3.9 0a1.95 1.95 0 1 0 -3.9 0M511.65 174.82a1.95 1.95 0 1 0 3.9 0a1.95 1.95 0 1 0 -3.9 0M512.05 174.39a1.95 1.95 0 1 0 3.9 0a1.95 1.95 0 1 0 -3.9 0M512.45 173.96a1.95 1.95 0 1 0 3.9 0a1.95 1.95 0 1 0 -3.9 0M512.85 173.53a1.95 1.95 0 1 0 3.9 0a1.95 1.95 0 1 0 -3.9 0M513.25 173.11a1.95 1.95 0 1 0 3.9 0a1.95 1.95 0 1 0 -3.9 0M513.65 172.69a1.95 1.95 0 1 0 3.9 0a1.95 1.95 0 1 0 -3.9 0M514.05 172.27a1.95 1.95 0 1 0 3.9 0a1.95 1.95 0 1 0 -3.9 0M514.45 171.86a1.95 1.95 0 1 0 3.9 0a1.95 1.95 0 1 0 -3.9 0M514.85 171.45a1.95 1.95 0 1 0 3.9 0a1.95 1.95 0 1 0 -3.9 0M515.25 171.04a1.95 1.95 0 1 0 3.9 0a1.95 1.95 0 1 0 -3.9 0M515.65 170.63a1.95 1.95 0 1 0 3.9 0a1.95 1.95 0 1 0 -3.9 0M516.05 170.23a1.95 1.95 0 1 0 3.9 0a1.95 1.95 0 1 0 -3.9 0M516.45 169.83a1.95 1.95 0 1 0 3.9 0a1.95 1.95 0 1 0 -3.9 0M516.85 169.43a1.95 1.95 0 1 0 3.9 0a1.95 1.95 0 1 0 -3.9 0M517.25 169.04a1.95 1.95 0 1 0 3.9 0a1.95 1.95 0 1 0 -3.9 0M517.65 168.65a1.95 1.95 0 1 0 3.9 0a1.95 1.95 0 1 0 -3.9 0M518.09 168.22a1.95 1.95 0 1 0 3.9 0a1.95 1.95 0 1 0 -3.9 0M518.54 167.78a1.95 1.95 0 1 0 3.9 0a1.95 1.95 0 1 0 -3.9 0M518.81 167.53a1.95 1.95 0 1 0 3.9 0a1.95 1.95 0 1 0 -3.9 0M519.35 167.01a1.95 1.95 0 1 0 3.9 0a1.95 1.95 0 1 0 -3.9 0M519.40 166.96a1.95 1.95 0 1 0 3.9 0a1.95 1.95 0 1 0 -3.9 0M520.17 166.24a1.95 1.95 0 1 0 3.9 0a1.95 1.95 0 1 0 -3.9 0M520.19 166.22a1.95 1.95 0 1 0 3.9 0a1.95 1.95 0 1 0 -3.9 0M520.32 166.10a1.95 1.95 0 1 0 3.9 0a1.95 1.95 0 1 0 -3.9 0M520.40 166.02a1.95 1.95 0 1 0 3.9 0a1.95 1.95 0 1 0 -3.9 0M520.61 165.83a1.95 1.95 0 1 0 3.9 0a1.95 1.95 0 1 0 -3.9 0M520.89 165.57a1.95 1.95 0 1 0 3.9 0a1.95 1.95 0 1 0 -3.9 0M521.19 165.30a1.95 1.95 0 1 0 3.9 0a1.95 1.95 0 1 0 -3.9 0M521.22 165.27a1.95 1.95 0 1 0 3.9 0a1.95 1.95 0 1 0 -3.9 0M521.71 164.83a1.95 1.95 0 1 0 3.9 0a1.95 1.95 0 1 0 -3.9 0M522.04 164.52a1.95 1.95 0 1 0 3.9 0a1.95 1.95 0 1 0 -3.9 0M522.27 164.32a1.95 1.95 0 1 0 3.9 0a1.95 1.95 0 1 0 -3.9 0M522.56 164.06a1.95 1.95 0 1 0 3.9 0a1.95 1.95 0 1 0 -3.9 0M522.89 163.77a1.95 1.95 0 1 0 3.9 0a1.95 1.95 0 1 0 -3.9 0M522.97 163.70a1.95 1.95 0 1 0 3.9 0a1.95 1.95 0 1 0 -3.9 0M523.00 163.67a1.95 1.95 0 1 0 3.9 0a1.95 1.95 0 1 0 -3.9 0M523.18 163.51a1.95 1.95 0 1 0 3.9 0a1.95 1.95 0 1 0 -3.9 0M523.19 163.50a1.95 1.95 0 1 0 3.9 0a1.95 1.95 0 1 0 -3.9 0M523.23 163.47a1.95 1.95 0 1 0 3.9 0a1.95 1.95 0 1 0 -3.9 0M523.39 163.33a1.95 1.95 0 1 0 3.9 0a1.95 1.95 0 1 0 -3.9 0M523.40 163.32a1.95 1.95 0 1 0 3.9 0a1.95 1.95 0 1 0 -3.9 0M523.52 163.22a1.95 1.95 0 1 0 3.9 0a1.95 1.95 0 1 0 -3.9 0M523.97 162.82a1.95 1.95 0 1 0 3.9 0a1.95 1.95 0 1 0 -3.9 0M524.93 161.99a1.95 1.95 0 1 0 3.9 0a1.95 1.95 0 1 0 -3.9 0M525.16 161.81a1.95 1.95 0 1 0 3.9 0a1.95 1.95 0 1 0 -3.9 0M525.35 161.64a1.95 1.95 0 1 0 3.9 0a1.95 1.95 0 1 0 -3.9 0M525.37 161.63a1.95 1.95 0 1 0 3.9 0a1.95 1.95 0 1 0 -3.9 0M525.47 161.54a1.95 1.95 0 1 0 3.9 0a1.95 1.95 0 1 0 -3.9 0M525.50 161.51a1.95 1.95 0 1 0 3.9 0a1.95 1.95 0 1 0 -3.9 0M525.51 161.51a1.95 1.95 0 1 0 3.9 0a1.95 1.95 0 1 0 -3.9 0M525.90 161.18a1.95 1.95 0 1 0 3.9 0a1.95 1.95 0 1 0 -3.9 0M527.26 160.07a1.95 1.95 0 1 0 3.9 0a1.95 1.95 0 1 0 -3.9 0M527.28 160.05a1.95 1.95 0 1 0 3.9 0a1.95 1.95 0 1 0 -3.9 0M527.41 159.95a1.95 1.95 0 1 0 3.9 0a1.95 1.95 0 1 0 -3.9 0M527.56 159.82a1.95 1.95 0 1 0 3.9 0a1.95 1.95 0 1 0 -3.9 0M527.77 159.66a1.95 1.95 0 1 0 3.9 0a1.95 1.95 0 1 0 -3.9 0M527.83 159.60a1.95 1.95 0 1 0 3.9 0a1.95 1.95 0 1 0 -3.9 0M527.89 159.56a1.95 1.95 0 1 0 3.9 0a1.95 1.95 0 1 0 -3.9 0M527.90 159.55a1.95 1.95 0 1 0 3.9 0a1.95 1.95 0 1 0 -3.9 0M528.04 159.44a1.95 1.95 0 1 0 3.9 0a1.95 1.95 0 1 0 -3.9 0M528.76 158.87a1.95 1.95 0 1 0 3.9 0a1.95 1.95 0 1 0 -3.9 0M528.82 158.82a1.95 1.95 0 1 0 3.9 0a1.95 1.95 0 1 0 -3.9 0M528.88 158.78a1.95 1.95 0 1 0 3.9 0a1.95 1.95 0 1 0 -3.9 0M529.83 158.04a1.95 1.95 0 1 0 3.9 0a1.95 1.95 0 1 0 -3.9 0M530.03 157.89a1.95 1.95 0 1 0 3.9 0a1.95 1.95 0 1 0 -3.9 0M530.04 157.88a1.95 1.95 0 1 0 3.9 0a1.95 1.95 0 1 0 -3.9 0M530.07 157.86a1.95 1.95 0 1 0 3.9 0a1.95 1.95 0 1 0 -3.9 0M530.37 157.63a1.95 1.95 0 1 0 3.9 0a1.95 1.95 0 1 0 -3.9 0M530.43 157.58a1.95 1.95 0 1 0 3.9 0a1.95 1.95 0 1 0 -3.9 0M530.97 157.18a1.95 1.95 0 1 0 3.9 0a1.95 1.95 0 1 0 -3.9 0M531.13 157.06a1.95 1.95 0 1 0 3.9 0a1.95 1.95 0 1 0 -3.9 0M531.24 156.97a1.95 1.95 0 1 0 3.9 0a1.95 1.95 0 1 0 -3.9 0M531.46 156.82a1.95 1.95 0 1 0 3.9 0a1.95 1.95 0 1 0 -3.9 0M531.67 156.65a1.95 1.95 0 1 0 3.9 0a1.95 1.95 0 1 0 -3.9 0M531.92 156.48a1.95 1.95 0 1 0 3.9 0a1.95 1.95 0 1 0 -3.9 0M532.10 156.35a1.95 1.95 0 1 0 3.9 0a1.95 1.95 0 1 0 -3.9 0M532.22 156.25a1.95 1.95 0 1 0 3.9 0a1.95 1.95 0 1 0 -3.9 0M532.60 155.98a1.95 1.95 0 1 0 3.9 0a1.95 1.95 0 1 0 -3.9 0M532.68 155.93a1.95 1.95 0 1 0 3.9 0a1.95 1.95 0 1 0 -3.9 0M532.72 155.90a1.95 1.95 0 1 0 3.9 0a1.95 1.95 0 1 0 -3.9 0M532.79 155.84a1.95 1.95 0 1 0 3.9 0a1.95 1.95 0 1 0 -3.9 0M533.22 155.54a1.95 1.95 0 1 0 3.9 0a1.95 1.95 0 1 0 -3.9 0M533.37 155.43a1.95 1.95 0 1 0 3.9 0a1.95 1.95 0 1 0 -3.9 0M533.64 155.24a1.95 1.95 0 1 0 3.9 0a1.95 1.95 0 1 0 -3.9 0M533.80 155.13a1.95 1.95 0 1 0 3.9 0a1.95 1.95 0 1 0 -3.9 0M534.26 154.81a1.95 1.95 0 1 0 3.9 0a1.95 1.95 0 1 0 -3.9 0M534.49 154.65a1.95 1.95 0 1 0 3.9 0a1.95 1.95 0 1 0 -3.9 0M534.56 154.60a1.95 1.95 0 1 0 3.9 0a1.95 1.95 0 1 0 -3.9 0M534.78 154.46a1.95 1.95 0 1 0 3.9 0a1.95 1.95 0 1 0 -3.9 0M534.79 154.45a1.95 1.95 0 1 0 3.9 0a1.95 1.95 0 1 0 -3.9 0M535.05 154.27a1.95 1.95 0 1 0 3.9 0a1.95 1.95 0 1 0 -3.9 0M535.12 154.22a1.95 1.95 0 1 0 3.9 0a1.95 1.95 0 1 0 -3.9 0M535.46 154.00a1.95 1.95 0 1 0 3.9 0a1.95 1.95 0 1 0 -3.9 0M535.51 153.96a1.95 1.95 0 1 0 3.9 0a1.95 1.95 0 1 0 -3.9 0M535.70 153.83a1.95 1.95 0 1 0 3.9 0a1.95 1.95 0 1 0 -3.9 0M535.72 153.82a1.95 1.95 0 1 0 3.9 0a1.95 1.95 0 1 0 -3.9 0M535.75 153.80a1.95 1.95 0 1 0 3.9 0a1.95 1.95 0 1 0 -3.9 0M536.10 153.57a1.95 1.95 0 1 0 3.9 0a1.95 1.95 0 1 0 -3.9 0M536.41 153.36a1.95 1.95 0 1 0 3.9 0a1.95 1.95 0 1 0 -3.9 0M536.50 153.31a1.95 1.95 0 1 0 3.9 0a1.95 1.95 0 1 0 -3.9 0M536.58 153.25a1.95 1.95 0 1 0 3.9 0a1.95 1.95 0 1 0 -3.9 0M536.59 153.24a1.95 1.95 0 1 0 3.9 0a1.95 1.95 0 1 0 -3.9 0M536.72 153.16a1.95 1.95 0 1 0 3.9 0a1.95 1.95 0 1 0 -3.9 0M536.86 153.07a1.95 1.95 0 1 0 3.9 0a1.95 1.95 0 1 0 -3.9 0M537.02 152.97a1.95 1.95 0 1 0 3.9 0a1.95 1.95 0 1 0 -3.9 0M537.38 152.74a1.95 1.95 0 1 0 3.9 0a1.95 1.95 0 1 0 -3.9 0M537.40 152.72a1.95 1.95 0 1 0 3.9 0a1.95 1.95 0 1 0 -3.9 0M537.73 152.52a1.95 1.95 0 1 0 3.9 0a1.95 1.95 0 1 0 -3.9 0M537.80 152.47a1.95 1.95 0 1 0 3.9 0a1.95 1.95 0 1 0 -3.9 0M538.08 152.29a1.95 1.95 0 1 0 3.9 0a1.95 1.95 0 1 0 -3.9 0M538.55 152.00a1.95 1.95 0 1 0 3.9 0a1.95 1.95 0 1 0 -3.9 0M538.80 151.85a1.95 1.95 0 1 0 3.9 0a1.95 1.95 0 1 0 -3.9 0M539.29 151.55a1.95 1.95 0 1 0 3.9 0a1.95 1.95 0 1 0 -3.9 0M539.29 151.55a1.95 1.95 0 1 0 3.9 0a1.95 1.95 0 1 0 -3.9 0M539.32 151.53a1.95 1.95 0 1 0 3.9 0a1.95 1.95 0 1 0 -3.9 0M539.52 151.41a1.95 1.95 0 1 0 3.9 0a1.95 1.95 0 1 0 -3.9 0M539.83 151.22a1.95 1.95 0 1 0 3.9 0a1.95 1.95 0 1 0 -3.9 0M540.01 151.11a1.95 1.95 0 1 0 3.9 0a1.95 1.95 0 1 0 -3.9 0M540.34 150.92a1.95 1.95 0 1 0 3.9 0a1.95 1.95 0 1 0 -3.9 0M541.08 150.49a1.95 1.95 0 1 0 3.9 0a1.95 1.95 0 1 0 -3.9 0M541.34 150.34a1.95 1.95 0 1 0 3.9 0a1.95 1.95 0 1 0 -3.9 0M541.96 149.99a1.95 1.95 0 1 0 3.9 0a1.95 1.95 0 1 0 -3.9 0M542.16 149.88a1.95 1.95 0 1 0 3.9 0a1.95 1.95 0 1 0 -3.9 0M542.18 149.86a1.95 1.95 0 1 0 3.9 0a1.95 1.95 0 1 0 -3.9 0M542.31 149.79a1.95 1.95 0 1 0 3.9 0a1.95 1.95 0 1 0 -3.9 0M542.39 149.75a1.95 1.95 0 1 0 3.9 0a1.95 1.95 0 1 0 -3.9 0M543.23 149.29a1.95 1.95 0 1 0 3.9 0a1.95 1.95 0 1 0 -3.9 0M544.11 148.82a1.95 1.95 0 1 0 3.9 0a1.95 1.95 0 1 0 -3.9 0M544.34 148.70a1.95 1.95 0 1 0 3.9 0a1.95 1.95 0 1 0 -3.9 0M544.81 148.45a1.95 1.95 0 1 0 3.9 0a1.95 1.95 0 1 0 -3.9 0M544.92 148.40a1.95 1.95 0 1 0 3.9 0a1.95 1.95 0 1 0 -3.9 0M545.14 148.28a1.95 1.95 0 1 0 3.9 0a1.95 1.95 0 1 0 -3.9 0M545.57 148.07a1.95 1.95 0 1 0 3.9 0a1.95 1.95 0 1 0 -3.9 0M545.92 147.89a1.95 1.95 0 1 0 3.9 0a1.95 1.95 0 1 0 -3.9 0M545.99 147.86a1.95 1.95 0 1 0 3.9 0a1.95 1.95 0 1 0 -3.9 0M546.43 147.64a1.95 1.95 0 1 0 3.9 0a1.95 1.95 0 1 0 -3.9 0M546.53 147.59a1.95 1.95 0 1 0 3.9 0a1.95 1.95 0 1 0 -3.9 0M546.99 147.37a1.95 1.95 0 1 0 3.9 0a1.95 1.95 0 1 0 -3.9 0M547.55 147.10a1.95 1.95 0 1 0 3.9 0a1.95 1.95 0 1 0 -3.9 0M547.79 146.99a1.95 1.95 0 1 0 3.9 0a1.95 1.95 0 1 0 -3.9 0M547.93 146.93a1.95 1.95 0 1 0 3.9 0a1.95 1.95 0 1 0 -3.9 0M548.13 146.84a1.95 1.95 0 1 0 3.9 0a1.95 1.95 0 1 0 -3.9 0M548.28 146.76a1.95 1.95 0 1 0 3.9 0a1.95 1.95 0 1 0 -3.9 0M548.65 146.60a1.95 1.95 0 1 0 3.9 0a1.95 1.95 0 1 0 -3.9 0M549.41 146.26a1.95 1.95 0 1 0 3.9 0a1.95 1.95 0 1 0 -3.9 0M549.71 146.13a1.95 1.95 0 1 0 3.9 0a1.95 1.95 0 1 0 -3.9 0M549.84 146.07a1.95 1.95 0 1 0 3.9 0a1.95 1.95 0 1 0 -3.9 0M549.90 146.04a1.95 1.95 0 1 0 3.9 0a1.95 1.95 0 1 0 -3.9 0M550.01 146.00a1.95 1.95 0 1 0 3.9 0a1.95 1.95 0 1 0 -3.9 0M550.03 145.99a1.95 1.95 0 1 0 3.9 0a1.95 1.95 0 1 0 -3.9 0M550.85 145.64a1.95 1.95 0 1 0 3.9 0a1.95 1.95 0 1 0 -3.9 0M550.91 145.62a1.95 1.95 0 1 0 3.9 0a1.95 1.95 0 1 0 -3.9 0M551.14 145.52a1.95 1.95 0 1 0 3.9 0a1.95 1.95 0 1 0 -3.9 0M551.35 145.43a1.95 1.95 0 1 0 3.9 0a1.95 1.95 0 1 0 -3.9 0M551.36 145.43a1.95 1.95 0 1 0 3.9 0a1.95 1.95 0 1 0 -3.9 0M551.90 145.21a1.95 1.95 0 1 0 3.9 0a1.95 1.95 0 1 0 -3.9 0M552.67 144.91a1.95 1.95 0 1 0 3.9 0a1.95 1.95 0 1 0 -3.9 0M552.69 144.90a1.95 1.95 0 1 0 3.9 0a1.95 1.95 0 1 0 -3.9 0M553.30 144.67a1.95 1.95 0 1 0 3.9 0a1.95 1.95 0 1 0 -3.9 0M553.78 144.49a1.95 1.95 0 1 0 3.9 0a1.95 1.95 0 1 0 -3.9 0M553.80 144.49a1.95 1.95 0 1 0 3.9 0a1.95 1.95 0 1 0 -3.9 0M553.82 144.48a1.95 1.95 0 1 0 3.9 0a1.95 1.95 0 1 0 -3.9 0M553.98 144.42a1.95 1.95 0 1 0 3.9 0a1.95 1.95 0 1 0 -3.9 0M554.31 144.30a1.95 1.95 0 1 0 3.9 0a1.95 1.95 0 1 0 -3.9 0M554.48 144.24a1.95 1.95 0 1 0 3.9 0a1.95 1.95 0 1 0 -3.9 0M554.70 144.16a1.95 1.95 0 1 0 3.9 0a1.95 1.95 0 1 0 -3.9 0M554.82 144.12a1.95 1.95 0 1 0 3.9 0a1.95 1.95 0 1 0 -3.9 0M555.42 143.91a1.95 1.95 0 1 0 3.9 0a1.95 1.95 0 1 0 -3.9 0M556.36 143.60a1.95 1.95 0 1 0 3.9 0a1.95 1.95 0 1 0 -3.9 0M556.41 143.58a1.95 1.95 0 1 0 3.9 0a1.95 1.95 0 1 0 -3.9 0M556.43 143.57a1.95 1.95 0 1 0 3.9 0a1.95 1.95 0 1 0 -3.9 0M557.18 143.33a1.95 1.95 0 1 0 3.9 0a1.95 1.95 0 1 0 -3.9 0M557.93 143.10a1.95 1.95 0 1 0 3.9 0a1.95 1.95 0 1 0 -3.9 0M557.93 143.10a1.95 1.95 0 1 0 3.9 0a1.95 1.95 0 1 0 -3.9 0M558.41 142.96a1.95 1.95 0 1 0 3.9 0a1.95 1.95 0 1 0 -3.9 0M559.31 142.70a1.95 1.95 0 1 0 3.9 0a1.95 1.95 0 1 0 -3.9 0M559.45 142.66a1.95 1.95 0 1 0 3.9 0a1.95 1.95 0 1 0 -3.9 0M559.89 142.54a1.95 1.95 0 1 0 3.9 0a1.95 1.95 0 1 0 -3.9 0M560.00 142.51a1.95 1.95 0 1 0 3.9 0a1.95 1.95 0 1 0 -3.9 0M560.67 142.33a1.95 1.95 0 1 0 3.9 0a1.95 1.95 0 1 0 -3.9 0M560.74 142.32a1.95 1.95 0 1 0 3.9 0a1.95 1.95 0 1 0 -3.9 0M561.24 142.19a1.95 1.95 0 1 0 3.9 0a1.95 1.95 0 1 0 -3.9 0M561.48 142.13a1.95 1.95 0 1 0 3.9 0a1.95 1.95 0 1 0 -3.9 0M561.69 142.08a1.95 1.95 0 1 0 3.9 0a1.95 1.95 0 1 0 -3.9 0M561.79 142.06a1.95 1.95 0 1 0 3.9 0a1.95 1.95 0 1 0 -3.9 0M561.80 142.05a1.95 1.95 0 1 0 3.9 0a1.95 1.95 0 1 0 -3.9 0M561.99 142.01a1.95 1.95 0 1 0 3.9 0a1.95 1.95 0 1 0 -3.9 0M563.05 141.77a1.95 1.95 0 1 0 3.9 0a1.95 1.95 0 1 0 -3.9 0M563.07 141.76a1.95 1.95 0 1 0 3.9 0a1.95 1.95 0 1 0 -3.9 0M563.62 141.64a1.95 1.95 0 1 0 3.9 0a1.95 1.95 0 1 0 -3.9 0M564.68 141.43a1.95 1.95 0 1 0 3.9 0a1.95 1.95 0 1 0 -3.9 0M565.47 141.28a1.95 1.95 0 1 0 3.9 0a1.95 1.95 0 1 0 -3.9 0M565.90 141.20a1.95 1.95 0 1 0 3.9 0a1.95 1.95 0 1 0 -3.9 0M566.41 141.11a1.95 1.95 0 1 0 3.9 0a1.95 1.95 0 1 0 -3.9 0M568.62 140.78a1.95 1.95 0 1 0 3.9 0a1.95 1.95 0 1 0 -3.9 0M568.73 140.77a1.95 1.95 0 1 0 3.9 0a1.95 1.95 0 1 0 -3.9 0M569.52 140.67a1.95 1.95 0 1 0 3.9 0a1.95 1.95 0 1 0 -3.9 0M569.85 140.63a1.95 1.95 0 1 0 3.9 0a1.95 1.95 0 1 0 -3.9 0M570.20 140.59a1.95 1.95 0 1 0 3.9 0a1.95 1.95 0 1 0 -3.9 0M570.54 140.55a1.95 1.95 0 1 0 3.9 0a1.95 1.95 0 1 0 -3.9 0M570.86 140.52a1.95 1.95 0 1 0 3.9 0a1.95 1.95 0 1 0 -3.9 0M571.08 140.50a1.95 1.95 0 1 0 3.9 0a1.95 1.95 0 1 0 -3.9 0M571.26 140.48a1.95 1.95 0 1 0 3.9 0a1.95 1.95 0 1 0 -3.9 0M571.47 140.46a1.95 1.95 0 1 0 3.9 0a1.95 1.95 0 1 0 -3.9 0M571.56 140.45a1.95 1.95 0 1 0 3.9 0a1.95 1.95 0 1 0 -3.9 0M572.37 140.39a1.95 1.95 0 1 0 3.9 0a1.95 1.95 0 1 0 -3.9 0M573.13 140.33a1.95 1.95 0 1 0 3.9 0a1.95 1.95 0 1 0 -3.9 0M573.45 140.31a1.95 1.95 0 1 0 3.9 0a1.95 1.95 0 1 0 -3.9 0M573.89 140.28a1.95 1.95 0 1 0 3.9 0a1.95 1.95 0 1 0 -3.9 0M574.33 140.25a1.95 1.95 0 1 0 3.9 0a1.95 1.95 0 1 0 -3.9 0M574.54 140.24a1.95 1.95 0 1 0 3.9 0a1.95 1.95 0 1 0 -3.9 0M574.83 140.23a1.95 1.95 0 1 0 3.9 0a1.95 1.95 0 1 0 -3.9 0M574.86 140.23a1.95 1.95 0 1 0 3.9 0a1.95 1.95 0 1 0 -3.9 0M574.91 140.23a1.95 1.95 0 1 0 3.9 0a1.95 1.95 0 1 0 -3.9 0M575.97 140.18a1.95 1.95 0 1 0 3.9 0a1.95 1.95 0 1 0 -3.9 0M576.49 140.17a1.95 1.95 0 1 0 3.9 0a1.95 1.95 0 1 0 -3.9 0M576.56 140.17a1.95 1.95 0 1 0 3.9 0a1.95 1.95 0 1 0 -3.9 0M576.99 140.16a1.95 1.95 0 1 0 3.9 0a1.95 1.95 0 1 0 -3.9 0M577.04 140.15a1.95 1.95 0 1 0 3.9 0a1.95 1.95 0 1 0 -3.9 0M577.11 140.15a1.95 1.95 0 1 0 3.9 0a1.95 1.95 0 1 0 -3.9 0M577.40 140.15a1.95 1.95 0 1 0 3.9 0a1.95 1.95 0 1 0 -3.9 0M577.46 140.15a1.95 1.95 0 1 0 3.9 0a1.95 1.95 0 1 0 -3.9 0M577.83 140.14a1.95 1.95 0 1 0 3.9 0a1.95 1.95 0 1 0 -3.9 0M578.15 140.14a1.95 1.95 0 1 0 3.9 0a1.95 1.95 0 1 0 -3.9 0M579.12 140.14a1.95 1.95 0 1 0 3.9 0a1.95 1.95 0 1 0 -3.9 0M579.20 140.14a1.95 1.95 0 1 0 3.9 0a1.95 1.95 0 1 0 -3.9 0M579.51 140.14a1.95 1.95 0 1 0 3.9 0a1.95 1.95 0 1 0 -3.9 0M579.55 140.14a1.95 1.95 0 1 0 3.9 0a1.95 1.95 0 1 0 -3.9 0M581.06 140.16a1.95 1.95 0 1 0 3.9 0a1.95 1.95 0 1 0 -3.9 0M581.25 140.17a1.95 1.95 0 1 0 3.9 0a1.95 1.95 0 1 0 -3.9 0M581.38 140.17a1.95 1.95 0 1 0 3.9 0a1.95 1.95 0 1 0 -3.9 0M581.45 140.17a1.95 1.95 0 1 0 3.9 0a1.95 1.95 0 1 0 -3.9 0M581.46 140.17a1.95 1.95 0 1 0 3.9 0a1.95 1.95 0 1 0 -3.9 0M581.82 140.18a1.95 1.95 0 1 0 3.9 0a1.95 1.95 0 1 0 -3.9 0M583.26 140.24a1.95 1.95 0 1 0 3.9 0a1.95 1.95 0 1 0 -3.9 0M583.31 140.24a1.95 1.95 0 1 0 3.9 0a1.95 1.95 0 1 0 -3.9 0M583.95 140.27a1.95 1.95 0 1 0 3.9 0a1.95 1.95 0 1 0 -3.9 0M590.35 140.77a1.95 1.95 0 1 0 3.9 0a1.95 1.95 0 1 0 -3.9 0M591.05 140.84a1.95 1.95 0 1 0 3.9 0a1.95 1.95 0 1 0 -3.9 0M592.25 140.98a1.95 1.95 0 1 0 3.9 0a1.95 1.95 0 1 0 -3.9 0M593.55 141.13a1.95 1.95 0 1 0 3.9 0a1.95 1.95 0 1 0 -3.9 0M594.35 141.23a1.95 1.95 0 1 0 3.9 0a1.95 1.95 0 1 0 -3.9 0M595.65 141.39a1.95 1.95 0 1 0 3.9 0a1.95 1.95 0 1 0 -3.9 0M596.65 141.53a1.95 1.95 0 1 0 3.9 0a1.95 1.95 0 1 0 -3.9 0M597.85 141.69a1.95 1.95 0 1 0 3.9 0a1.95 1.95 0 1 0 -3.9 0M599.05 141.86a1.95 1.95 0 1 0 3.9 0a1.95 1.95 0 1 0 -3.9 0M602.15 142.33a1.95 1.95 0 1 0 3.9 0a1.95 1.95 0 1 0 -3.9 0M607.25 143.13a1.95 1.95 0 1 0 3.9 0a1.95 1.95 0 1 0 -3.9 0M608.55 143.33a1.95 1.95 0 1 0 3.9 0a1.95 1.95 0 1 0 -3.9 0M610.35 143.62a1.95 1.95 0 1 0 3.9 0a1.95 1.95 0 1 0 -3.9 0M611.45 143.79a1.95 1.95 0 1 0 3.9 0a1.95 1.95 0 1 0 -3.9 0M613.15 144.05a1.95 1.95 0 1 0 3.9 0a1.95 1.95 0 1 0 -3.9 0M614.35 144.23a1.95 1.95 0 1 0 3.9 0a1.95 1.95 0 1 0 -3.9 0M615.95 144.48a1.95 1.95 0 1 0 3.9 0a1.95 1.95 0 1 0 -3.9 0M617.25 144.67a1.95 1.95 0 1 0 3.9 0a1.95 1.95 0 1 0 -3.9 0M618.55 144.87a1.95 1.95 0 1 0 3.9 0a1.95 1.95 0 1 0 -3.9 0M625.35 145.89a1.95 1.95 0 1 0 3.9 0a1.95 1.95 0 1 0 -3.9 0M627.65 146.23a1.95 1.95 0 1 0 3.9 0a1.95 1.95 0 1 0 -3.9 0M632.75 147.01a1.95 1.95 0 1 0 3.9 0a1.95 1.95 0 1 0 -3.9 0M636.25 147.56a1.95 1.95 0 1 0 3.9 0a1.95 1.95 0 1 0 -3.9 0M642.15 148.53a1.95 1.95 0 1 0 3.9 0a1.95 1.95 0 1 0 -3.9 0M647.15 149.40a1.95 1.95 0 1 0 3.9 0a1.95 1.95 0 1 0 -3.9 0M669.65 154.30a1.95 1.95 0 1 0 3.9 0a1.95 1.95 0 1 0 -3.9 0M672.25 155.01a1.95 1.95 0 1 0 3.9 0a1.95 1.95 0 1 0 -3.9 0" fill="#f00" stroke="none" stroke-width="0"/>
<rect x="45.5" y="24.2" width="289.0" height="252.10000000000002" fill="none" stroke="#4d4d4d" stroke-width="0.9"/><path d="M56.20 276.3V282.6M97.95 276.3V282.6M139.70 276.3V282.6M181.45 276.3V282.6M223.20 276.3V282.6M264.95 276.3V282.6M306.70 276.3V282.6M45.5 263.30H39.2M45.5 184.30H39.2M45.5 105.30H39.2M45.5 26.30H39.2" stroke="#4d4d4d" stroke-width="0.9" fill="none"/>
<rect x="394.8" y="24.2" width="289.7" height="252.10000000000002" fill="none" stroke="#4d4d4d" stroke-width="0.9"/><path d="M405.50 276.3V282.6M447.25 276.3V282.6M489.00 276.3V282.6M530.75 276.3V282.6M572.50 276.3V282.6M614.25 276.3V282.6M656.00 276.3V282.6M394.8 271.70H388.5M394.8 234.99H388.5M394.8 198.28H388.5M394.8 161.57H388.5M394.8 124.86H388.5M394.8 88.15H388.5M394.8 51.44H388.5" stroke="#4d4d4d" stroke-width="0.9" fill="none"/>
<text x="50.7" y="13.6" font-size="19" font-family="Liberation Sans, sans-serif" stroke="#1a1a1a" stroke-width="0.3" fill="#1a1a1a">(a)</text>
<text x="398.4" y="13.6" font-size="19" font-family="Liberation Sans, sans-serif" stroke="#1a1a1a" stroke-width="0.3" fill="#1a1a1a">(b)</text>
<text x="56.20" y="298.6" font-size="10.1" text-anchor="middle" font-family="Liberation Sans, sans-serif" stroke="#1a1a1a" stroke-width="0.3" fill="#1a1a1a">30</text>
<text x="405.50" y="298.6" font-size="10.1" text-anchor="middle" font-family="Liberation Sans, sans-serif" stroke="#1a1a1a" stroke-width="0.3" fill="#1a1a1a">30</text>
<text x="97.95" y="298.6" font-size="10.1" text-anchor="middle" font-family="Liberation Sans, sans-serif" stroke="#1a1a1a" stroke-width="0.3" fill="#1a1a1a">35</text>
<text x="447.25" y="298.6" font-size="10.1" text-anchor="middle" font-family="Liberation Sans, sans-serif" stroke="#1a1a1a" stroke-width="0.3" fill="#1a1a1a">35</text>
<text x="139.70" y="298.6" font-size="10.1" text-anchor="middle" font-family="Liberation Sans, sans-serif" stroke="#1a1a1a" stroke-width="0.3" fill="#1a1a1a">40</text>
<text x="489.00" y="298.6" font-size="10.1" text-anchor="middle" font-family="Liberation Sans, sans-serif" stroke="#1a1a1a" stroke-width="0.3" fill="#1a1a1a">40</text>
<text x="181.45" y="298.6" font-size="10.1" text-anchor="middle" font-family="Liberation Sans, sans-serif" stroke="#1a1a1a" stroke-width="0.3" fill="#1a1a1a">45</text>
<text x="530.75" y="298.6" font-size="10.1" text-anchor="middle" font-family="Liberation Sans, sans-serif" stroke="#1a1a1a" stroke-width="0.3" fill="#1a1a1a">45</text>
<text x="223.20" y="298.6" font-size="10.1" text-anchor="middle" font-family="Liberation Sans, sans-serif" stroke="#1a1a1a" stroke-width="0.3" fill="#1a1a1a">50</text>
<text x="572.50" y="298.6" font-size="10.1" text-anchor="middle" font-family="Liberation Sans, sans-serif" stroke="#1a1a1a" stroke-width="0.3" fill="#1a1a1a">50</text>
<text x="264.95" y="298.6" font-size="10.1" text-anchor="middle" font-family="Liberation Sans, sans-serif" stroke="#1a1a1a" stroke-width="0.3" fill="#1a1a1a">55</text>
<text x="614.25" y="298.6" font-size="10.1" text-anchor="middle" font-family="Liberation Sans, sans-serif" stroke="#1a1a1a" stroke-width="0.3" fill="#1a1a1a">55</text>
<text x="306.70" y="298.6" font-size="10.1" text-anchor="middle" font-family="Liberation Sans, sans-serif" stroke="#1a1a1a" stroke-width="0.3" fill="#1a1a1a">60</text>
<text x="656.00" y="298.6" font-size="10.1" text-anchor="middle" font-family="Liberation Sans, sans-serif" stroke="#1a1a1a" stroke-width="0.3" fill="#1a1a1a">60</text>
<text transform="translate(31.2 263.30) rotate(-90)" font-size="10.1" text-anchor="middle" font-family="Liberation Sans, sans-serif" stroke="#1a1a1a" stroke-width="0.3" fill="#1a1a1a">0.5</text>
<text transform="translate(31.2 184.30) rotate(-90)" font-size="10.1" text-anchor="middle" font-family="Liberation Sans, sans-serif" stroke="#1a1a1a" stroke-width="0.3" fill="#1a1a1a">1.0</text>
<text transform="translate(31.2 105.30) rotate(-90)" font-size="10.1" text-anchor="middle" font-family="Liberation Sans, sans-serif" stroke="#1a1a1a" stroke-width="0.3" fill="#1a1a1a">1.5</text>
<text transform="translate(31.2 26.30) rotate(-90)" font-size="10.1" text-anchor="middle" font-family="Liberation Sans, sans-serif" stroke="#1a1a1a" stroke-width="0.3" fill="#1a1a1a">2.0</text>
<text transform="translate(381.3 271.70) rotate(-90)" font-size="10.1" text-anchor="middle" font-family="Liberation Sans, sans-serif" stroke="#1a1a1a" stroke-width="0.3" fill="#1a1a1a">0.95</text>
<text transform="translate(381.3 234.99) rotate(-90)" font-size="10.1" text-anchor="middle" font-family="Liberation Sans, sans-serif" stroke="#1a1a1a" stroke-width="0.3" fill="#1a1a1a">1.00</text>
<text transform="translate(381.3 198.28) rotate(-90)" font-size="10.1" text-anchor="middle" font-family="Liberation Sans, sans-serif" stroke="#1a1a1a" stroke-width="0.3" fill="#1a1a1a">1.05</text>
<text transform="translate(381.3 161.57) rotate(-90)" font-size="10.1" text-anchor="middle" font-family="Liberation Sans, sans-serif" stroke="#1a1a1a" stroke-width="0.3" fill="#1a1a1a">1.10</text>
<text transform="translate(381.3 124.86) rotate(-90)" font-size="10.1" text-anchor="middle" font-family="Liberation Sans, sans-serif" stroke="#1a1a1a" stroke-width="0.3" fill="#1a1a1a">1.15</text>
<text transform="translate(381.3 88.15) rotate(-90)" font-size="10.1" text-anchor="middle" font-family="Liberation Sans, sans-serif" stroke="#1a1a1a" stroke-width="0.3" fill="#1a1a1a">1.20</text>
<text transform="translate(381.3 51.44) rotate(-90)" font-size="10.1" text-anchor="middle" font-family="Liberation Sans, sans-serif" stroke="#1a1a1a" stroke-width="0.3" fill="#1a1a1a">1.25</text>
<text x="181.6" y="316.6" font-size="11.85" text-anchor="middle" font-family="Liberation Sans, sans-serif" stroke="#1a1a1a" stroke-width="0.3" fill="#1a1a1a">Body mass index (kg/m<tspan font-size="6.4" dy="-3.6" dx="0.3">2</tspan><tspan dy="3.6" dx="0.3">)</tspan></text>
<text x="526.7" y="316.4" font-size="11.85" text-anchor="middle" font-family="Liberation Sans, sans-serif" stroke="#1a1a1a" stroke-width="0.3" fill="#1a1a1a">Body mass index (kg/m<tspan font-size="6.4" dy="-3.6" dx="0.3">2</tspan><tspan dy="3.6" dx="0.3">)</tspan></text>
<text transform="translate(10.0 151.4) rotate(-90)" font-size="11.85" text-anchor="middle" font-family="Liberation Sans, sans-serif" stroke="#1a1a1a" stroke-width="0.3" fill="#1a1a1a">Lumbar bone mineral density (g/cm<tspan font-size="6.4" dy="-3.6" dx="0.3">2</tspan><tspan dy="3.6" dx="0.3">)</tspan></text>
<text transform="translate(356.5 155.4) rotate(-90)" font-size="11.85" text-anchor="middle" font-family="Liberation Sans, sans-serif" stroke="#1a1a1a" stroke-width="0.3" fill="#1a1a1a">Lumbar bone mineral density (g/cm<tspan font-size="6.4" dy="-3.6" dx="0.3">2</tspan><tspan dy="3.6" dx="0.3">)</tspan></text>
</svg>
</body></html>
